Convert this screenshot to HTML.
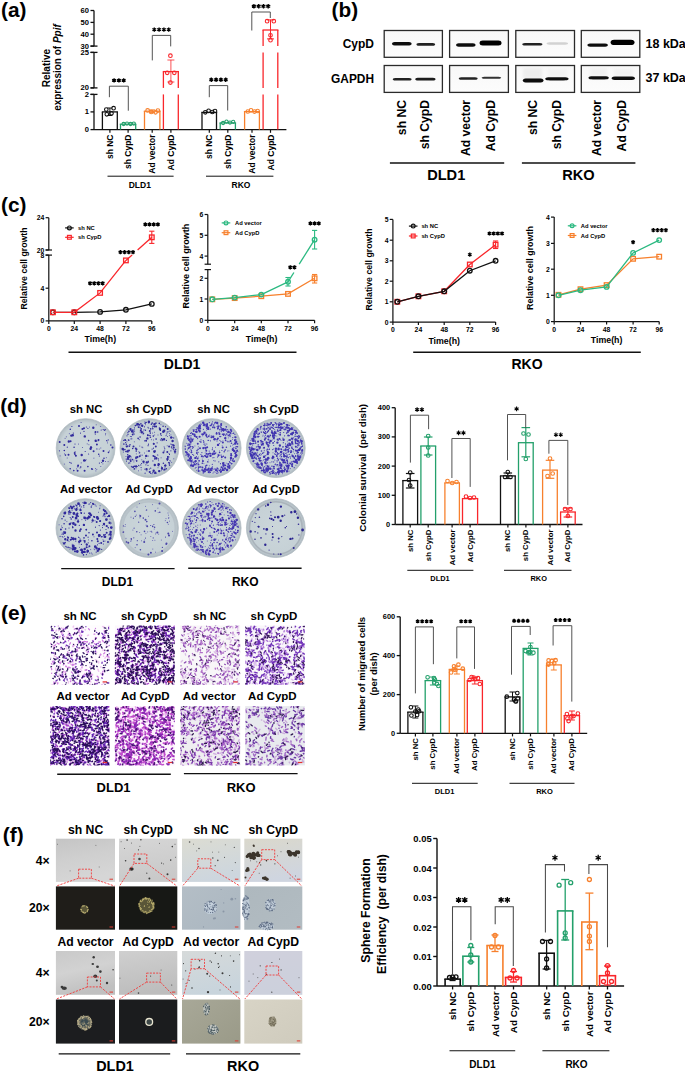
<!DOCTYPE html>
<html><head><meta charset="utf-8"><style>
html,body{margin:0;padding:0;background:#fff;width:685px;height:1073px;overflow:hidden}
svg{display:block}
text{font-family:"Liberation Sans", sans-serif}
</style></head><body>
<svg width="685" height="1073" viewBox="0 0 685 1073">
<rect width="685" height="1073" fill="#fff"/>
<text x="1" y="9.4" font-size="20.8" font-weight="bold" dominant-baseline="central">(a)</text>
<text x="331.6" y="9.3" font-size="20.8" font-weight="bold" dominant-baseline="central">(b)</text>
<text x="1" y="204.6" font-size="20.8" font-weight="bold" dominant-baseline="central">(c)</text>
<text x="0.2" y="405" font-size="20.8" font-weight="bold" dominant-baseline="central">(d)</text>
<text x="1" y="612.4" font-size="20.8" font-weight="bold" dominant-baseline="central">(e)</text>
<text x="2.8" y="834.8" font-size="20.8" font-weight="bold" dominant-baseline="central">(f)</text>
<line x1="94" y1="10.5" x2="94" y2="46.1" stroke="#111" stroke-width="1.3"/>
<line x1="94" y1="52.4" x2="94" y2="87.9" stroke="#111" stroke-width="1.3"/>
<line x1="94" y1="94.4" x2="94" y2="129.6" stroke="#111" stroke-width="1.3"/>
<line x1="90.5" y1="10.5" x2="94" y2="10.5" stroke="#111" stroke-width="1.3"/>
<text x="89" y="10.5" font-size="7.6" text-anchor="end" font-weight="bold" fill="#000" dominant-baseline="central">60</text>
<line x1="90.5" y1="22.4" x2="94" y2="22.4" stroke="#111" stroke-width="1.3"/>
<text x="89" y="22.4" font-size="7.6" text-anchor="end" font-weight="bold" fill="#000" dominant-baseline="central">50</text>
<line x1="90.5" y1="34.2" x2="94" y2="34.2" stroke="#111" stroke-width="1.3"/>
<text x="89" y="34.2" font-size="7.6" text-anchor="end" font-weight="bold" fill="#000" dominant-baseline="central">40</text>
<line x1="90.5" y1="46.1" x2="94" y2="46.1" stroke="#111" stroke-width="1.3"/>
<text x="89" y="46.1" font-size="7.6" text-anchor="end" font-weight="bold" fill="#000" dominant-baseline="central">30</text>
<line x1="90.5" y1="52.4" x2="94" y2="52.4" stroke="#111" stroke-width="1.3"/>
<text x="89" y="52.4" font-size="7.6" text-anchor="end" font-weight="bold" fill="#000" dominant-baseline="central">25</text>
<line x1="90.5" y1="87.9" x2="94" y2="87.9" stroke="#111" stroke-width="1.3"/>
<text x="89" y="87.9" font-size="7.6" text-anchor="end" font-weight="bold" fill="#000" dominant-baseline="central">20</text>
<line x1="90.5" y1="94.4" x2="94" y2="94.4" stroke="#111" stroke-width="1.3"/>
<text x="89" y="94.4" font-size="7.6" text-anchor="end" font-weight="bold" fill="#000" dominant-baseline="central">2</text>
<line x1="90.5" y1="111.9" x2="94" y2="111.9" stroke="#111" stroke-width="1.3"/>
<text x="89" y="111.9" font-size="7.6" text-anchor="end" font-weight="bold" fill="#000" dominant-baseline="central">1</text>
<line x1="90.5" y1="129.6" x2="94" y2="129.6" stroke="#111" stroke-width="1.3"/>
<text x="89" y="129.6" font-size="7.6" text-anchor="end" font-weight="bold" fill="#000" dominant-baseline="central">0</text>
<line x1="90.5" y1="46.1" x2="97.5" y2="46.1" stroke="#111" stroke-width="1.3"/>
<line x1="90.5" y1="52.4" x2="97.5" y2="52.4" stroke="#111" stroke-width="1.3"/>
<line x1="90.5" y1="87.9" x2="97.5" y2="87.9" stroke="#111" stroke-width="1.3"/>
<line x1="90.5" y1="94.4" x2="97.5" y2="94.4" stroke="#111" stroke-width="1.3"/>
<line x1="94" y1="129.6" x2="286.4" y2="129.6" stroke="#111" stroke-width="1.3"/>
<line x1="109.9" y1="129.6" x2="109.9" y2="132.8" stroke="#111" stroke-width="1.2"/>
<line x1="128.1" y1="129.6" x2="128.1" y2="132.8" stroke="#111" stroke-width="1.2"/>
<line x1="152.2" y1="129.6" x2="152.2" y2="132.8" stroke="#111" stroke-width="1.2"/>
<line x1="170.9" y1="129.6" x2="170.9" y2="132.8" stroke="#111" stroke-width="1.2"/>
<line x1="209.3" y1="129.6" x2="209.3" y2="132.8" stroke="#111" stroke-width="1.2"/>
<line x1="227.8" y1="129.6" x2="227.8" y2="132.8" stroke="#111" stroke-width="1.2"/>
<line x1="252" y1="129.6" x2="252" y2="132.8" stroke="#111" stroke-width="1.2"/>
<line x1="270.5" y1="129.6" x2="270.5" y2="132.8" stroke="#111" stroke-width="1.2"/>
<line x1="101.8" y1="111.9" x2="118" y2="111.9" stroke="#111" stroke-width="1.3"/>
<line x1="102.4" y1="111.9" x2="102.4" y2="129.6" stroke="#111" stroke-width="1.3"/>
<line x1="117.3" y1="111.9" x2="117.3" y2="129.6" stroke="#111" stroke-width="1.3"/>
<line x1="119.8" y1="124.2" x2="136.3" y2="124.2" stroke="#23a06b" stroke-width="1.3"/>
<line x1="120.5" y1="124.2" x2="120.5" y2="129.6" stroke="#23a06b" stroke-width="1.3"/>
<line x1="135.7" y1="124.2" x2="135.7" y2="129.6" stroke="#23a06b" stroke-width="1.3"/>
<line x1="143.8" y1="111.2" x2="160.6" y2="111.2" stroke="#f7802d" stroke-width="1.3"/>
<line x1="144.5" y1="111.2" x2="144.5" y2="129.6" stroke="#f7802d" stroke-width="1.3"/>
<line x1="159.9" y1="111.2" x2="159.9" y2="129.6" stroke="#f7802d" stroke-width="1.3"/>
<line x1="162.8" y1="71.6" x2="179" y2="71.6" stroke="#f9262b" stroke-width="1.3"/>
<line x1="163.4" y1="71.6" x2="163.4" y2="87.9" stroke="#f9262b" stroke-width="1.3"/>
<line x1="178.3" y1="71.6" x2="178.3" y2="87.9" stroke="#f9262b" stroke-width="1.3"/>
<line x1="163.4" y1="94.4" x2="163.4" y2="129.6" stroke="#f9262b" stroke-width="1.3"/>
<line x1="178.3" y1="94.4" x2="178.3" y2="129.6" stroke="#f9262b" stroke-width="1.3"/>
<line x1="201.3" y1="112.4" x2="217.2" y2="112.4" stroke="#111" stroke-width="1.3"/>
<line x1="202" y1="112.4" x2="202" y2="129.6" stroke="#111" stroke-width="1.3"/>
<line x1="216.5" y1="112.4" x2="216.5" y2="129.6" stroke="#111" stroke-width="1.3"/>
<line x1="219.5" y1="122.9" x2="236.1" y2="122.9" stroke="#23a06b" stroke-width="1.3"/>
<line x1="220.2" y1="122.9" x2="220.2" y2="129.6" stroke="#23a06b" stroke-width="1.3"/>
<line x1="235.4" y1="122.9" x2="235.4" y2="129.6" stroke="#23a06b" stroke-width="1.3"/>
<line x1="243.9" y1="111.6" x2="260" y2="111.6" stroke="#f7802d" stroke-width="1.3"/>
<line x1="244.6" y1="111.6" x2="244.6" y2="129.6" stroke="#f7802d" stroke-width="1.3"/>
<line x1="259.4" y1="111.6" x2="259.4" y2="129.6" stroke="#f7802d" stroke-width="1.3"/>
<line x1="262.5" y1="30" x2="278.4" y2="30" stroke="#f9262b" stroke-width="1.3"/>
<line x1="263.1" y1="30" x2="263.1" y2="46.1" stroke="#f9262b" stroke-width="1.3"/>
<line x1="277.8" y1="30" x2="277.8" y2="46.1" stroke="#f9262b" stroke-width="1.3"/>
<line x1="263.1" y1="52.4" x2="263.1" y2="87.9" stroke="#f9262b" stroke-width="1.3"/>
<line x1="277.8" y1="52.4" x2="277.8" y2="87.9" stroke="#f9262b" stroke-width="1.3"/>
<line x1="263.1" y1="94.4" x2="263.1" y2="129.6" stroke="#f9262b" stroke-width="1.3"/>
<line x1="277.8" y1="94.4" x2="277.8" y2="129.6" stroke="#f9262b" stroke-width="1.3"/>
<line x1="109.9" y1="108" x2="109.9" y2="115.5" stroke="#111" stroke-width="1"/>
<line x1="107.4" y1="108" x2="112.4" y2="108" stroke="#111" stroke-width="1"/>
<line x1="107.4" y1="115.5" x2="112.4" y2="115.5" stroke="#111" stroke-width="1"/>
<circle cx="106.3" cy="109.6" r="1.8" fill="none" stroke="#111" stroke-width="1.1"/>
<circle cx="113.6" cy="108.2" r="1.8" fill="none" stroke="#111" stroke-width="1.1"/>
<circle cx="106.8" cy="114.3" r="1.8" fill="none" stroke="#111" stroke-width="1.1"/>
<circle cx="111.5" cy="113.3" r="1.8" fill="none" stroke="#111" stroke-width="1.1"/>
<circle cx="123.6" cy="124" r="1.6" fill="none" stroke="#23a06b" stroke-width="1.1"/>
<circle cx="127" cy="123.6" r="1.6" fill="none" stroke="#23a06b" stroke-width="1.1"/>
<circle cx="130.5" cy="124" r="1.6" fill="none" stroke="#23a06b" stroke-width="1.1"/>
<circle cx="133.8" cy="123.6" r="1.6" fill="none" stroke="#23a06b" stroke-width="1.1"/>
<line x1="152.2" y1="109.9" x2="152.2" y2="112.6" stroke="#f7802d" stroke-width="1"/>
<line x1="149.2" y1="109.9" x2="155.2" y2="109.9" stroke="#f7802d" stroke-width="1"/>
<line x1="149.2" y1="112.6" x2="155.2" y2="112.6" stroke="#f7802d" stroke-width="1"/>
<circle cx="147.6" cy="110.4" r="1.8" fill="none" stroke="#f7802d" stroke-width="1.1"/>
<circle cx="151.2" cy="112" r="1.8" fill="none" stroke="#f7802d" stroke-width="1.1"/>
<circle cx="155.5" cy="112.3" r="1.8" fill="none" stroke="#f7802d" stroke-width="1.1"/>
<circle cx="157.9" cy="110.6" r="1.8" fill="none" stroke="#f7802d" stroke-width="1.1"/>
<line x1="170.9" y1="60" x2="170.9" y2="82" stroke="#f9262b" stroke-width="0.8"/>
<line x1="167.4" y1="60" x2="174.4" y2="60" stroke="#f9262b" stroke-width="0.8"/>
<line x1="167.4" y1="82" x2="174.4" y2="82" stroke="#f9262b" stroke-width="0.8"/>
<circle cx="170.4" cy="55.7" r="1.8" fill="none" stroke="#f9262b" stroke-width="1.1"/>
<circle cx="167.2" cy="72.8" r="1.8" fill="none" stroke="#f9262b" stroke-width="1.1"/>
<circle cx="174.3" cy="72.8" r="1.8" fill="none" stroke="#f9262b" stroke-width="1.1"/>
<circle cx="170.4" cy="82.6" r="1.8" fill="none" stroke="#f9262b" stroke-width="1.1"/>
<circle cx="205.3" cy="112.3" r="1.8" fill="none" stroke="#111" stroke-width="1.1"/>
<circle cx="208.6" cy="110.8" r="1.8" fill="none" stroke="#111" stroke-width="1.1"/>
<circle cx="212.3" cy="112" r="1.8" fill="none" stroke="#111" stroke-width="1.1"/>
<circle cx="215" cy="111" r="1.8" fill="none" stroke="#111" stroke-width="1.1"/>
<circle cx="223.1" cy="123" r="1.6" fill="none" stroke="#23a06b" stroke-width="1.1"/>
<circle cx="226.5" cy="121.6" r="1.6" fill="none" stroke="#23a06b" stroke-width="1.1"/>
<circle cx="230" cy="122.6" r="1.6" fill="none" stroke="#23a06b" stroke-width="1.1"/>
<circle cx="233.2" cy="121.8" r="1.6" fill="none" stroke="#23a06b" stroke-width="1.1"/>
<circle cx="247.8" cy="111.5" r="1.8" fill="none" stroke="#f7802d" stroke-width="1.1"/>
<circle cx="251" cy="110.3" r="1.8" fill="none" stroke="#f7802d" stroke-width="1.1"/>
<circle cx="254.5" cy="111.6" r="1.8" fill="none" stroke="#f7802d" stroke-width="1.1"/>
<circle cx="257.6" cy="111" r="1.8" fill="none" stroke="#f7802d" stroke-width="1.1"/>
<line x1="270.5" y1="19.9" x2="270.5" y2="38.9" stroke="#f9262b" stroke-width="1"/>
<line x1="267" y1="19.9" x2="274" y2="19.9" stroke="#f9262b" stroke-width="1"/>
<line x1="267" y1="38.9" x2="274" y2="38.9" stroke="#f9262b" stroke-width="1"/>
<circle cx="267.1" cy="21.2" r="1.8" fill="none" stroke="#f9262b" stroke-width="1.1"/>
<circle cx="273.8" cy="21.2" r="1.8" fill="none" stroke="#f9262b" stroke-width="1.1"/>
<circle cx="270.5" cy="35.3" r="1.8" fill="none" stroke="#f9262b" stroke-width="1.1"/>
<circle cx="270.5" cy="40.2" r="1.8" fill="none" stroke="#f9262b" stroke-width="1.1"/>
<polyline points="109.4,97.2 109.4,86.2 128.3,86.2 128.3,110.7" stroke="#4a4a4a" stroke-width="0.95" fill="none"/>
<path d="M114.1 78.2L114.1 82.6M112.1 79.3L116 81.5M116 79.3L112.1 81.5M118.9 78.2L118.9 82.6M116.9 79.3L120.8 81.5M120.8 79.3L116.9 81.5M123.7 78.2L123.7 82.6M121.7 79.3L125.6 81.5M125.6 79.3L121.7 81.5" stroke="#000" stroke-width="1.35" fill="none"/>
<polyline points="152.3,60.4 152.3,35.4 170.7,35.4 170.7,46.4" stroke="#4a4a4a" stroke-width="0.95" fill="none"/>
<path d="M154.3 27.4L154.3 31.8M152.4 28.5L156.2 30.7M156.2 28.5L152.4 30.7M159.1 27.4L159.1 31.8M157.2 28.5L161 30.7M161 28.5L157.2 30.7M163.9 27.4L163.9 31.8M162 28.5L165.8 30.7M165.8 28.5L162 30.7M168.7 27.4L168.7 31.8M166.8 28.5L170.6 30.7M170.6 28.5L166.8 30.7" stroke="#000" stroke-width="1.35" fill="none"/>
<polyline points="209.3,97.2 209.3,85.6 227.7,85.6 227.7,110.5" stroke="#4a4a4a" stroke-width="0.95" fill="none"/>
<path d="M211.3 77.6L211.3 82M209.4 78.7L213.2 80.9M213.2 78.7L209.4 80.9M216.1 77.6L216.1 82M214.2 78.7L218 80.9M218 78.7L214.2 80.9M220.9 77.6L220.9 82M219 78.7L222.8 80.9M222.8 78.7L219 80.9M225.7 77.6L225.7 82M223.8 78.7L227.6 80.9M227.6 78.7L223.8 80.9" stroke="#000" stroke-width="1.35" fill="none"/>
<polyline points="251.8,30.5 251.8,12 270.3,12 270.3,18" stroke="#4a4a4a" stroke-width="0.95" fill="none"/>
<path d="M253.9 4L253.9 8.4M251.9 5.1L255.8 7.3M255.8 5.1L251.9 7.3M258.7 4L258.7 8.4M256.7 5.1L260.6 7.3M260.6 5.1L256.7 7.3M263.5 4L263.5 8.4M261.5 5.1L265.4 7.3M265.4 5.1L261.5 7.3M268.2 4L268.2 8.4M266.3 5.1L270.2 7.3M270.2 5.1L266.3 7.3" stroke="#000" stroke-width="1.35" fill="none"/>
<text x="46" y="68" font-size="10" text-anchor="middle" font-weight="bold" fill="#000" dominant-baseline="central" transform="rotate(-90 46 68)">Relative</text>
<text x="57" y="67.5" font-size="10" text-anchor="middle" font-weight="bold" fill="#000" dominant-baseline="central" transform="rotate(-90 57 67.5)">expression of <tspan font-style="italic">Ppif</tspan></text>
<text x="109.9" y="134.5" font-size="8.5" text-anchor="end" font-weight="bold" fill="#000" dominant-baseline="central" transform="rotate(-90 109.9 134.5)">sh NC</text>
<text x="128.1" y="134.5" font-size="8.5" text-anchor="end" font-weight="bold" fill="#000" dominant-baseline="central" transform="rotate(-90 128.1 134.5)">sh CypD</text>
<text x="152.2" y="134.5" font-size="8.5" text-anchor="end" font-weight="bold" fill="#000" dominant-baseline="central" transform="rotate(-90 152.2 134.5)">Ad vector</text>
<text x="170.9" y="134.5" font-size="8.5" text-anchor="end" font-weight="bold" fill="#000" dominant-baseline="central" transform="rotate(-90 170.9 134.5)">Ad CypD</text>
<text x="209.3" y="134.5" font-size="8.5" text-anchor="end" font-weight="bold" fill="#000" dominant-baseline="central" transform="rotate(-90 209.3 134.5)">sh NC</text>
<text x="227.8" y="134.5" font-size="8.5" text-anchor="end" font-weight="bold" fill="#000" dominant-baseline="central" transform="rotate(-90 227.8 134.5)">sh CypD</text>
<text x="252" y="134.5" font-size="8.5" text-anchor="end" font-weight="bold" fill="#000" dominant-baseline="central" transform="rotate(-90 252 134.5)">Ad vector</text>
<text x="270.5" y="134.5" font-size="8.5" text-anchor="end" font-weight="bold" fill="#000" dominant-baseline="central" transform="rotate(-90 270.5 134.5)">Ad CypD</text>
<line x1="107.5" y1="176.2" x2="173.6" y2="176.2" stroke="#111" stroke-width="1"/>
<line x1="206" y1="176.2" x2="273.4" y2="176.2" stroke="#111" stroke-width="1"/>
<text x="139.8" y="184.5" font-size="8.5" text-anchor="middle" font-weight="bold" fill="#000" dominant-baseline="central">DLD1</text>
<text x="241" y="184.5" font-size="8.5" text-anchor="middle" font-weight="bold" fill="#000" dominant-baseline="central">RKO</text>
<defs><filter id="bl1" x="-20%" y="-100%" width="140%" height="300%"><feGaussianBlur stdDeviation="0.6"/></filter><filter id="bl2" x="-20%" y="-100%" width="140%" height="300%"><feGaussianBlur stdDeviation="1.6"/></filter><linearGradient id="blotbg" x1="0" y1="0" x2="0" y2="1"><stop offset="0" stop-color="#f8f8f8"/><stop offset="1" stop-color="#fcfcfc"/></linearGradient></defs>
<rect x="384.2" y="30.5" width="58.2" height="26.8" fill="url(#blotbg)" stroke="#2a2a2a" stroke-width="1.3"/>
<rect x="449.6" y="30.5" width="58.8" height="26.8" fill="url(#blotbg)" stroke="#2a2a2a" stroke-width="1.3"/>
<rect x="515.8" y="30.5" width="58.7" height="26.8" fill="url(#blotbg)" stroke="#2a2a2a" stroke-width="1.3"/>
<rect x="581.3" y="30.5" width="58.5" height="26.8" fill="url(#blotbg)" stroke="#2a2a2a" stroke-width="1.3"/>
<rect x="384.2" y="65.5" width="58.2" height="26.9" fill="url(#blotbg)" stroke="#2a2a2a" stroke-width="1.3"/>
<rect x="449.6" y="65.5" width="58.8" height="26.9" fill="url(#blotbg)" stroke="#2a2a2a" stroke-width="1.3"/>
<rect x="515.8" y="65.5" width="58.7" height="26.9" fill="url(#blotbg)" stroke="#2a2a2a" stroke-width="1.3"/>
<rect x="581.3" y="65.5" width="58.5" height="26.9" fill="url(#blotbg)" stroke="#2a2a2a" stroke-width="1.3"/>
<rect x="523" y="68" width="19" height="11" fill="#e6e6e6" stroke="none" stroke-width="1" filter="url(#bl2)" opacity="0.6"/>
<rect x="548" y="69" width="19" height="9" fill="#ececec" stroke="none" stroke-width="1" filter="url(#bl2)" opacity="0.5"/>
<rect x="590" y="68" width="17" height="9" fill="#e8e8e8" stroke="none" stroke-width="1" filter="url(#bl2)" opacity="0.5"/>
<rect x="614" y="69" width="19" height="8" fill="#eaeaea" stroke="none" stroke-width="1" filter="url(#bl2)" opacity="0.5"/>
<path d="M391.9 43.8C392.3 42 393.9 42 396.3 42L407.3 42C409.7 42 411.3 42 411.7 43.8C411.3 45.6 409.7 45.6 407.3 45.6L396.3 45.6C393.9 45.6 392.3 45.6 391.9 43.8Z" fill="#111" opacity="1" filter="url(#bl1)"/>
<path d="M416.4 44.4C416.8 43 418.3 43 420.5 43L431.1 43C433.3 43 434.8 43 435.2 44.4C434.8 45.8 433.3 45.8 431.1 45.8L420.5 45.8C418.3 45.8 416.8 45.8 416.4 44.4Z" fill="#222" opacity="1" filter="url(#bl1)"/>
<path d="M456 45C456.4 43.3 458 43.3 460.3 43.3L471.3 43.3C473.6 43.3 475.2 43.3 475.6 45C475.2 46.7 473.6 46.7 471.3 46.7L460.3 46.7C458 46.7 456.4 46.7 456 45Z" fill="#111" opacity="1" filter="url(#bl1)"/>
<path d="M479.5 43C479.9 40.5 481.7 40.5 484.4 40.5L496.7 40.5C499.4 40.5 501.2 40.5 501.6 43C501.2 45.5 499.4 45.5 496.7 45.5L484.4 45.5C481.7 45.5 479.9 45.5 479.5 43Z" fill="#000" opacity="1" filter="url(#bl1)"/>
<path d="M522.2 44.3C522.6 43 524.2 43 526.7 43L538 43C540.5 43 542.1 43 542.5 44.3C542.1 45.6 540.5 45.6 538 45.6L526.7 45.6C524.2 45.6 522.6 45.6 522.2 44.3Z" fill="#222" opacity="1" filter="url(#bl1)"/>
<path d="M546.5 43.5C546.9 42.3 548.7 42.3 551.3 42.3L563.3 42.3C565.9 42.3 567.7 42.3 568.1 43.5C567.7 44.7 565.9 44.7 563.3 44.7L551.3 44.7C548.7 44.7 546.9 44.7 546.5 43.5Z" fill="#d2d2d2" opacity="1" filter="url(#bl1)"/>
<path d="M587.3 45.1C587.7 43.4 589.4 43.4 591.9 43.4L603.4 43.4C605.9 43.4 607.6 43.4 608 45.1C607.6 46.8 605.9 46.8 603.4 46.8L591.9 46.8C589.4 46.8 587.7 46.8 587.3 45.1Z" fill="#111" opacity="1" filter="url(#bl1)"/>
<path d="M610.5 42.4C611 39.8 612.9 39.8 615.8 39.8L629.3 39.8C632.2 39.8 634.1 39.8 634.6 42.4C634.1 45 632.2 45 629.3 45L615.8 45C612.9 45 611 45 610.5 42.4Z" fill="#000" opacity="1" filter="url(#bl1)"/>
<path d="M392.7 79.2C393.1 77.9 394.6 77.9 396.9 77.9L407.5 77.9C409.8 77.9 411.3 77.9 411.7 79.2C411.3 80.5 409.8 80.5 407.5 80.5L396.9 80.5C394.6 80.5 393.1 80.5 392.7 79.2Z" fill="#222" opacity="1" filter="url(#bl1)"/>
<path d="M415.2 79.2C415.6 77.8 417.2 77.8 419.7 77.8L431.1 77.8C433.6 77.8 435.2 77.8 435.6 79.2C435.2 80.6 433.6 80.6 431.1 80.6L419.7 80.6C417.2 80.6 415.6 80.6 415.2 79.2Z" fill="#1a1a1a" opacity="1" filter="url(#bl1)"/>
<path d="M458.7 78.5C459.1 77.2 460.6 77.2 462.9 77.2L473.5 77.2C475.8 77.2 477.3 77.2 477.7 78.5C477.3 79.8 475.8 79.8 473.5 79.8L462.9 79.8C460.6 79.8 459.1 79.8 458.7 78.5Z" fill="#222" opacity="1" filter="url(#bl1)"/>
<path d="M481.6 77.8C482 76.8 483.6 76.8 485.9 76.8L496.9 76.8C499.2 76.8 500.8 76.8 501.2 77.8C500.8 78.8 499.2 78.8 496.9 78.8L485.9 78.8C483.6 78.8 482 78.8 481.6 77.8Z" fill="#333" opacity="1" filter="url(#bl1)"/>
<path d="M522.8 80.6C523.2 78.6 524.9 78.6 527.4 78.6L538.9 78.6C541.4 78.6 543.1 78.6 543.5 80.6C543.1 82.6 541.4 82.6 538.9 82.6L527.4 82.6C524.9 82.6 523.2 82.6 522.8 80.6Z" fill="#0a0a0a" opacity="1" filter="url(#bl1)"/>
<path d="M545.1 78.8C545.6 77.2 547.5 77.2 550.3 77.2L563.5 77.2C566.3 77.2 568.2 77.2 568.7 78.8C568.2 80.4 566.3 80.4 563.5 80.4L550.3 80.4C547.5 80.4 545.6 80.4 545.1 78.8Z" fill="#111" opacity="1" filter="url(#bl1)"/>
<path d="M588.4 77.8C588.8 76.2 590.4 76.2 592.9 76.2L604.4 76.2C606.9 76.2 608.5 76.2 608.9 77.8C608.5 79.4 606.9 79.4 604.4 79.4L592.9 79.4C590.4 79.4 588.8 79.4 588.4 77.8Z" fill="#111" opacity="1" filter="url(#bl1)"/>
<path d="M611.5 78.2C612 76.5 613.9 76.5 616.7 76.5L629.9 76.5C632.7 76.5 634.6 76.5 635.1 78.2C634.6 79.9 632.7 79.9 629.9 79.9L616.7 79.9C613.9 79.9 612 79.9 611.5 78.2Z" fill="#111" opacity="1" filter="url(#bl1)"/>
<text x="374" y="43.6" font-size="12" text-anchor="end" font-weight="bold" fill="#000" dominant-baseline="central">CypD</text>
<text x="374" y="78.6" font-size="11.9" text-anchor="end" font-weight="bold" fill="#000" dominant-baseline="central">GAPDH</text>
<text x="645.5" y="43.6" font-size="12.5" text-anchor="start" font-weight="bold" fill="#000" dominant-baseline="central">18 kDa</text>
<text x="645.5" y="77.8" font-size="12.5" text-anchor="start" font-weight="bold" fill="#000" dominant-baseline="central">37 kDa</text>
<text x="401.7" y="99.9" font-size="12.2" text-anchor="end" font-weight="bold" fill="#000" dominant-baseline="central" transform="rotate(-90 401.7 99.9)">sh NC</text>
<text x="425.3" y="99.9" font-size="12.2" text-anchor="end" font-weight="bold" fill="#000" dominant-baseline="central" transform="rotate(-90 425.3 99.9)">sh CypD</text>
<text x="466" y="99.9" font-size="12.2" text-anchor="end" font-weight="bold" fill="#000" dominant-baseline="central" transform="rotate(-90 466 99.9)">Ad vector</text>
<text x="491" y="99.9" font-size="12.2" text-anchor="end" font-weight="bold" fill="#000" dominant-baseline="central" transform="rotate(-90 491 99.9)">Ad CypD</text>
<text x="533" y="99.9" font-size="12.2" text-anchor="end" font-weight="bold" fill="#000" dominant-baseline="central" transform="rotate(-90 533 99.9)">sh NC</text>
<text x="557.4" y="99.9" font-size="12.2" text-anchor="end" font-weight="bold" fill="#000" dominant-baseline="central" transform="rotate(-90 557.4 99.9)">sh CypD</text>
<text x="596.8" y="99.9" font-size="12.2" text-anchor="end" font-weight="bold" fill="#000" dominant-baseline="central" transform="rotate(-90 596.8 99.9)">Ad vector</text>
<text x="622.4" y="99.9" font-size="12.2" text-anchor="end" font-weight="bold" fill="#000" dominant-baseline="central" transform="rotate(-90 622.4 99.9)">Ad CypD</text>
<line x1="389.9" y1="162.9" x2="504.2" y2="162.9" stroke="#111" stroke-width="1.5"/>
<line x1="521.9" y1="162.9" x2="635.4" y2="162.9" stroke="#111" stroke-width="1.5"/>
<text x="446.2" y="174.7" font-size="14.6" text-anchor="middle" font-weight="bold" fill="#000" dominant-baseline="central">DLD1</text>
<text x="578.5" y="174.7" font-size="14.6" text-anchor="middle" font-weight="bold" fill="#000" dominant-baseline="central">RKO</text>
<line x1="48.8" y1="217.7" x2="48.8" y2="250" stroke="#111" stroke-width="1.2"/>
<line x1="48.8" y1="255.1" x2="48.8" y2="320.9" stroke="#111" stroke-width="1.2"/>
<line x1="45.6" y1="217.7" x2="48.8" y2="217.7" stroke="#111" stroke-width="1.2"/>
<text x="44.4" y="217.7" font-size="6.8" text-anchor="end" font-weight="bold" fill="#000" dominant-baseline="central">24</text>
<line x1="45.6" y1="250" x2="48.8" y2="250" stroke="#111" stroke-width="1.2"/>
<text x="44.4" y="250" font-size="6.8" text-anchor="end" font-weight="bold" fill="#000" dominant-baseline="central">20</text>
<line x1="45.6" y1="255.1" x2="48.8" y2="255.1" stroke="#111" stroke-width="1.2"/>
<text x="44.4" y="255.1" font-size="6.8" text-anchor="end" font-weight="bold" fill="#000" dominant-baseline="central">8</text>
<line x1="45.6" y1="288.2" x2="48.8" y2="288.2" stroke="#111" stroke-width="1.2"/>
<text x="44.4" y="288.2" font-size="6.8" text-anchor="end" font-weight="bold" fill="#000" dominant-baseline="central">4</text>
<line x1="45.6" y1="320.9" x2="48.8" y2="320.9" stroke="#111" stroke-width="1.2"/>
<text x="44.4" y="320.9" font-size="6.8" text-anchor="end" font-weight="bold" fill="#000" dominant-baseline="central">0</text>
<line x1="48.8" y1="320.9" x2="151.8" y2="320.9" stroke="#111" stroke-width="1.2"/>
<line x1="48.8" y1="320.9" x2="48.8" y2="323.9" stroke="#111" stroke-width="1.2"/>
<text x="48.8" y="328.7" font-size="6.8" text-anchor="middle" font-weight="bold" fill="#000" dominant-baseline="central">0</text>
<line x1="74.3" y1="320.9" x2="74.3" y2="323.9" stroke="#111" stroke-width="1.2"/>
<text x="74.3" y="328.7" font-size="6.8" text-anchor="middle" font-weight="bold" fill="#000" dominant-baseline="central">24</text>
<line x1="100.1" y1="320.9" x2="100.1" y2="323.9" stroke="#111" stroke-width="1.2"/>
<text x="100.1" y="328.7" font-size="6.8" text-anchor="middle" font-weight="bold" fill="#000" dominant-baseline="central">48</text>
<line x1="125.9" y1="320.9" x2="125.9" y2="323.9" stroke="#111" stroke-width="1.2"/>
<text x="125.9" y="328.7" font-size="6.8" text-anchor="middle" font-weight="bold" fill="#000" dominant-baseline="central">72</text>
<line x1="151.8" y1="320.9" x2="151.8" y2="323.9" stroke="#111" stroke-width="1.2"/>
<text x="151.8" y="328.7" font-size="6.8" text-anchor="middle" font-weight="bold" fill="#000" dominant-baseline="central">96</text>
<polyline points="52.9,312.3 74.3,312.3 100.1,311.9 125.9,309.8 151.8,303.9" stroke="#111" stroke-width="1.3" fill="none"/>
<circle cx="52.9" cy="312.3" r="2.3" fill="none" stroke="#111" stroke-width="1.3"/>
<circle cx="74.3" cy="312.3" r="2.3" fill="none" stroke="#111" stroke-width="1.3"/>
<circle cx="100.1" cy="311.9" r="2.3" fill="none" stroke="#111" stroke-width="1.3"/>
<circle cx="125.9" cy="309.8" r="2.3" fill="none" stroke="#111" stroke-width="1.3"/>
<circle cx="151.8" cy="303.9" r="2.3" fill="none" stroke="#111" stroke-width="1.3"/>
<polyline points="52.9,312.3 74.3,312.3 100.1,292.9 125.9,260.4" stroke="#f9262b" stroke-width="1.3" fill="none"/>
<polyline points="125.9,260.4 132.1,254.9" stroke="#f9262b" stroke-width="1.3" fill="none"/>
<polyline points="137.6,250 151.8,237.3" stroke="#f9262b" stroke-width="1.3" fill="none"/>
<line x1="151.8" y1="231.2" x2="151.8" y2="243.4" stroke="#f9262b" stroke-width="1.1"/>
<line x1="149.2" y1="231.2" x2="154.4" y2="231.2" stroke="#f9262b" stroke-width="1.1"/>
<line x1="149.2" y1="243.4" x2="154.4" y2="243.4" stroke="#f9262b" stroke-width="1.1"/>
<rect x="50.6" y="310" width="4.6" height="4.6" fill="none" stroke="#f9262b" stroke-width="1.3"/>
<rect x="72" y="310" width="4.6" height="4.6" fill="none" stroke="#f9262b" stroke-width="1.3"/>
<rect x="97.8" y="290.6" width="4.6" height="4.6" fill="none" stroke="#f9262b" stroke-width="1.3"/>
<rect x="123.6" y="258.1" width="4.6" height="4.6" fill="none" stroke="#f9262b" stroke-width="1.3"/>
<rect x="149.5" y="235" width="4.6" height="4.6" fill="none" stroke="#f9262b" stroke-width="1.3"/>
<line x1="65.1" y1="227.9" x2="73.7" y2="227.9" stroke="#111" stroke-width="1.2"/>
<circle cx="69.4" cy="227.9" r="1.9" fill="none" stroke="#111" stroke-width="1.2"/>
<text x="78" y="227.9" font-size="5.8" text-anchor="start" font-weight="bold" fill="#000" dominant-baseline="central">sh NC</text>
<line x1="65.1" y1="237.3" x2="73.7" y2="237.3" stroke="#f9262b" stroke-width="1.2"/>
<rect x="67.5" y="235.4" width="3.8" height="3.8" fill="none" stroke="#f9262b" stroke-width="1.2"/>
<text x="78" y="237.3" font-size="5.8" text-anchor="start" font-weight="bold" fill="#000" dominant-baseline="central">sh CypD</text>
<path d="M90.1 281.2L90.1 285.4M88.3 282.2L91.9 284.4M91.9 282.2L88.3 284.4M94.3 281.2L94.3 285.4M92.5 282.2L96.1 284.4M96.1 282.2L92.5 284.4M98.5 281.2L98.5 285.4M96.7 282.2L100.3 284.4M100.3 282.2L96.7 284.4M102.7 281.2L102.7 285.4M100.9 282.2L104.5 284.4M104.5 282.2L100.9 284.4" stroke="#000" stroke-width="1.35" fill="none"/>
<path d="M120.4 250.1L120.4 254.3M118.6 251.1L122.2 253.2M122.2 251.1L118.6 253.2M124.6 250.1L124.6 254.3M122.8 251.1L126.4 253.2M126.4 251.1L122.8 253.2M128.8 250.1L128.8 254.3M127 251.1L130.6 253.2M130.6 251.1L127 253.2M133 250.1L133 254.3M131.2 251.1L134.8 253.2M134.8 251.1L131.2 253.2" stroke="#000" stroke-width="1.35" fill="none"/>
<path d="M145.3 222.3L145.3 226.5M143.5 223.3L147.1 225.5M147.1 223.3L143.5 225.5M149.5 222.3L149.5 226.5M147.7 223.3L151.3 225.5M151.3 223.3L147.7 225.5M153.7 222.3L153.7 226.5M151.9 223.3L155.5 225.5M155.5 223.3L151.9 225.5M157.9 222.3L157.9 226.5M156.1 223.3L159.7 225.5M159.7 223.3L156.1 225.5" stroke="#000" stroke-width="1.35" fill="none"/>
<text x="100.3" y="339.4" font-size="8.8" text-anchor="middle" font-weight="bold" fill="#000" dominant-baseline="central">Time(h)</text>
<text x="24" y="268.5" font-size="8.75" text-anchor="middle" font-weight="bold" fill="#000" dominant-baseline="central" transform="rotate(-90 24 268.5)">Relative cell growth</text>
<line x1="45.6" y1="250" x2="52" y2="250" stroke="#111" stroke-width="1.2"/>
<line x1="45.6" y1="255.1" x2="52" y2="255.1" stroke="#111" stroke-width="1.2"/>
<line x1="207.8" y1="214.5" x2="207.8" y2="264.2" stroke="#111" stroke-width="1.2"/>
<line x1="207.8" y1="269.6" x2="207.8" y2="320.3" stroke="#111" stroke-width="1.2"/>
<line x1="204.6" y1="214.5" x2="207.8" y2="214.5" stroke="#111" stroke-width="1.2"/>
<text x="203.4" y="214.5" font-size="6.8" text-anchor="end" font-weight="bold" fill="#000" dominant-baseline="central">6</text>
<line x1="204.6" y1="235.3" x2="207.8" y2="235.3" stroke="#111" stroke-width="1.2"/>
<text x="203.4" y="235.3" font-size="6.8" text-anchor="end" font-weight="bold" fill="#000" dominant-baseline="central">5</text>
<line x1="204.6" y1="256.1" x2="207.8" y2="256.1" stroke="#111" stroke-width="1.2"/>
<text x="203.4" y="256.1" font-size="6.8" text-anchor="end" font-weight="bold" fill="#000" dominant-baseline="central">4</text>
<line x1="204.6" y1="278.3" x2="207.8" y2="278.3" stroke="#111" stroke-width="1.2"/>
<text x="203.4" y="278.3" font-size="6.8" text-anchor="end" font-weight="bold" fill="#000" dominant-baseline="central">2</text>
<line x1="204.6" y1="299" x2="207.8" y2="299" stroke="#111" stroke-width="1.2"/>
<text x="203.4" y="299" font-size="6.8" text-anchor="end" font-weight="bold" fill="#000" dominant-baseline="central">1</text>
<line x1="204.6" y1="320.3" x2="207.8" y2="320.3" stroke="#111" stroke-width="1.2"/>
<text x="203.4" y="320.3" font-size="6.8" text-anchor="end" font-weight="bold" fill="#000" dominant-baseline="central">0</text>
<line x1="207.8" y1="320.3" x2="314.6" y2="320.3" stroke="#111" stroke-width="1.2"/>
<line x1="207.8" y1="320.3" x2="207.8" y2="323.3" stroke="#111" stroke-width="1.2"/>
<text x="207.8" y="328.1" font-size="6.8" text-anchor="middle" font-weight="bold" fill="#000" dominant-baseline="central">0</text>
<line x1="234.7" y1="320.3" x2="234.7" y2="323.3" stroke="#111" stroke-width="1.2"/>
<text x="234.7" y="328.1" font-size="6.8" text-anchor="middle" font-weight="bold" fill="#000" dominant-baseline="central">24</text>
<line x1="261.3" y1="320.3" x2="261.3" y2="323.3" stroke="#111" stroke-width="1.2"/>
<text x="261.3" y="328.1" font-size="6.8" text-anchor="middle" font-weight="bold" fill="#000" dominant-baseline="central">48</text>
<line x1="288" y1="320.3" x2="288" y2="323.3" stroke="#111" stroke-width="1.2"/>
<text x="288" y="328.1" font-size="6.8" text-anchor="middle" font-weight="bold" fill="#000" dominant-baseline="central">72</text>
<line x1="314.6" y1="320.3" x2="314.6" y2="323.3" stroke="#111" stroke-width="1.2"/>
<text x="314.6" y="328.1" font-size="6.8" text-anchor="middle" font-weight="bold" fill="#000" dominant-baseline="central">96</text>
<polyline points="212.3,299.3 234.7,298.1 261.3,296.2 288,293.9 314.6,278.3" stroke="#f7802d" stroke-width="1.3" fill="none"/>
<line x1="314.6" y1="274.5" x2="314.6" y2="283" stroke="#f7802d" stroke-width="1.1"/>
<line x1="312" y1="274.5" x2="317.2" y2="274.5" stroke="#f7802d" stroke-width="1.1"/>
<line x1="312" y1="283" x2="317.2" y2="283" stroke="#f7802d" stroke-width="1.1"/>
<rect x="210" y="297" width="4.6" height="4.6" fill="none" stroke="#f7802d" stroke-width="1.3"/>
<rect x="232.4" y="295.8" width="4.6" height="4.6" fill="none" stroke="#f7802d" stroke-width="1.3"/>
<rect x="259" y="293.9" width="4.6" height="4.6" fill="none" stroke="#f7802d" stroke-width="1.3"/>
<rect x="285.7" y="291.6" width="4.6" height="4.6" fill="none" stroke="#f7802d" stroke-width="1.3"/>
<rect x="312.3" y="276" width="4.6" height="4.6" fill="none" stroke="#f7802d" stroke-width="1.3"/>
<polyline points="212.3,299.3 234.7,297.6 261.3,294.6 288,281.8" stroke="#2bb981" stroke-width="1.3" fill="none"/>
<polyline points="288,281.8 293.9,272.5" stroke="#2bb981" stroke-width="1.3" fill="none"/>
<polyline points="299.2,264.1 314.6,239.7" stroke="#2bb981" stroke-width="1.3" fill="none"/>
<line x1="288" y1="277.5" x2="288" y2="286" stroke="#2bb981" stroke-width="1.1"/>
<line x1="285.4" y1="277.5" x2="290.6" y2="277.5" stroke="#2bb981" stroke-width="1.1"/>
<line x1="285.4" y1="286" x2="290.6" y2="286" stroke="#2bb981" stroke-width="1.1"/>
<line x1="314.6" y1="230.4" x2="314.6" y2="249" stroke="#2bb981" stroke-width="1.1"/>
<line x1="312" y1="230.4" x2="317.2" y2="230.4" stroke="#2bb981" stroke-width="1.1"/>
<line x1="312" y1="249" x2="317.2" y2="249" stroke="#2bb981" stroke-width="1.1"/>
<circle cx="212.3" cy="299.3" r="2.3" fill="none" stroke="#2bb981" stroke-width="1.3"/>
<circle cx="234.7" cy="297.6" r="2.3" fill="none" stroke="#2bb981" stroke-width="1.3"/>
<circle cx="261.3" cy="294.6" r="2.3" fill="none" stroke="#2bb981" stroke-width="1.3"/>
<circle cx="288" cy="281.8" r="2.3" fill="none" stroke="#2bb981" stroke-width="1.3"/>
<circle cx="314.6" cy="239.7" r="2.3" fill="none" stroke="#2bb981" stroke-width="1.3"/>
<line x1="221.7" y1="222.9" x2="230.3" y2="222.9" stroke="#2bb981" stroke-width="1.2"/>
<circle cx="226" cy="222.9" r="1.9" fill="none" stroke="#2bb981" stroke-width="1.2"/>
<text x="235" y="222.9" font-size="5.8" text-anchor="start" font-weight="bold" fill="#000" dominant-baseline="central">Ad vector</text>
<line x1="221.7" y1="232.7" x2="230.3" y2="232.7" stroke="#f7802d" stroke-width="1.2"/>
<rect x="224.1" y="230.8" width="3.8" height="3.8" fill="none" stroke="#f7802d" stroke-width="1.2"/>
<text x="235" y="232.7" font-size="5.8" text-anchor="start" font-weight="bold" fill="#000" dominant-baseline="central">Ad CypD</text>
<path d="M290.3 265.2L290.3 269.4M288.5 266.2L292.1 268.4M292.1 266.2L288.5 268.4M294.5 265.2L294.5 269.4M292.7 266.2L296.3 268.4M296.3 266.2L292.7 268.4" stroke="#000" stroke-width="1.35" fill="none"/>
<path d="M310.4 221.3L310.4 225.5M308.6 222.3L312.2 224.5M312.2 222.3L308.6 224.5M314.6 221.3L314.6 225.5M312.8 222.3L316.4 224.5M316.4 222.3L312.8 224.5M318.8 221.3L318.8 225.5M317 222.3L320.6 224.5M320.6 222.3L317 224.5" stroke="#000" stroke-width="1.35" fill="none"/>
<text x="261.6" y="338.8" font-size="8.8" text-anchor="middle" font-weight="bold" fill="#000" dominant-baseline="central">Time(h)</text>
<text x="186.3" y="266.1" font-size="9.05" text-anchor="middle" font-weight="bold" fill="#000" dominant-baseline="central" transform="rotate(-90 186.3 266.1)">Relative cell growth</text>
<line x1="204.6" y1="264.2" x2="211" y2="264.2" stroke="#111" stroke-width="1.2"/>
<line x1="204.6" y1="269.6" x2="211" y2="269.6" stroke="#111" stroke-width="1.2"/>
<line x1="392.9" y1="219.4" x2="392.9" y2="322.1" stroke="#111" stroke-width="1.2"/>
<line x1="389.7" y1="219.4" x2="392.9" y2="219.4" stroke="#111" stroke-width="1.2"/>
<text x="388.5" y="219.4" font-size="6.8" text-anchor="end" font-weight="bold" fill="#000" dominant-baseline="central">5</text>
<line x1="389.7" y1="240.2" x2="392.9" y2="240.2" stroke="#111" stroke-width="1.2"/>
<text x="388.5" y="240.2" font-size="6.8" text-anchor="end" font-weight="bold" fill="#000" dominant-baseline="central">4</text>
<line x1="389.7" y1="260.8" x2="392.9" y2="260.8" stroke="#111" stroke-width="1.2"/>
<text x="388.5" y="260.8" font-size="6.8" text-anchor="end" font-weight="bold" fill="#000" dominant-baseline="central">3</text>
<line x1="389.7" y1="281.2" x2="392.9" y2="281.2" stroke="#111" stroke-width="1.2"/>
<text x="388.5" y="281.2" font-size="6.8" text-anchor="end" font-weight="bold" fill="#000" dominant-baseline="central">2</text>
<line x1="389.7" y1="301.8" x2="392.9" y2="301.8" stroke="#111" stroke-width="1.2"/>
<text x="388.5" y="301.8" font-size="6.8" text-anchor="end" font-weight="bold" fill="#000" dominant-baseline="central">1</text>
<line x1="389.7" y1="322.1" x2="392.9" y2="322.1" stroke="#111" stroke-width="1.2"/>
<text x="388.5" y="322.1" font-size="6.8" text-anchor="end" font-weight="bold" fill="#000" dominant-baseline="central">0</text>
<line x1="392.9" y1="322.1" x2="495.6" y2="322.1" stroke="#111" stroke-width="1.2"/>
<line x1="392.9" y1="322.1" x2="392.9" y2="325.1" stroke="#111" stroke-width="1.2"/>
<text x="392.9" y="329.9" font-size="6.8" text-anchor="middle" font-weight="bold" fill="#000" dominant-baseline="central">0</text>
<line x1="418.4" y1="322.1" x2="418.4" y2="325.1" stroke="#111" stroke-width="1.2"/>
<text x="418.4" y="329.9" font-size="6.8" text-anchor="middle" font-weight="bold" fill="#000" dominant-baseline="central">24</text>
<line x1="444.2" y1="322.1" x2="444.2" y2="325.1" stroke="#111" stroke-width="1.2"/>
<text x="444.2" y="329.9" font-size="6.8" text-anchor="middle" font-weight="bold" fill="#000" dominant-baseline="central">48</text>
<line x1="469.8" y1="322.1" x2="469.8" y2="325.1" stroke="#111" stroke-width="1.2"/>
<text x="469.8" y="329.9" font-size="6.8" text-anchor="middle" font-weight="bold" fill="#000" dominant-baseline="central">72</text>
<line x1="495.6" y1="322.1" x2="495.6" y2="325.1" stroke="#111" stroke-width="1.2"/>
<text x="495.6" y="329.9" font-size="6.8" text-anchor="middle" font-weight="bold" fill="#000" dominant-baseline="central">96</text>
<polyline points="397.3,301.8 418.4,296.3 444.2,291.3 469.8,264.5 495.6,244.7" stroke="#f9262b" stroke-width="1.3" fill="none"/>
<line x1="495.6" y1="241" x2="495.6" y2="248.5" stroke="#f9262b" stroke-width="1.1"/>
<line x1="493" y1="241" x2="498.2" y2="241" stroke="#f9262b" stroke-width="1.1"/>
<line x1="493" y1="248.5" x2="498.2" y2="248.5" stroke="#f9262b" stroke-width="1.1"/>
<rect x="395" y="299.5" width="4.6" height="4.6" fill="none" stroke="#f9262b" stroke-width="1.3"/>
<rect x="416.1" y="294" width="4.6" height="4.6" fill="none" stroke="#f9262b" stroke-width="1.3"/>
<rect x="441.9" y="289" width="4.6" height="4.6" fill="none" stroke="#f9262b" stroke-width="1.3"/>
<rect x="467.5" y="262.2" width="4.6" height="4.6" fill="none" stroke="#f9262b" stroke-width="1.3"/>
<rect x="493.3" y="242.4" width="4.6" height="4.6" fill="none" stroke="#f9262b" stroke-width="1.3"/>
<polyline points="397.3,301.8 418.4,296.3 444.2,291.3 469.8,270.7 495.6,260.8" stroke="#111" stroke-width="1.3" fill="none"/>
<circle cx="397.3" cy="301.8" r="2.3" fill="none" stroke="#111" stroke-width="1.3"/>
<circle cx="418.4" cy="296.3" r="2.3" fill="none" stroke="#111" stroke-width="1.3"/>
<circle cx="444.2" cy="291.3" r="2.3" fill="none" stroke="#111" stroke-width="1.3"/>
<circle cx="469.8" cy="270.7" r="2.3" fill="none" stroke="#111" stroke-width="1.3"/>
<circle cx="495.6" cy="260.8" r="2.3" fill="none" stroke="#111" stroke-width="1.3"/>
<line x1="408.9" y1="226.1" x2="417.5" y2="226.1" stroke="#111" stroke-width="1.2"/>
<circle cx="413.2" cy="226.1" r="1.9" fill="none" stroke="#111" stroke-width="1.2"/>
<text x="421.4" y="226.1" font-size="5.8" text-anchor="start" font-weight="bold" fill="#000" dominant-baseline="central">sh NC</text>
<line x1="408.9" y1="236" x2="417.5" y2="236" stroke="#f9262b" stroke-width="1.2"/>
<rect x="411.3" y="234.1" width="3.8" height="3.8" fill="none" stroke="#f9262b" stroke-width="1.2"/>
<text x="421.4" y="236" font-size="5.8" text-anchor="start" font-weight="bold" fill="#000" dominant-baseline="central">sh CypD</text>
<path d="M469.8 252.5L469.8 256.7M468 253.5L471.6 255.7M471.6 253.5L468 255.7" stroke="#000" stroke-width="1.35" fill="none"/>
<path d="M489.5 231.4L489.5 235.6M487.7 232.4L491.3 234.6M491.3 232.4L487.7 234.6M493.7 231.4L493.7 235.6M491.9 232.4L495.5 234.6M495.5 232.4L491.9 234.6M497.9 231.4L497.9 235.6M496.1 232.4L499.7 234.6M499.7 232.4L496.1 234.6M502.1 231.4L502.1 235.6M500.3 232.4L503.9 234.6M503.9 232.4L500.3 234.6" stroke="#000" stroke-width="1.35" fill="none"/>
<text x="444.2" y="340.6" font-size="8.8" text-anchor="middle" font-weight="bold" fill="#000" dominant-baseline="central">Time(h)</text>
<text x="369.2" y="269.5" font-size="8.75" text-anchor="middle" font-weight="bold" fill="#000" dominant-baseline="central" transform="rotate(-90 369.2 269.5)">Relative cell growth</text>
<line x1="554.2" y1="217.1" x2="554.2" y2="321.6" stroke="#111" stroke-width="1.2"/>
<line x1="551" y1="217.1" x2="554.2" y2="217.1" stroke="#111" stroke-width="1.2"/>
<text x="549.8" y="217.1" font-size="6.8" text-anchor="end" font-weight="bold" fill="#000" dominant-baseline="central">4</text>
<line x1="551" y1="243.4" x2="554.2" y2="243.4" stroke="#111" stroke-width="1.2"/>
<text x="549.8" y="243.4" font-size="6.8" text-anchor="end" font-weight="bold" fill="#000" dominant-baseline="central">3</text>
<line x1="551" y1="269.2" x2="554.2" y2="269.2" stroke="#111" stroke-width="1.2"/>
<text x="549.8" y="269.2" font-size="6.8" text-anchor="end" font-weight="bold" fill="#000" dominant-baseline="central">2</text>
<line x1="551" y1="295.3" x2="554.2" y2="295.3" stroke="#111" stroke-width="1.2"/>
<text x="549.8" y="295.3" font-size="6.8" text-anchor="end" font-weight="bold" fill="#000" dominant-baseline="central">1</text>
<line x1="551" y1="321.6" x2="554.2" y2="321.6" stroke="#111" stroke-width="1.2"/>
<text x="549.8" y="321.6" font-size="6.8" text-anchor="end" font-weight="bold" fill="#000" dominant-baseline="central">0</text>
<line x1="554.2" y1="321.6" x2="659.2" y2="321.6" stroke="#111" stroke-width="1.2"/>
<line x1="554.2" y1="321.6" x2="554.2" y2="324.6" stroke="#111" stroke-width="1.2"/>
<text x="554.2" y="329.4" font-size="6.8" text-anchor="middle" font-weight="bold" fill="#000" dominant-baseline="central">0</text>
<line x1="580.5" y1="321.6" x2="580.5" y2="324.6" stroke="#111" stroke-width="1.2"/>
<text x="580.5" y="329.4" font-size="6.8" text-anchor="middle" font-weight="bold" fill="#000" dominant-baseline="central">24</text>
<line x1="606.6" y1="321.6" x2="606.6" y2="324.6" stroke="#111" stroke-width="1.2"/>
<text x="606.6" y="329.4" font-size="6.8" text-anchor="middle" font-weight="bold" fill="#000" dominant-baseline="central">48</text>
<line x1="633.1" y1="321.6" x2="633.1" y2="324.6" stroke="#111" stroke-width="1.2"/>
<text x="633.1" y="329.4" font-size="6.8" text-anchor="middle" font-weight="bold" fill="#000" dominant-baseline="central">72</text>
<line x1="659.2" y1="321.6" x2="659.2" y2="324.6" stroke="#111" stroke-width="1.2"/>
<text x="659.2" y="329.4" font-size="6.8" text-anchor="middle" font-weight="bold" fill="#000" dominant-baseline="central">96</text>
<polyline points="558.5,294.8 580.5,289.2 606.6,285.1 633.1,258.8 659.2,256.7" stroke="#f7802d" stroke-width="1.3" fill="none"/>
<rect x="556.2" y="292.5" width="4.6" height="4.6" fill="none" stroke="#f7802d" stroke-width="1.3"/>
<rect x="578.2" y="286.9" width="4.6" height="4.6" fill="none" stroke="#f7802d" stroke-width="1.3"/>
<rect x="604.3" y="282.8" width="4.6" height="4.6" fill="none" stroke="#f7802d" stroke-width="1.3"/>
<rect x="630.8" y="256.5" width="4.6" height="4.6" fill="none" stroke="#f7802d" stroke-width="1.3"/>
<rect x="656.9" y="254.4" width="4.6" height="4.6" fill="none" stroke="#f7802d" stroke-width="1.3"/>
<polyline points="558.5,295.3 580.5,290.2 606.6,286.9 633.1,252.9 659.2,240.1" stroke="#2bb981" stroke-width="1.3" fill="none"/>
<circle cx="558.5" cy="295.3" r="2.3" fill="none" stroke="#2bb981" stroke-width="1.3"/>
<circle cx="580.5" cy="290.2" r="2.3" fill="none" stroke="#2bb981" stroke-width="1.3"/>
<circle cx="606.6" cy="286.9" r="2.3" fill="none" stroke="#2bb981" stroke-width="1.3"/>
<circle cx="633.1" cy="252.9" r="2.3" fill="none" stroke="#2bb981" stroke-width="1.3"/>
<circle cx="659.2" cy="240.1" r="2.3" fill="none" stroke="#2bb981" stroke-width="1.3"/>
<line x1="567.8" y1="225.8" x2="576.4" y2="225.8" stroke="#2bb981" stroke-width="1.2"/>
<circle cx="572.1" cy="225.8" r="1.9" fill="none" stroke="#2bb981" stroke-width="1.2"/>
<text x="580.8" y="225.8" font-size="5.8" text-anchor="start" font-weight="bold" fill="#000" dominant-baseline="central">Ad vector</text>
<line x1="567.8" y1="235.5" x2="576.4" y2="235.5" stroke="#f7802d" stroke-width="1.2"/>
<rect x="570.2" y="233.6" width="3.8" height="3.8" fill="none" stroke="#f7802d" stroke-width="1.2"/>
<text x="580.8" y="235.5" font-size="5.8" text-anchor="start" font-weight="bold" fill="#000" dominant-baseline="central">Ad CypD</text>
<path d="M633.1 240.1L633.1 244.3M631.3 241.1L634.9 243.2M634.9 241.1L631.3 243.2" stroke="#000" stroke-width="1.35" fill="none"/>
<path d="M653.3 228L653.3 232.2M651.5 229L655.1 231.2M655.1 229L651.5 231.2M657.5 228L657.5 232.2M655.7 229L659.3 231.2M659.3 229L655.7 231.2M661.7 228L661.7 232.2M659.9 229L663.5 231.2M663.5 229L659.9 231.2M665.9 228L665.9 232.2M664.1 229L667.7 231.2M667.7 229L664.1 231.2" stroke="#000" stroke-width="1.35" fill="none"/>
<text x="606.6" y="340.1" font-size="8.8" text-anchor="middle" font-weight="bold" fill="#000" dominant-baseline="central">Time(h)</text>
<text x="529.7" y="268" font-size="8.95" text-anchor="middle" font-weight="bold" fill="#000" dominant-baseline="central" transform="rotate(-90 529.7 268)">Relative cell growth</text>
<line x1="68.5" y1="352.3" x2="296.5" y2="352.3" stroke="#111" stroke-width="1.6"/>
<line x1="413.2" y1="352.3" x2="640.8" y2="352.3" stroke="#111" stroke-width="1.6"/>
<text x="182.1" y="364.4" font-size="14" text-anchor="middle" font-weight="bold" fill="#000" dominant-baseline="central">DLD1</text>
<text x="527" y="364.4" font-size="14" text-anchor="middle" font-weight="bold" fill="#000" dominant-baseline="central">RKO</text>
<defs><radialGradient id="dishg" cx="0.5" cy="0.5" r="0.5"><stop offset="0" stop-color="#cbd6da"/><stop offset="0.85" stop-color="#c6d1d6"/><stop offset="0.95" stop-color="#b8c3c9"/><stop offset="1" stop-color="#aab5bc"/></radialGradient></defs>
<defs><filter id="soft2" x="-5%" y="-5%" width="110%" height="110%"><feGaussianBlur stdDeviation="0.3"/></filter></defs><g filter="url(#soft2)">
<circle cx="85.6" cy="448.1" r="29.4" fill="url(#dishg)" stroke="#b4bec4" stroke-width="0.8"/>
<path d="M105.5 461.5h0M69.3 433.7h0M82.4 447.5h0M86.2 459.8h0M64.5 453.9h0M76.6 468.9h0M100.7 426.5h0M64.3 464.1h0M89.4 427.1h0M102.9 463.9h0M84.3 436.4h0M81.2 462.9h0M78.6 444.1h0M95.9 470.9h0M96.2 424.8h0M67.2 458h0M90.7 446.9h0M80 468.1h0M106.3 457.7h0M98 441h0M66.3 436.8h0M107.5 442.9h0M100.8 448h0M95 432.9h0M99.2 449.1h0M92.1 469.3h0M77.3 466.9h0M107.2 441.1h0M75.1 451.5h0M60.1 455.9h0M88.9 444.7h0M65.1 438.4h0M109.4 451h0M93.9 458.2h0M95.4 468.6h0M105.5 434.8h0M81.1 422.5h0M87.2 443.9h0M96.8 469.4h0M100.8 466.5h0M108.1 461.6h0M105.7 433.6h0" stroke="#302a9c" stroke-width="0.8" stroke-linecap="round" fill="none"/>
<path d="M67.3 447.2h0M73.3 433.1h0M95.3 434.1h0M96 441.5h0M75 444h0M101.7 462.5h0M71.2 463.2h0M59.4 450.8h0M85.2 451.5h0M88.6 454h0M99.4 463.1h0M103.2 429.6h0M101.2 430h0M69.9 462.4h0M84 431.4h0M71.9 426.5h0M104.4 430.5h0M92.6 469.2h0M96.9 448.9h0M80.5 433.1h0M86.4 427h0M108.2 439.9h0M99.4 456h0M87.9 428.3h0M106.6 440.6h0M78 466.7h0" stroke="#302a9c" stroke-width="1.2" stroke-linecap="round" fill="none"/>
<path d="M74.1 447.2h0M88.6 440.6h0M98.7 454.3h0M97.7 432h0M110.8 445h0M64.3 450.5h0M70.2 468.7h0M104 458.2h0M105.1 429.7h0M108.5 452.4h0M87.9 466.6h0M73.8 470.6h0M74.9 454.5h0M65.5 455.1h0M91.7 468.9h0M70.3 429.2h0M80.7 467h0" stroke="#302a9c" stroke-width="1.6" stroke-linecap="round" fill="none"/>
<path d="M68.5 454.8h0M112.5 447.4h0M93.6 451.2h0M77.6 470.8h0M75.9 455.7h0M85 460.5h0M96.9 444.4h0M84.6 470.7h0M84 428.3h0M79 426h0M74.7 453.1h0M95.5 431.9h0M78.1 465.4h0M103.5 450.9h0M70.6 441.2h0M59.7 442h0M98.5 439.9h0M82.4 429h0M64.3 445h0" stroke="#302a9c" stroke-width="2" stroke-linecap="round" fill="none"/>
<path d="M68.8 441.5h0M91.1 447.5h0M81.7 455h0M84.1 460.4h0M103 460.8h0M84.8 436.4h0M90.6 448.7h0M71.3 435.6h0M93.3 427.7h0M72.8 435.2h0M95.7 440.8h0" stroke="#302a9c" stroke-width="2.4" stroke-linecap="round" fill="none"/>
<circle cx="149.4" cy="448.1" r="29.4" fill="url(#dishg)" stroke="#b4bec4" stroke-width="0.8"/>
<path d="M140.1 432.1h0M158 435h0M142.8 447.7h0M133.9 461.9h0M134.7 431.1h0M170.9 434.9h0M141.8 459.8h0M160.3 439.6h0M144 429.6h0M140.9 424.8h0M134.3 441.8h0M133.3 432.6h0M133.9 460.2h0M165 467.4h0M136 468.8h0M134.3 466.2h0M149.1 471.9h0M138.6 470.8h0M143.9 463.2h0M159 465.9h0M158 467.7h0M167.4 458.7h0M123.3 452.2h0M126.9 441.8h0M134.1 466h0M136.8 425.5h0M139.6 439.7h0M148.8 428.3h0M132.4 429.6h0M164.4 447.9h0M169.3 462.8h0M138.2 426.6h0M152.1 473.8h0M130.6 459.4h0M161.5 466.8h0M132 467.4h0M160.8 440.5h0M169.5 433.6h0M144.4 469.2h0M139.8 446.1h0M173.6 444.7h0M136.3 453.9h0M147 451.1h0M173.8 458.8h0M169.6 435.6h0M169.1 457h0M138.9 451.7h0M134.3 427.3h0M130.3 436.5h0M126.8 459.3h0M170.4 461h0M162 440.7h0M158.5 460.7h0M168.1 431.7h0M173 448.7h0M159.7 428.3h0M135.1 466.5h0M147 471h0M152.9 472.1h0M144.9 421.8h0M169.8 460.7h0M171.7 462.4h0M126.3 451.3h0M139.2 453.1h0M157.3 454.9h0M129.6 459.8h0M152.4 427.7h0M133.8 433.5h0M131.3 457h0M130.2 456.1h0M151.5 439.7h0M143.3 431h0M166.4 435h0M133 432.3h0M136 460.1h0M140 426.1h0M136.8 460.5h0M127.5 450.3h0M134.4 428.2h0M141.5 428.8h0M164.1 446.8h0M164.1 431.6h0M160.9 424.7h0M133.2 431.3h0M148 427.3h0M130.8 438.9h0M138.5 438.9h0M129.1 440.3h0M156.4 473.3h0M132.6 467.3h0M156.4 458.7h0M167.9 432h0M137.6 466.5h0M156.4 423.3h0M167.2 445.8h0M165.9 435.7h0M161.3 470.7h0M157.9 455.2h0M134.2 431.8h0M167.5 436.5h0M155.3 423.8h0M126 446h0M152.6 433.1h0M148.2 461h0M171.9 448.7h0M161.1 457.8h0M131.6 431h0M145.6 458.2h0M148.1 427.7h0M142.4 455.2h0M126 456.5h0M153.6 440h0M172.2 437.5h0M154.6 432.3h0M135.9 456.8h0M154.7 435h0M144.5 453h0M141.2 469.9h0M166.9 433.6h0M169 453.5h0M123.6 450.7h0M139.1 465.9h0M134.3 429.7h0M145.4 424.7h0M134.5 434.2h0M130.4 430.6h0" stroke="#302a9c" stroke-width="0.8" stroke-linecap="round" fill="none"/>
<path d="M169.7 465.5h0M128.6 463.1h0M126.1 459h0M150.8 473.4h0M126.5 461.1h0M127 435.8h0M155.6 423.2h0M175 452.9h0M164.8 448.8h0M159.4 464.3h0M149.4 469h0M152.9 472.7h0M138.2 424h0M127.9 432.7h0M148 465.3h0M170.9 444.1h0M133.5 430h0M131 459h0M140.2 427.7h0M125.6 442.6h0M131.8 438.8h0M158.3 465h0M129.8 462.9h0M131.2 436.6h0M173.7 437.9h0M147.5 435.1h0M144.5 426.8h0M155.9 422.8h0M134.5 466.3h0M142 447.1h0M125.9 440.5h0M145.9 464.8h0M140.8 464.9h0M166.4 440.4h0M137.7 424.1h0M143.2 434h0M163.8 469.9h0M163.8 432.1h0M152.9 460.9h0M167.3 459.7h0M150.7 468.2h0M170 431.2h0M131.4 466.3h0M168.5 462.7h0M159.8 429.8h0M169.3 464.7h0M173.7 449.7h0M141.6 463.5h0M145.1 473.2h0M167.1 432h0M160.5 430.4h0M144.6 440.8h0M139.7 452.7h0M145.7 422.5h0M157.1 442.8h0M153.5 448.2h0M138.6 465.3h0M164.2 450.9h0M170.9 450.8h0M146.3 422.4h0M128 434.4h0M152.1 449.1h0M148.5 444.2h0M167.3 460.4h0M128.1 459.3h0M140.9 455.1h0M148.1 445.7h0M148.1 456h0M165.5 426.7h0M155.2 473.4h0M163 432.2h0M158.4 458.9h0M132.2 431.1h0M158.4 465.1h0M141.1 467.6h0M123.7 440.4h0M127.2 446.3h0M169.5 454.4h0M167.8 456.7h0M127.9 445.9h0M161.2 435.5h0" stroke="#302a9c" stroke-width="1.2" stroke-linecap="round" fill="none"/>
<path d="M128.5 440.1h0M155.2 451h0M162 468.9h0M172.1 444.7h0M143.5 433.2h0M153.2 455.9h0M125.9 451.5h0M150.3 433.1h0M138.5 427.3h0M169.4 463.1h0M130 444.7h0M141.1 428.9h0M145.4 430.2h0M124.9 449.6h0M163.1 426.2h0M153.3 436.1h0M166.3 468.8h0M159.5 428h0M135.4 425.6h0M153.9 444h0M153 426.3h0M154.8 458.9h0M128.9 431.4h0M175.6 449.5h0M148.3 461.9h0M153.9 456.2h0M140.9 423.8h0M143.6 462h0M163.4 463.2h0M152.2 423.1h0M132.5 459.6h0M126.3 444.3h0M122.6 448.7h0M127.7 454.8h0M154.6 452.1h0M160.7 433.9h0M132.7 448.5h0M151.4 424.2h0M138.9 427.2h0M161.6 438.8h0M156.1 439.1h0M136.7 461.1h0M127.6 458.9h0M138.1 438.4h0M158.3 465.4h0M165.5 465.4h0M128.5 458.9h0M159.3 423.4h0M136.2 451.1h0M174.1 447.7h0M152.8 428.8h0M129.4 446.2h0M173.5 447.8h0M134.3 468.9h0M150.7 428.9h0M150.4 437.3h0M149.9 435.5h0M145.1 423.2h0M140.1 437h0M123.9 444.1h0M154.8 473.1h0M171.5 447.1h0" stroke="#302a9c" stroke-width="1.6" stroke-linecap="round" fill="none"/>
<path d="M149 450.9h0M154.8 456.8h0M126.8 446.5h0M139.7 456.3h0M154.6 426.4h0M156.1 426.4h0M132.7 434.5h0M136 457.9h0M153.7 443.7h0M155.4 472.4h0M123 449.5h0M149.8 431h0M147.9 435.3h0M164.7 469.6h0M125.1 439.9h0M140.8 430.6h0M169.1 446.5h0M136.5 449.3h0M149.8 472h0M129.6 456.6h0M138 424.2h0M163.4 452.4h0M155.8 446.6h0M129 450.4h0M132.1 431.3h0M148.8 422.6h0M146.1 440.8h0M167.7 429h0M139.1 424.8h0M135.8 448.6h0M130.7 460.9h0M133.5 446.6h0M133.2 467.1h0M167.3 451.9h0M162.6 439.8h0M167.9 456.9h0" stroke="#302a9c" stroke-width="2" stroke-linecap="round" fill="none"/>
<path d="M127.6 451.4h0M158.6 464.3h0M173.6 445.6h0M146.8 462.4h0M130.5 429.3h0M146.2 455.9h0M153.7 470.8h0M148.9 421.7h0M172.6 441h0M164.2 430.8h0M136.1 466.4h0M163.3 431.4h0M132.2 431.4h0M143.5 461.6h0M141.8 432.2h0M154.8 465h0M122.7 448.9h0M146.5 469.2h0M129.4 456.2h0M128.1 457.2h0M164.1 439.3h0M147.4 438.4h0M137.3 424.2h0M175 451.5h0M167.5 459h0M137.3 457.1h0M162 468.3h0M154.4 424.2h0M171.2 437.5h0M165.2 465.6h0M154.3 451.4h0M160 429.1h0M142.2 425.8h0M159.2 471.1h0M156.3 458.2h0" stroke="#302a9c" stroke-width="2.4" stroke-linecap="round" fill="none"/>
<circle cx="211.7" cy="448.1" r="29.4" fill="url(#dishg)" stroke="#b4bec4" stroke-width="0.8"/>
<path d="M198 437h0M211.5 425.7h0M212.6 457.8h0M227 441.2h0M220 455.2h0M230.5 460.5h0M206.4 465.8h0M191.4 456.9h0M228.7 435.4h0M207.3 462.2h0M198.5 452.4h0M232.4 439.5h0M221.3 431.7h0M232.7 437.5h0M198.2 469.5h0M193.5 466.2h0M211.7 424.1h0M208.3 459.9h0M226.2 463.2h0M222.2 445.8h0M197 465h0M194.3 465.1h0M185.7 446.7h0M213.3 472.1h0M190.2 437.7h0M211.9 424.9h0M195.9 436.3h0M190.7 459.2h0M209.3 465.8h0M227.7 435h0M189.4 460.8h0M202.9 456h0M217.7 471.6h0M198.3 446.8h0M219.5 451h0M213 473.2h0M191.1 439.9h0M223.2 434.9h0M200.9 466.7h0M205.2 452.9h0M192.3 459.8h0M197.2 450h0M228 442.2h0M194.9 446h0M224.2 464.7h0M210.5 468.4h0M197.6 454.5h0M188 436.9h0M209 470.2h0M234.1 461h0M215.4 447.3h0M228.1 435.9h0M198.5 457h0M228.3 437.9h0M208.9 435.8h0M192.6 441h0M222.1 470h0M231.5 431.7h0M207.6 437.5h0M211.8 468.6h0M229.6 441.9h0M225.7 449.5h0M206.6 430.1h0M208.7 462h0M190.1 447.3h0M225.8 434.4h0M221.4 424.2h0M216 422.8h0M196.7 470.4h0M226.6 427.2h0M227.6 451h0M205.9 433.3h0M187.9 443.7h0M235.3 452.9h0M207.8 440.4h0M200.5 424h0M196.3 436.9h0M235.6 446.8h0M208.1 469.5h0M232.4 461.4h0M195.2 468.4h0M186.3 443.3h0M229.2 436.3h0M203.7 424.9h0M220 431h0M187.4 449.9h0M216.9 426.6h0M211.3 437.4h0M230.2 430.1h0M221.6 431.2h0M202.3 459.1h0M203.9 463.6h0M217.6 457.4h0M217.9 429.4h0M234.7 451.5h0M213.6 460.6h0M185.6 451.4h0M232.7 445.1h0M232.9 437.8h0M217.7 473.1h0M199.2 428.1h0M202.5 435.8h0M195.2 462.7h0M221.2 424.8h0M200.1 471h0M209.6 435h0M214.4 471.9h0M222.9 440.9h0M218.2 472.7h0M228.9 450.8h0M194.3 463.1h0M201.4 424.3h0M235 457.4h0M190.4 446.2h0M215.9 452.5h0M213.2 426.8h0M218 454.3h0M230.8 434.2h0M230.2 436.7h0M232.2 433.5h0M189.7 451.4h0M221.8 459.3h0M215.9 472.3h0M212.5 421.7h0M199.1 460.5h0" stroke="#4236b2" stroke-width="0.8" stroke-linecap="round" fill="none"/>
<path d="M213.9 457.6h0M191.2 457.8h0M218 468.5h0M201 439.8h0M202.9 461.6h0M205.1 445.7h0M234.8 443.7h0M210.3 429.1h0M218 469.3h0M212.3 449.7h0M216.8 473.3h0M198.2 464.2h0M235.9 454.9h0M204.5 455.6h0M193.6 455.2h0M215.5 438.9h0M220.8 424.8h0M207.2 427.4h0M233.9 447.6h0M210 471.5h0M220.5 472.1h0M212.4 466.8h0M206.8 444h0M187.5 445.2h0M189.4 459.2h0M229.4 461.5h0M204 444.1h0M232.8 448.3h0M237.8 451.3h0M190.9 449.2h0M206.3 470.5h0M197.6 438.6h0M190 439.8h0M201.9 452.6h0M209.3 422.6h0M205 444h0M223.7 435.4h0M214.7 454.3h0M213 469.2h0M221.6 425.5h0M216.3 470.5h0M219.9 440.3h0M235.8 442.6h0M192.5 454.5h0M226.4 431.1h0M210.5 469.8h0M193.1 438.8h0M237.2 450.7h0M191.3 432.7h0M188.4 456.9h0M189.8 440.8h0M215 460.9h0M219.3 443.6h0M189.7 435.9h0M225.7 435.7h0M198.3 468.8h0M191.7 439.9h0M236.5 441.2h0M218.8 461.8h0M218 456.4h0M192.5 446.6h0M211.2 435.8h0M227.7 429.6h0M198.6 430.5h0M190.8 443.8h0M194.8 461.7h0M186 455.2h0M230.6 446.1h0M192.6 448.2h0M200.9 454.5h0M211.3 468.9h0M234.9 434.5h0M218.1 425h0M192.7 441.1h0M212.5 447.9h0M206.6 457.4h0M221.2 428.6h0M199.9 441.4h0M208.3 427.5h0M228 441.4h0M213.7 425.6h0M208.9 471.2h0M204.9 447.7h0M214.1 439.4h0M235.3 442.4h0M209.2 451.1h0M236.2 456.7h0M205.8 449.2h0M212.2 423h0M220.5 463.7h0M220.8 436.6h0M187.9 436.4h0M208.5 440.3h0M203.4 429.3h0M203.2 473.1h0M196.5 456.7h0M221.2 455.1h0M196 467.4h0M223.3 466.7h0M212.3 464.3h0M198.3 470.9h0M230.3 435.8h0M198.6 467.7h0M191.5 463h0M191 461.8h0M202.1 470.4h0M207.6 461.6h0M193.2 429.5h0M190.5 433.5h0M203.3 440.6h0M222.2 430.1h0M206 426.8h0M205 471.3h0M221.9 450.5h0M195 429.6h0M211.2 425h0M189.4 439.3h0M189.8 441.1h0M234.9 443.7h0M221 441.7h0M191.1 452.6h0M206 425.2h0M191 435.7h0M228.8 435.4h0M210.4 472.4h0M224.3 470.3h0M193.4 447.2h0M234.2 451h0M210.4 440.8h0M188.5 444h0M208.9 436.7h0M235.9 439.3h0M213.9 424.5h0M210.5 468.9h0M198.3 466.9h0M185.1 446.2h0M205.7 455.2h0M214.8 453.1h0M204.2 425.7h0M188.9 455.3h0M192.1 433.3h0M215.7 453.3h0M236.6 446.6h0M234.6 437h0M230.7 459.5h0M198 462.9h0M217.9 444.9h0M217 441h0M229 465.9h0M233.8 444.3h0" stroke="#4236b2" stroke-width="1.2" stroke-linecap="round" fill="none"/>
<path d="M215 469h0M198.1 449.2h0M217 439.5h0M203.1 456.7h0M203.8 442.1h0M200.9 442.1h0M209.1 470.1h0M210.5 470.3h0M212.8 427.4h0M231.3 463.7h0M207.2 424h0M208.6 427.3h0M202.3 463.3h0M232.8 450.2h0M229.5 432.1h0M223.4 456.2h0M230 462.6h0M211.7 424.3h0M188.2 456.3h0M213.2 453h0M205 471.1h0M185.3 449.1h0M221.7 457.1h0M225.5 465.4h0M222.8 468.1h0M228.2 431.4h0M233.2 458.9h0M197 450.7h0M218.3 426.7h0M214.8 423.1h0M198.7 464.7h0M222.5 434.3h0M191.5 465.3h0M210.7 453.5h0M203.5 425.2h0M225 450.3h0M192.4 440.2h0M237.5 446.8h0M231.6 455.5h0M222.4 429h0M206.8 465.3h0M215.8 422.3h0M191 439h0M235 439.8h0M226.4 447.3h0M222.8 463.2h0M191.6 452.4h0M217.1 468.3h0M222.8 468.9h0M237.6 443.9h0M189.4 447.2h0M198.8 430.1h0M237.2 450.4h0M228.1 467.2h0M191.1 438.3h0M236.7 455.4h0M209.7 453.4h0M229.4 434.9h0M223.3 464.8h0M219 432.7h0M206.7 436.8h0M209.1 472.6h0M189 445.5h0M196.5 463.7h0M220.9 471.3h0M219.6 452.5h0M207.5 470.1h0M217.3 468.2h0M195.2 464.7h0M214.6 453.5h0M195.7 431.8h0M192.7 439.6h0M196.5 429.7h0M208.8 469.7h0M217.3 471.1h0M216.6 432.9h0M231.8 463.6h0M207.9 454.9h0M220.1 426h0M223.9 429.9h0M199.2 467.1h0M190.8 446.6h0M223.5 430.9h0M193.3 462.2h0M219.9 429.6h0M210.3 425.6h0M191.4 450.8h0M205.6 466.1h0M226.2 426.8h0M224.2 451.8h0M205.7 467.8h0M187 452.9h0M199.1 460.9h0M208.5 436.2h0M221 427.4h0M202.1 469.8h0M235.9 448.4h0M225.2 438.5h0M208.3 472.1h0M220.6 469.2h0M206.7 428.3h0M225.6 440.4h0M222.1 430.1h0M200.5 467h0M233.6 433.3h0M200.1 428.5h0M220 436.5h0M219.3 470.5h0M208.6 453.7h0M232.3 460.2h0M217.2 439.4h0M236.6 451h0M197.1 427.9h0M226.7 434h0M231.5 443.3h0" stroke="#4236b2" stroke-width="1.6" stroke-linecap="round" fill="none"/>
<path d="M206.2 435.6h0M221.2 423.9h0M234.9 440.4h0M231.3 431h0M206.7 453.7h0M207.4 456.8h0M211.9 468.3h0M235.2 453.2h0M203.2 470.7h0M214.2 451.2h0M206.3 450.8h0M235.6 437.2h0M194.3 464.2h0M218.3 426.4h0M189 440.1h0M217.9 428.2h0M230.6 441.1h0M188.6 448.3h0M187.4 454.5h0M223.1 463.3h0M207.1 424.2h0M203.4 434.2h0M202.9 461.1h0M219.5 434.1h0M205.5 456.3h0M222.9 442.6h0M229.5 465.7h0M197.6 458.5h0M192.8 433.9h0M205.7 447.9h0M198.7 471h0M228.1 432.3h0M222.7 447.5h0M199.7 425.3h0M231.1 455.6h0M221.8 457h0M207.2 447.2h0M200.1 425.9h0M203.5 471.7h0M230.4 433.1h0M199.7 436.8h0M202.2 434.2h0M214.4 427.5h0M211.5 437.3h0M196.9 452.9h0M186 451.9h0M188.5 454.3h0M196.5 437.1h0M230.8 429.8h0M191.7 460.9h0M223.5 465h0M197.8 443.7h0M228.3 463.9h0M227.7 466.6h0M189.5 444.6h0M234 461.3h0M201.8 456.3h0M187.8 436.2h0M218.6 455.2h0M200 448.3h0M186.6 452.4h0M235.3 456.5h0M189.8 458.6h0M190.6 456.8h0M225.2 457.5h0M202.4 467.5h0M231.1 453.9h0M194.8 435.9h0M204.7 471.4h0M235.9 452.4h0M217.9 438.6h0M193.7 431h0M208.8 468.4h0M188.9 455h0M206.3 434.8h0M221.5 467.2h0M223.9 434.2h0M222.1 429.6h0M223.6 463h0M211.5 470.3h0M205.2 469.2h0M227.2 469.6h0M207.1 469.6h0M216.6 433.8h0M188.2 460.3h0" stroke="#4236b2" stroke-width="2" stroke-linecap="round" fill="none"/>
<path d="M214.5 439.3h0M199.7 431.3h0M199.2 426.5h0M190.3 460.6h0M190.8 458.2h0M195.4 457.9h0M217.2 423h0M204.8 469.4h0M229.3 467.3h0M206.9 425.9h0M232.8 449.5h0M229.3 467.7h0M220.9 471.5h0M223.3 429.3h0M236.2 442h0M204.6 424.6h0M236.1 455.2h0M203.4 448.1h0M191.2 465.4h0M235.4 443.5h0M210.5 455.8h0M194.4 434.6h0M216.1 470.1h0M188.2 438.4h0M234.2 451h0M225.3 438.1h0M223.6 429.7h0M203.2 422.7h0M192.9 465.7h0M227 470.1h0M212.8 454.1h0M225.5 429.6h0M196.6 431.8h0M195.7 461.1h0M222.9 469.9h0M225 468.5h0M200 428.2h0M231 458h0M213.2 436.7h0M204.5 432.8h0M223.7 465.4h0M218 444.9h0M198.6 428.5h0M208.2 428.9h0M190.7 441.7h0" stroke="#4236b2" stroke-width="2.4" stroke-linecap="round" fill="none"/>
<circle cx="275.8" cy="448.1" r="29.4" fill="url(#dishg)" stroke="#b4bec4" stroke-width="0.8"/>
<path d="M266.5 438h0M284 452.8h0M267.7 428.8h0M284.4 466.8h0M263.2 448.1h0M287.9 443.2h0M266.6 443.7h0M264.3 450.3h0M266.8 459.2h0M288.3 457.6h0M267.1 472.1h0M292.3 441.1h0M277.7 469.7h0M262 445.1h0M279.6 449.8h0M281.5 427.3h0M286.9 424.9h0M258 428.5h0M261.1 462.5h0M300.6 439.4h0M269.6 441.2h0M277 460.5h0M295.4 443.7h0M269.1 466h0M295.9 438.7h0M302.6 450.2h0M287.5 427h0M301.4 452.2h0M265 470.1h0M273 452.8h0M250.9 440.5h0M286.3 466.5h0M267.3 449.2h0M297.8 438.2h0M291.8 465.2h0M287.9 431.6h0M269.2 458.3h0M293.3 456.9h0M291.3 455h0M301.1 439h0M298.9 454.8h0M280.5 449.1h0M280.4 423.7h0M258.3 456.4h0M260.6 457.5h0M302.3 446.4h0M289.1 463.2h0M283.1 472.3h0M279.4 462h0M291.4 450.7h0M278.4 431.2h0M263.1 435.2h0M276.3 425.8h0M288.6 432.5h0M262.1 441.4h0M264.6 432.8h0M285.8 458.7h0M253.9 452.2h0M262 461h0M278.3 468.5h0M268.3 468.3h0M291.1 451.3h0M278.7 467h0M275.8 422.7h0M289.1 471.1h0M288.3 457.8h0M283.8 450h0M278.2 426.9h0M288.1 447.6h0M282.9 427.4h0M279.3 438.4h0M272.3 439.9h0M280 458.7h0M252.9 456.9h0M270 426.3h0M282.4 424h0M261.9 463.3h0M255 452.7h0M275.9 452.6h0M298.9 441.1h0M286.4 452.9h0M262.1 464.7h0M275.4 474.7h0M279.7 456.1h0M279.4 453.2h0M267.3 449.1h0M274.2 439h0M269.3 448.3h0M285.7 448.4h0M296.8 436.2h0M266.8 450.3h0M293.1 429.7h0M274.5 429.4h0M256.6 457.8h0M271.9 427.9h0M276.4 474.8h0M253.7 435.6h0M253.5 455.5h0M269.9 467.3h0M285 456.6h0M267.1 442.5h0M295.8 446.4h0M299.9 455.3h0M282.1 451.3h0M274.3 424.5h0M295.9 465.3h0M269.6 468.4h0M271.5 427.5h0M254.3 432.1h0M290.6 468.6h0M276.8 436.1h0M285.2 469.6h0M268.4 449.7h0M276.4 423.5h0M278.5 474h0M271.3 422.9h0M294.5 453.7h0M286.5 465.4h0M287 454.5h0M261.4 454.4h0M291.6 444.1h0M262.8 436.2h0M300.6 455.6h0M300.6 449h0M274.5 471.9h0M258.2 437.3h0M301.6 454.8h0M284.6 426.7h0M265.9 459.9h0M260.4 458.4h0M288 428h0M290.4 433.9h0M291.5 433.8h0M291.1 462.1h0M270.4 441.9h0M264.9 432.4h0M255 440.1h0M262.9 466.5h0M259.4 459.4h0M292.5 455h0M284 471.1h0M273.2 468.2h0M254.4 433.1h0M253.7 443.7h0M276.1 431.6h0M281 440.5h0M264.5 430.4h0M267.7 462.7h0M270.8 471.9h0M270.7 473.2h0M255.6 441.5h0M278.5 434.1h0M283.3 468.2h0M253.3 453.4h0M263.4 460.2h0M264.2 459.6h0M260.9 432h0M264.7 436.3h0M277.8 431h0M255.8 448.9h0M275 430.1h0M275 427.4h0M272.8 466.2h0M261.4 464h0M270 462.7h0M281.1 454.4h0M293.7 432.8h0M274 434.8h0M283 466h0M264.1 450.9h0M295 456.7h0M298.3 455.9h0M283.7 423.3h0M269.8 436.8h0M288.6 466.9h0M277.2 464.6h0M274.7 435.1h0M273.7 449h0M260.4 448.3h0M302.4 445.6h0M262.2 428.9h0M260.8 455.3h0M272.6 443.1h0M286.1 424.6h0M265.7 429.1h0M282.4 473.7h0M260.8 443h0M298.7 438.4h0M287.3 441.2h0M281.1 448.7h0M278.5 427.3h0M296.5 453.3h0M293.3 451.9h0M281.3 459.2h0M252.7 445.4h0M284.4 470.4h0M297 433h0M288.6 446.2h0M263.5 445.1h0M260.2 453.5h0M249.7 448.4h0" stroke="#4034b0" stroke-width="0.8" stroke-linecap="round" fill="none"/>
<path d="M283.3 442.7h0M302.4 446.5h0M284.5 471.7h0M283.4 453.1h0M254.4 454.3h0M290.5 458.1h0M255.8 458.6h0M274.1 468.3h0M265.9 458.8h0M276.7 427.4h0M295.1 439.6h0M255.1 455.2h0M275.1 464.7h0M273.5 470.9h0M292.4 448.6h0M252.3 443.9h0M291.7 427.6h0M289.3 425.3h0M292.9 444.6h0M250.1 452h0M284.4 467.5h0M257.9 434.7h0M268.3 467.3h0M264.9 463.1h0M302.6 450.7h0M267.2 449.7h0M282.5 446.9h0M272.1 473.3h0M283.7 432.5h0M267.2 423.4h0M292.2 442.3h0M263.7 471.9h0M292.3 441.3h0M250.8 455.5h0M275.5 423.2h0M269.6 472.4h0M288 452.5h0M267 462.9h0M301.7 442.9h0M281.4 423.5h0M272.4 471.7h0M254.7 431.7h0M287.6 432.3h0M297.2 447.5h0M256.9 466.1h0M271.9 461.8h0M287.1 455.7h0M297.4 436.5h0M284.3 460.7h0M298.3 452.4h0M270.5 424.6h0M298.2 442.2h0M282 472.4h0M261.2 440.3h0M280.2 468h0M277 465.8h0M263.5 425.5h0M269.5 449.5h0M267.3 465.5h0M263.8 452.6h0M256.4 446.9h0M281.7 428.4h0M261.1 460.6h0M268.5 470.7h0M284.8 468.1h0M274.5 441.3h0M255.8 437h0M294.2 467.7h0M278.7 474.3h0M283.2 453.4h0M284 428.8h0M297.2 460.8h0M299.4 459.8h0M279.2 464.7h0M265.8 455.6h0M298.9 445.2h0M291.9 446.8h0M299.8 449.5h0M267 459.8h0M289.6 435.7h0M293.3 456.5h0M275.1 422.5h0M267 471.6h0M278.4 470h0M302 451.1h0M272.5 427.3h0M298.8 444.6h0M283.1 427.1h0M258.2 444.7h0M267.1 423.4h0M281.1 454.5h0M281.7 456.3h0M275.4 454.5h0M299.4 456.8h0M267.8 425.7h0M260.2 429.1h0M275.7 427.3h0M267.6 444.5h0M280.7 455.1h0M265.9 463.4h0M287.1 467.9h0M281.6 452.7h0M257.2 467.1h0M282.9 438.1h0M260.5 458h0M272.7 449.6h0M287.2 456.3h0M286.8 471.6h0M293.7 437.8h0M300.5 453h0M296.4 432.9h0M259.1 459.9h0M291.7 451.6h0M261.5 432.2h0M263.7 471.4h0M254.8 449h0M255.1 463.3h0M279.9 422.9h0M272.8 458.7h0M285 470.1h0M268.8 435.8h0M257 431.8h0M266.9 443.8h0M299.6 442.2h0M275.4 450.9h0M264 469.9h0M267.7 442.5h0M284.6 435.8h0M274.8 460h0M251.5 438.9h0M272.8 473.4h0M252.2 456h0M285.5 443.9h0M281.1 466.5h0M301.6 443.1h0M258 441.9h0M271.8 468.8h0M285 469h0M273.7 445.5h0M290 463h0M287.6 461.7h0M297.3 457.1h0M271.3 471.3h0M281.1 456.9h0M290 456.7h0M254 439.2h0M249.8 443.4h0M297.6 443.6h0M252.7 439.7h0M285.8 453.4h0M270.1 427.7h0M280.7 459h0M263.5 469.5h0M278.3 440.2h0M267.6 425.8h0M301.4 440.5h0M267.9 467.1h0M300.7 447.9h0M276.4 424.3h0M291.5 441.8h0M284.5 462.6h0M289 440.4h0M286.6 424.5h0M295.3 434.5h0M286.5 446.4h0M269 452.8h0M254.9 458h0M299.1 443.2h0M266 465h0M261.3 441.8h0M264.7 466.7h0M265.8 471.6h0M265.9 460h0M289.1 465.9h0M255.9 436.6h0M284.5 429.7h0M288.6 431.1h0M278.2 471.7h0M249.7 449.4h0M292.7 439.2h0M253.1 438.7h0M274.7 453.8h0M265.5 431.4h0M274.4 437.3h0M300.3 440.4h0M258.4 466.5h0M298.7 435.7h0M271.9 473.1h0M271.8 466.2h0M253.2 443.3h0M266.1 461.2h0M292.9 427.8h0M255.3 436.8h0M289.2 454.4h0M260.2 461h0M280.4 429.6h0M292 461.5h0M251.9 446.9h0M256.3 464.5h0M264.1 472.3h0M267.5 453.6h0M302.1 453.3h0M257.2 452.8h0M290.6 463.3h0M273.7 461.9h0M285.2 429.7h0M289.1 439.6h0M265.4 435.2h0M255.3 432.9h0M271.4 427.1h0M253.7 458.6h0M269.9 443.3h0M279.1 465.1h0M274.3 473.6h0M287.9 471h0M292.4 428.8h0M260.9 460.6h0M302.2 452h0M288 457.4h0M267.7 460h0M295.5 442.5h0M275.7 472.8h0M260.6 468h0M277.5 452.5h0M268.9 469h0M297.6 454h0M253.9 460.4h0M299 436.9h0M281.1 453h0M270.6 469.3h0M298.7 459.9h0M276 433.3h0M278.6 473h0M279.1 422.8h0M267.3 471.2h0M276.7 433h0M262.7 470.4h0M258.9 434.1h0M257.8 467.1h0M267.4 424.1h0M263.4 431.8h0M283.6 429h0M251 455.6h0M280.8 424.7h0M277.1 461.8h0M286.6 466.6h0M267.2 466.3h0M291.9 462.1h0M273.3 426.1h0M252.3 440.8h0M283.5 446.8h0M290.9 450.5h0M286.2 456.4h0M291.8 429.4h0M275.4 464h0M278.7 453.9h0M280 465.8h0M254 443.3h0M295.6 455.5h0M264.2 427.8h0M267.2 454.3h0M278.9 426.9h0M260 466.7h0M287.2 430.8h0M277.8 453.3h0M273.6 424.8h0M286.6 457.9h0" stroke="#4034b0" stroke-width="1.2" stroke-linecap="round" fill="none"/>
<path d="M274.4 434.2h0M286 465.3h0M297.5 452h0M297.9 445.7h0M288.9 465.3h0M277.6 458.2h0M295.7 439.2h0M299.8 458h0M264.7 424h0M279.3 438.8h0M266.2 425.3h0M279.5 471.5h0M256.5 449.8h0M256.9 464.2h0M267.5 451.5h0M255.7 443.1h0M294.4 458.4h0M250.7 455.4h0M277.2 464.7h0M262.8 441.8h0M297.3 440.3h0M293.4 449.6h0M284.1 450.3h0M294.1 457.5h0M258.4 430h0M253.2 454.3h0M280 439.3h0M281.6 466.1h0M288.3 449.8h0M277.4 469h0M261.8 441.7h0M279 468.7h0M268.4 446.7h0M298.8 459.9h0M270.1 474h0M273.2 437.4h0M263.8 432.5h0M292.1 429.2h0M290.6 434.1h0M256 453.8h0M287.5 428h0M280.3 465.3h0M280.4 467.2h0M295.9 430.6h0M286.4 456.5h0M293.5 461.4h0M297.7 455.7h0M271.9 430.9h0M277.9 431.1h0M253.1 440.6h0M260.6 440.7h0M273.2 442.9h0M268.5 430.5h0M295.5 443.1h0M272.8 470.2h0M288.6 468.7h0M279.9 430.4h0M277.6 430h0M259.5 454.8h0M267.2 432.2h0M276.2 473.1h0M289.5 430.6h0M281.3 452.3h0M259.3 433.4h0M278.6 471h0M291.9 429.5h0M265.8 433.5h0M264.7 433.3h0M278.2 449.7h0M297.3 433.1h0M284.6 460.7h0M253.4 454.3h0M291.9 442.5h0M257.6 464.5h0M252.9 441h0M250.3 451.6h0M282.4 427.6h0M251.4 443.7h0M256.8 433.3h0M280.6 427.7h0M281.5 449.4h0M284 461h0M295.4 441.7h0M289.1 448.3h0M296.8 461.9h0M257.6 436.8h0M290.3 463.7h0M263.4 468.1h0M295.7 456.2h0M261.5 451h0M268.1 431.2h0M280.9 426.7h0M301.9 450.7h0M273 433.1h0M267.8 458.4h0M297.3 450.6h0M287.2 449.7h0M260.2 460.6h0M267.4 454.1h0M278.1 424h0M277.2 454.2h0M258.9 464.9h0M300.6 456.9h0M279.2 472.7h0M280.4 424.2h0M258.8 436.5h0M285.8 429.1h0M268.2 427.7h0M293.3 432.4h0M273.1 435.8h0M297.9 444h0M286.7 433.1h0M274.1 468.7h0M287.3 462h0M285.8 450.8h0M265.6 433.2h0M292 434.1h0M273.3 428.5h0M291.8 447.9h0M294.7 461.5h0M262.6 453.3h0M290.7 444.1h0M256.6 455h0M278.3 459.9h0M280.2 432.8h0M255 441.1h0M301.8 443.9h0M287.3 469.1h0M250.2 443.1h0M295.2 462.3h0M255.5 453.1h0M294.4 430.3h0M287 427.1h0M252.3 449.5h0M298.6 437.9h0M295.1 436.3h0M256.6 459h0M270.3 435.4h0M260.6 427.7h0M296.2 443.5h0M259.3 448.7h0M266.5 428.9h0M280.8 430.1h0M297.3 436.5h0M287.4 463.5h0M256.6 430.3h0M301.2 446.9h0M283.6 470.9h0M261 426.6h0" stroke="#4034b0" stroke-width="1.6" stroke-linecap="round" fill="none"/>
<path d="M264 457.1h0M278.5 469.4h0M264.8 439.7h0M268 466.4h0M297.1 463h0M288.2 435.6h0M255.3 437.3h0M296.8 461.5h0M252.4 448.4h0M292.2 466.3h0M283.3 462.6h0M260.9 468h0M287 460.2h0M276.8 456.1h0M277.6 439.6h0M267.3 469.6h0M300 448.5h0M261.7 444.7h0M254.4 433.6h0M280 462.9h0M266.1 470h0M292.3 463.9h0M299.4 436.4h0M279.4 472.3h0M259 458.3h0M290 440h0M283.9 454.6h0M280.9 452h0M250.3 453.4h0M288.5 451.2h0M288.3 467.2h0M295.6 462.1h0M299.3 457.1h0M251.2 454.7h0M272.8 424.9h0M258.2 464.5h0M286.9 447.2h0M280.1 434.8h0M270 429h0M250.8 454.4h0M261.8 470.6h0M249.4 447.6h0M292.1 434.5h0M280.1 427.8h0M284.1 460.1h0M259.7 460.4h0M267 470.5h0M265.1 462.3h0M289.7 429.2h0M251.4 448.3h0M251.2 454.4h0M285.9 446.6h0M253.6 441h0M272.9 456.6h0M270.1 468.4h0M268.4 439.4h0M267.6 436.3h0M281.8 428.3h0M299.3 459.3h0M262 465h0M265.3 438.3h0M268.5 424.6h0M289.3 443.5h0M253.3 461.2h0M272.3 458.1h0M301.3 441.7h0M264 470.5h0M284 423.1h0M286.2 427.4h0M266.5 442.3h0M257.4 428.9h0M258.3 446.4h0M254.6 457.3h0M288.5 465.4h0M257.7 456.1h0M274.6 435.7h0M281 468.3h0M272.9 433.8h0M273.9 466.8h0M299.5 449.9h0M296.1 432.1h0M295.8 450.5h0M285.2 462.4h0M269.3 442.5h0M265 472.4h0M288.6 427.7h0M261.6 464h0M295.8 446.8h0M266.7 443.5h0M295.7 432.6h0M297.9 452.5h0M294.6 461.7h0M282.2 470.6h0M284.9 469.4h0M251.4 456.5h0M264.1 429.1h0M268.7 436.7h0M274.7 432.1h0M297.9 458.9h0M273.8 438.2h0M292 464.5h0M252.2 452.5h0M296.3 450.8h0M258.1 441.6h0M250.2 444.3h0M267.9 454.2h0M278.3 427.4h0M293 432.9h0M264.1 447.8h0M292.4 443.3h0M290.9 452.2h0M257.4 463.2h0M271.1 423.1h0M285.6 449.6h0M260.9 468h0M264.4 425.6h0M263.8 470.5h0M288 430.7h0M302.2 450.1h0M284.9 456h0M281.5 424.3h0M298.2 456.7h0M283.1 460.8h0M269.1 424.6h0M265.7 459.6h0M273.2 472.4h0M282 471.8h0" stroke="#4034b0" stroke-width="2" stroke-linecap="round" fill="none"/>
<path d="M270.7 440.9h0M257.4 464.5h0M275.9 448.7h0M287 471.3h0M282.2 459.7h0M295.6 439.7h0M275.9 451.3h0M297.8 440.9h0M259.8 447.1h0M273.3 457.3h0M299.2 458.1h0M292 438.6h0M281.1 451.9h0M292.7 456.1h0M257.4 450h0M256 431.5h0M268.4 445.5h0M252.4 455.7h0M254.1 436.6h0M279.6 471.3h0M287.4 425.1h0M267.5 459.2h0M277.4 442.6h0M253.6 449.2h0M278.1 472.2h0M287.8 445.2h0M301.7 441.2h0M287.7 466h0M278.6 448.8h0M259.3 467.6h0M261.6 463.6h0M251.1 450.3h0M262.8 443.7h0M266.5 468.5h0M264.2 456.8h0M275 432.9h0M291.2 428.9h0M268.5 469.1h0M252.3 458h0M254.6 434.7h0M281.7 471h0M284.2 456.2h0M254.4 454h0M283.6 439.7h0M290.1 445h0M272 432.5h0M292.1 433.4h0M268.2 457.9h0M279.1 424.9h0M268.1 452.5h0M281.3 464.7h0M253.2 438.8h0M273 435.7h0M279.9 445.5h0M296 459.9h0M298.8 449.9h0" stroke="#4034b0" stroke-width="2.4" stroke-linecap="round" fill="none"/>
<circle cx="85.4" cy="528.1" r="29.4" fill="url(#dishg)" stroke="#b4bec4" stroke-width="0.8"/>
<path d="M79.6 506.4h0M72.7 527.2h0M78.5 537.2h0M110 519.2h0M104.2 525.3h0M77 505.9h0M74.2 545.8h0M83.9 517h0M62.2 533h0M63 542.7h0M88 547.6h0M102.7 525.5h0M103.5 514.8h0M59.1 524.8h0M106.6 513h0M86.9 552.7h0M75.3 508.9h0M78 504.4h0M94.7 549.7h0M72.2 544.3h0M98.7 536.6h0M92.6 519.1h0M95.1 504.4h0M94.1 549h0M66.5 547.2h0M103.6 515.7h0M92.2 554.1h0M99.9 508.1h0M106.6 511.8h0M104.2 513.5h0M99.7 508.8h0M84.8 549.2h0M64.6 536.4h0M63 537.3h0M80 538.6h0M69 541.5h0M100.1 505.7h0M95.2 505.8h0M102.9 516.2h0M96.3 506.1h0M98.4 535h0M71.7 512.4h0M86.2 530.1h0M83.9 507.5h0M79.1 543.9h0M88.4 539.9h0M81.9 519.6h0M64.6 512.9h0M111.5 523.1h0M61.7 526h0M89.9 503.8h0M91.8 505.4h0M67.2 539.8h0M76.4 509.1h0M82.8 550.7h0M100.3 535.6h0M77.1 521.7h0M110.4 523.9h0M94 536.8h0M91.6 553h0M71 506.9h0M84.3 542h0M105 541.1h0M84.1 549h0M82.7 502.7h0M68.4 511.8h0M77.9 509.3h0M66.9 521.6h0M86.5 544h0M71.4 522.9h0M68.7 507.8h0M83.2 540.3h0M79.4 547.4h0M96.4 548.4h0M91.9 522.4h0M61.9 534.4h0M98.4 512.3h0M68.3 540.2h0M90.7 549.6h0M87.5 552.6h0M69.9 549.2h0M95 520.7h0M73.5 548h0M103 539.8h0M81.7 512.6h0M75.1 520h0" stroke="#302a9c" stroke-width="0.8" stroke-linecap="round" fill="none"/>
<path d="M102.5 527.6h0M80.3 549.9h0M105.4 534.3h0M65.3 542.4h0M103.4 544h0M79.3 525.3h0M72.1 510.1h0M71.1 548.2h0M107.2 526.2h0M75.2 551.7h0M69 528h0M70.2 517.6h0M68.6 513.9h0M60.1 536.3h0M69.7 511.9h0M89 504.2h0M98.2 548.5h0M65.1 520.1h0M89.8 553.1h0M108.8 534.8h0M86.4 554.6h0M99.1 543.3h0M77.2 507.9h0M75.9 504.9h0M95.5 527.2h0M81.5 513.4h0M80.3 508.9h0M110.8 531.5h0M97.5 544.8h0M67.7 536.9h0M88.2 542.8h0M105 516.6h0M81.2 506.9h0M75.8 541.1h0M78.3 516.4h0M100.4 530.1h0M80.2 529.4h0M104.2 510.8h0M85 541.1h0M93.5 516.3h0M107.4 516.6h0M76.5 508.4h0M87.4 550h0M62.2 527.6h0M69.8 547.6h0M90.7 502.5h0M72.7 526.3h0M65.9 546.4h0M84.3 513.2h0M99.2 525.6h0M86.1 529.7h0M78.1 519.9h0M78.9 537.4h0M85.6 520.1h0M96.2 552.1h0M77.7 513.4h0M69.9 514.1h0M84.9 542.7h0M67.6 539.4h0M88.1 537.2h0M62.2 536.6h0M106 529.5h0M74.3 508.8h0M104.7 514.9h0M101.7 549.4h0M103.6 510.2h0M81.4 544.4h0M82.1 551.3h0M102.2 536.7h0M63.7 531.9h0" stroke="#302a9c" stroke-width="1.2" stroke-linecap="round" fill="none"/>
<path d="M101.4 536.7h0M100 521.2h0M81 512.9h0M83.7 505.7h0M86.4 529.6h0M63.7 516.4h0M87.8 551.3h0M103.6 541.2h0M71.5 537.5h0M72.8 527.6h0M82.2 553.2h0M73.4 539.6h0M79.8 505.1h0M71.2 519h0M89 532.8h0M76.6 505.8h0M69.6 510.9h0M68.1 547.4h0M108.3 527.8h0M67.4 540.5h0M104.3 524h0M91.9 540.7h0M76.2 514.4h0M65.6 529h0M63.2 534.1h0M68.6 512h0M70.4 523.3h0M62 518.8h0M110.9 536h0M84 537.9h0M71.6 539.3h0M83.5 554.9h0M91.3 507h0M81.6 552.2h0M64.1 523.8h0M104.2 536.9h0M93.7 504.3h0" stroke="#302a9c" stroke-width="1.6" stroke-linecap="round" fill="none"/>
<path d="M103.7 509.7h0M100.2 520.9h0M70.7 539.7h0M88.7 516.4h0M80.8 529.2h0M70.7 506.4h0M72.7 516.9h0M86.6 547.2h0M101.2 543.1h0M77.3 513.6h0M69.4 508.2h0M109.7 539.1h0M104.5 514.1h0M108 542.1h0M79.9 531.1h0M86 535.4h0M94.3 517h0M73.8 506.5h0M75 551.2h0M106.7 513.3h0M97 532.4h0M97.3 539.1h0M89.1 513.2h0M85.9 502.9h0M97.8 541.2h0M84.6 541h0M92.9 534.6h0M68.1 537.7h0M96.7 522.1h0M70.1 512.4h0M92.9 503.8h0M89.4 546.3h0M106.7 532.8h0M73 546.3h0M65.3 512.5h0M71.9 508.3h0M106.6 526.1h0M104 535.1h0M60.9 529.6h0" stroke="#302a9c" stroke-width="2" stroke-linecap="round" fill="none"/>
<path d="M83.9 524.9h0M79.2 541.7h0M99.3 535.1h0M90.1 513.8h0M72.9 549.3h0M73.4 547.3h0M110.4 538.1h0M65.3 539.2h0M75.4 548.2h0M105.1 511.2h0M105.1 536.7h0M109.1 515.9h0M96.6 548.2h0M72.1 507.5h0M76.3 509.7h0M75.3 538.9h0M78.1 521.5h0M84.7 549h0M97.8 550.7h0M75.5 530.5h0M110.6 531.9h0M64.2 543.4h0M69.8 524.1h0M84.6 551.9h0M82.7 552h0M80.5 510.1h0M104 523.9h0M75.3 524.7h0M109.6 522.8h0M80.3 540.7h0M91.1 515.1h0M92.7 520.5h0M86.8 544.6h0" stroke="#302a9c" stroke-width="2.4" stroke-linecap="round" fill="none"/>
<path d="M99.1 549.1h0M95.3 546.7h0M77 515.5h0M97.2 517.5h0M84.7 502.9h0M84.7 517.9h0M87.5 518.3h0M81.6 549.9h0M73.9 513.5h0M76.1 518h0M64.8 532.7h0M73.4 523.5h0M106.4 519.6h0M111.3 527.6h0M78.5 503.7h0M74.6 548.8h0M110.4 534.3h0M97.8 518.6h0M87.7 551.2h0M77.3 551.5h0M73.1 538.6h0M99.2 535.6h0M73.1 545.9h0M64.8 513.2h0M89.4 517.1h0" stroke="#302a9c" stroke-width="2.8" stroke-linecap="round" fill="none"/>
<circle cx="149" cy="528.1" r="29.4" fill="url(#dishg)" stroke="#b4bec4" stroke-width="0.8"/>
<circle cx="149" cy="528.1" r="26.4" fill="none" stroke="#b8c2c9" stroke-width="1.6"/>
<path d="M132.9 530.1h0M139.9 517.8h0M141.5 540.8h0M137 507.1h0M136.3 515.1h0M144.3 540h0M135.2 547.6h0M169.4 521.2h0M125.3 524.6h0M151.5 531.3h0M131.3 540.9h0M157.9 508.2h0M156.1 532.8h0M154.9 540.3h0M166 518.6h0M141.1 534.8h0M154.2 529.1h0M150.8 536.5h0M155.6 534h0M126 538.4h0M155.4 552.2h0M147.7 531.9h0M145.4 506.4h0M145.9 533.4h0M130.5 541.2h0M152.8 549.1h0M146.1 525.2h0M139.6 503.5h0M125 526.5h0M168.4 515.2h0M152.7 540.5h0M158.7 534.2h0M152.4 504.6h0M161.3 540.1h0M148.5 516.3h0M150.2 531.4h0M139.8 515.1h0M162.2 551h0M165.3 520.6h0M168.3 524.3h0M131 517.2h0M139.7 532.5h0M131.4 539.5h0M146.2 510.4h0M168 513h0M172.6 531.4h0M158.2 512.6h0M122.9 532.3h0" stroke="#4a44a8" stroke-width="0.8" stroke-linecap="round" fill="none"/>
<path d="M133.8 537.8h0M145.5 538.1h0M150.7 525.5h0M135.3 516.3h0M137.3 540.7h0M162.4 547.4h0M146.7 509.9h0M168.6 518.1h0M134.1 528.2h0M133.4 518.2h0M165.5 537.1h0M123.4 525.9h0M153.2 537.9h0M151.8 532h0M138.7 522.2h0M153.9 524.5h0M168.8 517.8h0" stroke="#4a44a8" stroke-width="1.2" stroke-linecap="round" fill="none"/>
<path d="M140.4 549.7h0M154.6 527.2h0M146.8 521.6h0M123.5 532.1h0M167.4 522.5h0M143.3 518.1h0M155.3 510.9h0M136.8 531.7h0M159.8 512.3h0M134.9 511.4h0M137 544.7h0M152.7 526.4h0M126.7 542h0M131.3 538.9h0M144.5 531.4h0M126.4 542h0" stroke="#4a44a8" stroke-width="1.6" stroke-linecap="round" fill="none"/>
<path d="M148.4 554.4h0M147.2 526.3h0M145.5 519.7h0M150.9 552.7h0M157.4 532.5h0M169 535.4h0M159.5 503.4h0M166.3 543.9h0M166.5 543.6h0M168.3 533.5h0M162.1 551.1h0M144.2 542h0M140.3 516h0M128.3 542.8h0" stroke="#4a44a8" stroke-width="2" stroke-linecap="round" fill="none"/>
<circle cx="211.7" cy="528.1" r="29.4" fill="url(#dishg)" stroke="#b4bec4" stroke-width="0.8"/>
<path d="M230.5 523.3h0M199.3 508.1h0M211.6 523.7h0M229.9 510h0M233.4 521.8h0M199 513h0M209.9 514.2h0M217.9 524.2h0M191.2 544.7h0M191.4 542.1h0M211.9 510.2h0M227.6 515.5h0M212.2 511.8h0M216.1 545.9h0M237.3 527h0M206.3 552.6h0M202.5 508.3h0M212.8 511.4h0M219.6 548.5h0M235.4 539.8h0M210.6 501.5h0M186.8 525.9h0M213.6 551.7h0M188.6 537.9h0M218 524h0M210.6 546.9h0M212 502.7h0M200.3 513.2h0M205.1 510.5h0M191.6 531.6h0M192.1 535.7h0M210.8 542.7h0M215.7 504.5h0M189.2 531.1h0M234.9 525h0M217.2 535.1h0M228.9 538.8h0M193.9 523.9h0M224.2 514.9h0M231.5 537.6h0M188 516.5h0M192.2 541.4h0M216.2 546h0M219.3 551.1h0M234.4 520.5h0M227.3 541.1h0M198.7 532.6h0M208.4 536.2h0M188.5 526.9h0M190.5 526.2h0M199.2 544.3h0M230.9 535.3h0M193.9 544.3h0M201.2 550.7h0M210 533h0M198.4 518.6h0M219.2 516.1h0M207.3 541h0M233.3 515h0M204.1 509h0M223.4 530.3h0M217.4 553.5h0M220.6 523.8h0M233.8 519.8h0M224.7 522.8h0M200.3 525h0M227.4 509h0M236.9 519.3h0M231.9 519.8h0M198.1 546.7h0M197.8 534.5h0M207.9 548.6h0M216.8 505.2h0M234.1 521.4h0M201.8 547.4h0M211.9 539.8h0M186.2 534.6h0M219.3 525h0M230.9 517.6h0M229.1 516.1h0M198.5 548.9h0M197.9 512.5h0M224.1 521.3h0M216.9 524.7h0M190.9 543.8h0M203.6 543.6h0M198 547h0M205.6 517.1h0M227.9 523.5h0M191.6 540h0M227.7 546.3h0M204.7 516.3h0M197.3 527.7h0M196 537.6h0M187.8 526h0M235.9 522.3h0M200.9 546.8h0M200.1 520.7h0M202 505.1h0M221.3 543.1h0M232.1 536.9h0M196.9 513.8h0M233.1 532h0M218.5 505h0M221 505.9h0M201.3 531.7h0M196.7 514.9h0M215.5 511.6h0M191.3 542.1h0M196.6 513.8h0M190.3 524.4h0M198.4 540.7h0M191.9 516.6h0M192.6 529.4h0M221.2 514.6h0M197.8 538.6h0M222 512.4h0M219.6 521.7h0M201.1 541.1h0M203.8 552.7h0M197.8 525.2h0M224.5 545h0M192 539.2h0M236.2 533.9h0M194.5 519h0M236.6 525.8h0M228.7 539.7h0M219.8 552.5h0M193.2 536.2h0M209.6 504.9h0M189.6 516.6h0M199.3 505h0M194.6 513.1h0M228.6 515.5h0M209.8 501.5h0M222.3 509.2h0M231.1 517.8h0M228.7 547.2h0M203.9 508.8h0M227.3 534h0M218.2 503.2h0M213.9 515.3h0M223.7 510.2h0M209.3 551.8h0M205.2 546.6h0M228.2 540.6h0M228 512.8h0M232.6 522.8h0M218.6 545.2h0M188.6 529.4h0M191.8 516.6h0M219.7 508.2h0M224.2 504.6h0M187.3 528.5h0M210.2 536.5h0M218.5 540.2h0M210.1 535.1h0M194.7 543.5h0M200.4 549.4h0M231 517.1h0M220.9 504.3h0M208.5 507.7h0M199.8 550.5h0M193 547.2h0M232.5 527.7h0M201.1 552.8h0M199 506.4h0M218.1 531h0M208.4 547.3h0M186.3 527.3h0M190.8 531.9h0M201.4 504.1h0M188.9 522.8h0M196.6 542.3h0M227.5 507.4h0M205.1 550.8h0M226.6 537.8h0M202.7 521.7h0M216.2 539.1h0M214.7 549.3h0M185.3 523.3h0M226.1 506.8h0M226.8 543.9h0M218.6 525.5h0M218.5 506.1h0M210.4 542.8h0M201.7 520.7h0M228.2 547.5h0M208.1 553.1h0M230.7 540.8h0M211.8 545.2h0" stroke="#4536b0" stroke-width="0.8" stroke-linecap="round" fill="none"/>
<path d="M236 519.4h0M234.8 521.8h0M220.7 551.9h0M230.5 516h0M197.1 548.7h0M212.1 535.9h0M208.2 506.2h0M195.8 522.5h0M195.8 526.2h0M193.7 527.6h0M230.8 531.4h0M237 532.3h0M220.7 550.1h0M212.4 543.6h0M191.3 536.8h0M213.6 517.2h0M202.3 536.9h0M215.2 553.1h0M228.1 507.7h0M230 525.5h0M225.7 547.1h0M232 533.4h0M207.6 502h0M214.9 539.9h0M202.2 547.2h0M199.2 509.1h0M188.7 516.3h0M200.6 546.8h0M220.1 550.8h0M204.5 529.3h0M195.5 510h0M232.2 515.1h0M190.3 518.2h0M227.2 545.1h0M214.1 507.5h0M222 522h0M190.7 523.8h0M238.1 526.1h0M230.6 528.7h0M228.2 538.1h0M190.3 543.8h0M209.8 548.4h0M232.7 516h0M206.9 513.1h0M200.2 549.7h0M211.9 517.9h0M232.9 535.9h0M209.9 554.8h0M207.2 508.8h0M197.2 507.3h0M213.1 504.6h0M213 528h0M232.7 525.8h0M237.3 526.7h0M203.9 517.2h0M213.4 525.2h0M196.6 519.7h0M196.6 517.5h0M210.3 550.5h0M228.9 518.3h0M235.6 517.1h0M203.6 551.8h0M228.7 532.2h0M205.9 516.3h0M221.1 510.1h0M206.7 528.1h0M220.6 529h0M186.3 523h0M218.5 553.9h0M218.2 524.5h0M237.8 532.5h0M229.9 537.5h0M229.4 527.7h0M227.3 536h0M204.1 528.5h0M232.8 540.3h0M231 545h0M190.1 529.5h0M232.4 534.1h0M220.9 543.3h0M189.8 536.2h0M234.4 521.1h0M196.1 537.9h0M218.7 533.1h0M202.4 519.1h0M189 519.3h0M194.3 544.3h0M205.3 508.6h0M202.9 521h0M224.3 541.4h0M198.3 504.8h0M229.4 541.9h0M220.4 547.1h0M186.7 519.4h0M234.7 515.2h0M203.3 538.9h0M193.1 515.9h0M208.3 552.8h0M191.6 535.8h0M218.3 509.4h0M207.7 549.7h0M209 510.2h0M235.9 519.8h0M235.5 529.8h0M230.5 539.1h0M210 504.6h0M210.3 507.1h0M191.7 540.9h0M238.5 527.2h0M232.7 521.5h0M213.1 510.6h0M199.5 534.1h0M214.3 550.1h0M224.1 506.2h0M231.5 510.2h0M197 508.3h0M225.9 539h0M211.2 540.3h0M234.5 524h0M226.5 527.6h0M200.6 535.5h0M200.6 534.2h0M219.9 544.7h0M189.5 537.9h0M190.6 541.9h0" stroke="#4536b0" stroke-width="1.2" stroke-linecap="round" fill="none"/>
<path d="M215.1 529.2h0M200.4 539.4h0M225.5 542.7h0M195.1 539.7h0M216.7 531.4h0M234 532.1h0M192.5 521.1h0M208.3 516.8h0M198.3 549.5h0M190.6 542h0M218.3 522.5h0M234 536.9h0M228.9 518.4h0M203.2 549.9h0M191.4 540.3h0M223 508h0M223 549.5h0M226.7 524.5h0M214.3 528.6h0M200.9 513.4h0M201.6 517h0M193.4 538.4h0M202.6 547.1h0M229.8 529.1h0M228.8 529.1h0M195.3 546.2h0M230 541.6h0M217.1 542.5h0M193.6 543.7h0M230.2 538.1h0M219 509.1h0M197.2 537.9h0M223 549h0M231.3 535.5h0M201.9 515.2h0M203.8 538.2h0M210.6 535.8h0M221.2 520.6h0M188.5 530.5h0M236.8 523.9h0M209.6 520.2h0M205.6 551.7h0M199 504.8h0M215.1 539.3h0M212.3 544.6h0M206.3 554.4h0M188.6 527.7h0M222.7 540h0M216 503.7h0M197.7 550.1h0M194.8 547.6h0M194.8 543.9h0M193.9 539.4h0M205.8 504h0M213.1 552.4h0M205.8 507.9h0M200.7 530.1h0M220.3 507.8h0M189.7 516.5h0M211.6 537.5h0M209.2 535.8h0M229.8 509.7h0M231.7 524.2h0M185.6 523.2h0M199.2 511.9h0M214 542.6h0M200.7 515.7h0M220.1 513.5h0M191.1 513.9h0M197.4 517.7h0M222.7 503.7h0M196.4 520.6h0M203 538.1h0M225.5 522.8h0M210 545.5h0M207.6 519.5h0M236.6 520.3h0M220.5 525.2h0M210.1 526.3h0M233.6 528.1h0M192.2 512.8h0M202.9 533.1h0M224 549.6h0M218.4 553.7h0M211.5 527.5h0M225.9 508.4h0M196.2 550h0M212 512.8h0M234.6 537.2h0M193.8 540h0M187.9 537.6h0M186 528.7h0M191.2 532h0M195.5 545.1h0M220 548.2h0M228.1 531.5h0M227.7 511.8h0M203.8 511.7h0M189.7 519.5h0" stroke="#4536b0" stroke-width="1.6" stroke-linecap="round" fill="none"/>
<path d="M215.6 518.8h0M216.6 548.4h0M229 518.6h0M233.6 526.4h0M226.2 508.3h0M202 549.8h0M211.7 512.8h0M203.2 532.1h0M224.3 535.6h0M206.5 506.8h0M195 516.1h0M209.7 518.3h0M210.8 505.7h0M190.2 538.7h0M232.8 523.6h0M211.9 514.7h0M202 541.9h0M203 551.6h0M194.2 546.7h0M196.8 546.6h0M193.7 508.9h0M219.8 543.9h0M232 529h0M217.8 506h0M235 521.6h0M222.3 549.5h0M226.2 520.2h0M202.6 520h0M222.4 517.7h0M194.1 535.6h0M221.1 533.3h0M236.9 519.7h0M194.2 541.5h0M237.9 530.7h0M231.6 521.3h0M222 524.9h0M226 539.6h0M208.6 518.2h0M234.3 524.9h0M192.2 532.7h0M214.3 531.9h0M212.1 521.5h0M235.5 522.1h0M209.9 525.4h0M200.7 545.7h0M212.4 545.7h0M213.1 548.2h0M190.4 539.9h0M208.5 515.2h0M234.7 532.8h0M226.5 530h0M235.7 533.5h0M234.6 515.6h0M190.5 520.9h0M208.6 513.7h0M223.7 533.3h0M221.5 530.7h0M232.5 540h0M191.3 523.3h0M187.2 524h0M202.9 511.6h0M194.2 545.8h0M205.7 552.9h0M237 519.9h0M235.6 521.7h0M189.5 534.4h0M225.1 524.8h0M202.7 539h0M222.3 548.1h0M218.9 503.4h0M196.5 509.6h0M231 545.8h0M205.1 521.1h0M232.6 540.6h0M201.1 506.3h0" stroke="#4536b0" stroke-width="2" stroke-linecap="round" fill="none"/>
<path d="M204.1 529.3h0M221.8 506.5h0M214.4 539.8h0M220.4 519.5h0M214.1 516.4h0M223.1 519.9h0M208.7 554.1h0M192.1 512.6h0M227.7 545.8h0M217.3 520h0M209.8 551h0M225.5 522.8h0M234.9 522.3h0M207.3 514.3h0M206.8 550.4h0M232.3 515.1h0M220.1 514.1h0M232.8 527.7h0M230.5 513h0M219.6 548.9h0M214.5 508.7h0M233.7 517h0M218.1 529.9h0M201.1 504.8h0M209.1 554.4h0M235 524.7h0M196.5 530.1h0M195.6 531.7h0M212.7 511h0M201.7 504.7h0" stroke="#4536b0" stroke-width="2.4" stroke-linecap="round" fill="none"/>
<circle cx="275.8" cy="528.1" r="29.4" fill="url(#dishg)" stroke="#b4bec4" stroke-width="0.8"/>
<circle cx="275.8" cy="528.1" r="26.4" fill="none" stroke="#aab3bb" stroke-width="1.6"/>
<path d="M257.8 532.9h0M271 515.4h0M278.3 554.1h0M255.3 517.6h0M272 540h0M256 513.7h0M252.3 521.3h0M281.8 536.6h0M254.9 522.3h0M265.9 533.9h0M270.8 511.9h0M284.7 515.2h0M272.5 526.5h0M296.6 513.9h0M269.1 550.1h0M273.8 554h0M298.9 534.9h0M278.8 541.8h0M286.5 526.5h0" stroke="#2c2590" stroke-width="1.2" stroke-linecap="round" fill="none"/>
<path d="M269.8 518.4h0M263.9 528.9h0M259.4 517.2h0M261 537.9h0M265.7 506h0M285.3 527.8h0M258.3 526.5h0M255 539.2h0M255.1 531.8h0M298.5 524.2h0M270.8 502.5h0M271.3 519.2h0" stroke="#2c2590" stroke-width="1.6" stroke-linecap="round" fill="none"/>
<path d="M280.7 554.2h0M271.7 518.7h0M278.7 538.5h0M273.4 519.9h0M293.7 547.9h0M275 517.3h0M272.8 537.3h0M272.6 534.1h0M258.7 526.7h0M292.5 538.4h0" stroke="#2c2590" stroke-width="2" stroke-linecap="round" fill="none"/>
<path d="M280.9 506.6h0M291.3 512.3h0M265.3 544.7h0M258.2 509.4h0M250.7 531.5h0M290.5 538.9h0M297.9 517.7h0M268 504.7h0M280.7 520.8h0M282.4 516.1h0" stroke="#2c2590" stroke-width="2.4" stroke-linecap="round" fill="none"/>
<path d="M266.8 529.4h0M278.2 517.2h0M302.6 530h0M294.9 511.7h0" stroke="#2c2590" stroke-width="2.8" stroke-linecap="round" fill="none"/>
</g>
<text x="86" y="409" font-size="11.3" text-anchor="middle" font-weight="bold" fill="#000" dominant-baseline="central">sh NC</text>
<text x="149" y="409" font-size="11.3" text-anchor="middle" font-weight="bold" fill="#000" dominant-baseline="central">sh CypD</text>
<text x="213.5" y="409" font-size="11.3" text-anchor="middle" font-weight="bold" fill="#000" dominant-baseline="central">sh NC</text>
<text x="276.1" y="409" font-size="11.3" text-anchor="middle" font-weight="bold" fill="#000" dominant-baseline="central">sh CypD</text>
<text x="86" y="489" font-size="11.3" text-anchor="middle" font-weight="bold" fill="#000" dominant-baseline="central">Ad vector</text>
<text x="149" y="489" font-size="11.3" text-anchor="middle" font-weight="bold" fill="#000" dominant-baseline="central">Ad CypD</text>
<text x="212.7" y="489" font-size="11.3" text-anchor="middle" font-weight="bold" fill="#000" dominant-baseline="central">Ad vector</text>
<text x="276" y="489" font-size="11.3" text-anchor="middle" font-weight="bold" fill="#000" dominant-baseline="central">Ad CypD</text>
<line x1="61.2" y1="568.6" x2="174.6" y2="568.6" stroke="#111" stroke-width="1.4"/>
<line x1="188.2" y1="568.3" x2="301.6" y2="568.3" stroke="#111" stroke-width="1.4"/>
<text x="117.5" y="582.3" font-size="12" text-anchor="middle" font-weight="bold" fill="#000" dominant-baseline="central">DLD1</text>
<text x="245.3" y="582.3" font-size="12" text-anchor="middle" font-weight="bold" fill="#000" dominant-baseline="central">RKO</text>
<line x1="395.2" y1="407.7" x2="395.2" y2="524.5" stroke="#111" stroke-width="1.3"/>
<line x1="391.7" y1="407.7" x2="395.2" y2="407.7" stroke="#111" stroke-width="1.3"/>
<text x="390.2" y="407.7" font-size="7.4" text-anchor="end" font-weight="bold" fill="#000" dominant-baseline="central">400</text>
<line x1="391.7" y1="436.9" x2="395.2" y2="436.9" stroke="#111" stroke-width="1.3"/>
<text x="390.2" y="436.9" font-size="7.4" text-anchor="end" font-weight="bold" fill="#000" dominant-baseline="central">300</text>
<line x1="391.7" y1="466.1" x2="395.2" y2="466.1" stroke="#111" stroke-width="1.3"/>
<text x="390.2" y="466.1" font-size="7.4" text-anchor="end" font-weight="bold" fill="#000" dominant-baseline="central">200</text>
<line x1="391.7" y1="495.3" x2="395.2" y2="495.3" stroke="#111" stroke-width="1.3"/>
<text x="390.2" y="495.3" font-size="7.4" text-anchor="end" font-weight="bold" fill="#000" dominant-baseline="central">100</text>
<line x1="391.7" y1="524.5" x2="395.2" y2="524.5" stroke="#111" stroke-width="1.3"/>
<text x="390.2" y="524.5" font-size="7.4" text-anchor="end" font-weight="bold" fill="#000" dominant-baseline="central">0</text>
<line x1="395.2" y1="524.5" x2="582.5" y2="524.5" stroke="#111" stroke-width="1.3"/>
<line x1="402.2" y1="480.6" x2="418.2" y2="480.6" stroke="#111" stroke-width="1.3"/>
<line x1="402.9" y1="480.6" x2="402.9" y2="524.5" stroke="#111" stroke-width="1.3"/>
<line x1="417.6" y1="480.6" x2="417.6" y2="524.5" stroke="#111" stroke-width="1.3"/>
<line x1="410.2" y1="524.5" x2="410.2" y2="527.6" stroke="#111" stroke-width="1.2"/>
<line x1="420.2" y1="446" x2="436.2" y2="446" stroke="#23a06b" stroke-width="1.3"/>
<line x1="420.9" y1="446" x2="420.9" y2="524.5" stroke="#23a06b" stroke-width="1.3"/>
<line x1="435.6" y1="446" x2="435.6" y2="524.5" stroke="#23a06b" stroke-width="1.3"/>
<line x1="428.2" y1="524.5" x2="428.2" y2="527.6" stroke="#111" stroke-width="1.2"/>
<line x1="444.2" y1="482.9" x2="460" y2="482.9" stroke="#f7802d" stroke-width="1.3"/>
<line x1="444.9" y1="482.9" x2="444.9" y2="524.5" stroke="#f7802d" stroke-width="1.3"/>
<line x1="459.4" y1="482.9" x2="459.4" y2="524.5" stroke="#f7802d" stroke-width="1.3"/>
<line x1="452.1" y1="524.5" x2="452.1" y2="527.6" stroke="#111" stroke-width="1.2"/>
<line x1="461.9" y1="498.6" x2="478.2" y2="498.6" stroke="#f9262b" stroke-width="1.3"/>
<line x1="462.5" y1="498.6" x2="462.5" y2="524.5" stroke="#f9262b" stroke-width="1.3"/>
<line x1="477.6" y1="498.6" x2="477.6" y2="524.5" stroke="#f9262b" stroke-width="1.3"/>
<line x1="470.1" y1="524.5" x2="470.1" y2="527.6" stroke="#111" stroke-width="1.2"/>
<line x1="499.9" y1="475.9" x2="515.9" y2="475.9" stroke="#111" stroke-width="1.3"/>
<line x1="500.5" y1="475.9" x2="500.5" y2="524.5" stroke="#111" stroke-width="1.3"/>
<line x1="515.2" y1="475.9" x2="515.2" y2="524.5" stroke="#111" stroke-width="1.3"/>
<line x1="507.9" y1="524.5" x2="507.9" y2="527.6" stroke="#111" stroke-width="1.2"/>
<line x1="517.9" y1="442.7" x2="533.9" y2="442.7" stroke="#23a06b" stroke-width="1.3"/>
<line x1="518.5" y1="442.7" x2="518.5" y2="524.5" stroke="#23a06b" stroke-width="1.3"/>
<line x1="533.2" y1="442.7" x2="533.2" y2="524.5" stroke="#23a06b" stroke-width="1.3"/>
<line x1="525.9" y1="524.5" x2="525.9" y2="527.6" stroke="#111" stroke-width="1.2"/>
<line x1="542" y1="470.1" x2="557.9" y2="470.1" stroke="#f7802d" stroke-width="1.3"/>
<line x1="542.6" y1="470.1" x2="542.6" y2="524.5" stroke="#f7802d" stroke-width="1.3"/>
<line x1="557.3" y1="470.1" x2="557.3" y2="524.5" stroke="#f7802d" stroke-width="1.3"/>
<line x1="550" y1="524.5" x2="550" y2="527.6" stroke="#111" stroke-width="1.2"/>
<line x1="560" y1="512" x2="575.9" y2="512" stroke="#f9262b" stroke-width="1.3"/>
<line x1="560.6" y1="512" x2="560.6" y2="524.5" stroke="#f9262b" stroke-width="1.3"/>
<line x1="575.2" y1="512" x2="575.2" y2="524.5" stroke="#f9262b" stroke-width="1.3"/>
<line x1="567.9" y1="524.5" x2="567.9" y2="527.6" stroke="#111" stroke-width="1.2"/>
<line x1="410.2" y1="473.5" x2="410.2" y2="488" stroke="#111" stroke-width="1.2"/>
<line x1="405.9" y1="473.5" x2="414.5" y2="473.5" stroke="#111" stroke-width="1.2"/>
<line x1="405.9" y1="488" x2="414.5" y2="488" stroke="#111" stroke-width="1.2"/>
<circle cx="410.2" cy="472.5" r="1.8" fill="none" stroke="#111" stroke-width="1.1"/>
<circle cx="409" cy="480" r="1.8" fill="none" stroke="#111" stroke-width="1.1"/>
<circle cx="410.2" cy="485.5" r="1.8" fill="none" stroke="#111" stroke-width="1.1"/>
<line x1="428.2" y1="437" x2="428.2" y2="455" stroke="#23a06b" stroke-width="1.2"/>
<line x1="423.9" y1="437" x2="432.5" y2="437" stroke="#23a06b" stroke-width="1.2"/>
<line x1="423.9" y1="455" x2="432.5" y2="455" stroke="#23a06b" stroke-width="1.2"/>
<circle cx="428.2" cy="436" r="1.8" fill="none" stroke="#23a06b" stroke-width="1.1"/>
<circle cx="428.2" cy="447.5" r="1.8" fill="none" stroke="#23a06b" stroke-width="1.1"/>
<circle cx="428.2" cy="455.5" r="1.8" fill="none" stroke="#23a06b" stroke-width="1.1"/>
<circle cx="447.5" cy="481" r="1.8" fill="none" stroke="#f7802d" stroke-width="1.1"/>
<circle cx="452.2" cy="483" r="1.8" fill="none" stroke="#f7802d" stroke-width="1.1"/>
<circle cx="456.5" cy="482" r="1.8" fill="none" stroke="#f7802d" stroke-width="1.1"/>
<circle cx="466" cy="496.5" r="1.8" fill="none" stroke="#f9262b" stroke-width="1.1"/>
<circle cx="470" cy="498" r="1.8" fill="none" stroke="#f9262b" stroke-width="1.1"/>
<circle cx="474" cy="497.5" r="1.8" fill="none" stroke="#f9262b" stroke-width="1.1"/>
<line x1="507.8" y1="473" x2="507.8" y2="478.5" stroke="#111" stroke-width="1.2"/>
<line x1="503.5" y1="473" x2="512.1" y2="473" stroke="#111" stroke-width="1.2"/>
<line x1="503.5" y1="478.5" x2="512.1" y2="478.5" stroke="#111" stroke-width="1.2"/>
<circle cx="507.8" cy="472" r="1.8" fill="none" stroke="#111" stroke-width="1.1"/>
<circle cx="505" cy="477" r="1.8" fill="none" stroke="#111" stroke-width="1.1"/>
<circle cx="510.5" cy="477" r="1.8" fill="none" stroke="#111" stroke-width="1.1"/>
<line x1="525.8" y1="427.6" x2="525.8" y2="456.8" stroke="#23a06b" stroke-width="1.2"/>
<line x1="521.5" y1="427.6" x2="530.1" y2="427.6" stroke="#23a06b" stroke-width="1.2"/>
<line x1="521.5" y1="456.8" x2="530.1" y2="456.8" stroke="#23a06b" stroke-width="1.2"/>
<circle cx="523.5" cy="433.5" r="1.8" fill="none" stroke="#23a06b" stroke-width="1.1"/>
<circle cx="528.5" cy="434.5" r="1.8" fill="none" stroke="#23a06b" stroke-width="1.1"/>
<circle cx="525.8" cy="459" r="1.8" fill="none" stroke="#23a06b" stroke-width="1.1"/>
<line x1="550" y1="460.3" x2="550" y2="478.3" stroke="#f7802d" stroke-width="1.2"/>
<line x1="545.7" y1="460.3" x2="554.3" y2="460.3" stroke="#f7802d" stroke-width="1.2"/>
<line x1="545.7" y1="478.3" x2="554.3" y2="478.3" stroke="#f7802d" stroke-width="1.2"/>
<circle cx="550" cy="458.5" r="1.8" fill="none" stroke="#f7802d" stroke-width="1.1"/>
<circle cx="547.5" cy="476" r="1.8" fill="none" stroke="#f7802d" stroke-width="1.1"/>
<circle cx="552.7" cy="473.5" r="1.8" fill="none" stroke="#f7802d" stroke-width="1.1"/>
<line x1="567.9" y1="508" x2="567.9" y2="517" stroke="#f9262b" stroke-width="1.2"/>
<line x1="563.6" y1="508" x2="572.2" y2="508" stroke="#f9262b" stroke-width="1.2"/>
<line x1="563.6" y1="517" x2="572.2" y2="517" stroke="#f9262b" stroke-width="1.2"/>
<circle cx="565" cy="509" r="1.8" fill="none" stroke="#f9262b" stroke-width="1.1"/>
<circle cx="570.5" cy="509" r="1.8" fill="none" stroke="#f9262b" stroke-width="1.1"/>
<circle cx="567.9" cy="516" r="1.8" fill="none" stroke="#f9262b" stroke-width="1.1"/>
<polyline points="410.4,462.6 410.4,415.2 428.6,415.2 428.6,429.2" stroke="#4a4a4a" stroke-width="0.95" fill="none"/>
<path d="M417.1 407.3L417.1 411.9M415.1 408.4L419.1 410.7M419.1 408.4L415.1 410.7M421.9 407.3L421.9 411.9M419.9 408.4L423.9 410.7M423.9 408.4L419.9 410.7" stroke="#000" stroke-width="1.1" fill="none"/>
<polyline points="451.9,478 451.9,438.5 470.2,438.5 470.2,486.9" stroke="#4a4a4a" stroke-width="0.95" fill="none"/>
<path d="M458.6 430.6L458.6 435.2M456.7 431.8L460.6 434M460.6 431.8L456.7 434M463.4 430.6L463.4 435.2M461.5 431.8L465.4 434M465.4 431.8L461.5 434" stroke="#000" stroke-width="1.1" fill="none"/>
<polyline points="507.5,460.3 507.5,414.5 525.7,414.5 525.7,428" stroke="#4a4a4a" stroke-width="0.95" fill="none"/>
<path d="M516.6 406.6L516.6 411.2M514.6 407.8L518.6 410M518.6 407.8L514.6 410" stroke="#000" stroke-width="1.1" fill="none"/>
<polyline points="548.9,453.7 548.9,440.4 567.8,440.4 567.8,505" stroke="#4a4a4a" stroke-width="0.95" fill="none"/>
<path d="M555.9 432.5L555.9 437.1M554 433.6L557.9 435.9M557.9 433.6L554 435.9M560.7 432.5L560.7 437.1M558.8 433.6L562.7 435.9M562.7 433.6L558.8 435.9" stroke="#000" stroke-width="1.1" fill="none"/>
<text x="363" y="467.8" font-size="9.75" text-anchor="middle" font-weight="bold" fill="#000" dominant-baseline="central" transform="rotate(-90 363 467.8)">Colonial survival&#160;&#160;(per dish)</text>
<text x="410.2" y="529.5" font-size="7.8" text-anchor="end" font-weight="bold" fill="#000" dominant-baseline="central" transform="rotate(-90 410.2 529.5)">sh NC</text>
<text x="428.2" y="529.5" font-size="7.8" text-anchor="end" font-weight="bold" fill="#000" dominant-baseline="central" transform="rotate(-90 428.2 529.5)">sh CypD</text>
<text x="452.2" y="529.5" font-size="7.8" text-anchor="end" font-weight="bold" fill="#000" dominant-baseline="central" transform="rotate(-90 452.2 529.5)">Ad vector</text>
<text x="470" y="529.5" font-size="7.8" text-anchor="end" font-weight="bold" fill="#000" dominant-baseline="central" transform="rotate(-90 470 529.5)">Ad CypD</text>
<text x="507.8" y="529.5" font-size="7.8" text-anchor="end" font-weight="bold" fill="#000" dominant-baseline="central" transform="rotate(-90 507.8 529.5)">sh NC</text>
<text x="525.8" y="529.5" font-size="7.8" text-anchor="end" font-weight="bold" fill="#000" dominant-baseline="central" transform="rotate(-90 525.8 529.5)">sh CypD</text>
<text x="550" y="529.5" font-size="7.8" text-anchor="end" font-weight="bold" fill="#000" dominant-baseline="central" transform="rotate(-90 550 529.5)">Ad vector</text>
<text x="567.9" y="529.5" font-size="7.8" text-anchor="end" font-weight="bold" fill="#000" dominant-baseline="central" transform="rotate(-90 567.9 529.5)">Ad CypD</text>
<line x1="407.3" y1="570.3" x2="473.4" y2="570.3" stroke="#111" stroke-width="1"/>
<line x1="504" y1="570.3" x2="571.5" y2="570.3" stroke="#111" stroke-width="1"/>
<text x="440" y="578.8" font-size="7.4" text-anchor="middle" font-weight="bold" fill="#000" dominant-baseline="central">DLD1</text>
<text x="538.7" y="578.8" font-size="7.4" text-anchor="middle" font-weight="bold" fill="#000" dominant-baseline="central">RKO</text>
<defs><filter id="soft" x="-5%" y="-5%" width="110%" height="110%"><feGaussianBlur stdDeviation="0.35"/></filter></defs>
<clipPath id="ce1"><rect x="50.2" y="625.5" width="59.4" height="59.3"/></clipPath>
<rect x="50.2" y="625.5" width="59.4" height="59.3" fill="#fefcfe" stroke="none" stroke-width="1"/>
<g clip-path="url(#ce1)"><g filter="url(#soft)">
<path d="M60 666.4l0.1 1.4M63 672.5l-0.1 1.8M80.2 639.5l0 0M85 629.6l0.4 0.3M52.7 684.7l-1.5 0.6M79.8 632.4l0.8 1.9M59.4 674l-0.3 0.1M77.1 658.2l0 0.8M61.3 627.7l1.4 1.3M96.5 637.9l-1.4 1.4M95.5 659.9l1.5 0.6M78.5 674.5l-0.4 0.1M102.9 649.8l0.1 0.8M73.1 684.5l0.8 0.1M55.7 668.1l0 2.2M79.4 658.1l1.3 1.1M86.4 658.5l0.3 0.2M70.9 680.5l-0.2 0.7M68.4 631.6l-0.1 0.1M96.4 647.7l-0.8 1.3M109 682.5l-1.2 0.5M79.4 647.8l-0.5 0.2M59.8 629.6l-1.3 1.2M78.9 675.1l0.1 0.1M54.3 645.5l-2 0.1M107.2 656.7l1.6 0.1M62.8 675.2l-1.6 0.6M85.9 650.8l1.1 1.5M81.9 641.9l1.7 0.1M90.9 682.1l-0 0M88.4 676l0.9 0.9M74.3 682.4l1.8 0.8M55.8 631.1l0 0.1M58.6 676.9l1.3 0.6M82.2 644.7l0.8 0.7M60.1 636.4l-0.5 0.7M82.9 628.2l-1.4 0.6M77.8 629.3l1.4 0.9M92.5 640.5l0.7 0.1M73.3 643.8l1.2 1.6M80.1 658.1l-0.1 0.2M80.4 669.1l1.2 1.8M91.7 656.7l-0.1 0.1M108.2 646.6l-0.7 0M56.6 630l-0.1 0.1M95.3 652.1l1.4 0.1M88.5 651.7l0.3 0.8M63.6 628.4l0.7 0.7M92 674l0.7 0.7M73.1 654.4l-1.4 0.2M55.3 653.9l-0.7 0.8M103.1 671.7l-0.8 1.4M101.2 667l-0.5 0.1M73.1 662l-1.8 0.2M109 625.9l0.4 0.6M73.4 634.1l1.2 0.3M68.2 681.5l0.2 1.6M56.6 682.2l1.2 0.9M70.1 663.5l1 1.1M106.7 644.6l-0.5 0.3M59.3 665.9l-0.1 0.4M66.7 648l0.2 1M86.9 642.1l0.1 0.4M66.4 636.7l2.1 0.2M98.3 680.9l-0 0M52.5 661.5l1.1 1.1M50.7 657.8l0.1 0.2M77.2 678.5l0.7 0.3M53.1 636.6l-0.1 0.9M63.6 673.1l-1.8 0.4M102.7 626.5l1.2 0.3M103.6 669.8l0.4 0.1M98.6 661.5l0.1 1.4M97.7 645.5l0.3 0.5M67.9 662.7l1.9 0.4M54.2 655.8l1.2 0.8M66.2 629l0 0.1M90.6 664.2l0.3 0.1M105.5 657.4l-0.5 0.7M71.1 657.1l1.2 0.7M100.7 673.3l1.2 0.9M104.2 683l-0.8 0.2M71.1 661.9l-1 0.9M88.6 635.1l-1.1 0.4M62.5 684.7l-0.9 0.8M55.1 649.6l-0 0.4M98.6 647l0.3 0M75.3 659.9l-0 0.1M62.7 631.8l-0.1 2M103.4 656l0.2 0.2M75.4 663.5l-1.2 1.2M72.7 654.5l-0.1 0.6M77.5 627.6l-0.5 1.7M97.9 669.2l0.8 2M73.6 625.7l-0.4 1.4M84.4 684.7l0.3 0.3M53.5 647.5l0 1.8M77.6 648.6l-0.4 1.3M91.4 676.8l0.6 1.5M65.1 671.9l-1.7 0.4" stroke="#eec4f0" stroke-width="1.5" stroke-linecap="round" fill="none"/>
<path d="M62 675.8l1.7 0.4M68.5 663.1l-0.3 0.1M65.9 666l0.5 0.4M62.5 655l1.1 0.9M91 645.4l0.5 1.2M61.7 633.9l-0.1 0.1M74.8 632.8l-0.8 1.6M51.5 668.5l0.2 1.2M79.9 682.6l-0.3 0.7M88 647.2l-0.5 0.5M88 652.6l-0.4 0.3M51.4 663.6l0.7 0.6M79.3 635.3l0.8 1.4M69.7 638.3l0.1 0.1M59.2 662.5l1.3 1.1M56.8 657.2l0.1 0.2M95.4 637.5l1 0.3M64.6 661l0.2 0.1M84.5 674l-0.5 0.9M50.7 643.4l-0.6 0.2M71.4 672l0 0.1M103.2 671.2l-0.4 0.1M54.9 682.7l-1 1.2M81.7 635.2l-0.3 0.6M89.2 648.6l0.1 0.1M55.6 644.8l-1.1 1.1M59.1 643.8l-0.1 0.2M76.5 639.2l-0.7 0.3M75.5 666.5l0.1 1.3M83.3 647.1l0 0.4M104.5 650.7l0.4 0M62.9 677l-0.3 0.6M63.9 664.1l-0.6 0.7M81.6 647.8l-0.2 0.5M69.7 678.4l1.5 0.7M90.5 671.3l-1.3 0.2M102.4 640.1l1 1.7M72.8 683.4l0.1 0.3M87.4 641.7l-0.4 0.3M86.6 669.6l-1.5 0.6M103.3 674.3l-0.6 0.8M80.7 683l0.3 1.3M89.6 643l0.1 0.2M58.3 625.7l0 0.2M95.5 628.4l-0 0.2M67.8 651.9l0.4 1.4M73.5 668.7l0.1 0.2M91.9 675l-0.2 0.5M68.8 667.1l1.5 0.7M70.7 681l-0.3 0.6M98.8 642l1.6 0M70.4 635.4l0.5 0.4M51.7 673.1l-0.1 0.3M83.1 675.9l-0.6 1.6M60.2 670.6l-0.2 0M68.5 640.5l0.1 0.4M97.2 676.2l1.1 1M102.1 684.6l-0.2 0M104.8 652.8l-1.1 0.9M61.3 662l-1.8 0.7M104.3 630.5l0.1 1.4M104.2 635.4l1 0.4M68.6 633.9l-0.5 1.2M53.9 681.9l0.4 1.9M84.3 647.1l0.4 1.2M76.4 670l0.2 0.3M104.3 635l0.5 0.7M65.7 646.4l-0 0.2M53.2 630.2l0.3 0.3M70.5 642.8l-0.8 1.5M78.3 671.2l0.8 1.1M86.8 669.7l-0.8 0.7M87.8 680.5l-0.3 0.5M108.2 656.8l1.7 0.5M93.2 641.2l-0.1 0.8M65 640.7l-0.5 1.2M57.1 642.9l1.6 1.2M82.1 666.8l-0.2 1M75.8 650.4l-0.7 1.2M65.7 666.6l0.9 0M90 684.3l-0.7 1.7M101.1 654.7l-1.1 0.4M53.7 647l0.4 0.7M75.6 628.9l-1.3 0.2M64.1 636.5l-0.5 0.4M63.7 671.2l-0.1 0.3M93 665.5l-0.2 0M100.6 654l-0.5 1.6M60.2 649l0.9 0.1M60 636.5l-0.5 1.1M76.8 649.4l0.9 1.7M60.9 632.2l0.6 0.2M72.8 664.2l-0.9 0.7M78.6 630.5l0.4 1.4M94.8 683.3l0.7 0.7M71.5 655.1l0.6 0.2M73.9 664.4l-1.2 1.1M88.5 628.7l1 1M78.3 641.6l0.4 1.5M96.6 680.3l0.4 0.7M71.7 672.2l1 1.2M76.7 682.5l0.1 0.1M89.7 679.3l0.2 1.9M97.1 683.2l0.5 0.4M65.6 671.9l-0 0.3M105.4 637.4l-0.1 1.3M107.6 655.9l-0.9 0.3M94.9 634.1l-0.8 0.1M107.4 654.7l0.6 0.5M66.6 637.7l-0.2 0.3M53.3 661l-0.8 0.9M83.9 680.5l0.5 0.2M84.8 641.5l-1.9 0.5M91 674.9l0 0.5M72.9 646l0.1 0.7M57.8 682.9l-0.3 1.1M68.9 667.4l-1.4 0.4M84.7 641.5l1.2 0.2M94.4 643.7l1.3 0.6M65.9 675.8l-0.1 0.8" stroke="#cf7fe0" stroke-width="1.3" stroke-linecap="round" fill="none"/>
<path d="M97.1 683.5l-0.3 0.4M78.4 672l0 0.5M87.8 676l-0.2 0.4M63.1 634.8l-0.4 0.9M88.2 681.7l-0 0.3M78.7 640.9l1.7 0.8M65.7 627.9l-0.6 1.1M63.5 680.2l1 0.8M75.1 682.1l0.2 0.6M62.5 674.1l-0.3 0.2M70.4 658.1l1.2 1.3M81.6 663.2l0.3 1.1M88.6 644.2l0.3 0M86.2 659.5l-0.2 0.3M77.1 656.6l-0.1 1.7M76.1 663.8l-0.3 0.1M80.9 628l-0.9 0.2M108.3 650.8l-0.5 0.1M67.1 626.6l0 0.5M93.4 645.9l-0.2 0.3M76.1 666.7l-0.8 0.5M80.6 683.3l-1 1.2M79.3 661.6l0.7 0.2M102.7 673.4l-0.3 1.7M109.3 653.6l1.9 0.5M72.7 659.4l-0.1 1.6M97.1 647.7l-1.1 0.8M85.9 626.7l0 0M57 670.8l-0.2 0.3M54.5 637.8l-1.4 0.3M54.4 661.9l-0.3 0.7M54.8 626.5l-0.1 0.1M79.3 661.8l-0.1 0.2M103.7 637.2l-1.4 0.7M109.1 659.1l0.6 1.1M96.6 643.9l-0.5 1.1M92.8 640.9l0.5 0.7M88.4 651.2l-0.2 0.1M88.6 673.1l-0.4 0.5M81.8 630.9l1 1.4M78.7 670.7l-1.6 0.8M72 675.7l-0 0.3M75.9 676.9l-0.7 1.3M98.4 646.1l0.8 0.3M71 637.3l1.3 0.6M104.5 661.1l0.8 0.3M76.7 658.9l-0.3 0M71.6 651.3l0.2 0.5M66.6 676.1l0.1 0.1M79 629.2l0.1 0.6M95.7 651l-0.4 0.7M66.6 658.1l-0.1 0.4M82.2 664.3l-1.4 1M108.9 639.3l0.3 1.9M72 652.5l-1.8 0.3M98 643.4l0.2 0.1M90.1 667.1l0.1 0M109.3 645.5l0 0.1M56 673.8l-0.4 1M105.3 632.9l-0.3 0.3M87 681.5l-1.8 0.5M108.3 633.3l-0 0M64.9 656.4l-0.9 0.1M76.5 633.5l-0.4 0.1M98.7 633.8l-0.5 0.6M83.7 676.4l1 0.1M83.3 676l-0.7 0.4M76.7 646.8l0.5 0.5M79.9 682.4l-0.9 0.8M60.9 647.4l0.8 0M101.8 633.2l1.2 1.5M66.2 645.1l1.8 0.9M64.8 678.6l-0.3 0.5M95.3 680l0.9 0.3M81.5 632l0.6 0.1M63.3 629.4l0.1 0M108.6 627.5l0.2 1.4M85.1 643.6l-1.6 1.1M74.2 651.1l1.6 0.9M102.1 662.2l-0.1 1.1M71.2 638.6l-0.1 0.1M75.2 669.4l-0.8 0.1M64.7 655.9l-0.7 0.5M58 657.9l-0.3 0.8M64 657.7l1.9 0.6M107.9 682.8l0.9 0.2M79.7 682.6l-0 0M96.5 632.4l0.3 0.1M81.2 643.2l-0.1 1.3M63.8 680.1l-0 0M67 678.8l0.2 1.2M63 676.3l-1.7 0.2M85.2 680.3l-0.9 1.6M70.3 661.3l-0.6 0.4M83 676.9l-1.3 1.2M70.1 634.8l-0.5 0.4M57.3 679.9l-1.4 1.2M64.3 642.7l-1.2 0.3M51.4 630.6l1.6 0.1M103.3 636.5l0.2 1.9M86.2 674.4l0.4 1.6M77.5 672.3l0.3 0.4M101.9 677.8l0.3 0.6M56.4 674.9l0.1 0.1M51.6 652.6l1.9 0.4M65.2 641.4l0.6 0.4M91.3 678.9l0.3 0.1M74.4 680.9l0.1 0M88.5 670.7l0.9 0.1M82.9 631.4l0.1 0" stroke="#7030b8" stroke-width="1.3" stroke-linecap="round" fill="none"/>
<path d="M105.9 631.6l-0.7 0.5M62.1 648.6l0.8 0.6M82.1 684.5l-1.5 0.2M51.6 629l0.9 0M107.4 642.8l-0.9 0.4M75.5 670.9l0 0.3M101.2 646.7l0.9 1.4M99.4 632.9l-0.7 1.6M74.8 683.7l-1.5 0.9M63.4 630.8l1 0.5M53.8 658.4l1.1 1.3M99 682.5l0.1 0.1M106.9 682.7l0.3 0.2M59.7 659.8l-0.6 0.3M59.3 678.7l0.5 1.3M86.1 665.6l-0.2 0M76.4 656l1.5 0.1M66.1 627.3l1 0.8M92.8 668.1l1.5 1M74.8 672.2l0.7 0.4M90.3 672.6l0.3 0.8M58.1 649.6l0.7 1.4M106.9 646.7l-0.7 0.5M77 633.2l-0.8 0.5M77.2 654l-0.9 1.5M104.7 637.4l-0.5 0.6M54.6 659.4l1.1 0.1M62.3 672l-0.1 0.3M75.2 648.6l0.5 1.5M102.4 674.2l0.1 0.2M106.9 641.2l0.9 0.6M93.7 666.3l-0.5 1.5M56.8 672.7l-1 0.2M81.1 644.7l-0.2 0.8M91.7 663l-0.2 1.5M62.4 676.4l1.1 0.6M77.6 676l1 0.4M91.4 676.7l-1 0.2M82.2 626.2l-1 0.6M104.6 670.3l0.1 1.4M53.8 635.4l-0.1 0M98.2 679.2l-0.2 0.8M51.7 635l0.7 0.1M69.2 656.3l0.2 0.2M55.3 652.6l0.2 1.5M92 668l-1.2 0.9M79.9 628.2l0.2 0.2M70.2 661l0.6 0.7M60.2 669.3l-1.1 1.4M58.6 666.7l-0.2 1.4M87.9 676.6l-0.5 0.7M60.2 675.1l0.8 0.6M87.3 674.4l0.4 0.7M92.4 684.5l1 1.4M79.1 647.8l-0 0.3M67.3 653.8l-0.3 1.5M109 637.5l0.3 0.1M92.1 642.5l-0.2 0.4M108.9 670.2l-1.7 0.4M81.5 638.5l1.1 0.9M54.3 647.7l-0.5 1.2M74.6 633l-0.1 0.3M79.6 657.7l-0.3 1.3M71.6 655.4l0.4 0.2M73.5 644.6l0.1 0M86.7 673.2l-0.5 1.4M63.6 663.3l0.4 0.3M69.7 633.5l-0.2 0M55.2 683.1l-0.9 0.9M56.8 665.8l-0 0.4M77.1 679l0.2 0M84.9 656.6l0.1 0.1M92.6 660.6l0.6 0M52.8 678.4l0.5 0.1M67.5 638l1 0.2M82.3 663.8l-0.3 0.9M64.5 648.7l-0.4 0.3M61.5 653.8l-0.8 1.4M94.8 647.1l-0.9 1.2M99.5 657l-0.3 0.4M76.1 628.5l0.7 0.4M54.6 641.3l-0.9 1.5M76 660l-0.1 0.7M65.7 676.2l0.2 1.4M83.2 647.6l-1.2 0.7M105.2 631.9l1.3 1M56.8 650l1.1 0.4M88.4 682.9l-1.2 0.7M72.2 677.9l1.2 1.3M83.6 661.6l0.8 0.3M56.1 634.1l0.8 0.2M93 652.9l0.4 1M54.4 676.1l0.8 0.9M55.1 662.8l-1.2 1.2M105 684.4l0.2 0.1M77.9 632.1l-0.7 0.5M65.7 674l-0.4 0.3M54.7 632.6l-0 0.1M51.5 666.7l-0.7 0.2M73.1 675l0.5 1.2M96.5 661.1l0.2 1M59.3 656.5l0.2 0.9M108.6 635.7l-0.3 1.6M56.1 658.9l0 0.3M78.7 671.3l1.6 0.4M55 653l0.1 0M80.5 637.9l0.9 0.7M89.8 662.5l-0.1 0.1M105 684.4l-0 0.1M69.2 650.2l-0 0.1M57.9 676.2l-0.1 0.2M83.1 627.4l0 0.2M73.4 634.7l0.1 0.1M98.5 633.6l-0.2 0.1M108.1 650.1l-1 0.6M59.2 628.2l0.9 0.8M63.2 654.8l0.2 0.2M62.2 630.9l-1.3 0.7M93.7 651.6l-0.2 1M51.5 646.6l-0.2 0.3M107.4 662.7l-0.5 0.3M54.9 673.3l-0.1 0M95 683.9l-0.4 0.8M73.9 670l0.1 1M65.5 684.4l0.2 0.6M82.7 642.7l0.5 0.6M76.5 672.8l-1.3 0.3M105.6 641.4l-0.8 1.2M87.4 654.4l-1 0.2M56.5 646.7l-0.2 0.2M77.5 644.5l0 0.6M68.4 654.8l1.1 0.1M63.3 656.6l-0.3 1.1M93.7 651.2l-1.2 1.1M80.2 659.3l0.9 1.1M67 655.1l0.9 0.1M80.1 680l-0.2 1.5M91.8 647.5l-0.1 0.1M82.2 661.7l-1.1 0.1M68.1 659.3l-0.7 1.1M104.3 627.9l1.4 0.2M69.1 646.4l-0.3 1.6M83.2 664.9l0 0M77 628.4l0.4 0.4M57.8 636.7l-0.3 0.6M100.8 644.4l-0.9 1.1M56.3 637.4l1.4 0.7M87.4 660.1l-1.2 0.8M58.3 668.4l-0.8 1.4M107.1 630.4l-0.8 0.1M72.5 651.1l0.6 0.7M79.9 680.6l0.4 0.4M104.7 667.6l-1.6 0.1M68.3 625.5l-0.6 1.2M73.3 679.1l-0.3 1.4M67.7 668.7l-0.1 0.9M89.1 681l0.2 0.1M95.9 638.4l-0.5 0.8M88.2 649.2l-1.5 0.8M77.3 668.9l-0.5 0.1M50.4 659.1l-1.3 0.4M82.4 655.9l0.5 1.3M54.8 636.1l0.7 0.3M96.6 666.2l0.6 0.4M74.9 677.2l-0.8 1.2M73.1 675l0.4 0.8M103.7 665.3l0.1 0M78.3 671.5l-0.1 0.8M58.3 661.4l0.3 0.7M62.8 660.6l-0.2 1.5M86.2 658.5l1.3 0M107.6 654.7l-0.1 0.1M95.4 647.2l1.1 0.1M94 665.4l0.1 1.4M104.8 650.1l0 0M69.4 638.8l0.4 0.1M88.7 678.2l0.7 1.5M79.9 656.7l0.3 1.3M51.4 644.3l-0 0M107.7 659.4l-0.3 1.2M108 635.4l0.5 0.9M77.4 638.4l0.7 1.2M66.1 676.3l0 0M105.3 665l0.3 0.1M90.2 674.9l-1.8 0.3M94.8 630.5l-0.1 0.8M51.6 626.3l-0.4 0.8M66.3 682.8l-0.1 0M105.6 630.7l-0.5 1.4M76 651.4l-1 0.2M95.2 653.5l0.7 0.4M82.7 676.5l-0.3 1.1M77 683.9l-0.1 1.5M89.5 673.3l-0.2 0.4M67.2 670.8l-0.5 0.1M91.3 656.8l0.7 0.8M51.6 652.3l0 0.5M62.7 637.8l0.7 1.6M91.2 651.4l0 0M85.7 638.6l0.3 0.1M59.5 628.3l-0.6 0.5M60.5 642.3l0.5 0.4M89.4 679.3l0 0M51.8 644.3l0 0.2M62.3 669l0.7 0.2M83.1 652.7l1 0.9M73 668.2l-0.3 1.7M86.5 645.3l0.4 0.7M79.7 642.5l0.6 0.1M55.4 676.9l-0.6 0.1" stroke="#2e1460" stroke-width="1.35" stroke-linecap="round" fill="none"/>
</g></g>
<rect x="102.6" y="681.3" width="4.5" height="1.2" fill="#e53030" stroke="none" stroke-width="1"/>
<clipPath id="ce2"><rect x="114.8" y="625.5" width="60" height="59.3"/></clipPath>
<rect x="114.8" y="625.5" width="60" height="59.3" fill="#fcf8fc" stroke="none" stroke-width="1"/>
<g clip-path="url(#ce2)"><g filter="url(#soft)">
<path d="M172.3 633.8l-0 0M125.9 632.7l0.6 1.2M168.2 639.2l1 1.6M150.9 680.8l-1.3 0.3M157.3 628.4l-0.5 1.7M133.4 636.8l-0.4 1.6M171.1 671.4l-0.4 1.9M156.7 661.8l-0.5 0.1M133.5 671.8l-0.9 1.7M123.3 674.4l1.1 0.7M117.7 657l-0.1 0M145.2 656.2l-0.4 0.7M169.8 643.7l-0.2 0.7M132.6 660.8l0.2 1.1M155.2 656.8l-0.2 0M136.1 651.1l-0.8 0.2M171.9 655.9l0.8 0.2M168.5 635.7l0.5 1M134.5 646.7l0.4 0M146.9 672.7l1 0.8M156.4 628.6l-0.7 0.4M170.1 652.8l0 1.7M146.2 660.2l-1.4 1.4M143.2 668.6l0.6 1.2M161.9 674.1l-1.2 0.2M115.9 655.2l0.6 1.1M125.1 666.5l0.6 0.6M117.3 682.9l0.7 0.3M127.8 640.6l1.5 0.9M131.4 631.3l0.7 0.6M135.4 669.1l-1.6 0.9M117.1 647.9l1.7 0.2M127 654.6l-0.5 0.5M157.9 653l0.4 0.3M130.8 629.4l1.2 0.6M168.2 663.8l0 0.1M151 628l1 0.1M160.8 625.7l-1.3 0.1M165.6 639.3l1 0.5M135.3 676.7l1.6 0M137.6 663.5l-0.3 0.2M168.4 658.2l-0.6 0.3M145.6 636.7l0.5 0.3M165.1 655.7l-1.2 0.8M173.2 636.8l-0.7 0.3M160.5 648.4l1.1 0.8M124.5 628.5l0.6 0.5M145.9 683l-0.1 0.3M166.7 661l-0.8 0.7M116.1 681.7l-1.1 0.8M164.3 631.3l0.1 0.1M145.1 681.1l0.5 1.7M152.1 669.4l-0.7 0.1M171.3 668.6l-1.5 1.1M153.9 644.6l0.4 0.4M118.2 680.4l0.6 0M133.8 631.6l0.4 0.8M125.3 653.8l0.4 0.7M163.6 643.7l-1 0.4M172.3 647.7l-0.1 0M145.6 638.4l0.2 0.2M133.4 633.7l-0.1 0M164 632.2l-0.8 0.6M145.1 629.6l0.2 0.6M169.7 660.1l-0.4 0.8M117.7 666.2l-0.8 1.4M136.5 642.5l0 0M124.1 652.4l1.2 1M143.1 663.2l1.3 0.1M170 660.2l0.4 0.4M156.1 680.8l0.2 0.6M148.2 635.9l-0.8 0.2M148.2 674.3l-0.5 0.2M161.8 638.9l-0.6 0.9M149.2 661.2l-0.1 0.5M136.1 672.8l-0.7 0M149.6 639l0.8 0.3M159 628.2l0.7 1M161.4 633l-0.8 1.1M128.8 633.2l-0.3 0.7M130.5 626l-0.7 0.5M124.3 681.3l0.9 0.5M120.8 647.5l0.8 0.5M119.8 655.2l0.1 0.5M141.8 666.9l0.9 0.8M125.6 676.4l0.1 0M119 674.5l-1.1 0.3M152.4 645.4l-0.6 0.6M128.7 673.1l0.8 0.1M135.4 658.7l-0.3 0.1" stroke="#e6a8ee" stroke-width="1.5" stroke-linecap="round" fill="none"/>
<path d="M170.4 655.8l-1 1.5M147.1 634.9l-1.8 0.5M141.9 648.3l-0.1 0.1M166.1 648.6l-0.2 0.5M162.4 635.6l-0.2 0.5M117.3 673.9l-0.5 0.3M142.1 635.3l0 0M130.4 670.4l-0.6 1.5M133.2 664.9l0.6 1.3M119.7 653.3l0.4 0.2M138.2 629.9l1.1 1.4M168.7 669.2l-0 0M163.4 656.7l0.1 1.8M116.3 634.4l-0.6 0.3M164.6 632.5l0.7 0.2M128.5 646.4l0.7 0.4M154.3 639.9l0.1 1.8M140.6 670.9l0.5 0.5M122.2 643l-0.3 0.3M136.1 667.4l0.5 0.1M133.1 648.8l1.5 1.1M127.5 634.7l-0.5 0.1M170.7 639l0 0.1M149.9 632.1l-0.6 0.6M114.9 668.1l-1.1 0.9M144 653l0.9 0.4M145.6 639.7l0.6 0.1M124.3 628.8l0.8 0.7M148.1 655.4l0.4 0.2M150.6 665.6l-0 1.4M149.6 627l-0.5 0.4M137.4 631.7l-0.7 0.4M120.7 632.1l-0.9 0.4M138.2 640.2l1.5 0.4M132.5 661l-1.5 0.7M134.3 641.3l0.7 0.3M131.2 671l1.3 1.5M119.1 669.3l-1.5 1.2M139.6 669.6l-1.1 1.1M144.4 684.7l1.2 1.1M140.6 630.8l-0.6 0.4M144 656.6l1.5 0.4M136 654.2l-0.5 0.8M171 673l-0.6 0.9M147.1 684l-0.3 1.1M138.6 650.4l0.6 1.4M169 668.7l-1.2 1.5M149 647.3l-0 0M159.9 668.4l1.5 0.2M155.8 642.1l-0.7 0.3M139.1 653.2l0.1 0.1M127.4 638.3l1 0.2M120.1 630.6l-1.5 0.1M159.8 656l-0.2 0.2M122.6 630.1l-0.9 0.4M133.4 676.7l-0.7 0.1M159.1 676.8l-1.7 1.1M126.6 656.1l-0.7 0.8M128.6 659.7l0.5 0.3M141.8 673.1l0.5 1M128.3 646.8l0.5 0.6M133.5 639l-0.3 0.5M152.3 662.7l-0.9 1.6M122.6 649.4l-0.7 0.7M146.6 631l-0.4 0.8M161.9 651.9l0.4 0M145 670l-0 0.2M150.6 658.7l0.4 0.1M116.1 643.6l0.4 1.7M174 674.4l0.2 1.1M148.5 675.3l0.6 0.3M168.7 662.9l0.2 0.7M120.9 659.1l0 1.6M156.6 669.3l-0.3 0.6M173.1 667.9l-0.2 0.3M153.5 671.5l-1.4 0.4M173.4 637.9l0.9 0.1M174 631.8l-0.3 0.8M140.6 635.7l0.8 0.6M144.2 667.9l0.1 0.6M152.7 657l-1.5 0.5M172.8 635.3l0.9 0.3M156.7 649l0.1 1.7M162.7 627.3l0.3 1.2M164.8 631.6l-0.1 0.1M134.4 651.3l-0.8 0M152.2 674.9l-1.5 0.7M141.6 642.7l-1 0.3M167.8 653.9l-1.3 1.2M117.2 663.1l1.6 0.2M137.5 663.8l-0.1 1M120.2 641l0.8 1.5M143.5 660.5l0.2 0.5M145.1 677l1.4 0.9M145 670.1l-0.2 1.8M152.7 663.8l-1.3 0.4M173.9 684.3l-0.2 0.2M138.1 642.1l-0.2 0.1M168.4 656.9l0.8 0.6M170.4 670.4l-0.1 0.3M174.6 641.1l0.3 0.7M137.1 632.5l0.9 0.9M155.6 653.2l-1.2 1.2M166.3 634.7l-1.2 1M132.3 625.6l-0.1 0.1M172.9 629.5l0.1 0.5M118.9 663.5l-1.5 0.8M125.5 679.5l1.4 0.7M166 680.7l-1.2 1.2M163.8 657.2l-0 0M144.8 634.3l-0.2 0.1M169.1 628.5l-0 0M132.3 677.1l-0.6 0.7M117.6 671.5l0.1 0.4M144 644.8l0.1 0.5M117.9 634.8l-0.2 0.1M133.5 683.8l1.6 0.9M166.2 684l0 0.9M155.3 654.6l-0.4 0.4M128 648.3l0 0M163.2 633.7l0.1 0.4M132.7 625.9l0.1 0.1M162.4 671.5l-0.9 1.3M174.7 640.8l0.2 1.4M172.4 651.8l-1.1 0.9M172.6 670.9l-0.3 0.6M162.6 681.2l-0.3 0.4M158.1 634.9l-0 0.2M150.7 645l1.1 0.6M149.2 657.2l-1.1 1.3M119.6 658.5l-0 0.3M155.5 667.3l-0 0M125.3 655.5l0 1M160.6 643.2l0.7 0.7M126.7 663l-0.3 0.2M137.3 632.2l1.6 0.1M132.5 664.3l-0 0M148.5 683.4l-0.5 0.3M173.6 655.1l0.1 0.1M163.6 625.5l-0.1 1.3M159.2 647.5l1.8 0.7M139.8 643.6l0.9 0.7M138 652.2l1.8 0.2M131.8 634.3l-1.1 0.9M115.8 671.9l0.2 1.8M150.5 672.5l1.4 1.2M157.3 630.2l-0.7 0.2M152.5 657.1l0.1 0.9M116.7 658.8l1.8 0.7M116.9 662.6l0.4 1.6M119.8 663.7l1 0.9M163.6 657.7l1.2 1.1M136.5 664.8l-1.2 0.6M171.4 668.2l0 0M154.8 671.7l0.6 0.1M149.6 636.9l0.8 0.7M167.5 627.3l-1 0.4M153.4 634.1l-0.9 0.6M152.7 679.2l0.6 1.5M122.2 666.5l-0.8 0.5M141.5 668.1l-0.2 0.2M166.7 673.5l-0.8 1.3M125 645l0.3 0.4M149.9 647l-1.2 0.4M174.4 625.7l-0.3 1.2M140.7 669.1l1.3 1.2M152.9 634.9l0.4 0.8M164 679.5l-0.1 1.7M157.4 664.1l1 0.4M130.9 682.2l1.1 0.4" stroke="#b050d0" stroke-width="1.4" stroke-linecap="round" fill="none"/>
<path d="M136.2 633.4l0.1 0.2M132.3 626.6l-1 0.2M142.6 649.2l0.5 0.6M134.4 637l-0.8 0.2M136.7 677.7l-0.4 0.9M143.7 648.7l-0.5 1.7M126.2 643.7l-0.2 0.8M137.4 641.2l-0.6 0M159.2 676.7l1.6 0.8M147 668.4l-0.1 1M152.8 663l0.3 0.1M131.2 627.6l0.6 0.1M121.1 664.4l-0.2 0.3M140 675.1l-1 0.4M140.3 650.3l-1 1.6M140.5 677.2l-0.6 1.3M116.4 678.2l0.2 0M135.1 637l0 0.5M145 665.8l-1 1.4M166.8 651l-0.2 0.2M174.5 635.5l0.4 1.2M173.8 627.4l0.4 0.9M137 669.6l0 0M172.8 652.8l-0 0M154.2 680.6l-1.7 0.3M130.7 644.4l0.6 1.2M137.3 627.8l0.4 0.2M137.2 667.1l0.2 0.3M119.7 649.6l-0.4 1.1M153.6 657.3l-1.1 0.8M165.2 625.5l0.1 1.9M174.4 670.7l0.9 0.1M120.6 671.5l0 0M156.7 661.5l1.3 0.3M172.3 669.9l-0 0M134.4 639.3l-1.2 0.1M116.7 673.2l1.8 0.5M168.6 626.4l0.6 0M125.5 635.7l0.2 1.1M172.9 670.3l0.1 0M131.5 673.8l-1.4 0.8M166.8 668.9l-1 0.5M164.2 674l-0.2 1.8M120 662.5l-1.4 0.2M159.6 678.6l0.9 1.6M170.4 659.3l0.2 0.9M144.6 650.1l1 1M141 664l-1.3 1.5M148.1 647.7l-1.3 0.3M115.9 648.4l-0.4 0.4M154.8 625.7l0.5 1.7M123.1 631.4l0.1 0.1M119.7 667.3l0.1 0.3M154.3 651.7l0.1 0.6M142.4 659.8l0.6 1M155.6 676.2l-0.7 1.8M132.5 625.5l-0.9 0M174.2 667.5l0.3 0.2M124.1 651.2l1.5 1.2M163.8 658l0.1 0.5M118 663.1l0.9 1.5M173 642.6l-0.4 0.6M127.6 627.7l0 1M124.5 635.8l0.2 0.1M123.8 664.1l-0.5 1.7M128.5 658.2l0.8 1.7M158.6 625.8l-1.4 0.7M147.4 678.6l-0.9 0.8M144.2 648.2l-0.1 0.5M161.1 627.6l1.3 0.1M153.4 667.9l-0.8 1.6M153.9 666l-0.8 1.1M155.7 675.7l-0.7 0.1M126.4 628.1l-0 0.1M166.2 632.8l0 1.8M154.6 635.3l0.2 2M129.2 662.4l-0 0.1M165.1 632.9l0.3 0.4M126.5 662.3l0.2 1.6M156.5 679.3l0.6 1.5M168.5 636.6l1.6 0.4M134 631.6l1.1 0.4M151.3 635.4l0 1.3M133.5 633.8l1.2 0.9M134.7 680l-1.1 1.3M153 675.5l-1.4 0.8M159.9 650.1l0.5 1.4M148.6 627l-0.2 0.3M119.9 631.4l-1.7 0.6M173.2 672.3l-0.2 0.6M145.8 630.4l-0.1 0.3M140.2 659.6l1.8 0.4M124.3 683.5l0.1 0.2M148 641.3l0.7 0.4M163.4 638.9l0.2 1.4M145.1 630.2l1.8 0.1M166.8 626.6l0.1 0.8M151.5 641.2l0.9 1.8M128 669.1l-0.4 1.2M172 677.8l-0.6 0.2M168.3 628.8l-0.9 0.4M138.9 645.4l-0.9 0.5M115.5 664.5l-1.4 0.2M153.6 641.3l-0.9 1M122.5 671.8l-0.3 1.2M153.7 662.1l0.3 0.1M115 644.3l-0.1 0.4M120.6 633.2l-0.8 0.6M143.8 628.9l-0.3 1.8M169.7 670l-1.5 1M159.7 676.8l-1.3 0.1M169.8 635.3l-0.9 0.2M155.4 662.2l0.8 0.2M140.3 626l0 0.3M141.4 663.1l-0.9 0.8M148.9 672.6l0 0.1M171.2 669.7l-1.7 0.2M124.4 654.6l0.9 1.5M145.8 636.6l-0.1 0M159 671.7l-0.3 1.8M165.3 671.7l0.1 0.9M127.1 651.6l1.7 0.2M171.6 637.5l0.6 0.8M116.9 662.2l0.1 0.3M164.8 652.3l0.6 0.3M115.9 673.5l0.6 0.8M160.3 656.8l-0.5 0.1M139.4 645.2l0.5 1.9M142.8 674.9l0.9 0.9M117.8 629.3l-0.2 0.2M137.3 657l0.6 0.1M173.9 664.9l-0.5 1.3M117.8 674.3l1.3 1.2M166.3 682.7l-0.3 0.1M117.5 669.9l1.8 0.8M141.6 626.7l1.1 0.2M144.3 636.7l-0.2 0.3M129.1 634.6l0.2 0.5M155.3 660l-0.7 0.9M131.1 665.8l0.1 0M148.8 664l-0.6 0M121.7 673.6l-0.3 1M140.4 629.2l-0.5 0.7M159.3 674l-0 0.6M122 651.2l-0.7 0.5M120.4 628.4l-1 0.8M119.2 666.1l-0.3 0.1M153 637.6l-0.7 0.4M171.8 627.6l0.8 0.3M172.7 681.8l-0.7 0.4M130 675.5l0.2 0.3M146.5 669.6l0.9 0.3M116.8 634.9l-0.3 0.5M126.1 679.5l0.7 1.1M149.2 675.6l-0.3 0.4M153.2 674.5l1.3 0.3M166.6 638.1l1.1 0.4M162.1 674.5l-0.9 1.3M169.6 657.1l1.1 1.3M123 639.3l-0.6 0.5M161.2 643.4l-1.5 0.5M138.4 666.4l0.2 0.6M127.2 644.4l0.1 0.1M162.6 636.4l-0.4 0.1M135.7 640.1l0.3 0M167.4 668.5l-1.8 0.7M152.3 681.7l-0.3 0.4M163.5 634.5l-1.8 0.2M127.8 635.3l0.2 0.1M135.3 672.9l0.3 0.3M155.6 673.4l-0 0M155.5 644l0.9 0.2M141.2 625.7l-0.1 1.5M125.3 638.1l0.7 0.9M160.5 660.3l1.4 0.6M127.1 681.4l0.3 1.4M174.8 628.9l1.1 0.5M133.3 637.8l0.8 0.1M125.5 665.7l0 0.3M173.2 671.7l-0.1 0.1M149.7 657.5l-1.6 0.2M136.5 674.3l-0.1 0.4M167.9 672.1l-0.7 0.2M149.7 678.4l0.3 1.6M136 633.3l1.6 0.7M119.7 643.6l0.2 0.2M156.6 644.7l0.6 1.6M166.9 674.5l-0.1 0.5M155.4 635.7l-0.1 0M115.6 636.8l-0.2 0.1M153.9 655.7l-1 0.1M127.4 674.6l0.4 0.4M156.2 650l-0.7 1M118 648.6l-0.7 0.4M161.6 651.5l-0.6 0.5M159 628.1l-1.5 0.7M131.9 665.3l0.7 0.7M118.6 657.6l0.4 1.4M153.3 636.3l-1.1 1.2M144.5 631.8l0 0M129.7 627.8l-0.6 0.1M145.9 666l0.5 0.7M124.7 659l-0.1 1.4M142.6 660.5l-0.4 0.1M166.6 635.1l-1 1.4M116.9 671.3l1 1.3M126.7 654.2l0.1 0M157 648l-0.8 0.2M162.7 643l0.1 0M154.6 658.3l-0.2 2M151.5 672.8l0 1M136.4 654.8l0.1 1.4M159.7 647.8l0.3 1.2M148.5 671.2l0.2 0M127.9 639.2l-0.1 0.3M142 652.3l1.4 0.6M170.2 671.9l-0.4 0.4M166.2 625.6l-0.4 0.5M134.8 635.7l0.4 0.5M158 655.4l-0.7 0M135.3 658l-1.8 0.1M140.1 648.3l-0.1 1.2M147.4 658.1l0.3 0.2M148.3 639.2l0.9 0.1M136.3 635.1l-0.9 0.3M125 638l0.4 0.5M120.3 630.4l-1.2 0.6M115.4 670.7l-1.1 1.2M160 631.1l-0.5 0.3M145.9 671.7l-0.5 0.2M168.5 635.5l-1.5 0M117.8 639.5l-1.1 1.5M136.3 635.5l1.8 0.3M174.6 627.7l0 0.7M150 674.1l-0.8 0.2M134.2 646.6l1 1.7M144.5 629.6l-0.1 1.6M166.4 665.5l0.8 0.1M135.8 654.3l0.1 0.8M129.1 638.7l-1.5 1.1M137 674.4l-0.1 0.1M131.5 642.6l-0.2 1M132.5 640.3l-0.7 0.4M170 678.2l-1.5 0.2M117.3 677.6l0.7 0.1M127.3 676.5l1.3 0.3M133.8 680.3l-2 0.2M168.4 680.6l0.2 1.8M130.1 657.9l-0 0.1M131.5 637.9l-0.4 0.7M143.8 632.2l1.5 1.2M149.6 675.1l0.3 1.3M168 631.1l1 0.4M145 643.2l0.2 1.6M125.9 635.9l0 0.3M166.5 679.8l1.5 0.4M152.9 640.4l0.2 0.1M161.2 629.4l0.9 1.5M137.2 679.1l0.1 0.3M166 663.1l0.5 0.1M163.9 662.3l1.6 1M131.8 667l-0.6 0M133 632.5l0.9 0.3M137.8 681l0.3 1.3M154.7 674.5l-0.1 0M168.9 650l-0.3 0.3M147.8 632.3l-0 1.2M150.6 627l0.2 1.1M166.6 668l-0.3 1.4M128.7 674.8l-0.5 0.1M146.6 649.9l0.1 0.8M145.1 634.8l0.8 0.1M148.5 632.4l0.4 0M145.3 627.4l-0.5 0.8M122.3 645.6l0.1 0.6M133.6 647.5l1.7 0.1M170.1 679.2l-0.9 0.9M158.7 650.5l0.3 0.1M151 665.8l-1.4 0.1M132.4 661.1l-0.5 0.2" stroke="#6a20b0" stroke-width="1.45" stroke-linecap="round" fill="none"/>
<path d="M118.7 661.4l1.2 1.1M173.3 650.2l1 1.5M169.1 646.8l-1.4 0.4M149.3 669.7l-1.3 0.4M163.6 662.9l-0.3 1.3M130.1 626.7l1.6 0.6M140.1 636.6l0.4 0.2M147.4 632.9l-0.5 1.5M122.6 637.5l-1.3 0.2M139.3 626.7l-0.1 0.4M136.9 668.7l-0.1 0M119.8 663.8l-0.8 0.4M140.5 646.9l-0.6 0.2M155.9 646.3l0.3 0.7M120.9 682.3l-1.5 0.2M145.8 628.7l0.1 0.1M143.4 643.8l-1.6 0.6M141.4 644.3l0.1 0.6M140.6 631.3l-0.9 1.2M174.7 643l-0.6 0.5M139.9 678.3l0.8 1.1M157.9 651.8l1.3 1.1M129.3 644.2l0.1 0.1M165.9 657.7l-1.1 1M153 648.9l0.9 1.3M168.4 629.6l-1.1 0.1M146.6 646.9l0.2 0.8M124.6 650.7l0 0.4M147.3 659.1l1.3 0.1M119.5 647.4l-0.1 0.1M157.7 637.9l0.6 0.8M135.5 663.9l0.8 0.2M118.2 660l-0.6 1.4M146.8 656.9l-0.7 0.6M147.6 650.2l0.2 0.4M143.4 657.1l0 0.1M170.7 650.6l-0.6 1.2M172.9 658.6l-0 0.2M172.1 683l0.5 1.1M153.6 630.8l-1.1 0.9M133.8 671.6l-1.5 0.6M165.4 666.7l-0.1 0.9M142.1 643.4l0.8 0.2M142.3 666.4l-0.5 0.2M168.4 681l-0.9 0.4M121.2 635.1l0.1 0.2M115.7 646.5l-0.1 1.6M120.6 657.6l-0.6 0.9M124 641.1l-0.1 0.7M164.3 654.3l-0.2 1.2M137.9 631.4l-1.6 0.6M158.1 660.3l1.1 0.9M118.2 655.7l0.6 0.3M132.1 683.1l1.3 0.2M130.7 671.8l0.8 0.9M148.7 678.5l-0 0M132.6 638l0.1 0.9M122.9 640.1l0.8 1M119.2 652.2l-0.8 0.4M154.1 664.2l-0.6 1.5M149.3 661.8l-0.6 0.5M142 681.8l-1 0.3M123.3 668.6l-0 0.4M137.3 627.3l-0.4 1.4M133.5 660.6l1.5 0.5M132.2 675l-1.6 0.7M133.9 641.6l0.3 0.1M125.5 654.3l1.2 0M127.8 672.8l0.9 1.1M173 637.7l0.1 0.3M143.9 682.7l-0.4 0.2M151 679.3l-1.5 0.3M152.6 663.6l0.4 0.8M154.8 633.6l-0.4 0M140.3 652.3l0.6 1M129 668.4l-0.6 0.2M146.5 646.2l-0.3 0.6M120.4 679.4l-0.2 0.2M115.8 660.2l-0.2 0.3M141.1 682.5l-0.4 0.1M160.6 650.8l0.3 1.4M136.9 669.5l0.4 1.4M157.3 634l-1.5 0.3M172.9 649.2l-0.7 1.1M124.8 631.1l-1.2 0.1M156.6 660.2l1.4 1M172.5 631.8l1.1 1M160 649.3l-0.2 1.7M160.8 634.1l1 1.2M160.7 639.9l0.1 0.1M143.3 625.9l0.4 0.1M127.8 654.5l-0.2 0.3M131.1 648.4l-0.3 0.8M142.3 629.3l-0 1.2M124.9 660.2l-0 0M132.7 664.6l-0.1 0.2M140.1 625.6l0.9 0.3M166.2 643.4l0.1 0.3M153.2 656.9l-0.6 1.1M174.3 662.5l-0.6 0.1M142.5 642.4l-0 0M150.8 633.4l1.5 0.8M150.3 660.2l0.3 0.7M152.9 657l0.3 0.5M144.8 650.7l-0.6 0.2M154.4 684.5l-0.3 0.2M151.5 644.8l-0.7 0.6M147.2 639.6l-0.4 0.3M120.6 633.1l-0.5 1.1M166.3 651.6l-0.6 0.1M132.7 667.3l0 0.2M143.2 656l-0.1 0M172.6 669l-1.4 0.4M173.1 675.7l0.7 0.2M137.4 628.8l-0.9 0.2M168 638.9l0.8 0.9M162.6 636.7l-0 0.2M172.7 651.5l-0.8 0.4M150.3 668.5l0.4 0.9M142.1 656.3l0.2 0.2M123.8 664.8l-0.2 0.8M138.2 669l1.4 0.3M117.8 674.9l-0.4 0M134.7 642.1l-0 0.1M150.3 628.6l1.3 0.2M143.3 679.6l-0.1 0M160.6 644.1l1 0.5M156.2 683.5l0.6 0M116 647.2l-1.2 0M169.2 674.4l-0.7 0.8M152.7 633.3l0.5 1.4M124.2 683l1.4 0.5M146.4 627.5l0.7 1.3M141.6 666.5l1.3 0.2M150.8 647.5l-0.5 0.2M156 669l0.2 0.4M145.8 655.6l-0.8 0.4M126.6 632.8l-0.2 0.9M165.4 642.7l1.5 1M141.4 644.6l0.2 0.2M137.7 638.3l-0.3 0.3M132.8 679.5l0.6 0.1M125.2 676.5l-1 0.2M140.6 645.6l0.1 0.7M159.6 682.3l-1 0.7M134.5 653l-0 0M169.2 667.9l0.3 0.5M149.8 645.8l0.7 0.5M163.6 680.2l-1.2 0.4M170.7 655l-0 0.1M141.1 646.6l-0.1 0.5M166.5 644.5l0.2 1M164.8 655.7l1.7 0.4M172.2 644.9l0.3 1.4M131.9 678l1 0.5M151.8 656.5l-0.1 1.8M151 665.6l0 0M171.6 656.8l0.3 0.3M134.4 653.3l-0 0.5M124.6 631l0 0.1M125.3 641.9l0.1 0.3M155.8 626.5l-0.5 0.2M117.5 681.9l0.1 0.2M170.8 671.2l0.1 0.5M135.3 659.8l-0 0M141.1 676.4l0.2 0.1M164.4 665.5l-0.3 0.6M117.8 640.2l-0.3 0M169 679.5l-1.1 0M132.5 643.6l-1.4 0.8M162.2 667l1.2 0.1M133.2 646.5l0.9 1.2M152.1 665.3l0.3 0.7M133.7 650.9l0.8 0.5M164.2 640.6l0.7 0.1M132.9 665.2l-0.9 0.6M154.1 645l-1.4 1M158.8 679.2l0.2 1.4M173.7 653.1l0.6 0.4M126.2 654.6l0.4 1.3M159.6 638.6l-0 0M125.7 659.3l0.5 0.5M120.4 663.7l0.5 0.8M153.3 679.4l-0.3 0.5M159.5 632.1l-0.9 1M162.9 627.3l-0.3 1.7M143 656.4l1.2 1M122.6 628.3l0.6 0M153.2 639.3l0.7 0.9M128.7 646l0 0.1M125.3 655.3l0.2 0.2M149.8 672.3l1 0.4M143.3 668.9l-1.1 0.5M159 680.8l0.1 0.4M146.2 626.6l0.1 0M133.2 673l-0.1 0.4M143.6 675.4l0.2 0.1M122.8 642.3l0.3 0.5M137.7 632.5l0.1 0M162.7 661.7l-1 0.6M154.7 633.2l0.1 0.9M162 674.2l-0.1 1.3M145.7 644.1l0.8 0.1M147.4 644.7l-1.6 0.3M120.9 661.4l-0.4 0.4M170.3 681.2l0.3 0.4M147.3 669.3l0 0.1M147.7 672.3l-0.7 1.4M152.8 651.4l0.2 1.3M138.1 666.6l-1.4 0.3M152 662.1l-0.1 0M117.9 673l-0 0.1M138 672.8l-0 0.1M151.1 645.9l-0.6 0.2M168.2 668.7l0 1.2M155 674l0.1 0M171.1 654.1l0.4 0.3M126.4 654.3l0 0M172.5 677.5l1.1 1.2M133 677.1l0.9 1.1M164.1 635.2l-0.9 1.5M136.4 675.7l-0.9 0.8M156.8 628.2l-1.5 0.1M121.4 681.1l-1.7 0.4M164.1 669.2l-0.2 0.1M142.8 672.9l-0.5 0.2M115.2 655.2l-0.7 1.4M147.8 675.8l0.6 1.3M151.6 668.2l1.3 0.5M140.6 682.1l-0 0.1M151.1 653.4l0.2 0.3M144 684l1.3 0.2M148.5 657.1l-1.7 0.2M166 677.4l-1.2 0.6M169.2 674.1l-0.1 0.5M117.7 654.4l-0.7 0.5M136.5 635l-0.4 0.1M159.2 662.6l-0.1 0.2M134.1 669.1l-1.3 0.8M143.9 626.6l1.2 1M151.8 631.7l0.8 0.9M128.4 655.2l-0.7 0.5M171.9 649.4l-0.4 0.1M173.1 639.7l0.1 0.5M147.4 671.7l-0.5 0.6M148 653.3l-0.9 0.2M123.5 625.7l-0.4 0.4M151.5 638.5l-1.1 0.3M169.1 644.6l1.4 0.9M116.2 683.1l-0.8 0.6M135.1 630.2l0.1 0.1M164.7 646.7l0.1 0.1M167.3 639.2l-0.4 1.5M171.5 638.7l-0.8 0.3M173 635.1l-0.2 0.1M163.7 639.2l0.4 1.3M148.1 659.7l-0.2 1.7M126.7 637.8l0.6 0.1M115.8 635.5l-0.1 0.3M122.7 657.9l1.6 0.4M119.5 665.2l1.3 1.2M147.4 661.8l0.1 0M163.7 651l0 1.5M124.9 642.3l0.1 0M138.2 683.6l0.1 1.1M174.1 656.2l-0.2 0.5M170.8 647.6l-0.6 0.5M147.3 669.6l0.9 0.4M158.1 660.5l0.8 0.9M129.5 637.3l0.9 0.4M136.8 674.9l1.7 0.2M158.4 652.5l-0.3 1.4M149.9 681.2l0.4 0M136.6 672.8l-0.1 0.2M144.6 675.9l0.3 0.4M130.8 648.6l-1 0.9M174.2 666.6l-0.6 1M125.6 654.4l-0.3 0.2M157.4 656.4l-1.2 0.5M120.9 680l-1.5 0.3M120 639.8l0.3 0M138.3 637.4l0.1 1.1M147.7 665.9l-0.2 0.4M139.9 632.9l-1 0.6M128 649.9l0.4 0.7M117 637.2l1.6 0.5M117.8 669.7l0 0.9M135.4 632.1l0.5 0.1M170.1 626.1l0.1 0.2M172.5 680.2l0.1 0.7M124.3 645.1l-0.1 0.1M159.8 648.8l0.6 0.5M168.8 642.4l0.2 0.3M163.7 679.1l0.9 0.7M163.9 680.6l-0.5 0.6M145.2 652l1 0.9M157.8 644.6l0.3 0.7M164.2 630.5l-0.2 0.2M127.1 668l-0.2 0.8M129.1 625.6l-1.7 0.4M120.8 664l-0.8 0.2M136.4 667.5l0.7 0.6M149.7 649.6l-1.2 0.3M165.6 627.1l0.8 0M159.2 629.8l-0.6 1.1M129.9 675l-1.3 1.1M173.7 668.6l-1 0.3M153.4 644.7l0.6 0.3M159.7 636.6l0.4 1.7M154 669.8l0.7 1.3M122.6 673.7l-0.1 0.4M121.6 639l-0.7 0.2M143.6 657.1l-0.1 1.7M115.5 679.7l1.3 0.9M167.8 671.4l-0.9 0.4M128.8 630.4l-0.9 1.5M127.1 658l-0.2 0.4M150.5 626.8l-0.5 0.9M172 659.6l1.6 0.1M125.7 633.8l-0.4 0.4M129.3 637.9l-0 0.1M163.1 632.6l-0.6 0.5M139.8 651.7l1.3 0.4M164.3 633.2l-1.4 0M146.3 667.2l-1.3 0.2M150.4 645.7l0.1 0M146.6 680.7l0.1 0.3M123.7 668.5l-0 1M172.5 677l1.1 0.8M174.1 652.3l0.5 0.4M173.2 673.6l0.3 0M134.8 657.8l0.1 0.5M155.8 632.8l0 0.4M147.4 673.4l-0.9 0.7M151.4 632.6l-0.1 1.1M170 645.4l-0.2 0.7M126.5 652l-1 0.4M136.4 668.9l1.1 1.4M121.8 640.4l0 0.1M155.2 644.2l-1.1 1.3M125.3 647l0.1 1M140.4 630.5l0.7 0.6M162.4 662.3l-1.1 0.5M164 651.3l0.6 0.3M136.9 641.8l0.4 1M123.5 669.8l1.4 0.3M127.4 654.7l0.1 0.5M164 642.6l0.8 0.7M168.8 626.7l0.4 0.2M161.1 672.7l0.6 1.1M129.8 644.8l-1.1 0.3M129.1 677.6l0.9 0.9M159.1 638.6l0.3 1.3M127.8 667.8l0.2 0.1M169.4 677.6l-0.7 1.1M123.3 648.5l-1.2 1.1M149.5 673.4l-0.6 0.3M124.7 678.8l0.2 1.3M146.1 633.8l-0.4 0.4M125.2 659.2l1 0.1M150.6 645.5l-0.8 0.1M158.5 634.8l-0.3 0.4M118.2 633.9l0.1 0.8M164.9 670.8l0.5 0.1M121.3 630.5l0 0M129.6 632l0.2 0.8M163.4 669.5l0 0M115.2 640.5l1.3 0.1M164.9 656.9l-0.4 1.3M151.9 675.1l-1.3 0.4M117.6 643.7l-1 0.9M165 655.5l-0.2 0.9M155.6 682l0.9 1.4M159.9 647.6l-0.2 1M160.5 654.5l-1.4 0.2M174.1 628.2l0.1 1M146.4 667.1l0.8 0.6M124.8 678.2l-0.3 1.7M126.4 632.8l0.5 0.2M126 657.6l-0 0.2M159.6 662.7l-0.4 0.1M126 638.9l-0.5 0.1M144.3 650.3l0.9 0.2M118.6 663.5l0.6 0.5M171.2 677.4l-1 1.4M130.9 650.6l0 0.2M124.1 671.6l1.4 0.5M137.9 661.8l-0 0.2M159.5 639.4l1.3 0.8M144.1 669.7l-0.6 0.6M132.4 666.2l-0 1.1M115.1 667.7l0 0.8M127.6 667.5l0.6 0.4M147.1 669l-1.5 0.1M171.1 633.3l-0.4 1.3M158.8 649l0.3 0.4M150 670l-0.4 1.6M136.2 630.6l0.1 0M174.7 665.6l0.4 1.1M136.4 683.1l1 1.1M115.9 683l0.3 0.3M117.9 640.8l-0.5 0.1M164.9 677.9l0.7 0.7M131.9 681.5l-0.1 0.1M144.9 645.7l-0.4 0.1M145.9 673.8l1 1.1M132 644.1l-1.1 0.2M167.5 657.3l-0.5 0.5M147.9 644.8l-0.2 0.2M171.6 675.4l-0 0M125.6 659.3l-0.7 1.6M128.4 667.7l0.8 0.5M157.5 631.3l0.9 0.9M129.9 657.2l-0.3 0.7M139.1 626.5l-0.1 0.1M164.1 674.6l1.1 1.3M120 638.1l-0.3 0.3M154.3 654.5l0.2 0.2M128.7 662.8l-1.8 0.1M156.4 634.8l-1.1 0.3M117 663.1l1.6 0.2M155.4 639.1l-0.1 0.5M128.4 684l0.9 0M166.8 671.4l1.6 0.3M133.4 639.3l0.2 0.1M143.1 645.6l0.3 0.6M168.4 662.6l-0.2 0.5M165.9 630.6l1.5 0M118.4 645l0.2 0M172.5 668.4l0 0M137.9 638.1l-0.3 1.5M134.6 682.8l-0.1 0.2M123.6 651.5l-0.3 0.3M132.6 648.6l-0.1 0.3M164.4 638l-1.1 1M160 668.5l-0.2 1.5M168.7 660.3l1.7 0.4M142.7 662.3l0.6 0.7M152.4 626.9l-0.4 0.1M131.4 658.3l0.7 0.2M122.3 641.7l-0.2 0.1M119.7 644.6l0.2 0.2M130.6 669l0.2 0.4M124.8 678.4l0.2 0.4M163.1 635.6l-1.3 1M126.9 635.2l-0.8 1.4M125 680.8l0.3 0.5M118.1 642.2l-0 0.1M155.6 637.6l0.4 1.1M163.7 672.3l0.1 0.2M146 645.8l-0.5 0.8M174.6 662.2l0.6 0.9M130.4 649.1l-1 1.5M115.5 653l-0.4 0.1M133 626.1l-0.9 0.2M123.2 666.6l0.4 0M133.6 657.4l1.2 0.5M172.9 633.8l-0.8 0.2M120.9 629.4l-1.1 0.3M133.2 637.9l0.2 1.8M165 630.6l-0.2 0.2M150.1 651.8l-0.9 0.5M144.2 644l0.8 0.1M160.1 680.8l-0.4 1.1M159.2 682.1l-0.3 1M141.1 638.9l-0.2 1M119.8 646.1l0.1 0.3M114.9 684.7l0.6 1.3M119.2 632.7l0.6 1.6M128.6 684l-1.2 0.2M148.9 653.8l0.3 0.3M174.4 673.7l1.1 1.3M142.7 659.6l-0 0M144.1 671.3l-1 1.2M153.8 653.2l-0.6 0.1M119.3 674.4l-0 0M119.9 678.8l-1 0.1M170.7 628.9l0.2 0.3M133.1 628.5l0.8 0.6M119.8 682.4l0.8 0.4M139.2 625.9l0.3 0M169.8 625.7l-1.6 0.1M160.1 680.9l-1.1 0.2M174.5 681.1l0.1 0.7M149.5 636.1l0.3 0.2M173.1 670.3l0.4 0.2M131 645.9l1 0.8M167 649.7l0.1 0.4M120.9 628.4l1.6 0.6M129.4 673.7l1 1.3M120.4 633.9l0.7 0.6M160.2 675l-0.2 0.3M161 670.9l-1.3 0.4M169.7 670.3l1.4 0.1M162 639.4l-0.2 0.2M168.5 647.1l0.7 1.6M146.2 670.3l0.7 0.5M124.6 657.4l1.3 0.3M168.7 640.6l0.9 0.3M171.4 643l-1 0M160.3 674.7l0.6 0.9M132.1 667.2l0.1 0.9M150.8 625.5l-0.8 0.5M138.4 661.1l0.9 0.8M134.5 642.5l-0.2 0.9M169.4 658l-0.2 0.2M166 642.6l1.4 0.7M164.4 680.2l-0.1 0.1M173.9 662.1l-0.1 0.2M126.9 640.4l-0.3 0.6M156.4 653.2l1.6 0.5M137.8 672.5l0 0.1M136.5 667.5l1.1 0.1M134 633.1l1.3 0.6M138.5 649.6l-0.3 1.4M124.8 675l0.2 0.1M114.8 655.9l1.2 0.1M163.3 681.4l0.1 1.3M122.3 639.5l1.1 1.4M133.9 626.6l0.4 1.1M159.8 645l0.3 0M150.4 677.2l0.1 0.4M131.4 671.1l-0.8 0.1M168.3 666.2l-0.8 0.4M126.9 636.4l-0.2 0.2M119.7 678.9l-0 0.1M122.8 645.7l-0 0M126.8 668.4l0.1 0.1M154.5 684.6l0.6 1.4M156.2 684.1l0.8 0.3M174.4 636.5l-1.1 0.8M169 683.3l-0.6 1.2M122.5 657.4l1.6 0.5M158.4 642l-0.2 0.5M119.4 637.6l-0.3 0.1M152.6 658.5l-0.1 0.7M171 658.5l0.3 0.1M173.3 680l0.2 0.5M118.8 682.5l-0.1 0M147.7 669.7l-0.3 0.1M118 648.2l0.6 0.4M162.2 654.6l0.4 0.2M116.6 678.8l0.4 0.7M139.6 653.5l-1.1 0.4M146 632.4l0.6 0.3M171.6 629.3l0.9 1.5M122.9 677.3l-0.7 1.5M169.8 679.3l0.4 1.5M156.7 656.2l1.5 0.3M122.7 665.7l-0.3 1M155.2 669l0.3 1.3M137.1 673.8l-1.1 1M118 671.3l-1 0.7M128.6 677.1l-0.2 0.1M115.3 662.4l0.2 0.8M166 641l0.3 0.1M164.8 629.7l-1.7 0M135.4 670l0.9 0.5M120.4 676.1l0.4 0.6M128.2 680.1l-0 0.1" stroke="#2a0f55" stroke-width="1.45" stroke-linecap="round" fill="none"/>
</g></g>
<rect x="167.8" y="681.3" width="4.5" height="1.2" fill="#e53030" stroke="none" stroke-width="1"/>
<clipPath id="ce3"><rect x="180.2" y="625.5" width="60" height="59.3"/></clipPath>
<rect x="180.2" y="625.5" width="60" height="59.3" fill="#f8f6f8" stroke="none" stroke-width="1"/>
<g clip-path="url(#ce3)"><g filter="url(#soft)">
<path d="M235.7 681.8l2.2 0.6M215.7 650.6l1.3 0.5M207.5 627l-0.1 0.2M205.5 655.9l0.8 1.7M183.7 671.9l-0.7 1.3M217.5 683.1l-0.7 0.6M202.3 659.4l0.9 1.4M185.3 653.6l0.3 1.5M218.7 636.3l0.2 0.4M229.2 637.1l0.3 0.1M182.5 641.8l-1.3 0.8M200 647.4l0.4 0.6M226.9 658.1l0.6 0.2M227.2 667.4l1.6 1.5M212.9 680l-1.5 0.3M190.2 683.3l0 0.1M181.6 673.5l-1.8 0.1M228.5 681.8l-1.4 0.1M225.1 646l1 2.3M191.8 630l1 0.7M236.2 681.9l0.5 0.2M211.9 635.6l-1.2 0.8M195.4 650.5l0.5 1M233.7 673.8l-1.3 1.9M205 666.6l1.2 1.1M197.9 649.8l-0.4 2M218.1 645.2l-1.3 0.7M195.1 681.9l-0 0.2M212.7 639.4l0.1 1.5M202.8 672.1l-0.3 0.1M207.2 650.6l-0.1 0.2M209 666.4l-0.1 1.4M198.1 678.8l-0.2 0.1M232 655l-0.6 1.7M197.7 644.5l0.5 0.7M237.8 645.7l0.3 1M229.2 653.8l0.4 0.5M185.5 638.4l-0.6 0.3M210.3 632l1.1 0.4M214.2 651.7l1.5 1.6M231.3 640.2l-1 2.3M182.8 673.4l0.3 0.7M189 675.2l-0.2 0.2M203.9 665.8l0.7 0.2M235.1 664.3l-0.4 0M234.9 636.3l-0 0M222.7 659.3l-1.7 1.1M216.4 660.6l0.8 0.3M185.7 676.3l0.1 0.5M219.3 669.7l-0.8 0.3M239.1 683.8l0.1 0.3M226.6 674.8l0 0.1M223.6 670.5l1.1 0.9M204.6 629l0.2 0.8M229.6 660.4l0.8 0.8M199.1 665.3l1 0.6M229.5 659.6l-0.3 2.5M217.6 650.9l-1.5 0.4M239.1 664.7l1.1 0.2M183.6 627.5l-1 0.1M224.6 667.5l1.1 1.3M215.5 656l1.3 0.5M218.7 643.9l-1.1 1.1M216.6 657l0.2 0.5M238.9 641.4l0 0.7M238 626.8l-0.4 2M234.3 634.6l-1.8 0.3M220.2 632.2l-2.4 0.2M186.8 674.6l0.2 0.1M227.9 668.2l-1 2.3M210.9 641.6l-1.5 0M219 677.4l-0.3 0.4M224.1 629.7l1.8 1.1M193.2 629.1l1.6 0.7M238.7 625.5l-1.5 1.4M214.4 659.4l-0.9 1.9M188.6 672.8l-0.2 0.9M210.9 679.1l-1 0.5M185.1 644.8l-0.6 1.6M230.1 637.8l-1.7 1.3M188.8 633.8l-1.5 0.1M217 650.9l-1.1 0.7M211.5 657.3l-1.5 0.3M228.2 675.3l-0.2 0.7M229.6 668.1l-2.4 0.7M192.5 655.2l1.9 0.6M195.1 647.4l0.3 2.3M182.5 660.6l-1.4 1.5M189.4 658.8l0.3 1.9M183.4 680.5l-0.5 0.5M227.8 649.4l-0.7 0.7M190.7 677.7l2.4 0.2M231.7 671.6l1.7 0.6M224.2 671.3l-1.6 0.2M237 663.1l2.2 1M237.4 663.2l-0.6 1.5M236.9 649.2l0.5 1.5M200.5 634.6l0 0M198.2 630.3l0.6 1.1M235.8 671.8l-1.5 0.8M196.7 632.4l1.2 1M239.3 650.7l1.7 1.6M185.8 662.7l-0.6 0.2M238.6 666.3l-2.5 0.1M189.1 668.8l0.9 1.7M212.8 660.4l2.2 0.4M202.7 644.2l1.9 0.7M183.9 632.3l0.1 0.3M220.4 645.2l-1 1.1M207.6 669l-1.6 1.5M234.3 669.8l-0 0.7M226.5 672l-1.7 0.9M229.7 657.6l0 0.1M223.8 679.7l0.4 2.2M194 678l1.4 1M182.5 677.6l1.4 0.5M239.6 660.3l-1.6 1.1M216.9 651.3l1.9 0.7M204.6 682.6l1.9 1.2M230.1 638.8l-0.3 0.6M197.8 637.4l0.2 0.1M191.7 679.6l-0 0.1M202.5 669.2l0 0.1M199.8 654.2l-0.2 0.1M196.4 671.3l0.3 0.1M191.8 630.5l0.6 0.3M185.4 676l0 1.4M210.5 662.6l0 0M225.4 682.2l-0.7 1.2M230.3 675.5l0.1 2.1M185.5 672.6l-1.3 1.8M199.1 683.3l0.9 1.3M227.4 638.8l-0.6 0.2M183.5 677.1l-0.2 1M221.7 679l0.5 0.2M210.9 638.8l1 0.4M228.5 679l-0.1 0M224.9 680.8l0.6 0.3M200.6 676.5l1.8 1M234.3 669.3l-2.5 0.2M193.3 646.7l-1.2 0.3M215.1 658.5l1.6 1M228.4 670.7l0.3 2.1M212.7 629.9l-0.5 1.1M237.2 678.6l-0.6 0.6M231.6 682.5l0.9 1.5M232.6 626.5l0.2 1.5M233.2 662.3l0.5 0.3M182.4 670.1l0.8 1.9M211.8 645.9l-0.5 0.7M195.1 645.2l-1.4 0.3M189.2 643.7l0.4 0.6M223.3 651.1l-0 1.5M216.4 636.1l0.5 1.5M227.2 660.8l-1.1 0M190.9 626.3l-0.2 0.3M206.2 684.8l0.6 1.8M234.7 659.3l1 1.9M203.1 667l-1.1 1.6M194.1 632.4l1.8 0.8M201.4 626.6l-0.7 1.7M184.9 681.8l-1.8 1.8M228.5 667.2l0 0M194.4 626.8l-0.5 1.6M201.9 669.9l0.4 0.5M187.1 639.4l0.1 2.2M224.4 677l0.7 1.6M238.2 630.2l-1 0.4M221.1 646.5l-1.6 1.5M223.6 641.3l-0.8 1.6" stroke="#dcc0e6" stroke-width="1.4" stroke-linecap="round" fill="none"/>
<path d="M230.6 655.9l1.5 1.1M214.9 637.1l0.8 1.4M240.1 645.8l-1.8 1M202.6 660.4l0.2 0.6M206.6 667.7l-0.2 0.4M211.2 656.6l-1.1 0.5M219.5 664.7l0.2 1M220.9 651.5l0.1 0.1M183.4 628.4l0.3 0.9M207.6 637.4l0.1 0.6M197.6 641l-0.9 0.9M183.8 626.3l-1.1 0.4M218.1 647.1l-1.3 2.1M229.7 675.4l0.1 0.1M227.7 648.7l-0.2 0M217.4 649.9l-0.2 2.1M207.8 636.4l1.8 0.9M198.2 630.7l0 0M183.5 680.7l1.9 1.7M219.8 660.2l-0.1 0.6M196.1 641.8l1.2 0.2M194 683.8l1 1.7M240 645l1.2 1.9M233.8 652.3l0.1 0.3M200.9 671.9l2 0.9M204.8 635.7l0.2 0.1M184.6 643.4l-1.1 0.3M199.5 649.9l0.6 0M196.7 680.6l-0 0.1M194.1 670.7l-0 0.1M223.7 652.9l-0.4 0.1M181.3 680.5l-2 0.8M232.1 647.4l-0.3 1.2M203 676.2l-0.2 0.8M184.3 629l1 2.1M202.7 683.9l1.7 0.9M212.8 654.1l1 1.2M196.7 681.5l-0.2 1.5M199.2 684.3l-2.1 0.7M224.3 657.3l-0.9 0.1M210.3 627.9l2 0.6M207.2 651.6l-0.6 1.2M221.3 628.5l0.6 0.2M200.2 652.6l2.2 0.1M228.8 634.7l-1.7 0.9M239.4 659.6l0.1 0.1M206.3 665.5l2.2 0.4M215.2 655.7l0.6 1.3M234.8 642.9l0.8 0.5M197.6 633.4l1.7 0.1M194.8 673.4l1.1 1.9M224.3 673.5l-0.6 1.6M225.4 644.5l0.6 0.6M191.6 630.6l0.1 0M189.6 662.3l-0.6 1.2M205.5 629.9l-1.4 1.3M189.1 643.9l-1.1 1.4M202.8 680.2l0.4 0.2M227.4 662.5l0.2 1.2M206.7 680.6l0.4 1.2M201.4 642.4l-1 1.2M187.1 625.8l0.9 0.5M216.1 635l0.1 1.3M238.6 644.5l0.3 0.6M219.8 639.8l-0.4 0.5M212 629.7l2 0.9M226.1 634.3l1.4 0.9M187.2 666.9l0.3 0M237.2 626.6l-1.6 1.1M203.3 673.8l-0.3 0.3M214.7 676l-1.9 0.8M195.5 627.4l-0.3 0.3M211.3 654.8l1.2 0.1M235.8 659.2l0 1.5M233.3 653.5l1.9 0.9M229.7 662.5l0.8 0.4M211.1 642.9l-0 0M225.1 678.8l0.6 1.9M235 639.7l0.1 0.7M220.9 631.4l-0.1 0M181 669.5l-1.2 0.2M231.8 653l1.2 1.3M181.4 684.3l-1.1 0.8M212.5 630l0.2 0.2M238.1 673.9l0.1 0.8M238.3 655.5l-0.1 0.8M211.4 632.1l-0.1 0.1M210.5 635l-1 0.4M201.9 641.7l-1.2 0.4M217.2 653.6l0.7 1.5M236.3 641.6l0 0.6M228.3 671.3l1.7 0M228.2 679.6l0.3 0.2M193.3 633.2l-0 0.4M221.9 653l-0.8 1.2M229.7 683.2l0 1.8M183.6 643l-0.5 0.1M223.9 633.1l0.2 0.9M217.9 683.3l-0.5 0.7M205 679.1l-1 0.9M215.2 668.2l0.2 1M217.4 667.9l0 0.9M210.8 648.1l0.8 0.2M184.2 634.7l0.1 0.2M238.3 649.3l-1.3 2M236 664.1l-2 1.4M184.9 625.7l1.2 2.2M219.4 682l-0.2 2.6M199.9 660.5l-0.2 0.1M180.4 648.5l-2.1 0.8M231.9 676.8l0.3 1.2M208.9 656.2l0.2 0.5M209 626.6l1.5 0.3M213.8 629l0.1 0.5M225.8 684.1l-1.7 1.1M206.3 656.2l-1.4 0.1M231.1 626.3l-1.1 1.4M233.7 680.7l0.3 1M194.3 636.9l-1.6 1.7M230 644.7l2 0.1M210.1 644l-0.8 0M180.4 682.1l-1.7 0M204.5 678.9l-0.3 1.4M217.9 641l1.3 0.8M182.1 668.3l-0.1 0M193.8 679.5l-0.5 0.6M200.5 666.7l0.4 0.3M196.2 683.8l0.8 2.2M237.7 680.9l-0.1 0.3M192.9 645.9l0.6 0.5M215.4 638.4l0.8 0.4M196.2 671.4l-0.7 0.1M186.8 627.1l-0 0.6M198.8 649.2l-1 1.7M194.7 677.6l-0.2 0.9M201.8 670.4l0 1.5M190.6 630.1l-0.6 0.3M192.1 681l0.1 0.3M239.2 683.8l-1.1 0.6M220.6 652.9l2 0.2M190.3 674.4l-0.7 1.1M190.8 642.6l-0 2.3M226 671.3l-0.6 0.7M227.4 655.7l0.2 1.2M192.8 659.5l0.2 0.6M202.6 643.1l-1.6 1.8M202.1 632l0.7 1.4M220.8 632.6l0.2 1.3M218.6 629.2l-0.2 2M195.3 635.4l2.1 0.1M215.4 643.7l-0.9 0.1M188.5 636.4l0 0M184.7 628.1l-1.8 0.3M190.3 661.1l0.4 0.2M210.5 628.6l-1.3 0.8M233 632.2l-0 1.4M207.3 636.4l1.4 0.7M221.1 630.8l-0 0M200.4 649.7l0.1 1.3M181.3 674.1l1.5 2.1M197.4 642l-0.1 1.7M211.4 657.1l-0.7 1.5M239.1 633.3l-0.4 1.3M207.9 637.8l-1.1 0M191.1 677.8l2.4 0.3M207.1 649.2l-0.3 0.5M229.8 647.3l1.1 1.1M221.2 633.4l-0.3 1M191.3 631.8l-0.9 0.4M192.4 653.5l0.2 0.4M232.2 672.4l-0.6 1.3M180.6 639.5l0.9 0.2M207.2 661.9l-0.6 1.6M198.1 639.6l-0.7 0.3M207.6 679.6l0.4 1.2M217.2 627.5l0.6 1.1M209.2 649.6l-0.8 1.5M202.5 636.5l1.8 1.1M195.7 644.9l0.2 2.4M189.5 638.1l-0.7 0.4M180.4 639.9l1.8 0.5M215.3 675.3l-0.3 1.8M233.1 683l-1 1.2M222.5 674.6l-0.5 0.9M205.1 676.3l1.1 1.8M212.8 684l1.5 1.2M209 630.2l-0.6 0.4M190.9 662l0.6 2.4M183.6 650.5l-1.8 0.9M184.1 651.2l-0.6 0.4" stroke="#b070c8" stroke-width="1.3" stroke-linecap="round" fill="none"/>
<path d="M239.1 645l1.4 0.2M220.4 682l1 1.6M235.8 625.7l1.3 0.3M204.8 641.5l-0.3 0.1M210.8 638.9l-0.7 1.1M236.9 640.1l0.5 0.4M236.8 673.1l0.2 0.8M229.5 660.1l0.4 1.4M215.8 625.5l-0.4 0.2M235.6 658.8l0.3 1.5M201.8 660.1l-1.8 0.5M225.1 677.2l-1.2 2M216.4 632.2l0.1 0M217.4 659.7l-0.1 0M221.6 666.3l0.3 0.5M213.4 645.3l-0.6 1.2M216.2 644.8l1.7 1.7M213.7 648.2l0 0.1M219.5 677.1l0.8 0.5M218.2 628.4l1.2 0.4M222.1 670.6l-0.6 0.5M211.1 639.3l1.3 1.1M237.2 674l-0 0M207.3 628.6l-0.3 1.1M181.7 634.8l1.3 1.3M232.1 648.9l0.9 0M220.5 642.7l-0.8 1.1M213.3 636.7l-0.3 0.2M234.1 645.4l-1.5 0.2M189.2 655.5l-0.4 1.5M199 644.2l1 0.4M230.7 663.8l-0.8 1.5M193.3 632.2l-1.2 2M218.3 661.4l-0.1 1M185.4 681.4l1.2 0.1M194.8 644.5l1.2 0M204.6 664.7l0.8 1.4M223.5 634.2l0.1 0M190.5 674.3l-0.7 0.2M224 673l-1.1 2.1M220.7 673.6l-0.6 0.9M185.2 672.1l-0.1 0M220.6 681.3l0.5 1.5M210.3 652.2l-0.2 0.1M190.4 638.5l-0.5 0.6M204.8 643.8l0.8 1.2M191.1 672.8l-0.6 0.9M181.9 683.8l-0.1 0.4M190.6 644.8l-0.1 1.9M239.2 632.3l-2 0.6M199.6 679.9l-0.4 0.5M200 656.6l1.1 1.7M185.1 642.1l0.9 1.6M233.2 649.5l2.1 0.4M203.2 665.3l0.3 1.6M206.5 679.4l1.5 1.6M206.5 626l0.1 0.2M202.3 667.1l0.1 0.3M230.7 632.6l0.2 0.5M215 681.3l0.1 0.5M216.4 674.2l1.9 1.1M200.3 628.2l0 0.1M206.4 661.8l2.1 0.8M238.2 667.5l-0.2 0.3M187.5 629.8l1.4 0.7M220 650.8l0.9 1.3M216.9 631.2l-1.7 1.2M202 664l-0.1 0.2M194.5 682.5l0.3 0M233.6 666.1l1.4 0.4M228 660.6l-0 0.3M205.2 672.8l-1.5 1.4M210.1 637.3l1.3 2M183.2 672.3l1.5 0.9M188.7 640.4l0.3 0.1M211.3 632.1l-0.3 0.3M191 670.3l0 0M225.1 651.3l-0 0.1M183.7 645.7l1.6 1.5M183.8 683.7l-0 0M189.1 661.6l-0.3 0.1M220.9 632.7l0.2 0.4M227.3 676.8l-0.4 0.2M217.1 627.6l0.8 1M184.9 629l-0.9 1M196.4 668.3l0.1 2.1M186 626.3l-0.2 0.2M229.2 626l-1.5 0.4M198 682.4l1.6 1.1M191.4 675.3l0.7 0.1M181.2 665.8l-0.4 0.1M201.3 640.3l-0.3 0.5M226 676.3l-0.1 0.2M199.6 630.6l1.4 0.8M185.3 683.1l0 0.1M203.7 635.9l2.3 0.5M183.8 644.6l-0.3 1.4M222.7 659.6l-1.1 0.1M238.9 654.8l-0.9 0.7M239.5 665.2l0.1 0M187.9 628.5l-0.1 0M192.8 683.9l-0.2 0.1M232.3 637.5l0.6 0.1M237.4 674.2l0.5 0.7M210.4 641.8l-0.4 0.8M193.7 681.6l-1.1 1.8M223.4 684.6l0.3 1.1M193.4 684.6l-0.9 1.5M185.4 649.8l1.2 1.7M185.5 668.3l-0.8 1M200 644.3l0.3 0.1M227.8 674l-0.2 1.4M193.2 634.5l0 2.4M222.6 643.7l-1.5 1.2M203.9 684.6l-1.7 1.6M200.7 681.6l-0.5 2.3M201.9 662.6l0.7 0.3M198.4 648.3l-0.1 1.1M235.8 663.9l0.1 1.1M227.8 663.1l0.4 0.9M224.6 664.2l0.7 0.4M190.3 627.2l-1.5 0.8M214.4 627.3l0.6 0.6M186 661.8l-1.7 1.1M195.3 669l0.3 0.6M226.4 626.7l0.8 1.2M208.5 639.1l-0.5 0.1M208.1 638.1l-1.5 0.6M209.9 660.2l-1.8 0.7M208.2 659l0.3 0.2" stroke="#8a48b0" stroke-width="1.2" stroke-linecap="round" fill="none"/>
<path d="M238 639.9l0.8 0.7M186.8 641.3l0.6 0.6M235.4 643l-0.9 1.6M189.2 630.1l0.3 0M194.8 654.7l0.1 0.4M224.5 631.8l1.3 0.4M181 671.5l-0.3 1M197.7 634.5l0.6 0.9M239.5 672.7l1.5 1M202.6 648l0 0.2M216.4 643.1l0.4 0M194.1 654.5l1 1M196.1 637.5l1.8 0M234.9 671.3l-0.1 0.6M238.3 650l-1.3 0.1M234.2 674.2l0.5 1.1M236.6 662l1.7 0.8M210 655.7l-0.1 0.6M210.1 647.1l-0 0.5M203.7 640.3l0 0.1M220.7 633.4l1.6 0.8M186.5 628.3l1.3 0.9M201.4 659.5l-0.5 0.2M205.5 663l-0.2 1.3M225.1 643.2l0 0.3M230.1 653.8l-1.6 0.8M237.2 667.9l0.4 1.3M194.3 676.5l-1.3 0.1M194.6 680.2l-0.3 0.3M206.4 674.9l-0.5 0.3M191.7 669l-1.4 0.6M188.5 677.4l-1.2 0.9M238.1 660.6l0 1.6M236.8 655l0 0M187.5 626l1 0.2M186.3 682.8l0.2 0.4M224 627.6l0.1 1.7M184.5 631.2l-0.3 0.6M211.1 643.7l-0.1 0.1M214.4 681.3l-1.5 0.6M196.6 663.5l0.4 1.5M235.5 654l-0.6 0.7M193.5 639.1l-0.4 1M210.5 675.6l0.8 0.2M202.5 634.9l1.1 1.2M220.6 668.5l0.7 1.6M208.2 681.5l-0.2 0.3M182.1 639.9l-1 0.2M232.4 672.2l-0.1 0.3M197.1 631l-1.2 0.8M206.5 660l0.3 0.6M185 669.6l0.9 1.2M197.8 684.1l-0 0.4M184.5 680.4l-0.2 1.5M202.6 634.8l-0.2 0.3M208 646.8l0.8 0.7M229.9 661.8l0.1 0.2M192.7 683.8l0.5 1.3M211.1 660.7l0.2 0.6M219.2 663.6l0.2 0.4" stroke="#40245e" stroke-width="1.2" stroke-linecap="round" fill="none"/>
</g></g>
<rect x="233.2" y="681.3" width="4.5" height="1.2" fill="#e53030" stroke="none" stroke-width="1"/>
<clipPath id="ce4"><rect x="245.2" y="625.5" width="59.7" height="59.3"/></clipPath>
<rect x="245.2" y="625.5" width="59.7" height="59.3" fill="#f9f7fa" stroke="none" stroke-width="1"/>
<g clip-path="url(#ce4)"><g filter="url(#soft)">
<path d="M287.7 675.3l-0.5 0M256.8 665.3l-0.2 0.2M254.2 667.4l-1.4 1.3M271.6 676.8l2.4 0.9M276.1 682.3l0.3 1.9M263.4 682l-0.2 0.2M295.5 634.9l0.5 0.7M277.6 647.3l-2.3 0.5M264.1 678.6l0.2 0.1M284.9 672.9l-2.1 0.1M296.5 641.3l-1.9 0.5M250.8 654.8l0.4 0.2M273.8 665.3l2.3 1M275.4 684.6l-0.2 2M259.7 662.9l-0.3 0.6M283.9 648.7l0.6 2M273.2 674.8l0.5 0.4M279.5 651.3l1.6 1.6M267.4 628.9l0.7 1M272 670.8l-0.1 0M287.7 673.6l-0.3 1.4M269.7 649l0.3 0.5M262.7 645.4l-1.9 1.4M283.5 626.5l-0.1 0.7M286.5 650.4l-1.6 0.5M261.2 648.2l1.1 1.7M288.3 649.1l0 0.1M249.3 672l-0.2 2.2M298.9 638.1l1 0.6M248.1 674.4l-0.1 0M278.4 667.1l-0.1 0M292.6 631.7l0.4 0.2M275.3 630.2l0 2.1M287.2 640.6l0.2 1.7M283.9 649.9l-2.3 1.2M294.9 645.7l0.4 0.2M253.1 682.9l-0.7 0.3M259.1 662.2l0.4 0.5M289.8 661.6l1.8 1.7M261.3 629.2l-0.6 0M278.9 653.7l-0.6 0.6M286.3 634.7l0.1 0.1M294 669l0.4 0.4M263.5 665.8l1.4 1.3M264.8 639.6l-0.4 2.4M301.3 639.9l-0.4 1.6M300.8 647.1l-0.5 0.3M302.1 655.7l0.8 0.2M271.7 680.4l0.1 0.9M278.9 639.6l-0 0.3M302.9 677.2l-0.6 0.5M294.9 660.1l0.8 0.5M287.2 666.2l0.5 0.2M252 674.6l-0.1 2.3M281.7 667.4l-0 0.4M272 677.1l-0.4 0.2M253.7 661.7l2.3 0.5M274.1 625.8l0.1 1.3M302.5 654.3l-1.6 1.8M295.5 646.3l-0.1 0.2M251.9 662.6l-0.2 0.4M290.9 682.5l0.4 0.3M270.3 683.3l0.1 0.7M268 629.2l0.8 1.2M273.3 669.3l1.2 1.2M283.9 657.3l2 0M262 665.4l-0 1.4M276.8 662.1l-1.7 0.9M291.7 679.3l1.3 0.8M267.3 676.6l-0.7 1.9M252.8 635l0.4 1.7M256.4 683l-0.6 0.1M282.3 682.1l1.6 1.2M258.8 676.7l-0 1.1M289.8 661.2l-0.1 1.9M261.6 668.3l-0.2 0.3M292.7 633.9l-0 0M256.3 657.1l0.7 0.3M260.6 629.9l-1.6 1.5M292 634.2l0.8 0.3M295.9 683.3l-2.2 1.2M281.8 655l0.3 0M282.2 682.5l0.7 2.5M276.3 677.8l-0.5 0.5M281 651.2l0.9 0.5M253.9 643.1l-2.2 1.4M245.7 670.4l-0.1 0.4M300.2 679.2l-2.3 0.1M282.9 627.4l-0.3 0.6M280.8 679.6l-0.4 0.2M279.7 660.7l0.1 0.3M275.9 670.3l-0.8 1.6M287.6 646.4l-0.9 0.1M285.2 658.7l-2.3 1M288.2 683.5l-1 0.2M279.6 650.8l1 0.2M298.2 683.2l-1 0.2M253 652.9l-1 2.4M254.6 663.1l-0 0.1M280.3 663.7l1.7 0.5M297.9 670.8l1.7 1.5M258.8 668.3l-0.5 2.3M259.7 651.7l0 0.6M302.4 665.7l-0.5 0.1M297.6 649.4l-0 0M264.6 633.1l0.7 2.2M255 642.3l1.2 2.3M273.4 640.4l0.2 0.1M248.7 652.5l-0.7 0.9M294.9 677.3l-0.1 0.4M253.7 643.1l0.3 0.9M295.6 650.7l-0.1 0.4M260.7 679.2l0.2 0.1M249.1 643.1l2 0.5M281.5 678.7l-0.4 0.4M288.4 682.6l-0.9 2M270.6 647.3l0.3 0.1M283.7 642.3l0 0.4M253.9 663.2l1 2.3M247.2 635.4l-0.8 0.3M301.6 661.4l1 0.3M295.3 626.9l-0.5 0.5M286.6 636.5l-1.2 2.3M286.3 639.3l2.1 0.2M281.1 626.7l-0.6 2M279.1 647.5l2 0.2M254.3 626.2l1.6 0.3M245.6 676.1l0.3 0.7M294.8 647.4l-2.2 0.1M251.6 639.5l0 0M280.6 683.7l-1.3 1.6M253.9 680.5l-0.9 0.7M256.8 683.3l0.6 0.8M296.7 665l0.2 1M289.3 648.1l0 1.4M269 646.3l-0.5 0.4M284.5 635.8l0.1 0.4M280.7 655.5l-1 1.4M262.8 629.5l-0.2 1.7M265.2 678.1l0.4 0.1M282.7 648.3l1.6 0.5M274.2 662l1 0.5M249.9 644l-0.7 0.3M249.2 669.9l-0.1 2.5M255.2 661.8l0.7 2.3M288.6 637.9l0.3 0.6M281.6 681.2l0.4 0.1M260.4 663.8l-0.2 1.8M288.3 654l-0.4 0.1M265.4 625.9l0.3 0.3M288 643.3l-0.3 0.4M284.5 664.5l-0.7 0.2M283.6 653.3l1.7 1.6M263.1 659.8l-0.3 1.5M250.9 670.3l1.1 2.3M294.7 633l-0.1 0.3M301 659l0.5 0.3M299.9 667.3l1.7 1.9M290.5 635.6l0.1 0.3M266 670.8l0.6 0.9M298 676.7l-0.9 0.8M249.9 643.9l0 2.3M251.9 638.5l0.8 2.2M304.5 683.5l-1.4 0.7M266.4 672.4l0 0.1M246.2 641.4l-1 2.2M248 675.2l-2.3 0.3M271.6 634l-0.5 1.9M248.1 654.8l-1.2 1M282.4 644.1l0.2 0" stroke="#dcc0ee" stroke-width="1.5" stroke-linecap="round" fill="none"/>
<path d="M252.2 649.7l-1 0.3M275.2 674.5l-1 1.4M295.5 676.4l0 1.8M296 640.4l0.6 0.3M256.6 632.3l0.3 0.4M287.2 684l-1 1.3M277.2 634.2l-0.5 1.8M272.5 675.5l2.1 1.2M246.3 647.7l-0 1.5M262.8 640.7l1.1 0.3M274.5 678.6l-1.7 1.5M256.1 648.8l0.3 0.2M247.5 629.3l1.2 1.4M285.4 654.6l-0.3 0.6M274.5 636.9l-0 0.7M259.4 654.1l-0.9 0.2M254.3 672.2l0.4 0.1M295 670.7l-1 0.3M262.7 647.9l-1.8 1.3M301.9 645.5l-1.8 0.5M287.7 645.8l-2 1.4M247.9 654.2l-2 1.5M286.9 629.9l1.5 1.6M258.2 669.2l-1.2 0M295.2 630.5l0.1 0.1M249.5 641.9l1 0.1M288.4 673.5l0 1M280.3 684.1l1.6 1.1M278.3 643.5l-2.2 0.9M272.9 681.8l-1.7 1.1M266.5 674.5l-0.4 0.2M267.9 679.5l0.8 0.9M261.1 646l0.2 2.3M265 682.8l2 0.3M275.3 681.3l1 0M279.1 669.3l-0.9 1.8M269.9 651.1l-0.3 0.1M304.3 632.5l0.4 0M267.1 670.2l0.7 0.7M272.5 662.5l-0 1.5M269.9 652l1 1.4M304.1 664.5l-1 2M304.8 626.2l-0.1 0.7M300.9 651.7l-0.2 0.5M304.3 626.2l-0.1 0.2M255.3 680.5l-0 0.1M263.3 660.9l-0 1.7M266.1 682.4l0.9 0.7M245.7 662.5l-0.1 0.6M259.8 632.1l-0.6 1.1M269.7 682.7l-1.1 2M286.7 678.1l-1.1 0.2M259.9 681.3l2.1 0.7M245.5 661.3l0.2 1M248.5 651.5l-1.2 1.1M279.9 667.1l-1.1 0.2M259.1 654.7l-0.8 0.4M268 632.4l-0.9 1.6M262.6 680.4l0 0M298 675.8l0.8 1.1M248.4 669l-0.3 0M255.9 639l0 0.1M273.1 672.3l0.4 0.1M263.7 680.6l0.3 0.7M302.3 675l-0.8 0.8M268.6 661.2l1.2 1.4M248.5 667.8l-1.7 0.7M250.1 656l1 0.9M270.8 660.7l2.3 0.8M255.2 682.8l0.3 1.3M295 682.5l-0.9 0.1M279.4 651.1l-0.2 1.8M286.5 630.9l1.6 1.4M262.8 661.8l-0.3 1.6M256.8 643.3l0.4 1.6M250.5 642.3l-0.3 1.3M303.7 660.5l-2.1 0.9M253.3 627.3l0.6 2.2M283.6 684.1l0 0M289.3 647.3l1.2 1.4M296.1 663.5l-0.1 0.2M263.8 637.1l2.2 1.1M278.7 647.4l0.2 1.4M269.2 666.5l-0.1 0.5M280.3 644l-0.2 0.2M280.8 679.5l2 1.1M303.4 646.1l0.7 1.1M280.6 667.2l0.5 0.5M281.3 655.5l1.4 0.5M301 678.4l0.2 0.3M247.6 629.6l0 0M280.6 681l1.2 0.6M295.6 633.5l0.4 1.6M272.1 633.1l-0.1 0.3M285.6 652.4l-0.6 0.6M271.4 676.6l1.6 0.2M253.4 645.2l-0 0M297.4 674.7l-0.3 1.4M299.2 646.1l2.3 0.7M248 669.1l1.9 1M266 675.7l-2.4 0.6M276.5 661.1l-2.4 0.4M256.5 677.8l-0.6 2.3M259.9 651l-1.6 1.2M271.7 629.1l0.2 0.2M263.6 646.6l0.3 1.1M264 654.5l0 0M291.2 675l-0 0.2M284.3 630.8l-0.3 1M259 640.3l0 0.1M277.2 639.1l0.4 1.4M250.3 661.3l-1.1 2M300.4 663.7l-0.3 0.1M260.1 639.3l-0.1 0.5M269.8 641.1l0.3 0.1M266.1 636.3l0 0.1M279.2 660.4l2 1.2M285.8 652.2l0.9 0.3M249.6 629.1l-0.5 0.2M282.7 634.3l-1.1 1.3M279.3 644.1l-0.5 2.3M267.9 682.3l-1.4 1.5M275.3 684l0.6 0.8M249.4 672.8l0.8 2M301 651.4l-0 0M249.9 682.1l-0.3 1.4M273.7 656.2l-1.8 1.9M286.2 641l-0.6 0.2M271.6 630.8l-1.1 0.2M246.7 679.6l0.1 0.7M279.8 655.7l-0.2 1.3M256.9 634.2l2.4 0.7M297.6 639.5l-0.4 0.6M279.2 678.1l-0.4 0.8M248 655.1l-0.5 0.9M295.6 672.6l0.1 0.1M288 642.2l-0.6 0.2M296.1 657.1l-1.1 0.7M274.5 655.7l0.8 0.5M295.9 660.3l-1.1 1.4M255.7 658.1l0 0M280.9 677.2l-1.7 1.2M250.2 653.6l0.5 1.4M299.3 646.9l-1.5 1.5M280.5 654l-1.3 0.2M263.4 629.2l0.4 0.8M266.5 640.4l1.3 0.9M285.3 639.3l-0.3 0.2M299.4 676.4l0.1 1.8M277.5 675.5l0.3 0.4M304.7 644.8l0.9 0.7M271.9 653.8l0.6 1M296.8 682.8l1.5 0.9M302.7 668.9l0.6 1.7M260.2 681.1l0.3 0.8M254.5 679.6l2.1 0.5M258.5 645.7l0.4 0.2M248.3 653.6l-0.1 1.7M266.4 652.8l-0.1 1.5M289.4 660.2l0.7 1.9M275.9 659.3l-2.5 0M251.7 654.8l-0.8 0.7M296.5 664.8l-0.3 0M271.9 632.9l-0.7 0.7M302 661.2l2.1 0.1M263.7 669.4l0.4 0.1M272.7 628.1l0.1 0M278.3 663.6l1.2 1.6M281.9 683.5l-0.9 2.4M284.1 641.2l-0.4 0.3M272.7 678.8l-2.3 0.4M260.5 669.4l-2.3 0.2M281.9 639.2l0.2 0.9M280 668.6l0.9 0.5M273 674.2l0.8 2.3M262.3 667l1.2 1.9M262.8 684l-0.2 0.2M280.2 671l-0.9 1.2M251 626l-0.3 1.8M245.9 661.6l-0 0M290.5 656.7l-0.7 0.6M249.4 649l-2.2 0.3M283.3 627.2l1.1 0.3M270.9 671.6l1.3 0.6M274.9 651.6l0.1 0.7M276.2 664.5l1 0.5M297.1 642.5l2.5 0.4M296.1 683.2l0.1 0.3M268.2 647.5l0.1 1.1M265.6 667.3l0.5 1.3" stroke="#b07ad8" stroke-width="1.4" stroke-linecap="round" fill="none"/>
<path d="M292.7 638.9l1.6 0.9M277.7 672.6l-0.9 0M246.6 684.6l1.8 1.5M295 666.4l-1 0.3M297.7 641.9l-1.7 1.2M286.5 677.3l0.8 0.1M277 652.7l0 1M299.7 675.4l-0.6 1.4M270.3 677.7l0.8 0.4M280.5 626.7l0.9 0.9M288.2 659.6l0.7 0.6M267.4 632.8l-0.8 1.3M285 657.7l-1.9 0.1M257.3 646.5l0.9 1.4M250.7 677.4l0.6 2.1M247 640.7l0 1.7M277.1 680.5l0.8 2.3M280 672.7l2.3 0.2M285.4 658.9l-1.2 0.4M269.1 657.3l0.2 2.5M279.8 628.1l-0.8 0.5M266.9 645.1l0 0M274.7 670.9l-0.1 0.6M277.4 661.6l0.3 0.1M249 629.9l1.4 1.8M256.6 629l-1 0.1M295.5 654.1l1.7 0.5M250.7 670.6l0.4 1.2M301.4 640.8l-0.1 0.2M248.1 670.4l0.4 0.5M253.4 660.1l-0.4 1.3M296.8 679.6l-0.3 0M251.6 631.6l-1.6 1.2M250 645.2l-1.7 1.1M292.1 669.1l0.6 0.1M302.5 645.3l-0.4 0.8M255.6 635.7l0.4 0.8M259.8 682l-0.2 1.4M269.6 631.4l-1.7 0.7M247.4 679.1l-0.5 2M258.4 640.4l-0.2 1.9M263.2 639l-1.9 0.4M285.8 684.3l-0.3 1.4M288.2 654.3l-1 0.5M279.4 657l0.6 1.4M276.7 664.4l-0.2 1.8M268.3 627.7l-1.6 1.9M294.1 630.7l-1.6 1.6M270.6 668.2l-0.4 1.4M274.9 652.6l1.1 2M248.2 627.9l-0.2 0.2M252.1 634.4l-1.6 1.3M283.4 670.2l-1.4 0.4M271.6 636.1l0.3 1.4M264.6 673.8l-1.2 0.5M257 644.4l-1.9 0.1M276 679.4l-0.6 1.9M260.7 654.4l-0.1 0.1M249 630.1l-1.8 1.3M286 683.4l-0.3 0.6M270.2 683.5l0.5 0.7M255.3 679.6l-0.7 0.4M265.2 670.8l-0.4 0.6M273.7 663l-1.2 0.3M247.9 642.5l0.1 1.7M253.6 657.2l1.2 0.2M270.5 674.7l-0.4 0.2M250.1 653.1l1.1 1M280.5 664.5l0.6 0.1M297.4 653.2l-0.1 0M246.8 645.4l0.4 0.2M298.7 652.6l-0.1 0M279.4 633.6l-2.3 0.9M259.5 663.7l-0 2M271.5 644.7l2.1 1.2M301 643l-1 0.1M263.8 663.6l-0.5 1M289.8 630.6l0.3 0.5M267.5 682l0.5 0.6M284.4 664.4l1 0.3M302.9 653.1l1.6 1M245.4 669.2l1.5 0.2M297.7 682.4l-1.1 0.7M281.3 667.5l-0.5 0M284.9 680.8l0.1 0.1M255.2 672.5l2 0.4M247.2 683.5l-2.4 0.2M264.5 683.2l0.9 0.4M270.7 680.3l-0.2 0.4M271.5 675.9l0 0M273.3 627.2l-2 0.7M280.1 640.3l-0.8 1M280.4 658.5l-0.5 1.2M253.8 681.9l0.8 1.4M269.8 645.2l0.9 1.3M281.3 657.7l-1.7 0.9M287.5 662.1l-1.6 0.8M261.5 648.7l0.7 0.2M269.3 629.9l1.4 2.1M262.6 657.3l-0.1 1.1M245.5 630.3l0.4 1.6M277.5 640.1l-2.2 0.9M301.3 668.4l0 0.1M269.2 672.1l-0 0.8M249.2 629.2l-0.7 1.4M260.7 658l1.3 0.9M278.2 666.5l-0.7 1.1M245.3 648.7l0 0.6M259.8 656.2l0.1 0.1M252 677.8l-1.4 0.4M302 662l0.1 0.4M257 630.3l-0.6 0.6M259.1 629.9l0.1 0.5M259 628.7l-0.4 2.3M261.7 675.6l-1 2.2M274.4 684.6l1.3 0.6M279.3 659.9l1.3 0.5M300.4 671.7l0.4 0.6M249.3 650.9l1 1M250.1 655.5l1.7 0.3M293.8 660.6l1.3 0.6M303.9 658l0.5 1.2M272.4 668.9l0.6 1.9M266.3 661.1l-1 1.4M267.8 669.1l-0 0.1M250.6 632.7l-0.3 0.6M303.8 629.5l0.4 2.2M301.7 630.5l-1 0.6M275.1 661.6l-2.4 0.9M260.6 664.1l-1.5 1.4M284.7 635.9l0.4 0.4M294.6 669.5l-1.6 0.1M248.9 677.1l-1.6 1.1M291.6 646.1l-0.5 0.4M253.9 667.2l0 0.1M299.7 650.7l-0.3 1.3M303.4 660.6l2 1.4M283 679.9l-0.9 1.1M301.5 673.4l2 1.4M289.5 656.7l-0.1 0.4M279.7 664l-2 0.7M296.8 632.4l-0.5 0.9M298.9 641.6l0.6 1M297 664.6l-0.2 1.9M251.5 674.7l-1.3 0.3M246.6 670l0.2 0.1M268.6 665.1l-2.4 0.6M261.2 643.4l-2.4 0.3M299.9 648.5l0.8 1M287.7 639.8l0 0.9M273.9 636.7l-0.1 1.4M259.9 631.6l0.2 0.7M266.7 657.9l-0.1 0.2M245.9 670.9l1.9 0.6M287 661.3l0.2 1.7M284.3 678.2l-0.5 0.4M294.4 644.9l-1.2 1.6M266.4 671.9l0.8 1M254.3 626l0.2 0.3M277.4 684.7l1.8 0.8M245.4 675.2l0.3 0.2M293.8 649.4l0.9 0.7M297.2 630.2l0.4 2.5M247.3 663l0.4 1.7M285.7 653.7l-0.8 0M260 630.6l-0.5 1.7M303 644.4l0.6 0.5M246.6 652.5l1.4 0.5M259.2 668.4l0 2M277.4 628.9l1 1.1M282 651.2l-0.7 1.1M258.1 640.4l1.5 0.9M263.5 682.8l2.3 0.6M297.6 634.1l-0.1 0.2M304.2 644l-2.2 0M272.2 659.5l0.5 0.3M259.7 666.3l-0.3 1.1M268.8 645.3l0.6 1.2M249.8 628l0.9 2.1M261.4 662.3l-0 0.1M280.1 658.2l-1.7 0M304.1 676.5l0 1.1M260.2 679.8l0.9 1.9M294.2 635.9l-0.6 1.1M303.9 657l0.6 2.1M263.1 638.1l0 0M254 650.1l-1.8 1.2M298.4 635.3l-0.8 0.7M271 670.5l-1.9 0M294 657.4l0.4 0.8M274.9 668.2l-1.3 0.5M296.8 640.6l-0.1 2.2M248.9 661.1l-0.5 0.1M289.7 676.2l-1 1.9M296.3 678.6l-1.1 0.7M290.2 673.7l-0.7 1.1M283.9 658.9l-0 0M271.8 661.9l-1 0.1M290.1 674.2l-0.4 1.1M250.2 680.7l0 0M261.5 655.4l0.3 0.7M295.5 652l1.6 0.6M251.3 640.2l-0 1.1M256.8 641.8l0.1 0.1M301.3 683.8l-1 2.1M259.2 642.4l-1.6 1.6M263.4 642.3l-0.4 2.4M293.8 659.6l0.2 0.2M277.6 646.8l2.2 1.1M262.5 681.1l0.5 0.6M283.5 674.7l0 0.3M292.4 666.3l-0.2 1M248.7 681.6l-1.7 0.7M270.5 684.1l-1.4 0.2M265.6 677.9l-0 0.1M302 664.3l1.9 1.5M257.4 676.8l-2.4 0M254.1 676l0.3 1M295.3 626l0.3 0.7M280.4 627.8l-0.6 1.2M285.2 650.6l-0.8 1.6M280.2 680.6l1 1.1M272.5 641.2l0.3 0.4M289.6 631.3l0.3 2.4M273.5 658.9l-1.2 1M271.5 643.2l-1 2M274.5 683.3l2 0.2M256 660.7l1.6 0.4M256.5 635.5l0.6 0.2M264.1 659.6l-1.6 1M299.9 679.2l0.8 1.3M246.3 634.4l-1.4 0.2M301.3 646.3l0.4 1.6M287.4 647.4l0.6 0.2M273.4 649.9l-0.1 0.1M287.9 646.5l1.1 0.2M264.7 659.8l0.9 0.7M267.6 654.2l0.7 1.9M251.7 662.2l-0.6 0.9M275.5 658.2l-0.8 0.6M254.1 652.4l1.3 0.4M269.8 671.4l-0.7 1.3M263.3 682.2l-1.2 2.1M275.7 653.7l-0.2 1.4M303.9 667.1l-0.6 1.2M251.2 668.1l0.6 0.4M300.7 631l0.4 1.5M262.2 662.4l1.2 0.2M283.4 638.3l0.3 0.7M291.6 673.6l0.2 1.5M278.6 662.7l0.3 0.8M291.1 666.4l2.1 1.4M285.3 654.1l2 0M294.5 654.4l0.2 1.4M295.7 684.4l0.7 0.9M302.3 642.5l-1.9 0.2M263.7 674.8l-2 0.4M254.8 674.5l2.3 0.8M299.8 633.7l-0.2 0.9M257.8 644.1l1.2 0.2M259 641l1.1 1M297.1 632.1l-0.9 0.6M299 684.3l0.6 0.2M255 678l0.1 0.3M268.8 650l0.1 1.8M276.2 676.7l-0 0M254.7 626.7l-1.3 2M262.8 662l0.3 0.4M261.4 667.9l0.3 1.9M300.3 626.7l-1.1 1.1M286.9 658.3l-2.1 0.1M245.4 677.2l0.2 0M252.8 666l-1.4 1.5M274.8 667.2l-1.1 1.3M258.3 656.1l-1.9 0.9M252.7 674.7l1.2 1.9M279.3 639.6l-0.5 0.2M265.2 650.9l-1.2 2.2M250.7 628.9l-0 1.3M301.2 641.1l-0.4 1.4" stroke="#7032b8" stroke-width="1.4" stroke-linecap="round" fill="none"/>
<path d="M285.2 664.5l1.1 0.8M273.6 664.5l-0.7 2.1M287.9 660.3l1.4 0.5M289.7 649.9l-0.1 0.6M273.4 648.1l-0.1 0.5M292.7 635.8l0.9 1.3M275.8 636.4l1.1 1.4M255.5 642l-0.6 1.5M252.4 679.3l-0.1 0M261.4 655.2l0.1 0.3M251.7 652.6l0 1.6M281.4 677.6l-1.2 0.6M267.1 635l-0.2 0.2M245.2 627l0 0.7M293.6 647.9l0.6 0.3M295.1 633.3l0 0M252.6 669l0.3 0.3M265.3 633.8l1.2 0M293.6 673l0.2 1.2M302.3 679.9l-0.2 0.4M293.4 641.5l0 0.9M247.7 664.4l-0.3 0M267.9 636.4l-0.6 1.8M292.3 649.8l-0.8 1.3M275.2 676.9l1.3 0.6M248.6 669.8l1.5 0.4M246 683.4l-1.2 1M283.2 627.9l-1.1 1.1M288.7 667.7l0 0.1M301.4 647.6l-0.4 0.2M263.2 679.4l-0.9 1.2M303.5 663.7l0.8 1M281.2 650.2l0.2 0M276.2 632.8l0.7 0.5M261.9 638.9l1.5 0.9M297.8 665.7l0.3 1.4M270.7 683l-0.7 1.4M246 640.9l-0.7 1.5M278.8 661.4l-1.2 1.4M297.9 657l1.7 1.1M272.6 639.4l0.1 0.1M272.3 675.3l0.3 0.3M255.3 681.2l-1 1.6M299.4 682.2l0.5 1.3M279.2 674.5l0.4 2M246.9 673.4l0.6 0.4M299 682.7l-0.5 0.4M248.8 649.6l-0.3 0M276.5 659.7l-1.5 0.4M279.6 635.4l0.1 0.8M284.5 636.6l0.1 0.3M289.7 668.6l-1.2 0.2M280.8 650.3l-0.6 0.2M246 642.5l-0.4 0.9M259 677.6l0.3 0.2M255.9 632.5l-0.1 0.1M302.9 634.6l-1 0.5M297.9 659.1l1.2 1.3M272.9 655.9l-1.3 0.9M249.3 675.9l0 0.6M301.2 681l-2.1 0.8M249.1 660.8l-0.7 0.3M300.9 655.2l-0.4 1.3M291.5 627.2l-0 0M260.5 652l0.8 1.1M303.3 683.6l-0.8 0.7M299.5 673.2l0.3 0.5M286.6 667.1l0.2 0.1M271 627.3l0.4 1.6M269.7 632.5l-0.1 0.4M296.7 660.4l0.1 0.5M273.3 679.7l-0.1 0.2M301.2 634.6l-0.3 0.3M303.5 667.5l0.1 0.1M267 665.7l0.4 1.3M268.8 636.9l1.5 0.7M298.9 666l1.6 1.2M298.7 674.4l-1.3 1M264.9 635.9l0.2 1.3M296.6 676.5l-0.2 0.3M280.7 662.3l1.5 1M289.5 632l1.1 0.4M295.7 669.7l-1 1.3M296.2 642.5l1 1.8M269.1 635.4l-1.3 0.5M279.8 627.8l-1.1 0.4M260.8 681.5l-0.5 0.4M250.2 643.8l0.2 0.3M304.6 626.4l-1.3 0.1M250.8 645.6l0.3 0.6M279.1 680.6l1.2 1.8M252.8 675.3l-0.1 0M303.6 638.9l-0 0M298.5 672.5l1.4 1.3M271.4 651.9l1 0.6M273.5 666.4l-1.5 1M296.9 677.2l0.9 0.7M247.3 640.1l-1.1 0.1M296.8 647.9l-0.5 1.3M286.9 661.1l-1.2 0.5M302.7 682.4l-0.2 0.3M294.4 646.8l-0.7 1.2M290 673.6l-0 1.2M278 675.3l-1.6 0.1M260.3 633.2l1.2 0.9M261.3 659.5l-1.6 1.4M265.8 650.9l-0.2 0M301.2 675.3l-0.4 0.1M303.3 674.7l-0.2 0.3M277.6 669.3l-2 0.7M256.8 648.3l0.5 0.5M285.1 678.6l-0.3 0.3M297.4 645.6l0.1 1.3M257.5 638.9l0.1 0.4M293.2 682.6l-0.2 0.1M294.5 661.9l-0.2 2M274.3 669.4l-0 1.3M264.8 660.4l-0.7 1.5M285.7 642.9l0.2 0.7M246 644.8l-1.3 0.3M246.1 627.9l0.8 0.7M251.3 664.8l-1.3 0.7M296.7 655.9l0.5 0.3M291.7 647.8l0.8 0.6M263.5 661.8l-1.6 1.1M280.5 663l-1.2 0.1M246.1 651.3l-0 0.1M303.3 662.2l-0.6 0.6M256.1 635.5l-0.6 0.6M251 665.8l1.1 0.9M257 636.7l0.8 0.2M272.6 681.3l0.3 1.6M301.9 637.4l-0.5 1.5M277.4 677.9l-1 0.9M279.3 659.7l-1.1 0.9M284.5 653l-0.2 0.9M248.8 681.5l-0.5 0.1M277.3 663l0 0.1M295.7 683.4l0.8 0.1M277.8 658.1l0.3 0M273.3 668.5l-0.5 0.1M287.8 627.5l-0.4 0.6M286.3 659.4l-0.4 1.4M248.8 628.5l0 0M265.8 637.2l-1.4 0.8M294.1 664.5l0.4 0.3M245.6 639.7l1.1 0.8M247.6 680.8l-0.7 0.9M272.7 677l0.8 0.1M298.9 664.9l-0.6 0.4" stroke="#36185a" stroke-width="1.3" stroke-linecap="round" fill="none"/>
</g></g>
<rect x="297.9" y="681.3" width="4.5" height="1.2" fill="#e53030" stroke="none" stroke-width="1"/>
<clipPath id="ce5"><rect x="50.2" y="706.1" width="59.4" height="59.3"/></clipPath>
<rect x="50.2" y="706.1" width="59.4" height="59.3" fill="#fbf5fb" stroke="none" stroke-width="1"/>
<g clip-path="url(#ce5)"><g filter="url(#soft)">
<path d="M72.6 761.1l1.3 1.1M102 743.8l-0.1 0M65.4 724.2l-0.2 0.8M57.6 746.8l-0.1 1.7M97.4 743.2l1.4 0.9M71.5 733.9l-0.2 0M88 711.9l0.3 1.1M61.5 715.6l0.9 0.2M83.6 736.6l-0.2 0.1M52.6 716.3l1.3 1M75.4 739.3l0 0.9M80.2 734.7l-0.1 0.1M67 708.9l-0.7 0.4M87.6 733.2l0.7 0.6M86.9 726.9l0.1 0.1M55.7 746.7l-1.3 1.2M63.2 714.8l0.7 1.8M60.1 740l-0.2 1.2M77 724.1l0.1 1M90.7 732.7l-0.7 0M56.8 750.9l-0.7 0.5M92.3 739.7l0.9 0.8M51.2 750.4l0.5 0.2M98.4 741.1l-0 0.1M59.9 757.4l-0.5 0.1M86.6 710.7l-0.8 0.1M91.8 715.3l0.5 0.6M55.7 741.3l1.1 0.9M83 757.2l1.5 0.9M54.6 760.2l0.6 0.3M97.7 721.8l-0.8 1.2M67.6 733.4l-0.5 0.3M67.1 722.3l1.1 1.3M76.1 736.7l0 0M94.4 764.3l0 0.7M53.6 735l-0 0.7M67.9 724.7l-1.4 1.2M71.6 710.3l0.1 0M57.9 740.7l1 0.4M102.4 745.9l-1.3 0.5M68.8 759.6l-1.9 0.6M52.9 756.6l1.9 0.6M101.6 754.4l-0 0.1M95.3 750.5l-0.1 0M54.6 711.1l0.1 1.9M60.8 729.5l0.8 0.9M104.5 746.2l0.3 0.7M57.1 764.6l-0.6 0.1M82.3 738l-0 0.4M56.1 732.7l-1.2 0.3M63.3 716.9l1.4 0.6M61.8 734.5l-0.9 0M54.1 757.8l0.8 0.4M64.4 760l0.1 0.3M52.5 735l-0.9 1M70.4 731.4l-1.5 0.6M76.7 709.4l0.9 1.7M78.5 708.9l0 0M82.5 721.6l1.4 0.7M89.1 707.4l-0.7 0.1M65.5 724.7l-0.1 0M79.5 720.9l0.7 0.8M102.9 731.3l0.1 0.1M53.4 751.4l0 0.2M85.4 711.7l-0.5 1.2M105.5 761.7l-0.2 2M79.1 731.6l-0.1 0.3M109.5 736l1.2 1.3M72.5 731.2l0.8 1.8M95.4 714.9l0.1 1.5M109.1 707.1l-0.5 0.2M76.4 722.6l0.4 1.7M102.4 738.5l0.1 0M101.7 760.2l-0.3 0M100 737.8l-0.1 1.5M52.2 723.5l-0.6 0.2M66.5 747.4l1.2 0.5M77.4 738.7l0.6 1.3M108.9 753.9l-0 0M86.5 761.8l-0.3 0.3M92.7 729.8l-0.2 0.7M108.3 746.8l-0.7 1.1M100.2 741l1.4 0.2M101.6 763.2l-0.3 1.1M105.7 739.6l-0.3 1.8M84.1 760.5l-0.5 1.8M82.4 738.9l0.4 0.9M63.7 723.2l-0.4 0.1M74.4 758l-0.9 0M85.4 726.4l0.6 0.6M69.7 723.1l0.2 0.5M51.7 762.2l0.8 1.4M100 709l-0.3 1.2M102.6 764.2l-1 0.6M91.7 711.6l0.2 0.1M95 734.1l0 0.7M106 734.7l0.7 1.5M89.1 752.3l-0.4 0.1M61.9 715.4l1.4 1.3M75.7 761.8l-0.2 0.4M92.8 710.7l-0.2 0M99.3 745.7l0 1.3M104.2 707.5l0.4 0.4M88.3 761.8l0.5 0.2M64.6 756.8l1.1 0.5M92.3 730.3l0.1 0.1M100.9 762.5l-0.6 0.5M105.6 712.4l0.2 0.3M69.8 744l1.6 1.1M66.7 736.6l1.3 0.7M83.7 742.9l0.7 1.4M69.2 740.3l0.1 0.7M96.4 763.8l1.7 1M82.3 738.3l0.9 0.6M69.4 729.5l0 0.4M104.1 745.3l0.2 0.2M71.9 755.1l0.1 0M100.2 727.8l-0 0.4M52.6 748.4l1.7 0.3M81.4 761.3l0.4 0.5M102.6 706.2l-0 0.1M99.3 740l0.4 1.3M107.3 724.8l1 0.6M68.2 742.7l-0.1 0.1M64.5 752.8l-0.1 0.3M79.6 720.6l-0.9 1.3M74.3 738.7l-0.6 0.6M52.2 709.2l1.1 0.2M102.4 758.9l0.4 0.3M102 710.1l1 0.4" stroke="#dca0ea" stroke-width="1.5" stroke-linecap="round" fill="none"/>
<path d="M109.1 731l0.8 1.1M102.1 749.3l0 0M68.3 725.4l-0 0M51.7 738.1l1 1.2M68.2 756.9l-1.1 1M56 721.3l0 0.7M95.2 759.5l1.1 0.3M52.2 729.8l1.8 0.4M108.2 706.9l0 0M54.4 726.2l-2 0.2M97.2 746.4l0.2 0.7M81.5 726.3l1 0.8M81 730.1l0.2 0.1M77.1 727.7l-0.8 0.2M67.1 728.4l-0.7 0.1M108.9 750.4l-0 0M106.9 720.8l-0.8 1.3M82.4 762l-0.5 0.1M67.9 756.6l-0.3 1.3M76.5 715.4l-0.6 0.3M82.4 714.3l-0.1 1.2M102.8 759.1l1.6 0.8M80.5 735.6l-0.8 0.3M106.5 713.7l0.4 1.5M74.2 707.6l-0.4 1M92.3 714.1l-0.1 0.6M66.2 758l0.9 0.1M82.4 716.1l0.4 1.4M104.6 715.6l-0.8 1.2M71.9 755.9l-1.7 0.2M85.9 718.4l1.4 0.9M92.9 724l0.4 0.7M86.9 757.5l1.7 0.1M100.8 747.4l-0.7 0.3M66.5 756.3l-1.1 1.5M70.6 728.2l0.1 0.6M59.3 757.5l0.5 0.4M62.4 741.4l-0.1 0.1M101 724.6l-0.3 0M74.7 764.1l-0.6 1.2M83.8 710.7l-0.2 0.2M71.3 724.3l1.3 1.3M80.2 733.4l1.4 1M70 726.3l0 0.3M95.1 750.5l-0.3 0.6M78.7 728.3l-0.5 1.4M57.3 727.7l0.8 1M86.2 717.6l0.4 0.3M98.8 733.8l-0.1 0.2M62.3 707.7l1.8 0.5M106.7 729.5l-0.2 0.1M89 742.7l-0.3 0M100 737.9l-0.8 0M105.8 725.6l-0.1 0.8M90.1 765.1l1.2 1M56.7 708.6l0.2 0.1M72.1 738l-0.3 1M95.2 706.5l1.3 0.6M94.6 757.3l-0.1 0.2M59.3 738.3l-0.2 0.3M71.2 762.9l-1 0.5M67.9 756.4l-0.2 0.1M101 710.7l0.9 0.6M62.5 756.2l-0.2 0.1M78.7 714.6l-0.2 0.5M61.6 746.4l-1.9 0.1M56.4 708.8l-0.6 0.4M104.9 734.4l0.4 0.6M97.3 744.7l-0.2 0.7M79.2 754.1l-1.7 0.2M96.7 740.5l1.2 1M98.5 714.7l-1.2 1.2M60 754.3l-0.1 0.8M59.2 731.6l-0 0.9M75.5 706.6l-1.4 0.3M73.7 745.9l1.3 0.8M85.7 742.7l-1.1 1.3M82.7 719.2l0.1 0M101 760.7l-0.3 0.3M62.8 734.3l0.1 0.3M57.6 752.8l0.7 0.7M103.2 719.5l-0.1 0.6M61.6 762.9l0.7 0.3M62.3 723.2l1.8 0.8M68.9 709l-1.1 1.5M51.1 752.7l0 0.6M55.1 709.2l-0.9 1.3M87.5 745.1l1.2 0.6M77.8 734.7l-0.6 0.6M69.4 743l0 0M81.3 752.1l-1.7 0.2M72.3 754.3l-1.3 1.2M73.2 736.8l1 0.9M64.9 707.9l0.9 1.5M56.8 734.5l0.7 0.1M93.8 740.3l-1.2 0.2M92.1 720.8l-1.6 0.1M88.8 733.3l0.8 0.2M96.8 749.4l0.3 0.2M75.4 750.9l-0.3 0.2M104.3 715.8l0.4 0.1M77.6 749.4l0.1 0.2M71.6 729.4l0.8 0.1M99.1 754l0.1 0M58.6 753.6l-0.1 0M70.1 758l-0.5 0.4M52.6 728l-0 0.4M104.9 753.3l0.6 0.5M55.7 743.9l0.4 1.6M104.1 714.3l0.3 0.1M80.4 712.6l-1.1 0.9M67 761.9l-0 0M82.7 734l-0.7 0.2M53.1 750.6l-0.2 1M56.9 750l0.7 0.5M77.1 747.9l-1.3 0M88.3 765.2l-0 0.1M102.1 727.3l0.3 0.1M69.2 750.7l0.2 0.3M76.5 709l0.2 0.3M96.3 752.1l0.4 0.6M65 734.6l-1.2 0.6M106.9 727.4l0.6 0.5M78.9 710.5l0.7 0.1M69.8 756.8l-0.8 0M100.5 744.1l-0.3 1.8M103.1 721.5l-0.5 0.2M89.5 740.1l-0.1 0.5M67.3 709.1l-0.8 1.2M78.8 761.8l-0.1 0.1M56.4 749.2l1.8 0.1M104.1 747l-0.2 0.9M52.4 707.5l1.1 0.6M59.3 728.2l-0.7 0.7M90 739.4l-0 0M50.9 764.6l-0.6 0.7M85.5 727.1l-0.9 1M65.2 754.3l0.5 0.6M68.3 746.9l0.2 0.4M50.7 707.4l0.5 1.8M102.2 749.2l1.4 1.1M80 758.6l0.5 0.6M102.9 737.5l1.1 1M96.5 731.1l0.1 1.7M75.1 715l1 1.4M89.4 739.1l0.1 0.9M65.3 710.4l0.4 0.4M64 760.8l0.3 1.8M108.9 706.4l0 0.2M64.3 744.2l0.7 0.5M54.1 762.4l-0.4 0.4M81.2 707.7l1.3 1M66.1 709.4l-0.8 0.3M54.2 716.4l-0.4 0.7M68.3 736.4l-0.5 0M70.6 760l-0.5 0.1M87.5 764.5l0.1 0M109.3 710.3l-0.5 0.1M57.2 745.9l0.1 0.4M60 751.7l0.1 0.3M56.9 751.3l0.1 1.8M97.6 749.9l-1.2 0.4M109.5 728.2l-0.9 0.3M79.4 715.9l1.6 0.1M107.4 750.5l-1.4 1.3M72.2 756.7l1 0.4M62.6 729.5l0.5 1.1M92.5 710l-0.7 0.4M101.1 760.9l-1.1 0.2M89.9 746.5l0.1 0.4M95.8 753.4l0.8 0.8M88.5 726.7l-0.1 0.5M96.4 722.5l-0.1 0M109.3 739.9l0.8 0.4M95.3 709.5l0.1 0.6M64.3 717.9l-0.5 0.1M69 715.6l0.8 0.2M83.3 744.2l1.3 0.6M109.3 755.2l-0.3 1.7M103.5 758.4l-0.5 0.8M63.8 736.6l-0.2 0.4M66.1 724.3l0.8 1.2M104 755.7l1.3 1.5M74.7 753.9l-1 1.7M63 709.4l0.1 0.6M99.3 707l-1 0.8M63.6 726.5l1.1 1.4M94.4 745.5l0.1 0.3M90.1 751.7l-1.1 0.4M63.3 720.7l-1.6 0.8M87.7 707.1l0.4 1.5M65.6 764.6l-0.3 1.5M87.8 729.5l-1.5 1M58 722.1l-0.5 0.2M86.8 738.7l-1 1.7M72.5 715.8l0.1 0.1M78.4 734.3l1.5 1.3M79.7 763.1l-0.6 1.5M82.4 741.1l-1.2 0.3M103.6 761.9l-0.2 1.8M81.6 759.7l1.6 0.7M107.8 729.4l-0.2 0.7M67.4 710.1l0 0.1M74.5 749.5l-0.1 0.5M86.9 733l-1 0.2M83.3 757.2l-1 1.5M107 737.4l1 0.9M95.8 719.4l0.1 0.5M94 751.2l-0.6 0.3M67.1 733.2l0.3 0.5M76.9 762.1l1.6 0.2M103.2 760l0.6 1.9M107.4 722.5l0.1 1.6M54.1 716.3l-0.9 0.3M57.1 733.4l-0.2 0.3M104.8 707.2l-0.9 0.3M60.2 751.1l-1.3 0.2M67.7 725.4l0.4 0.7M65.1 722.3l0.4 0.2M86.9 710.1l0.3 0.1" stroke="#a040c8" stroke-width="1.45" stroke-linecap="round" fill="none"/>
<path d="M71.3 708.1l-1.1 1.5M72 718.3l1 0.4M54.9 755.8l1.7 1M71.2 706.4l0.2 0.3M54.2 763.8l0.3 0.2M53.2 707.1l0.7 0.1M73 748.9l0.1 0.2M86.6 706.5l0.2 1.2M93 729.3l0.4 0.9M62.9 751.4l1.3 0.7M75 727.7l0.4 1.2M90.7 741.4l1 1.3M60.5 755.5l-0.5 0.1M98.3 716.3l0.1 0.1M95 721.7l-0 0M50.7 757.6l1.9 0.2M93 735.6l-0.8 1.2M74.6 721.9l0.6 1.9M73.6 719.1l0.8 1.2M79.4 752.4l-1.7 0.2M95 747.4l0 0.1M100.6 729.3l-0.1 0.9M106.6 707.6l0.3 1.4M69.5 764.1l0.3 1.6M78.4 729.5l-0.1 1.5M55.1 746.6l-0.2 0.2M103.2 764.8l-0.1 0M102.4 754.5l-0.7 1.2M83.1 731.9l0.2 0M97.8 756.9l0.6 0.1M50.6 709.2l1.1 0.7M94.7 754l0.7 0.7M73.4 731.5l0.2 1.5M53.4 745.4l-0.4 0.8M90.8 752.4l-0.2 0.8M63.2 748.8l-0.8 0.8M62 709.1l-0.4 0.2M83 764.2l0.7 1.8M96.9 762.1l0.9 0.3M64.9 761.7l-0.4 1.2M80.9 706.9l-0.7 0.4M60 717.1l0.9 0.5M87.1 706.8l-0.6 0.3M53.9 720.2l-1.1 0.3M51.6 711.1l-0.9 0.7M68.8 743.1l0 0.8M93.7 733.9l-1.6 1M105.5 742.8l-0.6 0.3M98.4 757.2l-0.7 1.8M103.9 722.3l-0 1.9M108.4 720.9l0.2 0.5M84.3 726.3l0.2 1.9M64.1 709.8l-1.4 0.4M107.8 740.9l0.7 0.6M51.7 740.2l1 1.1M67.1 720.9l-0.5 0.4M101.6 763.8l-0.1 0.2M63.3 759.9l0.9 0.4M70 727.7l1.1 0.2M81.8 719.2l0.9 1.5M82.9 744.4l0.4 1.6M73.2 733.2l-0.1 0.4M89.9 709.9l-0.2 1.1M76.8 731.4l-0.1 0.9M50.5 742.5l1.6 0.5M75.9 759.1l0.8 0.9M70.3 759.9l-0.9 0.2M58 736l0.3 1.6M61 760.3l0.6 0.3M77 707.2l-0.9 0.8M104.6 744.3l-1.3 0.1M101.9 735.5l-1.8 0.2M100.8 733.9l0.3 0M107.7 762.7l1.3 0.4M83.9 717.7l-1.2 1.5M101 742.1l0.1 0.3M82.6 745.9l-0.1 0.1M62.4 755.1l-0.1 0.4M53.1 736.5l-0.4 0M109.2 710.3l-1.5 0.3M66.5 729.9l1.6 0.4M77.6 763.6l1.9 0.6M80.8 760.9l-0.2 1M75.4 747.2l0.7 0.7M85.1 754.6l-0.9 1.3M98.2 751.2l-0.4 0.1M96.6 752.6l0.3 0.3M98.5 751.7l-0.2 0.7M98.5 707.3l1.2 0.2M87.4 748.7l1.1 0M82 732.1l0.2 0M74.2 706.6l-0.7 0.6M72.4 717.8l0.7 0.1M53.2 732.6l0.2 1.8M63.9 750.8l-0.4 1.4M56.3 728l1.6 0.1M56.2 748.2l-0.5 1.6M63 719.4l0.6 1M73.7 757l1.4 1.3M54.1 723.8l-1 1.6M96.6 755.4l-1.5 0.7M97.8 743.8l-0.8 0.5M104.9 759.8l0.5 0.8M90.1 724.7l-0.5 1.5M70.3 736.4l-0.4 0.1M76.4 762.6l1.4 0.8M94.2 720.1l0.9 0.1M76.8 760.8l-0.3 0.1M108.6 764.6l0.9 1.2M61.7 722.4l1.1 1.5M78.6 745.4l0.8 0.8M100.1 707.4l-0.7 1.7M71 739.7l1.1 0.4M101 734.2l0.4 0.8M90 709.5l0.1 0.2M68.6 715.3l0.2 0.1M76.2 726.5l-0.5 0.7M60.4 758.5l0.3 1.3M77.7 747.3l-0.4 0M106 746.2l-0.5 0.8M57.2 735.4l0.3 0.4M54.2 751.8l-1.6 1M77.2 761.5l-0.9 0.4M74.5 758.7l1.4 0.7M91.6 729.9l0.5 0.3M103.9 709.4l-0.1 0.2M63.6 708.9l0.8 1.2M76.8 721.5l-1.3 0.5M86.3 751.1l-1.4 0.9M84.8 714.5l-0.4 0M98.2 721.1l-0.2 0.5M91.1 741.2l-1.6 0.1M101.1 718.9l-0.4 1M51.5 763l0.5 0.9M91.3 756.7l0.2 0.6M66.9 742.1l-1.4 0.4M71.2 739.8l-1 1.3M85.9 731.9l-0.6 1.9M54.1 713.6l0 0.4M69.2 713.6l-1 1.5M85.9 722l0.1 0.3M103.9 736.9l1.7 0M57.5 761.2l0.5 1.3M74.3 749.9l-1.3 0.8M70.6 756.8l-1.4 1.2M92.6 754.1l-1.1 1.6M51.2 762.1l-0.3 0.2M87 747.6l0.7 1M58 734.8l0 0.1M74 706.6l-1.3 0.3M92.8 743.4l-1.2 0.4M76.8 761.1l-0.3 0.1M68 753.3l-1.4 0.3M69.8 716.6l-0.2 0.4M68.2 713.4l0.1 0.2M53.4 708.7l0.1 0.5M101.3 710l0.4 0.2M70.7 712.5l-0.5 0.9M91.1 753.8l0.7 0.5M81.1 748.8l1.5 0.4M53.8 737.8l1.7 0M95.9 742.2l-0.2 0.5M73.3 756.2l-0.2 0.3M75.3 754.8l0 0.3M83.1 751.3l0 0M89.8 745l1.5 0M61.2 730.4l-0.3 0.6M79.5 756.8l0.1 0.9M83.7 733.1l-0.3 0.9M80.5 752l0.4 0.1M70.3 760.4l-0.2 0.3M53.9 746.2l0 0.1M59.3 737.8l-0 1.9M58.2 716.3l-0.6 0.2M99 729.7l-0.2 0.2M102.7 735.3l-0.3 0.3M55 752.2l-0.2 0.8M96.6 719.3l-0.7 0.1M95.3 724.8l0.5 0.7M69.3 721.2l0.1 1.5M100.8 711.3l-1.4 1.2M81.2 726.7l-1.3 0.4M90.3 708.7l-1.4 0.9M69.2 713l-1.4 0.7M99.9 715.3l0 0M80.9 724.7l0.2 0.7M56.8 706.8l0.7 0M72.1 759.1l1.5 0.5M92.2 739.5l0.9 0.2M89.2 745.8l0 0.1M91.6 728l0.8 1.2M82.8 733.5l-0 1.7M81.3 722.1l-0.2 0.1M77.6 710l0.1 0.4M66.6 757l0.2 1.5M66.3 717.7l0.1 1.6M105.2 707.9l0.1 0.9M89 750.5l0.2 0.2M83.4 756.9l1.1 0.3M63.7 748.8l-0.1 0.1M66.6 730l1.1 0.3M68.3 712.3l-1.7 0.3M94.2 737l1.6 0.5M96.5 754.8l-0.5 1.1M52.8 753.8l0.7 1.5M71.9 744.4l-0.8 0.4M100.3 712.9l1 1.4M105.2 722.5l-0.1 1.1M62.6 723.3l0.2 0.7M63.5 718.7l-0 0.1M105.4 764.3l0.3 1.5M63.9 743.9l0 0.2M107.5 741.7l1.8 0.6M98.8 733.1l0.8 0.6M105.1 745l-1.6 1M74.7 719.9l0.1 0.1M52.9 756.5l-0.4 1.3M63.1 757.9l-0.4 0.6M95.6 719.7l-0.1 1.1M65.7 750.4l0.1 0.7M95 707.2l1 1M83.3 745.7l0.1 0.2M79.5 741.3l1.4 1.1M52.2 749.3l0.4 0.6M68.9 748.6l0.2 0.1M53.6 743.6l0.2 0.5M73.5 759.3l-0.9 0.3M71 752.3l-1.3 1.4M83.1 750.1l-1.5 1.1M85.8 744.4l-1.2 0.7M64.4 760.8l-1.5 0.9M82.4 710.3l0.9 0.4M99.3 728.3l-0.4 0.4M80.1 714.1l-0 0.2M57.3 761.6l-1.7 0.9M88.6 751.4l-1.1 0.8M70.9 737.2l-0.2 0.8M102.5 753.2l-0.7 0.8M74.2 737l0.1 0.5M72.8 738.5l1.3 0.2M77.8 745l0.1 0.4M53.6 730.2l0 0M70 707.6l0.5 0.7M55.7 719.5l-0.2 0.7M103.7 725.7l-0 0M90.2 752.4l0.2 0.2M106.2 741.4l0.9 0.9M73.2 734.3l-0 1.8M79.6 763.4l0.2 0M107.9 724.5l0.3 0.3M92.1 749.2l-1 0.9M74.2 710.1l0.4 0.7M55.5 709l-1 0.1M107.4 764.6l0.1 1.8M67.7 758.4l-0.6 0.8M50.2 732.1l-0.2 0.3M106.5 706.6l1.2 0.1M81.5 716.4l0.1 0.7M83.1 710.2l-0.5 0M68 736.5l0.7 0.1M88.7 710.5l0 0.6M54.3 751.1l-0.2 0.2M83.5 748.1l-0.6 0.5M101.6 764l0.2 0.3M97.9 743l-0.2 0.3M86.6 723l0.3 0.6M92.3 751.2l0.2 0.1M55.7 752.8l-0.9 0.4M102 749.5l-0.1 0M57.4 712.7l-0.6 0.4M56.2 706.8l1.4 0.5M76.9 762.5l1.3 0.6M101.1 745.8l-0 0.1M99.7 761.3l-1 1.3M105.1 736.7l0 0.2M80.1 732.9l-0.2 1.8M81.4 738.2l-1 1.2M68.4 753.8l-0 0.3M104.6 719.6l-0.1 0.5M78.8 708.7l1.5 0.5M87.2 737.5l0 0M64.9 740.7l-0.3 0.1M101.5 747.1l0.4 1.7M64.3 738.6l0.2 0.7M97.2 710.2l-0.6 0.2M89.7 706.7l0.6 0.4M99.6 749.9l-1.1 1.4M93.7 743.2l-1 1.2M103.4 737.1l0.8 0.9M58.5 724.9l1.9 0.5M75.8 712.6l0.4 0.5M59.9 706.8l0.2 0.6M74.5 730l-1.7 0.8M98.7 761.3l0.2 0.2M91.3 746.3l-0.5 1.6M62.9 735.2l-0.3 0.6M75 727.5l0.5 1.2M97.8 750.7l0.1 1.5M69.4 744.4l1.6 0.9M59.7 722.5l0 0.2M66 757.2l1.7 0.8M68.9 732.3l0.9 0.2M65.4 719.1l0 0M75.2 717.5l0.5 0.1M82.3 706.8l1.5 1M74.9 747.4l-1 1.4M81.3 706.4l-1.9 0.5M50.9 736.6l0.6 0.7M96.4 760.3l1.6 0.1M64.1 763.9l0.4 1.3M79.6 756.6l0.7 0.4M76.6 750.7l-1.1 1.5M69.5 746.9l0.8 1M103.8 758.5l0.1 0.2M86.2 737.7l1 1M94.8 737.9l0.1 0M102.2 713.1l1.3 0M63.5 727.3l-0.1 0.7M72.2 727.2l0.1 0.9M108.3 749.8l1 0.9M68.4 747l-0.2 0M106.1 763.8l0.7 1.7M67.3 716.5l0.8 0.9M86 737.4l1 0.3M77.5 720.6l-1.5 0.6M105.1 755.1l-0.9 0.8M89.7 726.3l-1.1 1.1M71 709.9l0.2 0.1M75.7 762.4l0.5 1.5M99 748.8l0.1 0.1M72.8 727.5l-1.6 0.1M103.4 763.8l-0.9 1M51.4 719.3l-0.8 1.6M73.2 738.1l-1 0.3M85 761.7l-0.1 0.8M94.7 744.1l1.6 0.3M75.7 730.3l-1.5 0.4M70.6 757.4l0.6 0.3M89.9 763.9l0 0.1M60.5 715.5l0.5 1.3M68.8 756.3l0.5 0.5M104.6 764.6l1.6 0.9M107.3 762.7l0.3 1.5M72.9 738.3l-0.4 1.6M67.5 738.5l1.5 0.6M100.8 744.4l0.1 0M90.6 726.9l1.5 0.6M53.1 755.1l0.5 1.7M59.5 741.4l-0.1 0.1M107.8 729.5l-0.2 0.4M64 749.7l-0.5 0.5M99.6 761.7l-1.2 0.7M71.5 737l-0.3 0.5M74.7 715.5l0.9 0M78.2 763l0.6 0M51.8 756.5l0.4 0.5M91.8 753.2l1.3 0.8M76.2 747.8l0.4 0.3M109.4 730.2l-1.2 1.2M80.2 742.2l0 0M101.7 728.2l0.4 0.2M96.9 726l-0.6 0.5M58.8 711.1l0.8 0.2M63.4 762.7l0.1 0M70.6 759.8l0 0.7M85.7 762.7l-1.5 0M90.9 761.6l0.4 0M80.6 738.2l1.8 0.5M107 722.8l-0.4 0.8M61.7 745.2l-1 1.1M58.3 755.1l0.4 0.4M96.6 710.9l-0.9 1.2M55.3 726.1l0.3 0.5M93.3 714.2l-0.9 1M52.2 742.1l-0.3 0.3M101.9 752.2l0.2 0.2M86.9 741l0.2 0.4M79.1 741.8l-0 0.9M59.2 759.8l1.8 0.8M52.6 761.6l0.4 1.3" stroke="#6020b0" stroke-width="1.45" stroke-linecap="round" fill="none"/>
<path d="M87 706.4l-1 0.1M89.8 754.7l-1 0.6M58.6 711.1l0.8 1.5M103.2 738.9l1.6 0.3M106.2 707l-1.1 0.9M86 725.4l-1.2 1.2M83.3 726.5l-0.3 0M80.2 725.7l-0.4 0.6M93.8 711l-0.4 0.1M59.7 718.2l1.2 0.4M84.1 722.2l-0.8 0.1M53.9 762.5l-0.9 1M85.7 727.7l0.4 0.5M73.7 762.7l0.1 0.1M81.5 756.2l0.4 0.3M56.4 706.3l-0.2 0.4M78.8 734.2l0 0.2M90.3 751.2l0.7 1.6M82.3 755.5l-0.4 0.3M60 724.1l-0.4 0.3M63.4 714.7l0.7 0.2M54 760.4l0.2 0M76 719l0.9 1.2M53.2 709.6l0 0M63 759.5l0.2 0.2M82.8 753.9l-1 0.1M64.3 755.1l0.4 0.8M63.3 760.9l-0.3 0.3M77.8 718.3l-0.8 0.6M95.4 740.1l-0 0.1M57.3 740.8l-0.7 0.2M66.9 721.8l-0.7 1M54 722l-0.9 0.5M65.3 740.9l0.8 0.4M99.3 760l-1.2 0.1M52.1 712.6l-0 0M80.1 749l-0.4 0.9M106.9 725.4l0.1 0.9M64.3 748.9l-1.1 1.3M87.3 758.2l-0.6 0.6M92.1 716.6l-0 0.4M93.5 743.8l-0.8 1.1M87.7 744.5l0.5 1.2M79.1 733.2l0.4 0.9M61.1 737.8l0.3 0.7M55.1 738.4l-0.5 0.2M58.3 707.5l-1.1 0.8M106.6 733l-0.5 0.3M50.8 723.5l0.2 0M108.5 724.3l0.2 0.1M104.9 760.1l0.4 1.2M99.8 727.7l0.1 0.7M72.7 740.3l-0.1 0.1M104.8 725.6l-0.4 1.4M61.4 735.9l0.8 1.3M104.3 740.9l0.7 0.5M68.3 740.7l-1 0.6M53.1 735.7l0.1 0M86.5 755.8l0.2 1.1M93.5 749.1l-1.6 0.3M57.6 723l-0.8 1.3M84.1 729.2l0.2 0.8M78.8 764.1l-0.6 0.6M57.2 749.4l-1.4 0.1M82.3 716.7l0.2 1.4M89.8 706.6l-1 0.8M77.4 707.7l0 0.1M89.8 709.5l-0 0M61.3 718.2l-0.8 0.6M55.9 740l0 0.1M104.5 718.4l0.2 1.2M88.8 726.8l0.5 0.8M54.2 735.9l0.1 0.2M58.3 726.6l-1.3 0.1M71.3 749l-0.4 0.5M68.2 757.1l0.6 0.8M56.4 760.2l1.1 0.7M54.7 708.6l-0.3 0.4M75.6 761.7l0.7 0.5M78.2 712.3l-0.1 0.5M105.9 710.5l-1.2 1M53.4 757.6l-0.1 1.1M86.8 741.3l-0 0.1M63.3 711.7l0.8 1.3M79.7 712.1l1.1 1.1M84.4 745.1l-0.4 0.3M55 748.3l0.3 0.7M84 763.9l-0.2 0.1M77.7 745.2l0.3 1.5M95.4 728.4l-0.2 0.3M92 756l0.6 1.1M102.3 710.8l1.2 0.9M94.2 749.8l0.9 0.6M82.4 724.5l-0.5 0.4M50.5 715.5l-0.2 0.9M90.3 719l1.2 0.7M97.4 752.9l-1.5 0.2M81 724.2l0.1 0.4M104.8 757.8l-0.2 0M63 720.4l1.1 1.4M77.2 725.3l1 0.8M80.7 738.2l-0.1 0M64.8 730.3l0 0.6M93.3 750.9l1.7 0.5M66.2 764l-0.3 0.2M59.2 742.2l-0.4 1M65.9 752.6l1.4 0.1M98.9 718.2l-0.3 1.4M99.6 736.7l0.2 0.9M50.9 725.4l-0.2 0.1M79.8 730.2l0.9 0.2M54.6 721.9l0.6 0.1M106.3 717l-0.3 0.7M54.4 748.6l-0.9 0.8M71.7 708.1l1.3 0.2M104.3 710.1l0 1.8M53 708.5l-1.5 0.5M85.7 714.7l0.5 0.6M56.2 736.6l-0.8 0.6M53.7 716.9l0.4 0.3M57.7 713.7l0.5 0.6M69.7 730.2l0.6 1.1M67.6 749.2l-0.1 0.3M62.5 755.5l0.7 0.8M58.4 734.5l-1.3 0.1M84.4 710.2l0.2 0.6M88.9 715.1l-0.8 0.4M108.1 722.2l-0.7 0.7M103.9 736.9l-1 1M65.7 732.6l0.7 1.3M84.2 723.2l-1.2 1.1M51.4 763.1l-1.4 0.1M86.6 744.6l0.5 1.1M100 723.3l0.1 0.1M99.6 751.3l-1 0.8M52.5 725.4l0.5 1.7M88.2 761.6l0.6 0.3M80.7 725.2l-1.2 0.6M79.4 737.3l-0.6 0.8M77.3 736.2l-0.1 0.2M81 738.3l1.7 0.2M107.4 756.6l1.1 0.1M81.2 706.9l0.5 1.7M78.4 708.9l0.5 0.3M68.8 710.6l-0.2 0.2M68.2 710.1l1.7 0.5M70.7 746.9l-0.4 1.1M66.9 721.1l-1 0.9M61.3 760.2l-0.2 0.5M55.5 728.6l0.5 1.3M55.5 734.5l0.2 0.7M59.1 750l0.8 1.5M108 729.3l0.9 0.4M89.3 758l-0.7 0.4M76.7 751.1l-0.6 0.8M76.9 711l1.5 0.6M78.7 735.7l-0.6 0.3M94.1 738.5l0 0.8M63.2 741.7l-0.1 0.7M89.7 719.2l-1.1 0.3M100.7 749.7l1.1 0.2M87.4 757.8l-0.2 0.4M93.9 752.7l-0.1 0.4M103.6 718.3l0.3 0.2M103.9 741.7l-0.1 0.5M95.2 746.5l-0.5 0.7M69.3 707.1l0.3 0.9M61.3 729.3l1 1.1M87.5 733l-0.3 0.3M83.9 720.3l-1 0.3M90.3 745.6l-1.7 0.1M88.5 760.2l-0.5 0.7M75.5 724.8l-0 0.4M90.5 727.5l0 0M97 731.8l0.6 1M91.4 746.6l-0.9 0.2M94.4 724.7l-0.4 0M71.7 712.8l1.2 1.3M54.3 732l1.4 0.6M83.6 724.4l1.4 0.8M68.1 718.9l0.5 1.5M82.7 715.1l-0.5 0.3M62.7 733.3l-1.3 0.4M77.2 762.5l0.4 0.2M86.4 723.2l1.4 0M90.1 760.2l-0.8 0.9M100.4 750.7l-0.3 0.5M101.3 764.1l0.2 0.9M93.4 752.6l-1.1 0.2M74.4 729.7l0.8 0.1M100.8 741.1l-0.1 0M67.5 749.2l-0.9 0.7M63 738.3l0.6 0.1M83.2 708.5l-0 0.5M79.6 751l-0.8 1.5M52 711.8l-0.2 0M105.5 760.4l0.1 0.4M96.5 756.5l0.4 0.1M99.3 724.4l-0.7 0.9M86.5 757.6l0 1.2M61.1 713.3l0.9 0.7M104.4 733l0.2 0.4M89.6 742.8l-0.2 0M72.6 727.9l-1.7 0M82.8 742.6l0.7 0.5M98.3 726.9l-0 0.1M72.5 762.4l0.1 0.5M102.1 711.8l-0.1 0.2M87.6 758.9l-0.6 0.5M84.9 755.3l0.2 0.3M53.2 739.4l-0.9 0.7M92.2 709.4l0.1 1.1M98.2 747l1.5 0.3M102.6 727l-0.4 0.9M103.2 742.8l-1.6 0.6M50.7 709.2l-0.1 0.7M83.1 708.7l-0.3 0.6M72.3 709.2l0.1 0.1M75.3 761.1l0.4 0.2M105.8 735.7l-0.4 0.3M72.4 745.1l-0.2 0.2M105.2 713.6l0.8 0.1M52.5 747.2l-0 0.5M68.3 738.1l-0.7 1.6M91.1 753.1l-1.3 0M106.7 761.8l0.3 0.4M73.7 720.9l-1.5 0.6M60.9 719.9l0.6 0.7M97.8 713.4l0.2 0M100.5 739l0.3 0.2M60.6 738.4l0.3 1.4M77.5 737.9l-1.2 0.5M94.2 750.2l0.3 0.2M102.3 728.9l0.6 1.4M86.9 708.9l-0.5 1.3M87.4 745l-0.2 0.2M83.7 744l-1.5 0.4M59.5 726.9l0.3 0.2M60.6 764.1l1.1 1.3M107.3 760.9l-0.6 0.3M70.3 743.9l-0.2 0.2M78 760.3l0.3 0.2M74.7 748.6l0.6 0M83.3 760.4l-0.7 0.1M76.9 757.4l0 0.3M63.2 710l0.9 0.8M101.3 716.9l-0.4 0.8M59.3 735.7l0.1 1.2M60 726.2l-0 0.2M85.7 744.3l0.5 1.3M77 764.2l-1.2 1.2M91.3 757.4l-0.8 1.1M94.7 715.3l0.5 0.7M61.8 743.5l1 0.8M86.8 746.3l0.3 0.3M78.7 720.8l0.6 0.4M106.3 747.8l-1.4 0.3M102.9 722l0.4 0.7M83.1 738.9l-0.9 0.2M59.1 710.8l-0 0.7M89.6 751.6l-0 0.2M62.7 735.5l0.2 0.4M88.3 717l-0.6 0.7M108 763.4l0.9 1.1M95.2 742.4l-0.3 0.1M95.5 758.7l0.1 0.5M106 729.5l1.2 0.4M69.7 728.6l-0.7 0.3M107.8 753.4l-0.2 0.3M95.9 757.4l0.2 0.2M106.1 753.5l-0.1 0.5M88.3 708.2l1.7 0M105 752.5l-0.1 0.1M102.5 747.9l1 1.2M72.7 731.5l1.7 0.3M70.5 764.1l-0.5 1.7M106.5 717.5l-0.9 0.2M50.5 760.1l-0.4 1.5M64.1 741.8l-0.3 0.1M94.1 764.5l1 0.8M71.3 754.7l0.9 1.4M60.4 762.6l-1.2 0.8M56.9 724.4l-1.8 0.1M80.2 759.5l-1.4 0.8M77.5 715.4l0.9 0.7M64.1 761.5l0.7 0.3M106.7 715.5l-0.1 0.2M57.4 707.5l0.5 0.4M65.9 708.3l0.5 0.8M108.4 736.2l-0.3 0.3M68.7 731.1l-0.8 0.2M66.6 735.3l-0 0.6M89 733.8l-0.7 1.2M55.5 723.9l-0.9 0.5M108.7 740l-1.6 0.6M99.9 707.6l1.6 0.4M56.9 740.4l-0.2 0.9M62.9 751.1l0.7 1.3M66.4 744.2l-1 0M54.6 735.9l-0.2 0.1M84.3 730.1l-1.6 0.5M65.2 738l0.9 1M60.8 761.3l0.2 0.3M85.2 745l0.4 1.1M75.7 741l-0.8 0.5M80.5 753.7l-0.7 1M103.6 733.1l0.5 0.9M107.1 727.1l0.4 0.1M80.7 758.2l0.1 0.5M57.5 750.7l-0.8 1.4M89.7 715.7l0.8 1.4M61.7 707.9l-1.5 0.6M98.7 731.5l-0.1 0.6M94.9 761.6l0.8 0M108.8 743.5l-0.7 1.5M75.2 749l0.5 0.8M104.7 713.1l-1.5 1M97.9 716.1l-0.7 0.8M52.4 709.6l0.1 0M101 726.3l1.6 0.2M88.6 725.2l-0.1 0.2M53.9 754.9l1.6 0.2M99.3 748.4l-0.5 0.2M86.2 714.6l-1.2 0.1M99.4 731.4l1.2 1M104.3 747.2l1.3 0.2M91.6 739.5l0.1 0.4M71.3 759.7l-1.3 0.3M57.3 750l-1.2 0.5M90.1 761.1l0 0M50.5 736.7l-0.8 1.4M92.2 749.2l1.6 0.5M85.2 732.7l-0.7 0.9M74.4 717l-0.9 1.2M71.9 716.3l-1.7 0.4M94.4 730.5l-0.4 0.9M97.6 721.8l1 0.3M67.6 737.5l0 1.6M87.1 742.8l1.6 0.7M97.8 725.5l-0.1 0.7M88 727.5l-0.4 0.3M67.1 720l0.1 0.1M56.7 721.9l-0.4 1.3M86.8 736.4l0.9 0.2M53.2 745l0 1M74.8 736.1l0.4 0.2M58.4 749l-1.4 0.1M81.5 762.5l-1 0.3M108.6 714.9l0.1 0.2M68.4 735.6l0.4 0.5M95.4 713.4l-0.1 0.4M83.4 755l-0.9 0.5M107.2 741.1l1.2 1.2M94.5 746.6l0.2 1.6M53.3 750.9l1.5 0.5M97 760.3l0.3 0.4M71.9 708.5l0.4 0.3M58.5 738.3l1.2 0.5M108 730.3l0.6 0.3M55.1 753.6l-0.5 0.6M77.9 712.2l0.2 0.7M90.6 722.7l-1 1M56.9 763.8l-0.1 0.3M68.6 709.1l0.8 1.6M101.2 723.3l0.1 0.1M64.5 742.9l-0.9 0.5M90.5 742.5l-0.6 1.6M67 742.2l1.6 0.2M75.9 760.5l-0 0.2M97.7 735l-1.6 0.4M100.5 751.1l-1.3 0.2M63.7 741.8l-0.7 0.6M54.6 748.9l0.6 1.4M88.6 727.7l-0.7 0.4M93.9 752.1l-0.1 0.7M97 728.1l0.1 0.1M57 748.7l-0.1 0.2M74.5 743.1l-0.3 0.1M83.6 718.3l-0.6 0.5M70.8 760.4l0.3 0.2M53.1 761.6l0 0.1M76.4 751.4l-0.7 1.2M95.7 746.9l0 0M72.4 733.1l0.6 0.1M58.9 758.3l-0.2 0.2M50.4 750.2l-0.2 0.9M95.9 710.5l-0.3 0.1M50.4 741.5l0.1 0.1M108.6 725.3l-0.8 0.5M74.6 759.1l-0.2 0.5M95.9 744.4l-0.2 0.1M107.4 719.2l0.6 0.7M63.9 763l0.4 0.1M71.1 763.4l0 0M84.4 723.5l1.5 0.3M109.6 744.3l-0.2 1.8M50.9 736.2l0.1 0.4M100.7 742.4l0.1 0.9M92.4 761.2l-0.1 0.4M57.6 729.2l1.2 0.7M75.1 747l-0.6 1.6M72.5 716.1l-0.6 1.4M68.4 749.2l-0.5 0.2M90 757l-0.4 0.3M104 708l0.8 0.7M57.1 754l0.4 0.4M101.2 751.7l0.6 1.2M58.2 711.2l1.6 0.2M83.1 712.8l0.4 0.4M101.9 754.1l0.1 0.6M59 760.2l-0.2 0.6M90.2 724.6l0.9 0.1M67.4 756.5l-0.4 0.2M99.5 764.5l-1.4 0.5M67.8 719l0.3 0.7M70.3 717.1l-0 0M51.9 738.7l-0.1 0.4M66.5 747.9l0.4 0.3M80.6 713.5l-0.1 0.2M95.7 753.8l-0.6 1.1M96 728.7l-0.2 0M85.8 747l-0 1M84.9 736.4l-1.7 0.1M85.7 743.8l-0.3 0.2M86.1 726.6l-0.5 1.4M98 764.9l-1.1 0.7M106.5 720.9l-0.2 0.3M79.1 761.4l0 0M79.7 743.8l0.1 1.2M107.1 752.4l0.9 1.1M79.9 740.6l-1.2 0.1M51.8 745.4l1.5 0.5M75.2 741l-1 0.1M58.5 741.7l-0.1 0.2M93 709.2l-0.9 0.8M74.1 719.2l0.3 0.1M71.9 730.3l-0.3 0.4M92.7 707.9l1.4 0.9M105.4 749.5l-1.5 0.1M86.9 755l-1.3 0.1M88.9 715.6l0.5 0.1M88.4 745.7l0.6 0M68 718.7l-1 0.3M101.8 756l-0.5 0.8M104.5 720.9l-0.7 0.9M74.1 755l-0 0.1M66.2 715.1l-1.4 0.5M64.5 759.2l0.2 1.2M98.6 748.1l-0.5 0.5M95.9 740l0 0M55.4 741.5l0.9 0.9M77.2 742.2l-1.2 0.2M57.4 760.3l0.1 0.2M50.8 724.8l0.2 0.2M66.4 734.9l0.4 0.9M68.9 710.3l0.2 0.2M67.5 754l1.5 0.5M102.3 706.2l-0.4 0.3M81.8 715l0.3 1.2M94.3 763.1l-0.4 0.7M83 750.6l-0.2 1.4M74.5 709.5l0.4 0.3M89.9 743.5l-0 0.4M79.7 748l0 1.8M102.7 754.5l-0 0M97.9 749.3l1.2 0.6M109.5 747.6l-0.3 0.2M53.5 730.6l-0.4 0.2M87.8 719.8l0 0.4M88.2 762.1l-0 0.4" stroke="#2a0e5a" stroke-width="1.45" stroke-linecap="round" fill="none"/>
</g></g>
<rect x="102.6" y="761.9" width="4.5" height="1.2" fill="#e53030" stroke="none" stroke-width="1"/>
<clipPath id="ce6"><rect x="114.8" y="706.1" width="60" height="59.3"/></clipPath>
<rect x="114.8" y="706.1" width="60" height="59.3" fill="#fdf5fc" stroke="none" stroke-width="1"/>
<g clip-path="url(#ce6)"><g filter="url(#soft)">
<path d="M159.6 718.1l-0.2 0.5M118.2 752.1l1.8 0.2M155.8 735.9l-1.5 0.2M174 730.4l-1.6 1.3M173.1 707.8l1.7 1.4M122.6 741.5l-2 0.3M136.7 755.2l-0.1 0M132.4 738.3l0.3 0M115.3 741.7l-1.1 0.7M165.9 731.2l1.6 1.2M167.7 721l0.8 2.1M140.5 736.8l0.1 0M147.5 748.4l0 0.1M137 752.4l2.3 0.7M147.4 712.3l-1.9 0.3M157.2 740.6l0.1 0M129.2 710.9l-0.3 0M135.7 759.9l-1.4 1.2M143 729.2l0.1 0M148.9 737.1l-0.9 2.2M163.9 734.4l-1.2 0.8M116.8 707.2l0.6 0.8M140.5 709.9l0.4 0.1M151.3 708.1l-0 0M140.2 707.4l0.1 2.3M171 744.6l0.9 0.3M172.7 732.2l0.7 0.3M150.5 764.4l-0.8 0.5M156.8 736.6l-1 1.2M170.5 708.7l0.2 0.2M118.8 722.8l0.8 0.7M144.8 706.5l-1.4 1.7M121 718.7l1.6 0.8M158.9 708.3l-0.8 1.3M147.3 753.2l-2.3 0.1M118 734.8l-0.2 0.2M127.2 716l0.1 0M130.5 717.7l-1.1 0.7M158.1 725.3l-0.5 0.4M131.3 744.5l-0.6 2.3M143.2 709l-0.6 0.1M118.2 709.3l0.8 1.2M150.7 719.9l0.4 0.4M157.7 747.3l-0 0.1M160.6 733.9l0.2 0M173.5 712l0 0M169.3 765.3l-1.9 1.3M119.1 728.6l-0.9 1.3M160.6 747.2l0.1 0.3M139.9 762.7l0.6 0.2M142.8 721.9l1 1.3M147.9 760.8l0.7 1.4M123 735.6l-0.1 0.1M142.8 732.6l-0.4 0.6M141.5 732.3l0.5 0.1M119.4 719.9l-0.9 1.5M126.5 708l-0.4 0.5M129.6 733.4l-0.2 0.2M149.4 732.2l-0.1 2.4M131.3 746.6l-0.9 2.1M153.3 710.1l-0 2.4M116.8 724l-1.3 0.7M170 727.8l-0.1 2.1M149.2 757.7l-0.4 1.7M115.8 726.2l0.5 1.7M116.4 757l-0.6 0.6M135.7 727.9l-0.1 1.4M148.1 750.8l1.8 0.1M146 759.1l1 0.5M123.4 737.8l-1.4 1.3M138.4 709.3l-0.2 0.7M144.4 729.7l0.1 0.5M124.4 743.8l0.3 0.2M170.9 707.5l0 0.9M121 727.5l-1.6 1.4M134.8 729.2l-0.6 0.3M133.7 751l1.4 1.8M152.7 754.3l-1.3 0.3M131.6 734.1l0.5 0.7M172 709.7l-0.9 0M130.7 745.9l1.5 1.4M127.6 746.4l-0.1 0.1M168.1 759.8l-1 0.6M160.5 736.6l0.9 0.5M126.9 708.5l-0.8 1M135.3 717.3l-0.3 0.9M117.7 710.9l-1.5 0.5M149.2 710.6l0.8 0.9M147.3 721.7l-0.6 0.1M136.5 732.5l0.4 2.4M134.9 721.8l-0.3 0.2M171.3 741.4l0.3 0.1M136.8 709.7l-1 1.3M165.7 728.7l1.2 0.2M139.9 760l-0.1 0.5M147.4 719.9l0.7 0.2M164.9 757.8l2.2 0.2M120.9 723.5l-0.2 0.3M150.9 726.1l2.4 0.1M127.5 716.6l0.1 0.1M155 764.2l1 0.8M145.9 739.3l-0.2 0.4M148.6 763.5l0.8 1.5M130.4 752.8l-0.7 0.1M151.4 737.8l0 0M143 732.8l-0.2 0.2M153.3 721.7l-0.5 1.8M136.6 744.4l0.3 0M155.6 736.4l0.2 0.9M153.5 713.9l1.4 0.7M170.5 722.1l-0.5 1.4M120 714.5l-2.2 0.2M165.9 757.3l0.6 0.5M125.4 726.4l0.1 0.3M158.5 736.4l-0.1 0.1M131.3 758.9l0.2 0M131.8 744.1l-0.3 2.2M162.1 708.7l0.1 0.7M128.2 709.1l0.1 0.1M126.4 726.6l-0 0M144.3 755.7l-0.2 0.7M137.9 724.2l-0.8 0.5M162.2 711.6l-1.3 1M151.7 713.9l0.9 2M143.5 743.8l0.6 0.1M116.3 749.9l-0.1 0M141.6 749.1l-1.5 0.3M139.8 758.8l0.5 1M143.6 721.8l-0.4 0.6M166.5 714l-0.7 1.1M149.6 749.7l0.1 1.7M118.4 752.7l0.5 0.2M144 726.8l-0 1.9M157.2 738.4l1.1 0.5M117.8 716.2l-0.1 1.1M138.6 763.5l0.3 0.2M138.8 759.4l-0.6 0.4M154.7 708.4l-0.2 0.2M148.2 719.7l-0.4 1M127.1 760.9l1.1 0.5M129.1 710.3l0.1 0.9M143.5 751.2l0.8 0.3M145.9 765.3l-0.1 0.3M144.2 763.5l-0.4 0M135.5 706.8l0.5 1.5M168 760.6l0.4 2.1M134.5 729.7l1.9 0.6M141 728.9l-1.6 0.2M135.7 741.6l-0.5 0.5M133.6 734.9l1.5 1.1M136.2 754.6l-1.7 0.3M165 733.4l-0.3 1.4M138.5 745.2l0.4 2.1M152.8 723.3l0.9 0.1M125.3 755.4l-1.4 0.4M127.3 756.5l-0.9 1.2M128.1 757.1l-0.8 0.1M125.9 757.4l0.2 0.7M116.5 759.9l-0.7 0.2M142.5 743.1l0.4 0M146.4 739.7l1.1 0.3M165.1 713.2l0.4 2.1M126.4 763.8l-1.1 1.3M159.9 732.6l0.7 1.4M137.5 717.6l1.6 0.4M122.2 765.2l-1.4 1.5M129.9 763.3l-0.9 0.7M138.5 765l-0.3 0.3M116.8 755.7l-1.2 1M122.4 761.5l0.8 0.2" stroke="#eab0ee" stroke-width="1.7" stroke-linecap="round" fill="none"/>
<path d="M135.8 742l1.6 0.2M159.4 757.7l1.3 0.1M152.4 738.3l-0.9 0.5M170.2 718.5l0 0.5M161.3 736.3l-0 0M172.9 759.5l2.1 0.2M129.4 722.5l1.6 0.7M137 718.1l-0.3 0.2M167.8 715.7l0.2 0.3M148.3 728.3l-1.3 0.1M132.6 747.2l2.1 0.9M133.3 751l0.9 0.7M122.2 752.5l-0.3 0.6M146.1 753.7l-0.2 0.2M128.5 757.5l-0.2 0.6M147.1 714l-0.2 1.3M146 709.6l-1 1.4M158.9 707.3l0.2 0.5M170.1 707.3l0.6 1.4M161.1 732.6l-0.5 2.3M119 728.7l0.1 1.2M142.8 715.9l1.2 0.8M143 712.8l1 0.4M126.1 760.8l-0.7 1M168.5 729.8l-1.5 0.3M136.8 763.6l-1.2 0.3M128.3 754.9l0.1 1.1M147.1 739.8l-0.1 2.3M129.4 753.4l-0.8 1.9M130.6 756.7l1 0.9M123.4 722.5l0.3 1.8M162.2 733.2l-0.4 0M154.3 755.7l0.9 0.5M133.6 715.6l1.3 0.5M134.2 761.1l0.6 0.2M166 710.7l-0.1 0.3M157.5 751.3l-0.8 1.1M124.2 761.4l0.2 0.2M138.6 737.6l1 2M161.3 752.4l-0 1.6M168.7 718.4l-1.1 0.6M147.7 716.1l-0.1 0.5M159.7 708.4l0.4 0.1M134.2 752.1l-2.3 0.6M134.3 737.5l-0.1 0.1M135.5 747.1l-2.1 1.1M128.8 715l-0.9 0.1M152.5 760.4l0.9 0.7M130.5 710.7l0.1 0.7M121.8 755.7l0 0.1M123.3 746.7l0.1 0.1M169.2 722l0.6 1.8M136.9 719.8l-0.7 0.5M127.9 727.1l-0.3 0M118 725.8l-1.2 0.8M153 711.4l-0.1 0.7M174.1 756l-0.1 0.6M153.9 747.9l-0.3 0.1M148.9 729.9l-0.3 0.8M140.2 709.6l0.3 1M156.8 730.2l-0.2 0.6M174.3 737.8l0.5 0.1M129.7 763.8l-1.1 0.7M130.3 712l-0.7 1.3M130.6 708.9l-2 0.7M161.7 716.7l0.5 2M149.1 750.7l0.2 0.6M172.1 754.7l0.1 1.6M153.5 753.5l0.4 0M154.1 760.4l-1.9 0.5M133.7 722.6l2.3 0.4M132.1 729.7l-0.3 0.3M124.1 750.9l-0.5 1.3M140.3 714.9l-0 0M125.1 751.4l-0.3 1.2M118 761.8l0.2 0.1M119.2 760.2l-0.3 1M161.2 722.5l1.4 0.9M152.6 706.3l1 1.9M127.4 761.8l-1.8 0.5M116.2 725.1l-0.1 0M150.7 742.7l0.2 0M169.1 717.2l0.7 0.8M145.2 708.5l-1.3 0.8M149.6 730.9l1.6 1.4M123.7 728l0.2 2.3M151.3 736l0.4 0.2M123 719.6l0.4 2.1M132.1 708.6l-0.3 0.1M167.3 741.9l0.1 0.5M115.7 731.7l-0.4 0.4M150 751.8l-0.1 0M121.8 750.7l1.1 0.9M147.8 729l0.1 1.4M134.8 727l0.5 0.5M131.4 740l1.4 0.2M123.1 713.9l-0.1 0.2M153.5 718.9l1.2 0.4M171.5 754.6l-0.2 0.2M148.6 733.6l-1.4 0.3M117.8 733.5l-0.4 2.1M116.9 738l0.1 0.4M123.2 736.6l-1.5 0.3M134 712.1l-0 0.2M127.9 719.9l1.7 1M162 721.8l-0.8 1.1M173.6 734.4l-0.2 0.1M165.6 742.8l0.7 1M140.3 730.4l-0.8 1M147.4 718.5l-1.2 0.7M129.5 744.5l-1.2 0.8M128.3 727.6l-0.5 0.8M150.2 718.6l0.2 1M145.4 745.7l0.3 0.1M168.1 725l1.1 0.3M145.8 727.4l-0.8 0.8M128.8 755.3l-1.3 1.4M143.5 712.5l-1.8 0.3M147.6 763.6l2.1 1.1M127.8 746.8l0.5 1M125.7 740.8l1.9 1.3M163.7 750.6l0.8 1.6M131.8 726.3l-0 0.3M151.4 737.7l1 0.6M131.5 750.4l-1.6 1.4M115.4 745.8l0.5 1.9M117.1 718.3l0.5 0.4M150 761.8l0.6 0.2M146.8 746.9l-0.3 0.5M131.4 741.3l-0.5 0.1M153.3 743.3l-0.9 0.7M118.5 763.1l0.2 0.8M160.2 755.7l0 0.4M160 720.9l0.7 1M170 728.6l0.5 1.1M124.6 730.7l1 1.6M123.8 747l0.4 0.3M121.5 760.2l0.7 1.5M137.4 762.9l-0.8 0.9M171.4 742.6l0.3 1.2M165.1 735.3l-0.1 1.3M145 731.8l0.2 0M140.2 761.9l1.6 1.1M135 723.9l1.2 1M131.2 733.1l-0.4 0.3M162.7 710.3l1.6 0.6M138 748.8l1.4 0.8M144.4 726.8l-1.9 1.1M138.7 737.5l-1.2 1M120.1 730.8l-2.2 0.8M128.6 730.8l0.2 0.3M137 745.3l0.4 1.6M132.9 764.4l-0.5 0.8M137.7 763.6l2.1 0.9M170.5 709.1l0.2 0.3M130.8 726.8l-1.5 1.1M126.7 755.6l-0.4 0.3M149.2 758l-0.4 0.1M165.8 721.3l1.1 1.9M147.6 737.7l-0 0.6M145.1 748.2l-1.8 0.1M144 707.2l-0 0.3M147 752.6l-0.3 0.1M139.1 762.9l-0.2 0.3M133.2 722l0.1 1.3M127.7 755.6l-0.4 1.7M130.6 731.6l-0.7 1.6M123.6 744l-1.7 0.8M119.1 715.2l-0.2 0.2M141 733.1l1.6 1.6M154.8 745.7l-0.9 0.7M148.2 748.8l0.6 0M163.4 743.1l1.6 0.5M130.1 738.8l-1.2 0.6M129.9 734.1l-1.5 1.2M121.4 728.7l-1.2 1M156.3 749.9l-0.9 0.9M122.3 754.2l-2.1 0.2M152.4 741.9l-0.2 0.2M139.1 731.2l0.9 0.8M149.3 758.4l0.4 0.5M118.5 758.2l0.7 0.4M164.9 722l0.6 0.1M153.5 722.1l-1.1 1.9M133.5 727.2l0.3 0.5M129.6 764.7l0.3 0.8M149.9 755.4l-0.2 2.3M163.4 764.6l-1.3 0.5M139.4 723.4l-0.1 0.5M162.6 713.8l0 1M172 711.6l0.3 0.5M136.8 748.1l1.6 1.6M141.6 717.9l-0.5 0.6M164.7 708l-0.6 1.3M132.4 716.7l0.6 0M139.8 711.1l0.6 1.8M171.9 731.2l-0.5 0.8M172.4 706.7l1.5 0.9M125.3 718.8l-0 0.5M142.9 765.4l0.3 0.4M143.1 752.7l-0.5 0.8M165.9 712.1l0.3 0.4M170.2 708.1l-0.2 1.6M115.3 708l1 1.1M149.2 713l0.5 0.7M154 750.1l-0.4 0.2M159.2 763.9l1.8 0.3M158.9 752.1l0 0.2M138.7 737.4l-0.1 0.2M146.8 757.7l-0.9 2M161.3 706.2l-0 0.1M141.7 718.4l1.5 1.4M158.6 760l-0.1 0M121.3 740.2l-0.4 2.2M161.5 736.1l1 1.7M123.5 706.8l0.4 0.6M128.6 706.7l-0 0M170 727.9l-2.1 0.3M144.7 724.9l0.2 0.1M128.3 746.8l1 0.7M137.7 743.2l0.5 1.6M146.2 757.6l0.4 1.1M129.2 726.5l0 1.1M122.8 712.4l1.9 1.2M142.5 758.4l-0.6 2.2M151.3 747.5l0.1 0M150.1 731.9l-1.9 1.1M125.9 706.4l0.8 1.4M130.7 753.4l0.8 0.7M156.2 710.8l-1.6 1.7M124.9 707.3l-0.6 0.5M134.2 764.3l-1.7 0.3M156.7 722.6l0.8 2.3M168.5 754.9l-1.2 1.8M152.7 747.6l-1.5 0.6M119.2 720.8l-0.5 0.6M154.2 759.8l0.3 0.6M157.3 741.8l-0.5 0.3M171.4 714.3l1.6 0M163.5 760.8l-0.8 0.8M136.9 739.9l-0.5 0.4M156.4 733.2l0.8 0.4M169.5 722.6l0.6 1.7M145.5 732.2l-0.3 1.8M120.6 709.6l-0.3 0.1M136.7 747l-1.2 0.9M130.9 756l-2.1 1.1M133.6 719.6l1.4 0.9M131.5 725.4l1.4 1.8M116.6 745.4l0.9 0.2M143 708.1l-0.6 0.6M158.5 720.8l0.6 0.7M154.1 741.7l-1.2 1.1M124.3 728.6l1.1 0.2M125.1 707l0.6 0M129.3 729.9l0.3 0.2M153.9 758.6l-0.6 1.9M143.5 759.7l0.5 0.2M140.8 708.3l-0.6 1.8M116.4 736.2l0.8 0.2M151.3 741.5l0.9 0.7M125.3 719.4l-0.1 0.6M144.6 718.6l1.2 0.1M144.5 755.8l0.3 0.3M147.4 733.7l1.2 0.5M141.8 750.6l0.7 2.3M118.7 712.2l1.2 1.1M149.6 734.3l-0.1 0.1M165 719.5l-0.6 1M151.1 734.9l1.1 1.1M145.3 761.8l-2.1 0.3M161.2 758.4l-0.4 0.8M125.8 763.2l0.8 1M139.2 748.3l0.2 0.6M125.5 717l-0.4 1.3M164 721.8l0.3 1.8M150.5 743.4l-1 0.7M156.9 739.6l-2 0M116.7 744.5l1.2 1.1M115.1 745.7l-0.9 1.1M167.1 735.3l-0.6 0.6M120.4 737.8l0 0M117.4 747.5l0.7 0.5M164.2 710.4l0 0M133.3 715.5l0.4 0.2M134.4 758.8l-0.3 0.1M126.7 733.6l0.7 0.3M138.9 756.6l-0.1 1.8M153.9 755.4l-0 0M151.9 752.2l-1.2 0.7M142 723.1l-0 0M163.2 731.3l-1.1 0.3M126.4 754.8l-0.5 2.1M129.3 764.2l-0 0.4M161.1 715.7l-0.8 1.5M171.2 713.7l-1.1 0.2M121.7 753.2l-2 0.1M172.7 707l-0 0M160.4 710.3l1.6 1.2M156.4 740.3l-0.9 0.8M157.9 745.6l-0 0.1M151.2 739.2l-0 0M171.9 706.9l-0.3 1.5M170.3 725.6l-0.5 0.5M151.1 756.1l0 0.7M130.6 754.5l1.5 0.5M158.5 738.2l-1.7 0.9M165.6 742.6l0.8 0.4M127.6 710.4l-0.2 0.1M138.8 747l-1.3 1M137.9 715.6l0.7 1.5M145.6 743.6l-1.4 0.2M164.2 753.2l0.3 1.7M153 762.7l0.3 1.7M138 709.6l-1.5 0.5M171.3 752.6l-0.5 0.2M165 754.2l-0.8 1.9M140.6 735.6l1.4 0.1M123.1 707.6l-1.9 0.3M131 716.6l2.2 0.4M127.1 754.1l-0.5 1.8M150.5 743.2l1 2.1M144.5 761.4l-0.7 1M149.3 725.1l-0 0M123.4 707.4l1.3 0.6M173.3 750.8l1.9 1.3M127.4 716.7l1.5 0M157.9 738.1l-0 0.8M129.9 746.2l-0.1 0.4M160.2 752.1l1.4 1.7M130.3 756.7l0.9 1.9M126.9 761l-1.4 0.4M123.8 739.7l-0.1 0.5M145.3 736.6l1.7 0.5M137.8 713.9l0.3 0.1M147 713.1l0.5 0.2M162.3 725.8l-1.3 0.9M140.7 759.5l-0.1 0.3M148.1 728.9l-2 0.3M129.9 721.3l1 0.8" stroke="#c050cc" stroke-width="1.7" stroke-linecap="round" fill="none"/>
<path d="M159.5 725.9l0.8 1.1M127.8 753.5l1 0.9M160.8 714.6l0.7 1M122.6 748.1l0 0.2M169.5 735.2l1.1 0.5M142.7 744l-0.3 0.1M157.4 758.4l0.5 0.8M168.3 755.8l-0.3 0.1M166.9 763.8l1.2 1.3M148.9 712l0.5 0.4M145.7 737.8l-1.9 0.4M171.9 709.9l0.7 0.7M166.7 728.5l-2.2 0M141.2 729.9l-1.1 0.8M123.5 725l-0.5 1.8M118.5 727.3l0.1 0M174.5 718.6l-1.2 0.5M167.4 728l-0.6 1.7M116.1 753.7l0.1 1.7M118.6 722.3l-2 0.8M133.5 733.4l1.8 0.6M160 733.9l-0.3 0.1M136.3 760.9l0.8 1.8M129.9 759.8l-1.4 1.3M130.7 721.1l0 0M131 746l-0.9 1.7M122.8 729l-0.2 0.3M145.6 727.2l0.2 0.9M157.7 726.4l-1.2 0.3M154.2 748.6l-0 0M168.1 717.5l0.3 0.1M151.8 762l-0.3 0.8M172.7 726l-0.5 0M134.7 725.3l-0.5 0.9M150.9 742.7l0.1 0.1M153.2 721.4l0.8 0.8M152.6 721.7l-0.2 0.1M154 756.3l0.9 2M172.5 748l-1.1 1.1M143.3 708.8l0.6 1.4M127.6 763.6l1.8 0.2M114.9 760.2l1.6 0.1M130.2 749.2l-0.5 0.3M143.5 759.8l-0.3 0.2M117 749.6l-1.2 0.5M169.3 764l-2.1 0M164.9 722l-0.8 0.1M126.7 743.7l0.9 0.9M130.3 756.5l0.5 0.6M126.8 710.9l-0 0.1M137.3 710.1l-0 0M150 730.1l1.4 0.4M172.8 736.9l-1.4 1.2M123.5 742.9l-0.3 2M155.1 746.7l-0.3 0M169.4 754.9l-0.1 0.1M168.5 731.8l0.8 0.6M143.1 723.3l0.8 1.1M130.2 760.3l0.5 1.2M162.6 718.2l1.8 0.3M154.1 764.9l-0.9 0.6M130 726.2l-0.4 1.5M155.7 715.9l-1.2 1.7M173.8 732.9l-1 1.8M163.5 747.2l0.2 0.3M173.5 756.1l-0.2 0M136.9 745.4l-1.4 0.8M121.7 758.1l-0.7 0.7M115.3 731.8l-0 0M137.8 728l0.2 1.6M129.5 763.8l0.6 2M160.6 723.7l0.1 0M140 761.6l1.2 0.3M174.5 721.3l-0 0.2M163.1 751.7l-0.3 0.1M149.4 731.3l-0.7 0.2M129.4 752.1l0.4 0M137.6 741.8l1.9 1.1M167.4 716.7l-1.5 0.5M164 758.5l0.6 0.6M174.4 731.6l-1.4 0.2M125.6 710.5l-0.1 0.1M140.7 716.9l0 0.1M163.3 727.5l-0.2 0.1M143.4 756.6l-1 1.6M169.2 758.3l-0.8 0.6M121.4 750.4l1 0.1M137 721.2l-0.9 1.9M116.1 750.1l-1.2 0.3M131.2 764.5l0.2 0.1M120.2 749l-0.1 0.1M145.4 709.1l-0.1 0.4M122.8 743.9l0.1 0.8M162.2 719.1l-1.6 0.6M122.9 731.8l-0.3 0M127.6 725.3l-0.1 0.1M130.7 727.5l0.2 0.4M136.7 764.8l-0.9 0.3M157.1 765l-0.9 0.2M145.6 709.9l-0.5 0.7M134.2 760.2l1 1M135 724.2l-0.4 0.6M148.1 757.4l1.4 0.9M150.4 765.4l0.2 1.1M157.9 752.7l0.5 0.7M145.1 734.7l0 0M133.4 743.9l-0.6 0.3M139.8 749.9l-2.1 0.4M153.9 746.5l1.3 0.2M173.2 742.5l1.6 1.4M150 747.2l0.2 1.3M169.7 724.3l0.2 0.1M156.1 758.1l-0.6 1.7M118.7 719.4l0.7 1.3M169.4 743l-1.1 1M139.7 709.3l1.4 0.6M172.2 741.4l0.1 0.1M138.8 754.1l0 0M152 736.3l1.5 0.8M155.3 716l1.6 0M161.2 706.4l-1.2 1.2M151.7 736.3l-1 0.3M117.4 709.8l-0.8 0.1M164.7 730.6l0.4 0M153.5 754.9l-0.2 0.1M134.5 710.3l-0.6 1.3M129.7 748.3l-1.8 0.3M137.6 707.6l1.4 1.1M122.2 738.6l-0.1 1.4M135.4 731.2l0.6 0.4M144.4 712l-2 0.9M137.5 716.2l2.1 0.3M124.4 736.1l-0.2 0.1M142.2 748.2l0 0.6M131.2 734.1l-0.7 1.1M129.1 743.1l1.9 0.8M127.7 755.7l1.6 0.2M129.3 736.7l-0.1 1M162.8 737.9l-1 0M155.5 737l-0.4 0.7M137.4 763.4l-1.4 0.2M122.6 761.3l1.8 0.6M153.3 716.8l0.9 0.4M119.5 743l-1.6 0.7M172.1 734.8l-1.2 0.5M124.6 761.3l-0.6 1.6M169.1 707.6l1.6 1.3M149.5 720.7l0.6 2M122.9 741.5l0.2 0.5M139.7 743l-1.8 1.2M118.3 763.9l-0.4 0.3M131.3 749.4l-0.5 0.4M156.1 750.4l-0.4 0.1M137.8 724.9l-0.8 0.4M172.4 737.2l0.4 0.2M138.3 733.3l0.9 1M129.5 711.4l-0.3 2.1M157.3 720.1l-1.8 1M158.8 724.4l0.6 0.6M146.7 738.5l-0 0.1M121.2 720.1l-0.2 1.9M166.9 709l-1.3 0.9M170 709.5l-0.8 1.2M166.3 749l-0.5 0.4M174.2 732l1.8 0.2M134.5 726.6l0.5 1.2M135.6 728.8l0.7 1.5M119.5 729.8l-1.2 0.5M126.1 759.3l0.2 2.1M162.4 722.8l1 0.9M158.5 761.2l1.9 0.9M135.8 724.9l0.3 2M163.3 737.5l2 0.3M160.6 708l-0.6 1.1M147.4 751.5l-0.6 0.1M163.3 707l0.8 0M172.6 741.3l0.3 1.4M156.1 732.7l-0.1 0.6M164.3 721.1l1.2 0.9M162.1 736.8l-0.2 0.6M149.4 753.5l1.4 1M137.1 747.6l-0.2 0.2M134.8 736.5l-0.3 0.1M143.5 713l1.8 1M145.8 750.6l-1.1 1.4M161.3 750.7l0.1 0.2M157.5 725.4l0.2 0M132.7 761.4l0.1 0.4M139 720.2l-0 0M123.1 729.3l-1.3 0.1M156.6 706.4l0.7 1.1M149.9 734.1l-0.4 1M121.3 731.8l1.2 0.7M166.8 709.9l1 0.6M170.1 756.7l0.5 0.2M123.7 716.5l-1 0.9M149.8 714l-0.5 0.3M167.7 724.9l-1.8 0.1M123.9 730.8l-1.6 1.2M171.4 716l0.2 0.7M159.7 735.1l1.8 0.1M160 729.6l-0.8 1.4M141.8 708.2l-1 1M128.2 733.7l-0.8 1.1M126.4 753.9l0.3 1M154.2 711.2l-0.8 1.1M173.8 739l-1.2 0.4M161.9 746.9l-0.1 0.1M140 733.1l0.6 1.6M173.6 715.7l0.1 0.9M169.9 752.5l0.9 0.8M141 765.2l-0.8 1M157.9 737.9l-0.1 1.3M174.1 713.7l0.2 0.1M128.2 758.8l0 0.1M127.1 745.1l0.1 0.1M137.9 759.7l-0.1 0.3M124.1 737l0 0M117.5 716.2l0 0M131.3 753.6l-0.2 1.6M162.5 734.3l-1.4 0.3M120.4 744.9l-0.2 0.9M141.5 730.8l0.6 0.1M174 733l-0.2 1.3M132.3 751.6l-1.1 1.1M146.2 762.2l-0.5 1.9M137.2 736.8l-0.1 0.1M129.5 761.4l-0.1 0.1M129.4 740.2l0.3 0.5M160.9 711.2l1.1 0.5M128.4 708.4l-0.4 0.2M151.2 736.1l-0.1 1.3M140.4 761.4l-0.8 1.6M118.9 740.6l0.7 0.8M116.2 758.8l0.2 0.1M164.1 728.9l-0.5 0M120.8 726.2l-0.2 0.1M120.6 764.2l-1.1 1.5M128 755.3l-0.9 0.2M134.5 726.3l0.7 0.5M156.2 754.6l0.3 0.6M158 734l1.5 1.4M116.9 734.6l-1.1 1.8M128.5 728.5l-0.4 0.9M149.2 725.6l0.2 0.2M118.7 716.8l-0.2 0.1M146.7 744.8l-0 0.1M138.2 752.7l-0.4 0.2M152.8 759.2l1.8 0.2M118.6 721.1l-0.2 0.3M165 710.4l-0.2 0.1M159.3 745l1.3 0.2M126.2 744.2l0.6 0.1M146 713.8l-0.3 0.4M161.7 756.3l0.2 0.3M149.3 763.5l0.3 0.8M130.1 760.1l-2.1 0.1M132 710.4l0 0M156.4 711.4l0.1 0.4M124.9 755.7l-0.6 0.3" stroke="#8a28b4" stroke-width="1.6" stroke-linecap="round" fill="none"/>
<path d="M120.2 733.6l1.8 0.1M123.5 727.7l-0.5 1.5M155.9 742.2l-0.3 0M140.1 754.5l-0.3 0.2M115.6 740.2l0.6 0.5M115.7 708.3l0.1 1.1M151.2 747.6l1.3 1.1M154.3 750.9l-0.5 1.1M172.9 740l-0.1 1.8M136.5 762.7l0 0.4M115.2 761l-1.4 0.3M159.7 714.9l1.7 0.2M119.6 757.5l-0.3 1.4M126.1 716.4l-1.4 0.4M121.3 720.6l-1 0.6M117.4 719.1l-1.5 1M136.5 728.8l0.3 0.9M161.2 729.9l0.6 0.3M149.3 751.3l-0.1 0.5M164.5 739l0.7 0.9M165.8 731.8l0.2 0.6M165.7 719.8l0.5 0.7M131.9 744.6l1.2 1.2M151.1 736.7l-0.6 1.1M158.8 736.3l1.3 0.1M115.7 751.4l0.2 0.2M127.9 725.8l-0 0M155.5 726.2l1.6 1.1M150.4 754.8l-0.6 0.3M153 735.7l-1.1 1.5M172.9 707.2l-1.6 0.1M143.6 751.2l1.4 1.2M166.8 739l-0.6 0.6M167.9 707.9l0.8 1.2M114.8 747.6l-0.5 1.4M124.1 749.4l0.8 0.3M168.9 734.4l-0.7 0.9M126.4 724.3l-0.1 0.8M174.6 713.8l0.6 1M125.7 724.3l0.1 1.4M174.2 711.6l-0.7 0.9M117.7 736.5l-0.3 0.3M128.5 762.3l-1.2 1M129.8 757.2l-0.7 0.4M155.1 720.2l-0 1.1M133.4 764.5l-0.2 0.1M171.8 708.4l0.8 1.6M155.8 748.4l-0 0.2M168.8 720.1l1.5 0.1M167.1 709.3l0.5 0.6M146.5 746.8l-0 0.1M163.6 728.9l-0.9 0.6M154.6 707l0.3 1.9M154.5 762.7l-0.3 2M142.8 739.4l0.6 0.4M155.3 737.4l-0.9 0.1M128.1 721.7l0.1 0.4M174.2 752.6l0.4 0.1M157.8 734.1l-0.2 1M143.6 759.3l0.1 0.4M165.3 710.1l0.1 0.1M125.5 737.8l-0.2 0M136.7 747.9l0.1 0.1M151.4 726.9l0.2 0.9M154.8 741.8l1.1 0.3M151.5 750.1l-0.1 0M169.6 729.5l1.1 0.1M133.2 752.4l0.9 0.9M133.9 745l0.7 0.5M168.7 734.8l0.1 0.4M146.6 753.8l-1.7 0.3M143.3 707.7l0.6 1.1M116.7 755.3l-0.2 0.2M171.3 717.3l0.8 0.9M130.6 724.1l-0.2 0.1M172.4 762l0.4 1.1M162.1 758.3l-0.3 0M156.6 706.6l0.3 0.1M127.9 729.3l0.3 0M160.2 740.6l0.6 0.8M155.5 709l0.2 0.1M173.7 734.6l-0.1 0.3M115.5 719.9l-0.6 0M122.7 764.1l0 1.1M122.9 707l0.5 0.2M164.3 719.5l-0.5 0.4M152.1 725.3l-0.7 0.1M140.4 736.5l-0.8 0.9M129.8 726.5l-0.2 0.3M123.9 759.4l-1.5 0.7M158.1 709.7l-0.1 0.2M139.4 718.2l-0 0.3M146.3 759.8l1.1 0M132.7 709.1l-0.5 1.4M172.9 711.6l-0.8 1.2M146 760.6l-0.2 0M124.3 722.3l1.8 0.6M133.8 731.1l0.6 0.3M126 729.7l0.2 0.2M152 725l0.4 0.7M118.7 741.1l1.4 0.7M166.3 729.5l-1.6 0.4M128.6 725l1.7 0.7M143.7 721.5l1.5 0.4M118.6 711.6l-0.6 1.3M154 713.1l0.2 0.3M153.1 742.8l0.4 0M127.9 762.9l-0.4 0.7M137.4 714.9l-1.8 0.1M153.1 728.2l-0.5 0.6M142.4 718.4l-0.1 0.2M165.9 744.1l-0.5 0.1M154.8 745.9l0.3 1M127.3 749.2l-0.3 1.2M118.1 708.5l-0.3 1.2M158.1 761.5l0.3 0.6M152 716.7l-0.1 0.3M135.8 729.9l-0 0.1M162 751.6l-0.2 0.5M148.5 729.3l1.6 0.5M124.7 713l-0.2 0.4M149.6 706.8l-0.5 1.3M163.8 749.8l-0.2 1.7M119.8 756.4l0.8 1.3M130 765l1.5 0.2M155.4 711.5l-0.1 0.1M137.6 745.5l-0.2 0.1M171.2 709.9l-0 0M126.8 706.5l-0.1 0.4M162.7 709l-0.4 0M123.5 749.5l0.1 1.3M142.4 750.9l1.2 1M170.6 732.6l-0 0.9M136.5 739.4l-0.4 1.8M131.9 730.9l-0.3 0.1M126 735.7l-0.1 1.6M116.6 716.8l1.1 0M157.2 738.1l1.3 0.4M115.8 713.2l-1.8 0.8M149.9 738.2l-0.3 0.7M122.8 740.7l0.6 0.2M117.1 717.8l-1.7 0.1M117.8 715l0.9 0.9M136.7 751l-0.1 0.1M172.9 750.7l1.6 0.3M168 715.1l0.2 0.3M168.4 712.5l-0.1 1.2M142.4 717.6l1.6 0.6M120.6 757l-1.5 0.6M149.9 724.4l0.3 1.5" stroke="#441470" stroke-width="1.5" stroke-linecap="round" fill="none"/>
</g></g>
<rect x="167.8" y="761.9" width="4.5" height="1.2" fill="#e53030" stroke="none" stroke-width="1"/>
<clipPath id="ce7"><rect x="180.2" y="706.1" width="60" height="59.3"/></clipPath>
<rect x="180.2" y="706.1" width="60" height="59.3" fill="#efeef1" stroke="none" stroke-width="1"/>
<g clip-path="url(#ce7)"><g filter="url(#soft)">
<path d="M219.1 747.7l2 1.4M184.1 755l0.3 0.8M229.1 717l0.1 2.4M184.5 760.5l1.4 0.4M230.5 752l-0.9 1.7M239.8 706.8l-1.1 2.3M219.2 747.9l1.3 0.4M203.7 724l-1.9 0.4M226.7 737.6l-0.3 0.4M196.1 765.2l-0.4 0M181.1 752.3l-0.2 0.9M205.1 724.4l-1 0.6M201.4 727.5l1.7 1.1M201.6 736.7l-0.3 0.3M209.5 711.5l0.9 0.2M200.8 712.9l-0.1 0.7M221.6 723.9l-0.1 1.2M226.6 739l-1.3 1.9M180.4 709.5l1.2 1.7M217.1 711.9l0.4 1.4M207.8 706.3l-2.1 1.1M224.7 742.9l0.5 0.3M230.5 725.6l-0.9 0.4M200.9 765l-0.4 0.2M197.9 714.2l-1 0.6M186.3 741.4l0 0.1M198.9 733.8l0.7 0.9M192.4 754.5l-0.2 0.3M239.9 747.1l2.2 0.9M216.7 742.2l0 0.2M198.6 713.6l1 0.3M235.4 715.9l-0.9 1.1M181.4 761.9l-0.6 2.3M211.5 756.5l-0.6 0.1M192.4 739.2l0.8 1.8M218.3 718.5l1.6 0.9M201.2 737l-2.3 0.3M208.4 710l-0.4 1.5M224.2 708.9l1.9 0.8M230.1 764.2l0.2 1.4M219.7 714.1l-1.5 0.8M236.3 747.7l-1.9 0.2M203.1 726l2.5 0.5M200.9 750.2l1.7 1.2M228.1 719.2l-0.5 1.3M239.2 719.3l0.5 0.7M197.9 715.9l0.7 0.8M195.9 755.5l0 0.3M182.7 709.5l-1.7 1.4M236 712.7l1.2 1.6M227.6 739.7l-0.4 1M195.7 737.8l-1.2 1.2M238.2 713.4l-2 0.3M212.6 726.1l1.6 0.6M225.7 750.1l-0 0.1M209.8 749.5l1.1 0.3M181.5 722.8l0.2 0.1M213.8 735l-1.7 0.2M189.3 733.7l1.6 1.1M200.2 717.5l0.1 1.1M188.3 731.7l0.9 2.4M218.5 764l0.5 0.9M206.3 715.6l0.2 0.1M221.4 752.4l0.2 0.3M234.8 748.9l-0.7 0.7M196.3 711.7l-2.1 1M209.8 730.9l-0.4 2.3M238.3 706.7l1.2 1.2M223 760.7l-0 0M229.1 734.8l0 0.3M221.9 738l0.8 1.2M199.8 720.6l1.9 0.1M216 745.5l0.3 1.1M226.9 735.9l-0.1 0.1M238.5 764.3l2.2 0.3M213.9 717.2l2 0.8M225.6 764l0 1.1M185.1 760.3l-0.3 0.3M223.4 722.1l-2.5 0.6M217.7 730.9l0.2 1.2M219.8 764.6l0.2 0.2M212.1 743.1l-1.7 0.5M230.3 727.8l-0.2 1M236 719.2l0.2 0.3M222.8 743.8l0 1.1M210.7 708.1l0 2M235.4 747.1l0.1 2M226.5 721.1l-0.1 0.4M210 738.3l-0.3 2.1M220.7 746.6l-0.9 0.7M220.8 742.1l-1.1 2M207.6 720.9l-2.2 0.3M205.3 741.6l-0.2 1.9M222.9 752.4l-1.5 0.3M235.4 720.5l-1 0.4M231.5 718.5l0.5 0.3M239.5 709.2l-1.5 1.5M209.6 709.7l-1.1 0.1M187.3 731.1l1.4 1.4M219.5 763l-0 0M204 713.1l-1.1 1.4M225.4 739.8l0 0M225.6 717.7l0.9 1.5M213.6 749.6l0.8 0.3M238.1 733l1.9 0.9M220.4 753.3l-1.8 0.2M180.4 741.7l-1.8 0.8M217.7 744.6l1.8 0.9M200.6 711.9l0.6 0.2M189.9 712.3l-0.3 2.3M191.4 719.5l-0.7 0.1M226.7 725.2l-0.6 0.4M203.2 734.4l0.3 0.9M235.2 743.2l0.7 2.4M239.6 748.3l0.4 2.1M194.6 756.9l-0.1 0.3M209.7 764.8l-1.3 1.4M184.2 727.3l-1.7 0.5M227.1 763.1l-0.2 2.1M238.5 718.5l1 0.9M233.5 737l-0.8 0.1M195.1 760.7l-1.3 0.8M237.5 735.9l-0.2 0.3M229 715.7l0.3 0.1M206.3 752.2l2.1 1.1M209.6 737.3l2.3 0.1M181.9 724.2l0.1 0.4M191.7 763.4l-0.5 0.2M198.4 712.7l-0.8 0.3M239.1 739.8l-0.7 1.7M220.9 760.4l0.9 2.2M218.2 733.4l1.2 0.7M227.8 738.7l-1.3 1.6M204.3 707.1l-0.7 2.5M194.1 719.3l1.4 0.8M219.1 719.4l-0.1 0.1M182.1 734.6l0 0.3M234 738.7l-0.7 2.1M194.6 715.1l-1.6 1.4M183 760.5l-1.6 0.7M204.7 753.1l-0.4 1M213.4 740.9l1.3 0.6M210.1 719.6l0.1 0.2M192.6 731.4l0.2 0.1M237.2 757.5l-1.6 1.7M211.7 731.5l-0.2 0.2M214.4 741.7l-0.8 0.7M227.1 742.4l0.5 1.3M199 755.6l0 0.6M239.6 726.8l-0.3 0.3M215.4 746.5l0.7 2.2M206.8 754.5l0 0.1M185.3 738.5l0.3 0.1M188.3 754.3l0 0M225.7 734l-0.1 0M217.5 738.5l-2 1.3M237.8 707.7l1.8 1.8M224.3 706.8l-1.8 0.9M232.2 758.6l-0.2 0.2M221.9 740.2l-0.4 0.4M210.9 735.6l0 0.6M185.2 757.5l-0.1 1.3M222.8 706.5l2.4 0M224.9 742.1l2.5 0.5M190.1 756l-0.3 0.2M198.5 758.2l1.6 0.6M184.1 712.3l1.3 2.2M191.2 719.2l-0.6 0.5M234.9 744l-1.7 1.1M186.3 729.4l-1.3 2.1M213.7 753.6l2.3 0.6M230.9 736.3l1.4 0.7M221.7 754.6l1 0.9M225.5 765.1l-0.1 0.1M227.4 708.4l-0 0.2M220.8 722.4l-0.8 0.2M232.1 741.8l-1.4 1.5M237.5 727.9l-0.3 2.1M209.4 731.8l0.6 1.4M194.8 763.1l0.6 2.3M201.6 762.6l-0.8 0.7M210.1 733.7l1.9 0.5M208.6 707.4l0.4 0.8M216.6 719.6l-1.1 1.5M201.2 710.1l1.4 0.2M227.6 744.4l-0 0.2M228.3 714l-0.2 0.6M220.1 730.8l0.9 2.1M191.7 714.1l-0.8 0.4M199.9 761.2l-1.6 0.1" stroke="#d4b4e2" stroke-width="1.5" stroke-linecap="round" fill="none"/>
<path d="M219.1 731.1l-1 0.1M224.5 756.2l-0.8 0.9M239.6 747l0.4 0.2M207 761.3l0.2 0.1M210.2 714.1l-1.5 0.5M225.1 711.4l-1 0.7M207.6 723.5l-1.9 0.8M235.3 755.1l2.1 1.4M208.2 750.8l-2.2 0.4M204.9 715.6l-0.2 0.3M235 717l0.3 0.2M201.1 706.4l-1.3 0.2M204.4 764.9l0.9 1.3M222.4 711.8l0.3 0.1M232.1 733l-1.3 0.1M193.3 757.9l0.1 0.1M232.8 710.9l-0.6 0.8M231.6 758.8l0.7 0.3M186.6 756.5l1.8 1.7M202.4 715.1l1.5 0.9M208 742l-2.1 0.7M234.9 730.8l0.3 1.6M232.1 730.6l0.3 0.8M203.4 751.7l0.5 0.5M199.7 707l-1 2.1M239.9 751.9l-0.4 0.1M213.4 748.3l0.7 2.1M227.9 706.4l-1.9 0.6M188.3 734l-1.9 1.4M193.6 725.1l0.8 0.3M187.6 714.7l-0.7 1.3M240 743.7l0.2 0.2M228.2 724l-2.2 0.2M229.8 740.2l-0.4 1M239.2 721.5l-1.1 1.4M207.1 731.8l-0.1 0M202.1 751.3l0.1 0.6M185.9 754.3l-2.5 0.5M212.5 734.5l-0.6 1M200.2 749.9l0.6 0.8M221.8 749.3l0.2 0.7M222 743.9l0.2 2.3M196 706.4l-0.8 0.7M230.4 748.9l0 0M205.4 734.8l1.1 1.2M238.6 745.9l1.9 1.1M186.7 706.4l-1.8 1M224.3 734.4l0.8 1M228.2 750.8l-0.4 1.7M231.3 711.5l-0.4 0.1M185.3 727.5l0 0M199.1 749.8l-1.3 0.9M231 743.8l-0.9 0.2M225 723.9l2.2 0.6M192.3 707.5l-0.2 0.7M217.9 762.3l0.2 1.6M237.4 708.8l1 1.3M210.2 764.3l1.9 1.6M191 725l0.6 0.1M191.9 755.7l0.8 1.1M206.4 731.6l0.3 0.2M235.1 759.5l0.3 0.7M199.7 709.6l0.3 1M181.6 719.4l-0.2 0.1M194 740.8l-0.6 1.4M189.4 729.8l-0 0.1M210.7 716.3l-2.3 1.1M224.3 743.3l-0.9 1.5M183.2 721.3l-1.2 0.5M208.1 756.1l1.2 0.7M215.7 717.5l0.2 0.8M225.1 725.5l-1 0M189 732l-1.4 0M183.8 709.6l1.6 0.8M201.8 748.4l0.2 0.6M224.7 750.3l-0.7 0.9M186.2 729l0 0M180.5 709.5l-1.1 1.7M197 763.5l-0.8 0.4M189.8 706.8l-0.5 1.8M231.6 728.9l-1.1 1.6M215.2 725.4l-1.9 1.1M204.3 729l-0.3 1.2M230.9 761.2l2.3 0.9M212.9 741.6l0.1 2.3M211.9 751l0.2 0.1M184.6 724.2l0.5 1M216.8 712.7l-0.2 0.1M215 741.3l-1 0.7M225 711.1l0.6 2.3M223.1 724.9l-1.9 0.2M209.9 714.3l-0.1 1.6M218.9 740.1l0.7 1.3M181.1 743.2l0.6 0.3M225 745l0.7 2M182 731.3l-0.1 0.9M217.7 746.8l-0.9 1.6M225.7 713.3l1.4 0.2M197.2 729.5l0.5 1M223.4 731.5l2.1 0.4M239.6 753.4l0 0M232.8 719.9l-0.6 1.9M218.3 753l-0.6 0M210.5 745.8l-1.8 1M194.7 730.5l2.2 0.6M190.3 751.2l0.4 2M214 711.6l-2.2 0.5M237.8 730.1l0.1 0.2M218.5 714.4l0.3 0.4M207.6 733.8l-2.2 1.3M229.1 741.6l-0.4 1.3M208.3 715.7l0.8 2.4M237.9 757.4l0.7 2.5M187.9 763.4l0.5 1.1M223.7 759.2l0.1 0M235.4 712.5l-0.6 0.4M199.7 756.3l-0.5 0.3M229.9 764.7l2 0.5M193.8 712.2l1.3 0.8M230.2 750.3l-0 0M221.8 747.6l-1.7 0.3M218.8 724.6l-0 0M198.1 744.8l0.1 1.1M191.7 724.6l-0.3 0.6M181.8 727.6l-0.1 0.2M228.9 715l-0.3 0.5M210 758.8l1.3 1.9M216.6 738.4l-2.2 0.3M181.7 757.1l0.3 0.3M224 721.8l-0.8 2M235.6 744.2l0.9 2.1M202.2 765.4l2.1 0.6M215 743.3l-0.3 0.4M182.9 732.3l-1.5 1.8M226.1 707.3l-0.3 0.7M204.6 755.4l0 0.3M194.1 755.1l0.1 0.2M194.5 707.5l-0.6 2.5M211.5 762.4l-2 0.1M225.5 728.9l-0.3 1M219.5 734.4l0.1 0.8M227.2 741.8l1 0.9M225.9 761l-1.2 1.6M232 753l-1.4 1.7M182.8 765.3l1.8 1.8M191.3 714.7l0.1 0.7M184.2 731.3l-0.2 0.5M234.3 752.4l0 0.1M206.7 762l-0.4 0.4M191.4 715l2.2 0.8M187.5 717.3l-0.1 0.2M187.5 760.7l-1 0.4M211.4 706.5l-0.9 1.7M207.8 718l-0.4 1.2M235.2 750l-0.2 0M181.4 713.5l-0.1 0.1M226.6 741.8l1 0.5M222.8 747.8l-1.6 1.2M197.6 710.2l0 0M192.8 717l1.3 1.1M222.7 742.3l-0.7 1.2M211.4 727.2l-2.4 0.4M206.5 761l0.7 2.1M197.2 716.9l-0.6 0.2M212.2 765l0.3 2M203.4 728.3l0.9 0.2M214.8 706.7l0.5 0.6M211.5 751.7l-0 0.3M216.7 721.1l0.2 1.1M206.3 731.9l1.2 2.3M208.5 743.6l0.4 1.7M207.2 707.3l-0.3 0.4M218.6 706.2l0.3 0.3M232.3 762.4l-1.7 1.9M229.1 710.3l0.6 2.2M185.3 729.3l0.1 0.1M233.8 713l0.4 0.5M208.5 759.2l-0.7 0.1M204.7 716.8l0.3 0.9M185.4 714.3l-0.6 1.7M192.8 713l1.2 2.1M231.6 749.8l0.1 0.1M233.3 718.4l-1.8 1.8M214.1 727.1l-0.2 0.1M209.6 727.1l-0.1 0.5M230.8 712.8l-1.3 1.5M239.2 717.7l-0.8 0.3M228.4 738.8l-0 1.1M226.8 710l1.1 0.4M191.2 728.1l0 0M230.2 720.1l0.1 0.7M213.5 732.5l2 0.6M213.2 726l0.7 0.5M181.6 720.7l-1.8 1.2M209.6 743.8l-0.8 1.6M217.5 707.7l-1.7 1.5M201.5 759.7l0 2.5M237.2 754.9l-1.3 1M216.1 709.9l1.1 1.2M195.1 752.4l-0.3 0.7M214.5 737.6l2.1 0.5M181.3 741.3l-1.5 0.2M215.1 734.4l-1.2 0.9M195 714.4l-0.7 1M231.1 740.6l1.5 1.5M212.8 740.5l0.5 1.8M239.6 742.5l0.2 0.1M183.4 747.4l0.1 0M217.5 718.6l-1.3 1.9M206 725l-0.2 0.1M224 727.3l1.7 1.2M227 762.2l-0.4 1.3M206.3 751.5l2.3 0.6M228.1 748.3l-1 1.5M181.5 717.7l0.7 0.9M223.6 742.7l-0.2 1.4M231.3 760.9l-0.8 1.2M189 712.7l-0.1 0.1M192.3 718.2l0.3 0.3M222.2 724.8l0.2 0.4" stroke="#a862c8" stroke-width="1.4" stroke-linecap="round" fill="none"/>
<path d="M181 747.9l-1.1 0.5M221.6 744.3l-0 1.3M226.7 728.5l-0.5 0.6M237.5 724.1l-0.6 0.3M233.1 717.5l-1.6 1.6M235.5 758.5l0.1 0.1M218.8 733.3l-0.4 1.1M187.1 719l0.6 0.4M215.6 756.7l-0.5 1.3M193.7 708.6l0.2 0.3M218.8 723.9l0.1 0.6M227.7 733.2l1.1 1M220.1 733.5l0.9 0.1M209.1 722.8l0.1 0M197.1 725.2l-0.5 0.5M230.7 715.6l-1.3 1.7M228.6 734.8l-0.2 0.2M195.1 742l-1.9 0.8M235.3 756.4l0.5 1.2M236.8 710.2l-0.6 2M198.1 728l0.8 1M214.9 714.1l1 0.9M229.6 763.6l-0.4 0.5M181.6 730.9l-1.1 0.4M196.8 712.9l-0.3 1.3M226.3 723.8l-0.6 0.5M229.1 717.6l0.7 0.7M235.7 755.5l-1.4 1.2M222.2 732.5l0.1 0.1M223.7 749.1l-0.2 0.1M188.9 723.6l0.6 1M199.7 761.9l-0.2 1.8M182.5 729.8l2 1.3M225.7 749.4l1.2 0.4M228.3 734.9l-0 0.2M202.8 724.2l-0.3 0.8M209.2 737.4l-0.8 0.3M188.3 715.2l0.3 0.6M221 727.1l0.4 0.7M190.7 760.3l0.1 0M231.2 747l-1.8 0.9M187 710.8l-0 0.3M222.7 722.1l2.1 0.3M223.2 764.4l-0.2 0.1M215 743.1l0.7 1.2M230.5 759.3l-0.2 0.1M204.6 720.6l-0.3 0.2M206.5 737.7l-0.1 0M197.4 760.8l0.2 0.1M212.1 708.1l0.4 0.1M230.1 738.9l-0.3 0.4M185.8 717.1l-2 0.6M227.1 759.7l0.5 0.2M223.4 739l0.4 1.3M215.4 725l-0.4 1.1M210.7 751.4l-1.4 1.3M224.5 715l-2.4 0.3M190.3 710.3l-0 0M226.5 748.5l0 0.4M183.3 719.5l1 0.6M181.1 749.8l0.2 1M231.5 723.7l1 1.8M189.5 712.2l-0 1.3M219.8 758.9l-1 0.2M239.4 747.5l-0.5 1.6M188.4 758.2l-0.2 0.6M198.8 726.9l-1.3 1.5M192.3 738.1l0.4 0.7M199.9 727.1l1.3 0.4M228.1 710.8l0.1 0.4M223.2 741.7l0.5 0.6M232 714.6l-0.7 0.3M200.1 715.9l-1.7 0.8M228.6 729.4l-0.2 0.1M213.2 733.6l-0.1 0.1M184 722.6l0.1 0.3M208.2 728.4l1.8 1.1M224.8 713.6l-0.5 0.3M220.4 765.3l1.1 1.3M192.8 761.2l-0.9 1.9M214.5 710.5l-1.1 0M202.3 710.1l-1.2 1.3M237.4 728.9l1.2 0M200.3 732.5l0.5 1.3M200.5 732.4l-0.3 1M225.3 740.8l0.6 0.8M196.4 748.3l0 1.7M184.6 730.5l1.4 0.8M216.7 730.8l1.5 0.3M182 731.8l0.8 0.3M226 764.2l0.2 0.2M221.4 762.6l0.2 0.2M200.2 739.3l-1.4 1M225.2 747l-0.9 0.5M187.7 716.9l-1 1.8M227 743.8l0.8 0.6M229.6 753.8l0.6 0.2M189.9 722.4l0.4 0.6M185.6 751.1l-0.3 1.3M214.3 731l-1.8 0.9M197.4 764.3l-0 1.8M229.1 752.9l-0.3 0.1M236.6 715.4l-1.7 1.4M202.9 743.7l0.1 1.3M188.2 711.4l-0.7 1.4M207.4 713.9l1.9 1.1M235.6 765l0.3 1.2M208.1 717.3l1.7 1.5M228.1 761.7l-1.7 0.4M183.1 742.2l-1.4 1.5M223 752.8l0.4 0.1M180.7 754.3l-1.3 0.9M234.6 752.1l-0.5 0.2M194.6 752.9l0.3 0.7M222.4 749l-0.2 0.1M211.5 722.3l-0.2 0.1M225.3 756.9l-2.3 0.5M232.6 742.4l1.8 0.2M193.9 717.1l1.3 1.4M208.2 735.7l-0.6 1.7M211.6 731.5l-0.8 0.8M212.2 739.8l-0 0M192.7 760.8l0.1 0.6M187.2 727.5l0.1 0.1M218 743.5l-0.2 0.3M228.8 733.4l1.9 0.3M212.5 724.1l-1.1 0.2M203.4 707.4l-0.2 1.4M182.5 761l0.1 0.4M206.1 738.8l0.4 1.1M211.5 742l-2.1 0.9M188.3 758.2l0.3 0M209.1 741.4l0.4 1M183.4 740.3l-0 1.9M216.5 765.1l-0 0.2M236.4 720.6l0.3 0.4M225.3 710.2l-0.8 2.1M186.9 733.1l-0.3 0.3M213.2 735.6l1.9 0.4M229.6 726.9l0.5 1.7M204.4 734.6l0.7 0.6M208.3 762.5l2.2 0.2M231.4 743.9l-1.1 2.1M235.5 710.4l-0.4 0.9M194.4 754l1 1M207.5 754.1l1.7 0.4M215.5 733.9l-1.7 1.6M222.4 716.4l-0.1 1.9M209.5 736.1l-0.3 2M206 745.5l-1 1.2M236.6 734.5l1.8 1.6M181.7 707.2l0 0.1M205.1 730.8l0.1 0.7M238.7 723.3l-1.1 0.6M193.6 725.7l-0.9 0.7M223.4 740.4l0.7 1.2M200.5 722.1l-1 2M200.6 762.7l1.1 0.1M231.8 747.3l0.5 0.3M226.3 720.8l0 0M215 734.9l-0.4 0.1M194.6 757.2l-1.3 0.4M206.6 738.4l0.1 0.5M218.5 717.4l-1.1 0.6M201.6 744l0.7 0.7M191.9 753.9l-0.2 0.7M184.4 727.3l0 1.6M217.1 765.1l0.3 1.1M224.7 733.9l-1.3 0.3M227 736.4l0.8 1.8M212.2 718.5l1.1 0M238 749.1l0.4 0M207.6 719.3l-1.1 2M234.6 733.8l0.6 0.9M211.9 762.3l-0.4 1.7M231.6 716.8l1.4 0.4M228.8 728.2l-1.3 0.2M223.2 723.2l-1.9 0.9M189.5 718.9l0.6 0.6M216.1 730.9l0 0M225.2 764.5l-0 0M227 754.8l1.4 1.8M191.7 755.3l0.6 1.1M199.9 715.5l-0.6 0.4M214.9 732l0.8 0.1M184.5 733.5l-0.7 1M186 752.5l1.4 0M207.9 755l-0.4 0.3M223.3 706.5l-0.8 0.1M233.6 757.2l-0.6 1.1M208.6 707.5l-0.4 0.3M232.3 731.5l-1.7 0.6M201.8 731.8l-0 0M184.6 760.7l-0.3 0.4M183.8 743l2.3 0.3M212.7 722.6l1 0.2M231.9 740l-0.5 2.3M206 713.5l0.4 2.1M221.1 721.1l-0.5 0.4M181.3 713l0.5 1.9" stroke="#7638a8" stroke-width="1.3" stroke-linecap="round" fill="none"/>
<path d="M202.1 738.6l-0.6 0.2M222.1 731.5l-0.6 1.9M223.5 728.4l0.6 0.1M184.1 755.9l0.4 0.5M234.1 759.7l0.9 0.3M236.8 724.2l0.3 0.7M180.5 719.9l-0.1 0.9M184 717.5l0.5 0.5M208.2 734.4l-0.8 0.1M203.2 762.1l-0.8 0.9M214 714.1l-0.7 1M206.4 743.4l-1.8 0.1M207.4 707.4l-0.1 0.5M204.2 721.8l-0.3 1.6M202.3 729.9l0.2 0.4M207.9 720.1l0.2 0.7M233.5 718.3l-0.1 0.5M238.5 755.8l-0.7 1.6M193.3 733.8l-1.2 1.1M233.9 732.8l-0.5 0M205.3 762.3l1.1 0.7M214.3 712.4l-0.7 1.7M183.5 709l-1.7 0.3M231.1 727.3l0.2 0.1M239.3 763.1l-1.9 0.2M212 712.2l-0 0M233 731.2l0.8 0M235.9 711.6l1.3 0.8M237.1 743l0.6 0.6M201.3 761.1l-0.7 0.1M194.1 706.9l-0.4 0.9M208.4 725.1l-0.2 0.2M209.6 716.6l-0 0.1M219.6 710.6l-1 0.3M230.4 736.9l-0.8 0.1M218.3 759.2l-0.7 0.2M217.4 748l-1.7 0.4M238.4 762.9l-0.1 0.2M233.9 711.7l-0.7 0.3M232.9 706.5l-0.4 0.6M233.7 752.1l1.7 0.4M207 728.4l0.1 0.3M213.2 713l0.4 0.7M182.8 746.3l0.2 0.1M203.1 763.5l-1 0.1M213.9 741.9l-0.7 0.5M231 739.5l-1.4 0.1M236 759.4l0.1 0.2M201.7 764.6l1 1.2M192.1 749.5l-0.5 0.4M188.5 713.1l0.2 0.9M233.6 709.2l-0 0M191.3 739.1l0.4 0.9M185 757.7l0.4 0M219.8 729.3l-0.9 0.8M199.9 764.1l0.4 1.7M227 734.6l-0.2 0M198.3 765.3l1.1 0.5M219.2 744.7l-0.5 0.1M192.7 751l0.3 1.4M184.2 759.6l-1.7 0.1M183.7 738.3l-0.2 0.2M231.8 713.1l-1.6 0.3M185.5 756.4l-0.2 0.3M237.2 716.1l-1.7 0.1M239.5 713.6l0.4 1.1M233 756.3l-0.1 0.2M184.1 760.3l-0.8 1.7M211.2 719l0.9 0.2M233.1 716.7l-0 0.1M211.1 730.4l0.5 0.1M208.5 709.1l-0.1 0.1M190.9 730.9l1.6 0.1M231.6 746.3l0 0M203.2 763.9l0.3 0.1M234.7 709.3l-1.1 0.6M211.4 707.7l0.4 0M237.8 750.9l-1.8 0.9M210.5 719.8l0.1 0M208.8 722.5l-0.9 0.2M206.3 722.1l-0.5 1M215.3 748.8l-0.5 0.9M221.6 743.2l0 0.1M209.2 729.3l0.4 0.5M200.2 747.4l-0.4 1M207.9 751.3l-1.2 0.8M205.5 725.5l-0.1 0.8M192.2 759.4l0.3 0.8M208.2 760.9l-0.1 0.6M183.3 715l1.2 1.4M232.3 708.9l-0.1 0.2M183.4 706.4l0.4 0.1M214.2 710.2l-0.6 0.7M210.1 742.3l1.5 0.5M183.9 724.8l-0.6 1.3M194.1 718.3l0.1 0.9M197.9 759.7l-0.5 0.6M203.5 711.9l-1.3 1.1M209.6 746.2l-0.2 0.4M228.2 723.8l1.1 0.6" stroke="#2e1a4c" stroke-width="1.3" stroke-linecap="round" fill="none"/>
</g></g>
<rect x="233.2" y="761.9" width="4.5" height="1.2" fill="#e53030" stroke="none" stroke-width="1"/>
<clipPath id="ce8"><rect x="245.2" y="706.1" width="59.7" height="59.3"/></clipPath>
<rect x="245.2" y="706.1" width="59.7" height="59.3" fill="#e8eaee" stroke="none" stroke-width="1"/>
<g clip-path="url(#ce8)"><g filter="url(#soft)">
<path d="M251.9 713.9l1.5 1M253.1 733.6l1 0.8M256.4 707.7l0.7 0.2M304 724.8l2.7 1.2M299.2 736.1l-1 1.8M261.4 719.9l0.4 0M291.2 743.6l-0 0.8M299.5 722.6l0.1 0.4M290.8 753.9l0.4 1M260.6 762.7l1.7 1M255.5 751.6l-0.3 0.5M270.3 707.9l-0.6 0.2M264.4 746.1l0.7 2.2M275 757.1l-0.1 2.2M285.3 720.5l1.6 2.1M259 763.2l0 0M278.2 732.2l-0 2M245.4 764.5l0.5 1M253 746l-0 0.9M284.2 710.4l1.9 1.3M293.2 758.8l0.7 1.1M275.4 759.5l-1.8 2.3M269.1 729.8l1.1 1.8M292.3 726.4l-0.1 1.7M276.6 756l-2.1 1.7M283.7 729.6l0.1 1.2M295.9 749.7l0.2 0.2M248.9 724.1l1.9 0.1M290 742.7l1.4 0.1M246.2 710.3l0.7 2.5M248.6 754.3l0.7 1.3M268.7 718.4l-0.1 0.1M297.9 726.9l-1.6 0.7M246.7 765.3l0.1 0.3M248.9 718l0.3 0.3M289.3 762.2l0.3 0.6M280.1 718.2l-0.1 0.1M275.7 728.2l1.3 1.5M267.4 714.9l0.7 1.1M278 758l-1.1 2.1M280.2 757.3l-0.5 0.1M254.8 758.3l-0.9 1.2M303.5 708.2l0.9 0.4M263.8 721l1.7 1.8M269.6 713.1l0.2 0.1M249 756l-0.5 0.7M282.7 733l1.8 0.4M296.5 764.9l-2.3 1.7M280.7 718.9l0.1 0.3M257 742.6l1.8 2.1M280.2 719.4l-1.3 2.6M301.4 734.9l-2.2 1.9M298.4 725.3l-0.6 1.8M249.4 756.8l0.2 0.9M245.8 728.8l0.2 0.2M294.6 717.2l-0.4 0.8M300.9 725.5l1.6 1.7M302.9 761.1l-0.6 0.3M265.3 706.6l1.6 2M279 752.6l-0.4 0.6M284.4 740.5l0.4 0.8M278.3 754.4l-0.2 0.3M251.6 744.7l-2.7 1.2M277.5 763.8l0 0M246.1 739.4l1.4 2.4M277.3 723.8l1 0.3M282.3 751.2l-2.2 1.3M286.4 737.7l-1.4 2.2M287.1 738.8l-1.2 2.5M297.1 739.4l-0.1 0.5M298.2 711.1l-1.2 2.7M271.5 728.5l-1.5 0.8M277.5 712.8l1.1 0.4M286.7 755.5l-1.1 0.1M298.8 754.4l2 0.7M248.9 712.4l-0.2 0.4M296.6 764.3l-0.8 1.3M259.9 729.4l-1.7 2.3M285.8 750.5l0.3 0.3M253.8 765.2l0.7 0.4M246 721.3l0.7 0.7M262.1 712.5l0.2 0.1M276.5 745.4l1.8 0.1M246.4 740.9l-1 0.1M282.5 760.7l0.6 0.2M255.4 764.7l-0.4 1.6M285.1 713.4l-0.3 1.4M250.6 715.6l0.1 0.2M246.8 708.8l-1.9 1.4M250.6 756.9l0 0.3M268.1 715.4l0.7 1M249.4 754.9l1 2.1M275.4 715.3l-2 1.1M270 730.6l-0.7 1.5M302.2 759.5l1.5 2.6M295.2 732l0.4 0.7M253.8 709.3l-2.8 0.8M252.4 763l-0.7 0M283.1 713.7l-0 0.9M297.8 762.5l0.2 0.9M280.2 707.8l-0.3 0.9M297.8 710l1.6 0.9M267.2 756l-0 0.2M274.5 711.3l3 0.2M304.3 709.6l2.3 1.3M274.2 718.4l0.1 0.1M289.3 755l-0.6 1.3M281.3 762.2l1.8 0.3M297.6 717.5l-2.4 1.7M298.3 762.5l0.1 1.6" stroke="#ccb0dc" stroke-width="1.5" stroke-linecap="round" fill="none"/>
<path d="M270.5 760l-2.4 0.8M303.5 757.6l0.6 0.4M253.7 745.6l0.3 0.5M255.1 758.2l1.1 0.2M262.3 747.3l-1.9 0.3M258.4 761.8l0.2 0.3M276.1 747.8l-0.4 0.3M285.9 749.9l-0.2 0.2M291.2 744.3l1 1.1M294.8 761l2 1.8M274.2 752.3l-2.3 1.1M302.9 717.1l0 0M246.6 763.1l-0.7 0.7M256.2 749.8l-0.4 0.3M271.3 721.9l-0.9 0.8M266.2 737.2l-0.4 2.9M250 744.4l-0.4 0.4M298.3 733.3l1.3 0.5M304.8 750.8l-0.7 0.6M301.4 712.6l0.1 1.8M284.7 745.4l-1.3 0.1M265.5 749.8l-1.1 1M252.7 715.1l2.2 0M292.8 720.6l0.4 0.4M297 763l-0.1 1.4M303.6 753.3l-0.3 0.4M257.8 735.1l0.5 2.2M295.4 763.6l0 1.9M281.7 753.7l-0.4 0M289.2 750.1l-2.1 1.7M298.7 706.5l-2.6 0.3M300.2 715.3l0.5 0.1M279.3 717l0.9 0.5M290.9 740.9l0.1 0.7M283.1 718.1l0.3 0.1M254.1 764.5l0.7 1.4M273.4 711.8l1.7 2M286.8 757.3l0.3 1.7M288.1 729l-2.6 0.7M269.2 744.6l0.6 0.5M255.2 706.1l-1.8 0.6M259.1 750.1l-0.2 0.9M281.6 749.1l-1.2 2M272.1 752.7l0.7 0.1M283.7 764.9l-2 0.4M248.4 724.6l0.7 2.1M266.5 713.7l0.4 1.9M254.1 751.6l1.1 1M293.5 752.1l-1.3 0.9M253.9 742.9l-1.2 1.5M296.1 739.1l0.7 1.6M268.1 748l-2.1 0.2M264.6 762.1l-0 0.6M266.1 715.5l-1 0.3M284.1 722.7l-0.3 0.1M292.9 744.6l0.3 1.6M261.1 762.5l0.6 1.1M271.1 740.5l2.5 0.9M272.9 732l1.4 2.2M258.9 734.2l1.3 0.6M275.5 762.2l-1.9 1.4M254.8 727.2l1.9 1.7M266 708.8l-1.8 0.1M273.3 732l1.1 0.6M285.4 752.7l-0.4 1.1M252.9 731.8l-1.1 0.4M259.3 715.1l-1.4 1.6M250.5 717.2l-0.3 0.1M300.5 756.6l-2 0.5M265.3 725.8l1 0.5M252.4 712l0.3 0.7M264.6 733.7l-0.5 0.5M270.9 738.5l1.7 1.1M281.6 716.8l0.6 1.5M303.2 723.7l-2.2 0.5M277.5 765.2l0.8 2.5M246.5 741.3l-0.7 2.5M267.7 760.2l2.8 1.1M287.7 751.1l-0.1 1M271.5 714.5l1.2 2.7M297.8 707.7l0.5 0.4M253.1 759.9l-0.1 1.7M266.7 722l1.7 1.4M271.7 708.4l-2.6 1.1M250.8 764.2l-0.1 1.2M291.4 706.5l-0.5 0.8M299.8 744.9l-1.2 0.8M272.6 730.7l0.1 1.9M281.4 758l0.6 0.9M281 755.9l-2.2 0.7M301.8 738.7l-1.7 1.9M287.1 732.5l-1 0.1M276.9 716.4l0.8 1M300 723.8l-1.8 1M269.4 733.4l-1.6 1.7M262.2 757.3l-0.2 0.7M285.8 725.7l-0.3 1.8M264.8 742.8l-0.1 0.1M259.6 735.1l-0.2 0.4M271.3 761.9l-1.6 1.9M257.6 710.3l0.4 0M280.2 715.2l-2.7 0.5M297.8 753.8l0 0.1M260.6 763.8l-0.1 0M286.7 741.5l1.8 0.4M245.3 739.4l1.2 0.1M285.6 754.9l-0.8 2.5M265.1 710.6l-0.1 1.6M282.8 713.6l0.2 0.5M271.7 726.9l-1 2.6M284.3 731.2l2.6 0.5M246 736.3l-2.2 0.3M264.6 715.1l2.1 0.7M298.8 717.1l0.6 1.3M274.4 718.6l-1 1.5M253.4 753.9l0.7 1.8M275.6 750.6l0.7 0.7M298.4 754.4l0 0.2M286 713.4l0.3 2.8M278.6 725.2l1.1 0.5M280.3 749.2l-0.4 0.9M284.4 755.2l1.6 0.7M289.6 711.7l-2.4 1.3M295.3 753.9l1.9 1.8M299.8 740.7l0.1 1.5M254.9 730.2l1.4 1.5M283.9 739l-1.1 1.3M304.4 747.9l-0.2 1.9M298 718.7l-0 0.1M249.3 749.7l-0.2 0.8M286.3 709.1l-0.1 0.6M257.9 707.1l0.6 0.6M252.8 751.9l-1 0.5M246.2 710.9l0.2 1.4M281.1 713.1l-0.1 0.1M255.6 754.2l-1.1 2.1M250.9 761.3l-1.2 2.4M303.7 741.8l1 0.3M282.6 726.6l-1.2 0.8M247.9 732.9l-2.3 1.9M254.6 713.7l0.1 1.7M271.5 750.9l1.3 0.2M279.2 764.2l1.1 2M266.9 755.3l-0.2 1.6M284.9 743.8l0.6 1.4M275.1 721.1l-0.3 0.1M253.7 709.8l0.2 0.1M282.5 745.8l0 0M260.1 759l1.8 0.7M266 743.9l0 0.1" stroke="#a06ac4" stroke-width="1.4" stroke-linecap="round" fill="none"/>
<path d="M264 735.2l-2.2 0M277.6 754.4l0.3 0.3M272.8 724.4l-0.6 2M271.7 750.7l-0 0.2M299.2 712.5l0.5 0.6M276.7 720.6l0.7 0.8M300.5 758.9l-0.9 0.6M302.1 723.5l2.3 0.9M260.6 747l-0.4 1.8M283 710.6l0.2 0M301.8 724.6l0.4 1.3M251 745.7l-0.9 0.8M276.5 718.5l-0.6 0.1M287.3 752.4l1.3 0.4M247.8 752.6l-1.3 0M269.1 711.5l-2.2 0M302 715.5l-1.1 2.6M258.5 709.7l-0.4 2.2M294.4 736.4l-0.2 0.5M245.7 760.3l0 0M292.2 722l0 1.9M269.6 750.4l-1.9 0.6M298.7 727.2l-0.7 1.2M283.3 718.8l-0.8 2.1M272.7 733l0.5 0.7M254 712.8l1.9 0.9M256.8 709.8l0.1 0.1M279.4 749.3l-1.6 0.7M260.8 765.2l-1.6 0.7M249.9 760.7l0.2 1.4M254.6 739.7l-1.4 1.3M277.7 748.5l-0.7 1.3M267.8 746.4l2.4 0.2M298.3 728.1l-0 1.1M279.7 753.5l-0.4 0M293.4 710.3l2.1 1.5M304 715l-1.3 1.9M279 728.2l-0 0M282.2 764.1l0.4 0M297.2 714.4l-2 0.6M248.8 753.2l-1.6 0.2M265.1 752.3l-2.4 0.2M248.9 763.9l-2.5 0.4M249.6 715.3l-0.9 2.4M283.3 742.3l-1.4 1.3M301.8 733.2l-0.8 1M261.7 708.5l-0.4 0.2M285.4 724.3l0.1 0.7M300.1 711.3l-0 0.3M251.9 758.7l2.3 0M294.4 729.7l-0.5 0M268.4 728l0.6 0.8M293.4 724.4l1.5 1.5M268.4 765.1l-0.3 0.2M267.5 719.9l1.6 1.3M301.7 755.7l-1.8 0.6M253.1 742.2l1.4 1.3M250.3 741l-0.9 0.7M281.2 707l0.6 1M301.2 713.2l0.2 1M265.5 707.8l-1.3 0.7M248.8 715.6l1.1 0.2M246.6 726.3l1.5 1.5M248 749l0 0M291.8 717.9l-2.5 1M300.9 745.9l1 2M272.9 748.3l-0.7 1.2M269.5 759.6l1.4 0M293.5 762l-1 1.4M293.2 718.5l0.4 0.6M282.4 762.5l-1.5 1M246 756.6l0.5 0M255.6 742l1 0.4M284.7 715.2l-1.1 2.1M280.3 710l-0.1 2.7M290.6 758.9l1.6 0.9M267.4 759.3l-0.1 0M273.4 714.2l1.3 0.3M275.1 731.8l-0.9 2.1M294.3 757.5l1.3 0.3M274.3 708.9l-1.8 0.4M292.6 748.8l1.8 0.8M281.3 746l-1.4 1.5M246.3 764.1l1.2 0.2M282.2 758.6l-0 0M292.4 752.6l-1.7 1.8M294.2 745.5l0.5 1.8M295 714.5l0.1 1.8M275.6 762.1l0.4 0.2M291.2 726.8l1.3 1.2M272.2 754.4l1.2 2.5M293.6 706.6l0.2 1.3M255.8 713.1l0.9 1.4M276.8 706.9l1.4 2M259.1 765l1.6 1.3M271 730l1.4 0.4M270.7 736.7l-0.2 1.4M279.9 730.4l1 2.1M256.5 752.5l2.3 0.5M292.5 759.5l0.6 0.1M281.1 757.3l-0.1 1.8M304.3 749.9l-0.3 0.5M298.6 731.7l1.5 1.9M250.5 761.7l0.1 0.1M269.5 707.4l-1.7 2M265.4 717l2.3 0.3M302 747.8l2.7 0.3M254.7 714.8l0 0.1M291.6 728.3l-0.6 0.1M268.6 717.7l0.1 0.1M290.7 753.2l1.2 0.5M268.8 715.7l-0.2 0.4M281.1 756.6l1.9 0.8M246.8 753l1.9 1.6M302.2 749l0.7 1.5M275.1 709l0.6 1.2M286.1 732.4l1.6 0.2M267.4 717.6l0.9 0.5M303.9 753.7l-0.4 0M302.9 750.7l-2.6 0.6M290.3 753.8l-0.9 0.3M261.7 735.8l0.7 0.4M249.2 709.4l1.2 1M280.2 757.6l-2.2 1.3M269.8 718l0.8 0.1M295.5 721.5l-0.7 0.4M245.9 721.8l0.9 0.5M279.2 707l2.3 0.9M286.2 716.6l-0.5 0.3M252.2 712.9l1.7 1.1" stroke="#6a3aa4" stroke-width="1.4" stroke-linecap="round" fill="none"/>
<path d="M256.3 733l0.7 0M248.6 732.7l1.2 1.2M258.6 756.6l-0.3 0.4M295.5 764.5l-0 0.1M270.9 753.3l-0.7 0.7M282.8 763l-0 0.2M291.9 751.4l0.2 1.6M270.4 715.6l0.7 1.3M258.7 736.1l-0.5 0.1M245.7 760l0.9 0.9M274.2 723l-0.6 0M292.2 734.4l-1.1 0.5M287.7 756.1l-1.6 0.9M291.2 748.8l-1.1 1.2M294.8 716.5l-1.1 1.7M283.3 743.3l1.5 1.1M279.1 713.8l2.1 0.6M292.7 734l-0.6 0.1M293 763.6l-1.2 1.7M276.1 716.1l0.2 0.7M298 706.7l-0.7 0.7M277.9 752l0.2 0.3M300.9 710.2l-0 0M255.9 737.4l0.7 1.1M250.9 724.8l1.3 1M254.4 760.5l-0.5 2M261 751.1l1.3 1.4M285.2 757.5l0.5 2.1M302.1 747.6l-0.1 0.2M298.8 723.3l-1.5 0.5M274.9 733.3l0.6 1M303.5 710.4l-1.8 0.1M269 742.1l0.1 0.4M267.5 744.1l-1.1 1.3M301.1 754.9l0.9 0.9M257.9 711.9l-1.9 0.2M283.3 714.6l-1.4 1.1M266.2 734l-1.9 0.7M288.1 724.6l-0.1 0.1M249.7 738.5l0.6 1.8" stroke="#2e1a50" stroke-width="1.3" stroke-linecap="round" fill="none"/>
</g></g>
<rect x="297.9" y="761.9" width="4.5" height="1.2" fill="#e53030" stroke="none" stroke-width="1"/>
<text x="80" y="616.1" font-size="11.5" text-anchor="middle" font-weight="bold" fill="#000" dominant-baseline="central">sh NC</text>
<text x="144.3" y="616.1" font-size="11.5" text-anchor="middle" font-weight="bold" fill="#000" dominant-baseline="central">sh CypD</text>
<text x="209.7" y="616.1" font-size="11.5" text-anchor="middle" font-weight="bold" fill="#000" dominant-baseline="central">sh NC</text>
<text x="273.9" y="616.1" font-size="11.5" text-anchor="middle" font-weight="bold" fill="#000" dominant-baseline="central">sh CypD</text>
<text x="83" y="695.9" font-size="11.5" text-anchor="middle" font-weight="bold" fill="#000" dominant-baseline="central">Ad vector</text>
<text x="145.3" y="695.9" font-size="11.5" text-anchor="middle" font-weight="bold" fill="#000" dominant-baseline="central">Ad CypD</text>
<text x="209.2" y="695.9" font-size="11.5" text-anchor="middle" font-weight="bold" fill="#000" dominant-baseline="central">Ad vector</text>
<text x="272.4" y="695.9" font-size="11.5" text-anchor="middle" font-weight="bold" fill="#000" dominant-baseline="central">Ad CypD</text>
<line x1="57.2" y1="774.3" x2="170.8" y2="774.3" stroke="#111" stroke-width="1.4"/>
<line x1="183.9" y1="773.6" x2="297.6" y2="773.6" stroke="#111" stroke-width="1.4"/>
<text x="113.6" y="787.4" font-size="13" text-anchor="middle" font-weight="bold" fill="#000" dominant-baseline="central">DLD1</text>
<text x="241.1" y="787.4" font-size="13" text-anchor="middle" font-weight="bold" fill="#000" dominant-baseline="central">RKO</text>
<line x1="400.2" y1="616.8" x2="400.2" y2="733.3" stroke="#111" stroke-width="1.3"/>
<line x1="396.7" y1="616.8" x2="400.2" y2="616.8" stroke="#111" stroke-width="1.3"/>
<text x="395.2" y="616.8" font-size="7.4" text-anchor="end" font-weight="bold" fill="#000" dominant-baseline="central">600</text>
<line x1="396.7" y1="655.6" x2="400.2" y2="655.6" stroke="#111" stroke-width="1.3"/>
<text x="395.2" y="655.6" font-size="7.4" text-anchor="end" font-weight="bold" fill="#000" dominant-baseline="central">400</text>
<line x1="396.7" y1="694.6" x2="400.2" y2="694.6" stroke="#111" stroke-width="1.3"/>
<text x="395.2" y="694.6" font-size="7.4" text-anchor="end" font-weight="bold" fill="#000" dominant-baseline="central">200</text>
<line x1="396.7" y1="733.3" x2="400.2" y2="733.3" stroke="#111" stroke-width="1.3"/>
<text x="395.2" y="733.3" font-size="7.4" text-anchor="end" font-weight="bold" fill="#000" dominant-baseline="central">0</text>
<line x1="400.2" y1="733.3" x2="587.2" y2="733.3" stroke="#111" stroke-width="1.3"/>
<line x1="407.2" y1="712.1" x2="423.5" y2="712.1" stroke="#111" stroke-width="1.3"/>
<line x1="407.9" y1="712.1" x2="407.9" y2="733.3" stroke="#111" stroke-width="1.3"/>
<line x1="422.9" y1="712.1" x2="422.9" y2="733.3" stroke="#111" stroke-width="1.3"/>
<line x1="415.4" y1="733.3" x2="415.4" y2="736.4" stroke="#111" stroke-width="1.2"/>
<line x1="424.6" y1="680.6" x2="441.2" y2="680.6" stroke="#23a06b" stroke-width="1.3"/>
<line x1="425.2" y1="680.6" x2="425.2" y2="733.3" stroke="#23a06b" stroke-width="1.3"/>
<line x1="440.6" y1="680.6" x2="440.6" y2="733.3" stroke="#23a06b" stroke-width="1.3"/>
<line x1="432.9" y1="733.3" x2="432.9" y2="736.4" stroke="#111" stroke-width="1.2"/>
<line x1="448.7" y1="669.4" x2="465.1" y2="669.4" stroke="#f7802d" stroke-width="1.3"/>
<line x1="449.3" y1="669.4" x2="449.3" y2="733.3" stroke="#f7802d" stroke-width="1.3"/>
<line x1="464.5" y1="669.4" x2="464.5" y2="733.3" stroke="#f7802d" stroke-width="1.3"/>
<line x1="456.9" y1="733.3" x2="456.9" y2="736.4" stroke="#111" stroke-width="1.2"/>
<line x1="466.7" y1="680.6" x2="483" y2="680.6" stroke="#f9262b" stroke-width="1.3"/>
<line x1="467.3" y1="680.6" x2="467.3" y2="733.3" stroke="#f9262b" stroke-width="1.3"/>
<line x1="482.4" y1="680.6" x2="482.4" y2="733.3" stroke="#f9262b" stroke-width="1.3"/>
<line x1="474.9" y1="733.3" x2="474.9" y2="736.4" stroke="#111" stroke-width="1.2"/>
<line x1="504.6" y1="696.9" x2="520.5" y2="696.9" stroke="#111" stroke-width="1.3"/>
<line x1="505.2" y1="696.9" x2="505.2" y2="733.3" stroke="#111" stroke-width="1.3"/>
<line x1="519.9" y1="696.9" x2="519.9" y2="733.3" stroke="#111" stroke-width="1.3"/>
<line x1="512.5" y1="733.3" x2="512.5" y2="736.4" stroke="#111" stroke-width="1.2"/>
<line x1="522.6" y1="648.4" x2="538.5" y2="648.4" stroke="#23a06b" stroke-width="1.3"/>
<line x1="523.2" y1="648.4" x2="523.2" y2="733.3" stroke="#23a06b" stroke-width="1.3"/>
<line x1="537.9" y1="648.4" x2="537.9" y2="733.3" stroke="#23a06b" stroke-width="1.3"/>
<line x1="530.5" y1="733.3" x2="530.5" y2="736.4" stroke="#111" stroke-width="1.2"/>
<line x1="545.9" y1="664.9" x2="561.9" y2="664.9" stroke="#f7802d" stroke-width="1.3"/>
<line x1="546.5" y1="664.9" x2="546.5" y2="733.3" stroke="#f7802d" stroke-width="1.3"/>
<line x1="561.2" y1="664.9" x2="561.2" y2="733.3" stroke="#f7802d" stroke-width="1.3"/>
<line x1="553.9" y1="733.3" x2="553.9" y2="736.4" stroke="#111" stroke-width="1.2"/>
<line x1="563.6" y1="715.6" x2="580.1" y2="715.6" stroke="#f9262b" stroke-width="1.3"/>
<line x1="564.3" y1="715.6" x2="564.3" y2="733.3" stroke="#f9262b" stroke-width="1.3"/>
<line x1="579.5" y1="715.6" x2="579.5" y2="733.3" stroke="#f9262b" stroke-width="1.3"/>
<line x1="571.9" y1="733.3" x2="571.9" y2="736.4" stroke="#111" stroke-width="1.2"/>
<line x1="415.4" y1="706" x2="415.4" y2="718" stroke="#111" stroke-width="1"/>
<line x1="412.4" y1="706" x2="418.4" y2="706" stroke="#111" stroke-width="1"/>
<line x1="412.4" y1="718" x2="418.4" y2="718" stroke="#111" stroke-width="1"/>
<circle cx="411.4" cy="715.5" r="1.8" fill="none" stroke="#111" stroke-width="1.1"/>
<circle cx="418.3" cy="709.6" r="1.8" fill="none" stroke="#111" stroke-width="1.1"/>
<circle cx="415.3" cy="711.5" r="1.8" fill="none" stroke="#111" stroke-width="1.1"/>
<circle cx="417.1" cy="714.9" r="1.8" fill="none" stroke="#111" stroke-width="1.1"/>
<circle cx="410.9" cy="707.3" r="1.8" fill="none" stroke="#111" stroke-width="1.1"/>
<circle cx="419.1" cy="711.3" r="1.8" fill="none" stroke="#111" stroke-width="1.1"/>
<line x1="432.9" y1="677" x2="432.9" y2="685" stroke="#23a06b" stroke-width="1"/>
<line x1="429.9" y1="677" x2="435.9" y2="677" stroke="#23a06b" stroke-width="1"/>
<line x1="429.9" y1="685" x2="435.9" y2="685" stroke="#23a06b" stroke-width="1"/>
<circle cx="438.4" cy="686" r="1.8" fill="none" stroke="#23a06b" stroke-width="1.1"/>
<circle cx="427.6" cy="677.3" r="1.8" fill="none" stroke="#23a06b" stroke-width="1.1"/>
<circle cx="436.9" cy="683.9" r="1.8" fill="none" stroke="#23a06b" stroke-width="1.1"/>
<circle cx="434.9" cy="679.6" r="1.8" fill="none" stroke="#23a06b" stroke-width="1.1"/>
<circle cx="434.2" cy="682.6" r="1.8" fill="none" stroke="#23a06b" stroke-width="1.1"/>
<circle cx="433.9" cy="678.1" r="1.8" fill="none" stroke="#23a06b" stroke-width="1.1"/>
<line x1="456.9" y1="666" x2="456.9" y2="674" stroke="#f7802d" stroke-width="1"/>
<line x1="453.9" y1="666" x2="459.9" y2="666" stroke="#f7802d" stroke-width="1"/>
<line x1="453.9" y1="674" x2="459.9" y2="674" stroke="#f7802d" stroke-width="1"/>
<circle cx="453.8" cy="669.4" r="1.8" fill="none" stroke="#f7802d" stroke-width="1.1"/>
<circle cx="455.3" cy="670" r="1.8" fill="none" stroke="#f7802d" stroke-width="1.1"/>
<circle cx="458.4" cy="664.7" r="1.8" fill="none" stroke="#f7802d" stroke-width="1.1"/>
<circle cx="451.1" cy="672.4" r="1.8" fill="none" stroke="#f7802d" stroke-width="1.1"/>
<circle cx="454" cy="666.3" r="1.8" fill="none" stroke="#f7802d" stroke-width="1.1"/>
<circle cx="462.8" cy="668.7" r="1.8" fill="none" stroke="#f7802d" stroke-width="1.1"/>
<line x1="474.8" y1="677.5" x2="474.8" y2="684" stroke="#f9262b" stroke-width="1"/>
<line x1="471.8" y1="677.5" x2="477.8" y2="677.5" stroke="#f9262b" stroke-width="1"/>
<line x1="471.8" y1="684" x2="477.8" y2="684" stroke="#f9262b" stroke-width="1"/>
<circle cx="471.6" cy="677" r="1.8" fill="none" stroke="#f9262b" stroke-width="1.1"/>
<circle cx="473.6" cy="677.5" r="1.8" fill="none" stroke="#f9262b" stroke-width="1.1"/>
<circle cx="469.6" cy="680" r="1.8" fill="none" stroke="#f9262b" stroke-width="1.1"/>
<circle cx="479.8" cy="684" r="1.8" fill="none" stroke="#f9262b" stroke-width="1.1"/>
<circle cx="478" cy="678.2" r="1.8" fill="none" stroke="#f9262b" stroke-width="1.1"/>
<circle cx="475.2" cy="678.8" r="1.8" fill="none" stroke="#f9262b" stroke-width="1.1"/>
<line x1="512.5" y1="692" x2="512.5" y2="701" stroke="#111" stroke-width="1"/>
<line x1="509.5" y1="692" x2="515.5" y2="692" stroke="#111" stroke-width="1"/>
<line x1="509.5" y1="701" x2="515.5" y2="701" stroke="#111" stroke-width="1"/>
<circle cx="514" cy="699.4" r="1.8" fill="none" stroke="#111" stroke-width="1.1"/>
<circle cx="516" cy="701.4" r="1.8" fill="none" stroke="#111" stroke-width="1.1"/>
<circle cx="515.4" cy="701.2" r="1.8" fill="none" stroke="#111" stroke-width="1.1"/>
<circle cx="506.8" cy="696.7" r="1.8" fill="none" stroke="#111" stroke-width="1.1"/>
<circle cx="517.8" cy="698.5" r="1.8" fill="none" stroke="#111" stroke-width="1.1"/>
<circle cx="517.3" cy="693.1" r="1.8" fill="none" stroke="#111" stroke-width="1.1"/>
<line x1="530.5" y1="643" x2="530.5" y2="655" stroke="#23a06b" stroke-width="1"/>
<line x1="527.5" y1="643" x2="533.5" y2="643" stroke="#23a06b" stroke-width="1"/>
<line x1="527.5" y1="655" x2="533.5" y2="655" stroke="#23a06b" stroke-width="1"/>
<circle cx="533.4" cy="652.7" r="1.8" fill="none" stroke="#23a06b" stroke-width="1.1"/>
<circle cx="530.4" cy="647.1" r="1.8" fill="none" stroke="#23a06b" stroke-width="1.1"/>
<circle cx="525.5" cy="651.1" r="1.8" fill="none" stroke="#23a06b" stroke-width="1.1"/>
<circle cx="530.2" cy="652.1" r="1.8" fill="none" stroke="#23a06b" stroke-width="1.1"/>
<circle cx="529.2" cy="652.2" r="1.8" fill="none" stroke="#23a06b" stroke-width="1.1"/>
<circle cx="528.2" cy="652.5" r="1.8" fill="none" stroke="#23a06b" stroke-width="1.1"/>
<line x1="553.8" y1="659" x2="553.8" y2="670" stroke="#f7802d" stroke-width="1"/>
<line x1="550.8" y1="659" x2="556.8" y2="659" stroke="#f7802d" stroke-width="1"/>
<line x1="550.8" y1="670" x2="556.8" y2="670" stroke="#f7802d" stroke-width="1"/>
<circle cx="551.7" cy="661" r="1.8" fill="none" stroke="#f7802d" stroke-width="1.1"/>
<circle cx="555.6" cy="660.2" r="1.8" fill="none" stroke="#f7802d" stroke-width="1.1"/>
<circle cx="554.2" cy="663.2" r="1.8" fill="none" stroke="#f7802d" stroke-width="1.1"/>
<circle cx="548.5" cy="664.6" r="1.8" fill="none" stroke="#f7802d" stroke-width="1.1"/>
<circle cx="548.2" cy="663.8" r="1.8" fill="none" stroke="#f7802d" stroke-width="1.1"/>
<circle cx="548.6" cy="660.4" r="1.8" fill="none" stroke="#f7802d" stroke-width="1.1"/>
<line x1="571.9" y1="711" x2="571.9" y2="720" stroke="#f9262b" stroke-width="1"/>
<line x1="568.9" y1="711" x2="574.9" y2="711" stroke="#f9262b" stroke-width="1"/>
<line x1="568.9" y1="720" x2="574.9" y2="720" stroke="#f9262b" stroke-width="1"/>
<circle cx="568.6" cy="721.1" r="1.8" fill="none" stroke="#f9262b" stroke-width="1.1"/>
<circle cx="567.4" cy="718.5" r="1.8" fill="none" stroke="#f9262b" stroke-width="1.1"/>
<circle cx="566.9" cy="714" r="1.8" fill="none" stroke="#f9262b" stroke-width="1.1"/>
<circle cx="577.9" cy="713.6" r="1.8" fill="none" stroke="#f9262b" stroke-width="1.1"/>
<circle cx="573.6" cy="716.1" r="1.8" fill="none" stroke="#f9262b" stroke-width="1.1"/>
<circle cx="571.3" cy="716.4" r="1.8" fill="none" stroke="#f9262b" stroke-width="1.1"/>
<polyline points="415.4,693.4 415.4,626.9 433.4,626.9 433.4,664.2" stroke="#4a4a4a" stroke-width="0.95" fill="none"/>
<path d="M417.6 619.3L417.6 623.3M415.9 620.3L419.4 622.3M419.4 620.3L415.9 622.3M422.1 619.3L422.1 623.3M420.4 620.3L423.9 622.3M423.9 620.3L420.4 622.3M426.6 619.3L426.6 623.3M424.9 620.3L428.4 622.3M428.4 620.3L424.9 622.3M431.1 619.3L431.1 623.3M429.4 620.3L432.9 622.3M432.9 620.3L429.4 622.3" stroke="#000" stroke-width="1.35" fill="none"/>
<polyline points="456.8,658.4 456.8,626.9 474.5,626.9 474.5,668.9" stroke="#4a4a4a" stroke-width="0.95" fill="none"/>
<path d="M461.1 619.3L461.1 623.3M459.4 620.3L462.9 622.3M462.9 620.3L459.4 622.3M465.6 619.3L465.6 623.3M463.9 620.3L467.4 622.3M467.4 620.3L463.9 622.3M470.1 619.3L470.1 623.3M468.4 620.3L471.9 622.3M471.9 620.3L468.4 622.3" stroke="#000" stroke-width="1.35" fill="none"/>
<polyline points="511.5,674.7 511.5,626.4 530.2,626.4 530.2,635" stroke="#4a4a4a" stroke-width="0.95" fill="none"/>
<path d="M514.1 618.8L514.1 622.8M512.4 619.8L515.8 621.8M515.8 619.8L512.4 621.8M518.6 618.8L518.6 622.8M516.9 619.8L520.3 621.8M520.3 619.8L516.9 621.8M523.1 618.8L523.1 622.8M521.4 619.8L524.8 621.8M524.8 619.8L521.4 621.8M527.6 618.8L527.6 622.8M525.9 619.8L529.3 621.8M529.3 619.8L525.9 621.8" stroke="#000" stroke-width="1.35" fill="none"/>
<polyline points="553.1,645.5 553.1,625.7 571.8,625.7 571.8,701.6" stroke="#4a4a4a" stroke-width="0.95" fill="none"/>
<path d="M555.7 618.1L555.7 622.1M554 619.1L557.4 621.1M557.4 619.1L554 621.1M560.2 618.1L560.2 622.1M558.5 619.1L561.9 621.1M561.9 619.1L558.5 621.1M564.7 618.1L564.7 622.1M563 619.1L566.4 621.1M566.4 619.1L563 621.1M569.2 618.1L569.2 622.1M567.5 619.1L570.9 621.1M570.9 619.1L567.5 621.1" stroke="#000" stroke-width="1.35" fill="none"/>
<text x="361.6" y="673.9" font-size="9.5" text-anchor="middle" font-weight="bold" fill="#000" dominant-baseline="central" transform="rotate(-90 361.6 673.9)">Number of migrated cells</text>
<text x="373.3" y="673.9" font-size="9.5" text-anchor="middle" font-weight="bold" fill="#000" dominant-baseline="central" transform="rotate(-90 373.3 673.9)">(per dish)</text>
<text x="415.4" y="738" font-size="7.8" text-anchor="end" font-weight="bold" fill="#000" dominant-baseline="central" transform="rotate(-90 415.4 738)">sh NC</text>
<text x="432.9" y="738" font-size="7.8" text-anchor="end" font-weight="bold" fill="#000" dominant-baseline="central" transform="rotate(-90 432.9 738)">sh CypD</text>
<text x="456.9" y="738" font-size="7.8" text-anchor="end" font-weight="bold" fill="#000" dominant-baseline="central" transform="rotate(-90 456.9 738)">Ad vector</text>
<text x="474.9" y="738" font-size="7.8" text-anchor="end" font-weight="bold" fill="#000" dominant-baseline="central" transform="rotate(-90 474.9 738)">Ad CypD</text>
<text x="512.6" y="738" font-size="7.8" text-anchor="end" font-weight="bold" fill="#000" dominant-baseline="central" transform="rotate(-90 512.6 738)">sh NC</text>
<text x="530.6" y="738" font-size="7.8" text-anchor="end" font-weight="bold" fill="#000" dominant-baseline="central" transform="rotate(-90 530.6 738)">sh CypD</text>
<text x="553.9" y="738" font-size="7.8" text-anchor="end" font-weight="bold" fill="#000" dominant-baseline="central" transform="rotate(-90 553.9 738)">Ad vector</text>
<text x="571.9" y="738" font-size="7.8" text-anchor="end" font-weight="bold" fill="#000" dominant-baseline="central" transform="rotate(-90 571.9 738)">Ad CypD</text>
<line x1="412" y1="783.3" x2="477.7" y2="783.3" stroke="#111" stroke-width="1"/>
<line x1="509.5" y1="783.3" x2="574.5" y2="783.3" stroke="#111" stroke-width="1"/>
<text x="444.6" y="791.3" font-size="7.5" text-anchor="middle" font-weight="bold" fill="#000" dominant-baseline="central">DLD1</text>
<text x="544.5" y="791.3" font-size="7.5" text-anchor="middle" font-weight="bold" fill="#000" dominant-baseline="central">RKO</text>
<defs><linearGradient id="lg1" x1="0" y1="0" x2="0.3" y2="1"><stop offset="0" stop-color="#c4c4c4"/><stop offset="0.5" stop-color="#cfcfcf"/><stop offset="1" stop-color="#d6d6d6"/></linearGradient></defs>
<rect x="55.9" y="838.7" width="59.1" height="43.2" fill="url(#lg1)" stroke="none" stroke-width="1"/>
<path d="M57.6 844.3h0M95.9 845.4h0M70.1 870.9h0M99.2 867h0" stroke="#555" stroke-width="0.8" stroke-linecap="round" fill="none"/>
<defs><linearGradient id="lg2" x1="0" y1="0" x2="0.2" y2="1"><stop offset="0" stop-color="#d6d6d6"/><stop offset="1" stop-color="#c9c9c9"/></linearGradient></defs>
<rect x="119" y="838.7" width="58.3" height="43.2" fill="url(#lg2)" stroke="none" stroke-width="1"/>
<path d="M124.4 848.5h0M131.4 843.1h0M175 844.3h0M121.1 841.7h0M139.9 846.4h0M163.4 863.9h0M175.6 857.3h0M159.5 843.4h0" stroke="#3a3a3a" stroke-width="0.8" stroke-linecap="round" fill="none"/>
<path d="M161.6 863.1h0M138.5 849.8h0M146.8 873.2h0" stroke="#3a3a3a" stroke-width="1.2" stroke-linecap="round" fill="none"/>
<path d="M170.7 860.1h0M125.6 860.7h0M140.9 839.7h0M127.1 840.1h0M172.3 846.6h0" stroke="#3a3a3a" stroke-width="1.6" stroke-linecap="round" fill="none"/>
<path d="M149.4 878.6h0M167.5 874.2h0" stroke="#3a3a3a" stroke-width="2" stroke-linecap="round" fill="none"/>
<ellipse cx="131.5" cy="869" rx="2.2" ry="1.8" fill="#2d2d2d" opacity="1"/>
<ellipse cx="139.5" cy="859" rx="1.3" ry="1.3" fill="#444" opacity="1"/>
<defs><linearGradient id="lg3" x1="0" y1="0" x2="0.3" y2="1"><stop offset="0" stop-color="#dcdcd2"/><stop offset="1" stop-color="#cdd6de"/></linearGradient></defs>
<rect x="182" y="838.7" width="58.4" height="43.2" fill="url(#lg3)" stroke="none" stroke-width="1"/>
<path d="M218.8 852.1h0M211 841.9h0M225.3 844.8h0M196.7 850.9h0M212.6 852.2h0M193.5 844.2h0M232.2 870.5h0" stroke="#505050" stroke-width="0.8" stroke-linecap="round" fill="none"/>
<path d="M215.2 865.7h0M198.6 866.6h0M234.3 847.4h0M224.5 857.3h0M235.3 862.6h0" stroke="#505050" stroke-width="1.2" stroke-linecap="round" fill="none"/>
<path d="M217.8 860.4h0M212.8 858h0M189.6 842h0M199 848.5h0" stroke="#505050" stroke-width="1.6" stroke-linecap="round" fill="none"/>
<defs><linearGradient id="lg4" x1="0" y1="0" x2="0.2" y2="1"><stop offset="0" stop-color="#dad8cc"/><stop offset="1" stop-color="#cfd5e0"/></linearGradient></defs>
<rect x="244.3" y="838.7" width="58" height="43.2" fill="url(#lg4)" stroke="none" stroke-width="1"/>
<path d="M295.6 876h0M298.4 857.2h0M250.6 860.8h0M287.4 843.3h0M290.1 878.2h0M281 851.7h0M256.8 861.8h0M277.4 855.8h0M259.2 873.3h0" stroke="#3c3c3c" stroke-width="0.8" stroke-linecap="round" fill="none"/>
<path d="M274.9 863.8h0M260.7 864.9h0M259.6 862.4h0" stroke="#3c3c3c" stroke-width="1.2" stroke-linecap="round" fill="none"/>
<path d="M252.7 854.9h0M251.4 856.7h0M254.7 855.5h0M251.1 855.8h0" stroke="#3c352c" stroke-width="2.8" stroke-linecap="round" fill="none"/>
<path d="M249.3 855.4h0M247.2 856.4h0M253.8 857.8h0M254.4 857.8h0M250.9 857.7h0M256.3 854.7h0" stroke="#3c352c" stroke-width="3.2" stroke-linecap="round" fill="none"/>
<path d="M250 854.3h0M248.5 855.1h0M253.7 858.1h0M251.2 856.8h0M253.5 854.7h0" stroke="#3c352c" stroke-width="3.6" stroke-linecap="round" fill="none"/>
<path d="M253.4 853.8h0" stroke="#3c352c" stroke-width="4" stroke-linecap="round" fill="none"/>
<path d="M257.5 855.5h0" stroke="#3c352c" stroke-width="2.8" stroke-linecap="round" fill="none"/>
<path d="M257.1 854.1h0M258 855.4h0M259.1 855.4h0M257.7 852.9h0" stroke="#3c352c" stroke-width="3.2" stroke-linecap="round" fill="none"/>
<path d="M293.1 853.5h0M288.5 851.6h0" stroke="#3c352c" stroke-width="2.8" stroke-linecap="round" fill="none"/>
<path d="M288.9 852.4h0M298.4 852.3h0M290.5 854.9h0M296.4 851.9h0M294.9 853.3h0M289 852.7h0" stroke="#3c352c" stroke-width="3.2" stroke-linecap="round" fill="none"/>
<path d="M290.4 852.7h0M289.6 854.4h0M288.4 851.8h0M289.6 853.1h0M289.7 853.4h0" stroke="#3c352c" stroke-width="3.6" stroke-linecap="round" fill="none"/>
<path d="M295.2 854.7h0M289.6 852.8h0M294 853.7h0M298.2 852.3h0M289.2 851.9h0" stroke="#3c352c" stroke-width="4" stroke-linecap="round" fill="none"/>
<path d="M247.1 869.9h0" stroke="#3c352c" stroke-width="2.4" stroke-linecap="round" fill="none"/>
<path d="M246.7 870.5h0M248.1 870h0M247.8 868.5h0" stroke="#3c352c" stroke-width="3.2" stroke-linecap="round" fill="none"/>
<path d="M263.3 878.2h0M265.1 878.6h0" stroke="#3c352c" stroke-width="2.8" stroke-linecap="round" fill="none"/>
<path d="M265.2 877.8h0M265 878.4h0" stroke="#3c352c" stroke-width="3.2" stroke-linecap="round" fill="none"/>
<path d="M266.9 879.2h0" stroke="#3c352c" stroke-width="3.6" stroke-linecap="round" fill="none"/>
<path d="M253.9 845.9h0M253.6 845.4h0" stroke="#3c352c" stroke-width="2" stroke-linecap="round" fill="none"/>
<path d="M266.4 860.6h0M266.5 860.8h0" stroke="#3c352c" stroke-width="1.6" stroke-linecap="round" fill="none"/>
<path d="M245.5 877.4h0" stroke="#3c352c" stroke-width="2" stroke-linecap="round" fill="none"/>
<rect x="55.9" y="886.4" width="59.1" height="43.3" fill="#1f1d19" stroke="none" stroke-width="1"/>
<circle cx="84.5" cy="909.3" r="4.0" fill="#5a5638" stroke="none" stroke-width="1"/>
<path d="M84.2 913.3h0M84.8 905.5h0M86.9 907.3h0M82.5 905.9h0M84.2 906.1h0M82.7 911.7h0M83.6 912.4h0M86.6 906.4h0M85.2 912.5h0M83.3 912.6h0M80.5 909.3h0M86.8 906.7h0M81.2 911.5h0M82.9 906.2h0M87.6 910.6h0M81.2 909.8h0M82.1 906.7h0M87.6 911.7h0M84.4 913h0" stroke="#c4b878" stroke-width="0.8" stroke-linecap="round" fill="none"/>
<path d="M88.1 909.5h0M87.7 909.8h0M87.8 909.9h0M87.2 911.2h0M83.4 905.8h0M81.4 909.9h0M85.4 912.8h0M81.2 909.6h0M87.6 907.3h0M83.2 912.6h0M83.1 912.2h0" stroke="#c4b878" stroke-width="1.2" stroke-linecap="round" fill="none"/>
<rect x="119" y="886.4" width="58.3" height="43.3" fill="#171815" stroke="none" stroke-width="1"/>
<circle cx="146.5" cy="905.6" r="8.0" fill="#5a5638" stroke="none" stroke-width="1"/>
<path d="M153.7 905.1h0M144.2 898h0M143.9 898.8h0M147.5 898.8h0M141.3 908.6h0M141.2 908.6h0M149.3 906.7h0M147.4 901.8h0M144.1 911.8h0M148.1 902.5h0M148.6 912.6h0M147 913.2h0M139.1 904.2h0M144.4 912h0M152.3 909h0M153 906.9h0M151.3 909.4h0M151.3 909.8h0M142 901.2h0M145.8 899.1h0M139.5 903.3h0M139.1 903.8h0M145.5 911.7h0M141.7 909.7h0M146.9 913.1h0M146.4 898.1h0M140.1 907.7h0M138.8 903.9h0M140.1 905.5h0M152.4 900.2h0M146.9 912.4h0M144.4 906.1h0M140.9 900h0M149.6 898.5h0M143.5 912.1h0M153.1 906.4h0M140.9 901.4h0M140.8 901.4h0M153.5 904.2h0M147.7 898.6h0M152.7 904.7h0M150.4 899.3h0M149.5 902.1h0M147.6 904.5h0M152.6 904.6h0M139 903.6h0M153.6 903.1h0M152.7 904.8h0M144.6 905.8h0M153 905.5h0M149.3 898.2h0M149.9 899.5h0M151.1 901.3h0M142.7 899.7h0M148.7 912.2h0M140.3 908.6h0M148.6 898.7h0M144.2 912.7h0M152.3 909h0M141.3 901.8h0M142.6 910.7h0M141 910.8h0M142.5 900.4h0M148.3 898.7h0M147.9 912.4h0" stroke="#b8ac6c" stroke-width="0.8" stroke-linecap="round" fill="none"/>
<path d="M146.1 898.9h0M150.3 900.4h0M149.3 912h0M149.9 910.6h0M139.2 906.2h0M144.3 906.2h0M149 907.4h0M143.3 899.1h0M140.1 901.2h0M150.6 900.5h0M140.6 909.4h0M153.1 907.1h0M144.9 898.6h0M153.2 906.1h0M153.1 908.8h0M146.8 913.6h0M142.8 899.6h0M151.9 911.1h0M153.4 903.4h0M139.3 906.2h0M146.4 898.6h0M143.7 899.3h0M145.9 911.4h0M153.9 902.9h0M151.8 909.5h0M151.6 903.3h0M150.7 911.4h0M154 904.2h0M139.4 906.1h0M139.3 906.5h0M142.7 900.7h0M149.5 901.5h0M152.6 903.9h0M140.5 909.5h0M153.6 902.8h0M146.4 899.1h0M153.4 907.1h0M145.9 911.9h0M148.5 899.9h0M145.8 898.2h0M139.2 904.7h0M153.9 907.9h0M140.5 900.7h0M153.2 906.2h0M149.8 912h0M141 901.4h0M152 903h0M153.8 906.9h0M143 910.9h0M142.9 898.8h0M152.9 908.8h0M145.5 897.7h0M151.6 902.3h0M140.9 908.4h0M140.5 907.6h0" stroke="#b8ac6c" stroke-width="1.2" stroke-linecap="round" fill="none"/>
<defs><linearGradient id="lg5" x1="0" y1="0" x2="1" y2="1"><stop offset="0" stop-color="#b4bec6"/><stop offset="1" stop-color="#aab6c0"/></linearGradient></defs>
<rect x="182" y="886.4" width="58.4" height="43.3" fill="url(#lg5)" stroke="none" stroke-width="1"/>
<circle cx="210.5" cy="907.5" r="6.6" fill="#c4d0dc" stroke="none" stroke-width="1"/>
<path d="M214.1 910.6h0M216.3 904.9h0M214.5 905.5h0M216.3 907.6h0M209.3 902h0M216.3 905.8h0M205.2 910h0M213.2 905.9h0M209.3 904.2h0M207.9 910.1h0M207.8 906.9h0M210.2 904.4h0M208.2 907.7h0M214.2 903.4h0M215.1 906.9h0M209.8 901.3h0M207.4 906.3h0M210.1 901.3h0M211.8 909.4h0M213.1 908h0M210.9 906.8h0M209.8 902.1h0M213.4 903.6h0M205.6 908.9h0M208.2 901.4h0M207 902.3h0M209.3 908.1h0M209.5 908.7h0M208.2 912.3h0M213.6 908.6h0M206.9 905.4h0M204.7 905.3h0M211.5 901.8h0M207.6 906.5h0M207.2 909h0M212.8 912.8h0M212.6 906.1h0M216.3 910.1h0M216 905.6h0M212.8 907.5h0M210.9 901.8h0M215.1 904.4h0M204.6 908.3h0M205.2 905.8h0M209.9 902.3h0M209.3 909.1h0M213 908h0" stroke="#56647c" stroke-width="0.8" stroke-linecap="round" fill="none"/>
<path d="M204.7 909.9h0M213.9 907.4h0M214.7 902.4h0M206.8 910.3h0M211.8 909.4h0M212.8 910.2h0M206.9 903.8h0M213.6 909.3h0M215.9 904.9h0M210.6 912.6h0M211 909.3h0M216 904.9h0M212.7 912.3h0M214.5 905.8h0M206.7 910.1h0M207 904.4h0M212.9 902.5h0M207.3 905.2h0M214.9 911.7h0M206.7 911.6h0M205.4 906.3h0M211.3 901.4h0M205.2 903.6h0" stroke="#56647c" stroke-width="1.2" stroke-linecap="round" fill="none"/>
<path d="M203.5 926.9h0M223.7 902.9h0M221.1 889.5h0" stroke="#8a96a6" stroke-width="1.2" stroke-linecap="round" fill="none"/>
<path d="M235.4 898.7h0" stroke="#8a96a6" stroke-width="1.6" stroke-linecap="round" fill="none"/>
<path d="M213.9 918.4h0M215 918.3h0M223.5 911.6h0" stroke="#8a96a6" stroke-width="2" stroke-linecap="round" fill="none"/>
<path d="M231.8 899.2h0" stroke="#8a96a6" stroke-width="2.8" stroke-linecap="round" fill="none"/>
<defs><linearGradient id="lg6" x1="0" y1="0" x2="1" y2="1"><stop offset="0" stop-color="#aeb8be"/><stop offset="1" stop-color="#b2bcc2"/></linearGradient></defs>
<rect x="244.3" y="886.4" width="58" height="43.3" fill="url(#lg6)" stroke="none" stroke-width="1"/>
<ellipse cx="270.5" cy="905" rx="5.2" ry="6.2" fill="#c0ccd8"/>
<path d="M270.5 906.8h0M268.9 901.9h0M265.9 902.3h0M271.9 903.4h0M268.4 905.6h0M271.7 905.5h0M274.1 909h0M272.2 904.4h0M270.6 907.8h0M274.3 905.3h0M270.4 907.7h0M266.9 908.2h0M274 904.5h0M267.7 908.6h0M273.7 902.4h0M272.4 910.7h0M273.2 900.8h0M267.6 909.2h0M266 905.1h0M271 902.7h0M271.5 910.7h0M269.4 908.6h0M271 899.5h0M270.4 904.1h0M268.2 909.6h0M272.2 910.4h0M272.5 910.2h0M272 901.2h0M273.9 909.1h0M271.2 908.6h0M271.5 910.2h0M270.5 910.8h0M273 899.8h0M273.1 901.1h0M269.2 900.4h0M272.4 909.1h0M269.1 909.8h0M269.4 907.3h0M272.9 900h0M267.2 900.4h0" stroke="#56647c" stroke-width="0.8" stroke-linecap="round" fill="none"/>
<path d="M273.8 906.1h0M266.3 905.9h0M268.1 909.3h0M274.9 903.4h0M270.9 905.7h0M267.5 904.9h0M265.9 902.7h0M265.9 907.7h0M272.5 899.7h0M267 909.5h0M270.1 901.4h0M269.7 901.8h0M266.7 908.7h0M275 905.7h0M270.9 900.2h0M266.7 908.4h0M268 900.4h0M269.9 901.9h0M269.3 910.8h0M268.6 899.9h0" stroke="#56647c" stroke-width="1.2" stroke-linecap="round" fill="none"/>
<ellipse cx="246" cy="908" rx="3.8" ry="12.5" fill="#c0ccd8"/>
<path d="M247.1 919.6h0M246.6 905h0M245.5 905.4h0M245.8 895.6h0M245.3 905.7h0M246.3 896.7h0M248.3 904.4h0M242.6 903.5h0M247.9 915.1h0M248.5 913.3h0M244.9 897.9h0M246.8 909.2h0M243.6 900.4h0M244.9 908h0M244.4 919.2h0M244.1 897.8h0M242.9 915h0M247.8 897.6h0M246.4 917.1h0M243 912.4h0M247.2 917h0M244.2 910.1h0M243.7 898.9h0M246.2 904h0M242.9 903.6h0M244.5 904.7h0M247.1 916.9h0M244.7 910.7h0M243.7 907.5h0M244.7 906.8h0M244.3 898.5h0M243.7 904.1h0M243.4 909.5h0M248.2 915.4h0M247.5 903.1h0M243.8 916.1h0M244.2 899.7h0M249 913.5h0M245.8 904.9h0M246.2 897.8h0M243 909.2h0M243.1 906.3h0M245.7 898.9h0M248 898h0M246.3 918.7h0M245 900.1h0M247.7 903.7h0M243 914.7h0M246.3 902.2h0M247.7 918.8h0M249 911h0M243.3 911.1h0M249.3 907.1h0M244.6 913.2h0M247.8 918.6h0M244.9 908.9h0M249 905.7h0M248 898.4h0M248.9 907.5h0M247.7 915h0M247.8 899.1h0M244.8 899.6h0" stroke="#56647c" stroke-width="0.8" stroke-linecap="round" fill="none"/>
<path d="M245.4 913.8h0M248.5 914.3h0M246.9 899.1h0M243 900.8h0M246 896.2h0M245 917.4h0M249.3 907.9h0M245.7 907.8h0M244.5 911.2h0M247.9 913.9h0M242.7 907.8h0M248.5 905h0M244.4 912.3h0M242.7 913.3h0M243.1 907.1h0M247.4 897h0M248.3 898.2h0M247.4 909h0M247.7 916.4h0M246.1 917.1h0M243.4 900.6h0M242.8 909.1h0M243.9 909.1h0M246.1 906.2h0M243.2 899.8h0M246.4 899h0M246.1 913.6h0M249 914.5h0" stroke="#56647c" stroke-width="1.2" stroke-linecap="round" fill="none"/>
<ellipse cx="266.5" cy="926" rx="7.5" ry="4" fill="#c0ccd8"/>
<path d="M260.4 924.8h0M269.3 929.3h0M259.6 925.2h0M268.3 928.9h0M268.9 925.5h0M270.9 925.2h0M264.2 922.8h0M260.7 924.4h0M266.7 922.5h0M271.6 924.6h0M270.4 924.2h0M272.6 927.9h0M267.3 929.9h0M264.7 922.1h0M268.6 924.2h0M265.8 928.1h0M272.6 927.5h0M270.7 923.9h0M268.1 924.4h0M261.1 925.9h0M266.4 923.5h0M267.7 922.7h0M265.5 923h0M265.6 929.6h0M264.7 925.9h0M265.8 924.9h0M269.9 923.4h0M268.6 926h0M272.1 927.4h0M265.5 923.6h0M267.2 923.1h0M260.8 924.9h0M263.2 928.8h0M267.9 922.6h0M261.4 926.9h0M272.4 926.2h0M272.9 924.8h0M272.6 926.4h0M262.4 922.7h0M269.2 927.9h0" stroke="#56647c" stroke-width="0.8" stroke-linecap="round" fill="none"/>
<path d="M266.8 928.3h0M259.7 926h0M270 929.5h0M272.1 927.5h0M266.2 922.6h0M272.2 927.7h0M264.2 926.4h0M266.5 922.1h0M263 926.3h0M265.6 926.6h0M272.7 923.8h0M269.7 923.4h0M269.9 929h0M261.4 926.2h0M271.5 923.2h0M267.7 922.2h0M259.1 926.5h0M270.2 927.1h0M261.2 924.9h0M264.1 926.9h0M266.8 925.2h0M261.6 923.1h0M263.6 925.2h0M263.9 924.8h0M268.4 927.6h0M259.2 926.5h0M262.5 924.1h0M263.9 922.7h0M270.9 924.6h0M260.2 927.6h0" stroke="#56647c" stroke-width="1.2" stroke-linecap="round" fill="none"/>
<defs><linearGradient id="lg7" x1="0" y1="0" x2="0.3" y2="1"><stop offset="0" stop-color="#c9c9c9"/><stop offset="0.5" stop-color="#d2d2d2"/><stop offset="1" stop-color="#c0c0c0"/></linearGradient></defs>
<rect x="55.9" y="951" width="59.1" height="43.8" fill="url(#lg7)" stroke="none" stroke-width="1"/>
<ellipse cx="93.7" cy="957.3" rx="1.2" ry="1.2" fill="#3a3a3a" opacity="1"/>
<ellipse cx="92.8" cy="964" rx="1.3" ry="1.1" fill="#3a3a3a" opacity="1"/>
<ellipse cx="97.5" cy="966.8" rx="1.4" ry="1.2" fill="#3a3a3a" opacity="1"/>
<ellipse cx="100.4" cy="971.6" rx="1.3" ry="1.3" fill="#3a3a3a" opacity="1"/>
<ellipse cx="95.3" cy="976.3" rx="2" ry="1.7" fill="#3a3a3a" opacity="1"/>
<ellipse cx="107" cy="983" rx="1.2" ry="1.2" fill="#3a3a3a" opacity="1"/>
<ellipse cx="64.3" cy="988.3" rx="2.6" ry="1.8" fill="#3a3a3a" opacity="1"/>
<ellipse cx="62" cy="987" rx="1.4" ry="1.2" fill="#3a3a3a" opacity="1"/>
<ellipse cx="113.1" cy="969.7" rx="0.8" ry="0.8" fill="#3a3a3a" opacity="1"/>
<ellipse cx="96.8" cy="980.5" rx="1" ry="1" fill="#3a3a3a" opacity="1"/>
<defs><linearGradient id="lg8" x1="0" y1="0" x2="0.2" y2="1"><stop offset="0" stop-color="#cfcfcf"/><stop offset="1" stop-color="#bdbdbd"/></linearGradient></defs>
<rect x="119" y="951" width="58.3" height="43.8" fill="url(#lg8)" stroke="none" stroke-width="1"/>
<path d="M120 978.2h0M161.1 970.1h0" stroke="#444" stroke-width="0.8" stroke-linecap="round" fill="none"/>
<path d="M171.7 985h0M150.6 976.1h0" stroke="#444" stroke-width="1.2" stroke-linecap="round" fill="none"/>
<path d="M138.5 993.1h0" stroke="#444" stroke-width="1.6" stroke-linecap="round" fill="none"/>
<defs><linearGradient id="lg9" x1="0" y1="0" x2="0.3" y2="1"><stop offset="0" stop-color="#d6dada"/><stop offset="1" stop-color="#c8d4dc"/></linearGradient></defs>
<rect x="182" y="951" width="58.4" height="43.8" fill="url(#lg9)" stroke="none" stroke-width="1"/>
<path d="M230.3 955.8h0M195 969.4h0M220 990h0M215.7 953h0M183.1 979.1h0M219.6 966.3h0M239.4 954.7h0M186 983.5h0" stroke="#3a3a3a" stroke-width="0.8" stroke-linecap="round" fill="none"/>
<path d="M221.5 955.8h0M230.5 986.9h0M218.6 967.4h0M189.1 980.5h0M229.6 975.5h0M215.3 953.4h0M210.1 960.9h0M185.7 970.8h0M211.5 962.2h0M209.7 976.1h0M183.5 963.6h0" stroke="#3a3a3a" stroke-width="1.2" stroke-linecap="round" fill="none"/>
<path d="M198.9 967.8h0M199.3 967.1h0M192 988h0M233.6 961.1h0M218.2 963.8h0M199.6 960.8h0" stroke="#3a3a3a" stroke-width="1.6" stroke-linecap="round" fill="none"/>
<path d="M222.5 973.3h0M207.2 973.8h0" stroke="#3a3a3a" stroke-width="2" stroke-linecap="round" fill="none"/>
<path d="M208 992.1h0" stroke="#3a3a3a" stroke-width="2.4" stroke-linecap="round" fill="none"/>
<defs><linearGradient id="lg10" x1="0" y1="0" x2="0.3" y2="1"><stop offset="0" stop-color="#d0d0dc"/><stop offset="1" stop-color="#ccd0dc"/></linearGradient></defs>
<rect x="244.3" y="951" width="58" height="43.8" fill="url(#lg10)" stroke="none" stroke-width="1"/>
<path d="M249 981.2h0M279.4 959.1h0M257.8 977.6h0M253.2 974h0M299 977.7h0" stroke="#3a3a3a" stroke-width="0.8" stroke-linecap="round" fill="none"/>
<path d="M281.1 969.9h0M260.2 965.8h0M271.8 992.2h0M266.3 974.4h0M271.9 962.5h0" stroke="#3a3a3a" stroke-width="1.2" stroke-linecap="round" fill="none"/>
<rect x="55.9" y="999.5" width="59.1" height="44.1" fill="#1c1d1f" stroke="none" stroke-width="1"/>
<circle cx="84.6" cy="1022.8" r="7.4" fill="#5c6058" stroke="none" stroke-width="1"/>
<circle cx="84.6" cy="1022.8" r="3.8" fill="#3a4a50" stroke="none" stroke-width="1"/>
<path d="M78.6 1020.3h0M78.2 1022.1h0M85.7 1016.9h0M78.6 1020.7h0M78.1 1019.8h0M85.6 1030h0M84 1026.6h0M86.7 1016.8h0M90.4 1026.5h0M82.9 1028h0M85.7 1028.4h0M80.5 1017.6h0M86.8 1025.3h0M91.9 1022.3h0M90 1027.2h0M82.8 1028.6h0M77.5 1024.1h0M80.5 1018.1h0M79.9 1019.6h0M79.7 1027.1h0M86.9 1017h0M88.8 1022.8h0M83.5 1015.6h0M79 1021.7h0M78.1 1023h0M91.4 1024.2h0M88.4 1017.8h0M85.7 1025h0M86.3 1026.1h0M90.2 1019.9h0M88.5 1023.1h0M79 1024.1h0M90.2 1025.2h0M84.5 1023.1h0M80.7 1025.2h0M91.3 1021.9h0M91.7 1024.8h0M84.7 1030.1h0M87.3 1023.4h0M88.1 1018.9h0M79.1 1025.2h0M82.8 1024.5h0M79.6 1018.6h0M84 1021.9h0M79.6 1022h0M82 1016.6h0M80.9 1027.6h0M80.2 1018.3h0M83.9 1019.7h0M90.2 1019.5h0M83.5 1024.7h0M77.5 1022.8h0M88.8 1016.9h0M83.7 1028.5h0M83.2 1016.3h0M83.4 1027.2h0M90.5 1027.2h0M84 1028.4h0M91.5 1020h0M91.4 1022.6h0M85.9 1025.6h0M78.7 1026.4h0M78.7 1019.9h0M83.6 1023.2h0M77.6 1020.8h0M91.7 1022.2h0" stroke="#bcb08a" stroke-width="0.8" stroke-linecap="round" fill="none"/>
<path d="M77.9 1024.3h0M86.3 1026h0M90.7 1026.2h0M78.9 1024.2h0M85 1029.7h0M88.8 1027.7h0M78.3 1023.3h0M90.4 1018.4h0M86.8 1029.3h0M82.6 1018.5h0M78.8 1022.1h0M86.3 1028.1h0M81.3 1026.8h0M78.9 1019.2h0M78.9 1018.8h0M89.3 1017.4h0M88.3 1018.2h0M83.8 1029.1h0M83 1017.2h0M77.6 1020.7h0M88 1016.2h0M82.5 1028.3h0M90.6 1019.8h0M77.8 1021.3h0M90.3 1022.2h0M91.2 1021.3h0M86.9 1016.3h0M84.8 1023.8h0M89.6 1028h0M81.1 1025.7h0M83.8 1017.6h0M86.2 1028.8h0M90.3 1018.6h0M86 1016.5h0M91 1026.3h0M80.8 1027.2h0M84.3 1016.6h0M82.3 1017.5h0M79.4 1018.6h0M82.1 1017.9h0M85.9 1029.6h0M91.1 1021.1h0M81.1 1016.4h0M86.1 1029.8h0M90.2 1027h0M89.1 1019.7h0M82.1 1023.1h0M90.4 1023.8h0M80 1024.1h0M82.2 1017.5h0M86.4 1028.5h0M84.1 1028.4h0M86.1 1029.4h0M88.3 1026.7h0" stroke="#bcb08a" stroke-width="1.2" stroke-linecap="round" fill="none"/>
<rect x="119" y="999.5" width="58.3" height="44.1" fill="#1b1c1e" stroke="none" stroke-width="1"/>
<circle cx="149.2" cy="1021.9" r="3.4" fill="#3e4848" stroke="#e8e4d0" stroke-width="1.3"/>
<defs><linearGradient id="lg11" x1="0" y1="0" x2="1" y2="1"><stop offset="0" stop-color="#a8a898"/><stop offset="1" stop-color="#9a9a88"/></linearGradient></defs>
<rect x="182" y="999.5" width="58.4" height="44.1" fill="url(#lg11)" stroke="none" stroke-width="1"/>
<ellipse cx="206.5" cy="1009" rx="3.2" ry="6" fill="#c4c8c4"/>
<path d="M204.9 1012.1h0M208.9 1007.4h0M209.2 1006.9h0M207.8 1008.6h0M208.5 1011.7h0M205.7 1014.1h0M206.4 1005.6h0M206.4 1005.4h0M207.1 1003.2h0M208.7 1010.1h0M206.8 1009.2h0M205.3 1009.9h0M209 1011.3h0M209.1 1008.9h0M206.1 1012.9h0M206.7 1010.5h0M205.5 1011.6h0M205.9 1004.4h0M207.8 1008.8h0M208 1006.9h0M204.6 1004.9h0M203.8 1012.1h0M209.4 1009.5h0M204 1010.9h0M209.5 1009.2h0M206.2 1011.3h0M208.8 1012.2h0M205.3 1005h0M207.2 1007.5h0M209.1 1008.4h0" stroke="#4a5a60" stroke-width="0.8" stroke-linecap="round" fill="none"/>
<path d="M205.8 1003.9h0M209.4 1006.4h0M206.7 1009h0M209 1006.1h0M205.6 1011.6h0M203.6 1006.6h0M209.2 1009.3h0M207.8 1004h0M207.7 1014.3h0M205.7 1007.9h0M206 1014.9h0M205.6 1006.9h0M207.8 1006.9h0M209.2 1008.2h0M203.8 1006.2h0M208.6 1011.3h0M207.6 1013.8h0M204.7 1010.8h0M205.2 1014.2h0M205.3 1007.9h0" stroke="#4a5a60" stroke-width="1.2" stroke-linecap="round" fill="none"/>
<ellipse cx="213" cy="1029.5" rx="5.5" ry="4.8" fill="#c4c8c4"/>
<path d="M209.5 1028.3h0M211.7 1033.9h0M214.8 1030.3h0M213.2 1034.1h0M215.2 1027.4h0M214.6 1030.1h0M214.6 1032.9h0M216.4 1029.1h0M214.2 1028.1h0M216.4 1026.4h0M208.3 1031.8h0M208.2 1031.6h0M212.2 1032.3h0M209.2 1029.2h0M215 1032.5h0M211.8 1027.3h0M215.4 1033.4h0M216.3 1030.8h0M207.6 1028.9h0M212.1 1027.3h0M212.5 1027.5h0M208.8 1031.3h0M215 1027.8h0M209.4 1033.1h0M208.3 1030.4h0M216.4 1031.2h0M211.6 1031h0M211.4 1033.2h0M211.8 1029.6h0M209.7 1026.2h0M209.6 1032.8h0M213.3 1033.4h0M218.1 1029.5h0M212.3 1026.5h0M210.1 1029.4h0M218.3 1030.6h0M208.7 1032.4h0M208.6 1026.6h0M208.9 1031.3h0M212.3 1030.5h0M209.6 1027.5h0M218.2 1031h0M216.3 1027.5h0" stroke="#4a5a60" stroke-width="0.8" stroke-linecap="round" fill="none"/>
<path d="M210.9 1030.1h0M217.8 1028.5h0M210.6 1031.3h0M212.4 1024.8h0M214.1 1027.2h0M213.7 1025h0M212.2 1034.1h0M212.9 1032.6h0M217.2 1029.4h0M210.8 1031.8h0M213.6 1034h0M211.7 1030.6h0M209.2 1026.1h0M217.5 1032.3h0M211.8 1032.6h0M210.7 1033.3h0M208.6 1029.9h0M211.5 1030.6h0M214.3 1030.4h0M217.1 1027.3h0M213.3 1030.6h0M208 1028.3h0M214.2 1025.1h0M211.4 1029.1h0M218 1030h0M213.4 1025.2h0M209.2 1032.8h0" stroke="#4a5a60" stroke-width="1.2" stroke-linecap="round" fill="none"/>
<defs><linearGradient id="lg12" x1="0" y1="0" x2="1" y2="1"><stop offset="0" stop-color="#d8d4c6"/><stop offset="1" stop-color="#cfcbbd"/></linearGradient></defs>
<rect x="244.3" y="999.5" width="58" height="44.1" fill="url(#lg12)" stroke="none" stroke-width="1"/>
<ellipse cx="272.5" cy="1021.5" rx="4" ry="5" fill="#9a9480" opacity="0.9"/>
<path d="M271 1021.6h0M274 1016.9h0M270.2 1019.9h0M273.7 1019.2h0M272 1022.8h0M269.7 1021.8h0M272.4 1021.7h0M269.8 1020.1h0M270.5 1023.7h0M270.5 1017.4h0M273 1024.2h0M270.5 1025.7h0M270.9 1017.9h0M275.1 1020.5h0M270.8 1023.8h0M275.8 1023.6h0M270.6 1023.8h0M270.2 1018.5h0M275.3 1023.5h0M273.7 1025.4h0M271.8 1026.1h0M272.1 1019h0M275.4 1019.2h0M271.4 1017.6h0M271.7 1025.4h0M269.7 1024.4h0M270.5 1019.9h0M274.3 1018h0M269 1023.5h0" stroke="#6a6450" stroke-width="0.8" stroke-linecap="round" fill="none"/>
<path d="M274.3 1024.9h0M274.6 1020.9h0M273.8 1022.3h0M269.7 1018.2h0M273.9 1019.4h0M274.9 1021.3h0M274.2 1024h0M274 1025.9h0M272.8 1024.2h0M272.8 1022.8h0M271.3 1023.8h0" stroke="#6a6450" stroke-width="1.2" stroke-linecap="round" fill="none"/>
<rect x="109.5" y="878.7" width="3.5" height="1" fill="#e03a30" stroke="none" stroke-width="1"/>
<rect x="109.5" y="926.5" width="3.5" height="1" fill="#e03a30" stroke="none" stroke-width="1"/>
<rect x="109.5" y="991.6" width="3.5" height="1" fill="#e03a30" stroke="none" stroke-width="1"/>
<rect x="109.5" y="1040.4" width="3.5" height="1" fill="#e03a30" stroke="none" stroke-width="1"/>
<rect x="171.8" y="878.7" width="3.5" height="1" fill="#e03a30" stroke="none" stroke-width="1"/>
<rect x="171.8" y="926.5" width="3.5" height="1" fill="#e03a30" stroke="none" stroke-width="1"/>
<rect x="171.8" y="991.6" width="3.5" height="1" fill="#e03a30" stroke="none" stroke-width="1"/>
<rect x="171.8" y="1040.4" width="3.5" height="1" fill="#e03a30" stroke="none" stroke-width="1"/>
<rect x="234.9" y="878.7" width="3.5" height="1" fill="#e03a30" stroke="none" stroke-width="1"/>
<rect x="234.9" y="926.5" width="3.5" height="1" fill="#e03a30" stroke="none" stroke-width="1"/>
<rect x="234.9" y="991.6" width="3.5" height="1" fill="#e03a30" stroke="none" stroke-width="1"/>
<rect x="234.9" y="1040.4" width="3.5" height="1" fill="#e03a30" stroke="none" stroke-width="1"/>
<rect x="296.8" y="878.7" width="3.5" height="1" fill="#e03a30" stroke="none" stroke-width="1"/>
<rect x="296.8" y="926.5" width="3.5" height="1" fill="#e03a30" stroke="none" stroke-width="1"/>
<rect x="296.8" y="991.6" width="3.5" height="1" fill="#e03a30" stroke="none" stroke-width="1"/>
<rect x="296.8" y="1040.4" width="3.5" height="1" fill="#e03a30" stroke="none" stroke-width="1"/>
<rect x="78.6" y="869.2" width="12.8" height="9" fill="none" stroke="#f03a3a" stroke-width="0.9" stroke-dasharray="2 1.2"/>
<line x1="78.6" y1="878.2" x2="56.4" y2="886" stroke="#f03a3a" stroke-width="0.9" stroke-dasharray="2.2 1.2"/>
<line x1="91.4" y1="878.2" x2="114.5" y2="886" stroke="#f03a3a" stroke-width="0.9" stroke-dasharray="2.2 1.2"/>
<rect x="134" y="854" width="12.8" height="9.4" fill="none" stroke="#f03a3a" stroke-width="0.9" stroke-dasharray="2 1.2"/>
<line x1="134" y1="863.4" x2="119.5" y2="886" stroke="#f03a3a" stroke-width="0.9" stroke-dasharray="2.2 1.2"/>
<line x1="146.8" y1="863.4" x2="176.8" y2="886" stroke="#f03a3a" stroke-width="0.9" stroke-dasharray="2.2 1.2"/>
<rect x="197.8" y="858.8" width="13" height="9.4" fill="none" stroke="#f03a3a" stroke-width="0.9" stroke-dasharray="2 1.2"/>
<line x1="197.8" y1="868.2" x2="182.5" y2="886" stroke="#f03a3a" stroke-width="0.9" stroke-dasharray="2.2 1.2"/>
<line x1="210.8" y1="868.2" x2="239.9" y2="886" stroke="#f03a3a" stroke-width="0.9" stroke-dasharray="2.2 1.2"/>
<rect x="261.7" y="849.7" width="13" height="9.9" fill="none" stroke="#f03a3a" stroke-width="0.9" stroke-dasharray="2 1.2"/>
<line x1="261.7" y1="859.6" x2="244.8" y2="886" stroke="#f03a3a" stroke-width="0.9" stroke-dasharray="2.2 1.2"/>
<line x1="274.7" y1="859.6" x2="301.8" y2="886" stroke="#f03a3a" stroke-width="0.9" stroke-dasharray="2.2 1.2"/>
<rect x="87.4" y="977" width="13.1" height="9.9" fill="none" stroke="#f03a3a" stroke-width="0.9" stroke-dasharray="2 1.2"/>
<line x1="87.4" y1="986.9" x2="56.4" y2="999" stroke="#f03a3a" stroke-width="0.9" stroke-dasharray="2.2 1.2"/>
<line x1="100.5" y1="986.9" x2="114.5" y2="999" stroke="#f03a3a" stroke-width="0.9" stroke-dasharray="2.2 1.2"/>
<rect x="146.6" y="973.1" width="13.8" height="9" fill="none" stroke="#f03a3a" stroke-width="0.9" stroke-dasharray="2 1.2"/>
<line x1="146.6" y1="982.1" x2="119.5" y2="999" stroke="#f03a3a" stroke-width="0.9" stroke-dasharray="2.2 1.2"/>
<line x1="160.4" y1="982.1" x2="176.8" y2="999" stroke="#f03a3a" stroke-width="0.9" stroke-dasharray="2.2 1.2"/>
<rect x="191.1" y="959.3" width="13.4" height="9.4" fill="none" stroke="#f03a3a" stroke-width="0.9" stroke-dasharray="2 1.2"/>
<line x1="191.1" y1="968.7" x2="182.5" y2="999" stroke="#f03a3a" stroke-width="0.9" stroke-dasharray="2.2 1.2"/>
<line x1="204.5" y1="968.7" x2="239.9" y2="999" stroke="#f03a3a" stroke-width="0.9" stroke-dasharray="2.2 1.2"/>
<rect x="266" y="966" width="12.6" height="9" fill="none" stroke="#f03a3a" stroke-width="0.9" stroke-dasharray="2 1.2"/>
<line x1="266" y1="975" x2="244.8" y2="999" stroke="#f03a3a" stroke-width="0.9" stroke-dasharray="2.2 1.2"/>
<line x1="278.6" y1="975" x2="301.8" y2="999" stroke="#f03a3a" stroke-width="0.9" stroke-dasharray="2.2 1.2"/>
<text x="85.6" y="829.9" font-size="12.2" text-anchor="middle" font-weight="bold" fill="#000" dominant-baseline="central">sh NC</text>
<text x="148.2" y="829.9" font-size="12.2" text-anchor="middle" font-weight="bold" fill="#000" dominant-baseline="central">sh CypD</text>
<text x="211.2" y="829.9" font-size="12.2" text-anchor="middle" font-weight="bold" fill="#000" dominant-baseline="central">sh NC</text>
<text x="273.3" y="829.9" font-size="12.2" text-anchor="middle" font-weight="bold" fill="#000" dominant-baseline="central">sh CypD</text>
<text x="85.5" y="942.3" font-size="12.2" text-anchor="middle" font-weight="bold" fill="#000" dominant-baseline="central">Ad vector</text>
<text x="148.2" y="942.3" font-size="12.2" text-anchor="middle" font-weight="bold" fill="#000" dominant-baseline="central">Ad CypD</text>
<text x="211.2" y="942.3" font-size="12.2" text-anchor="middle" font-weight="bold" fill="#000" dominant-baseline="central">Ad vector</text>
<text x="273.3" y="942.3" font-size="12.2" text-anchor="middle" font-weight="bold" fill="#000" dominant-baseline="central">Ad CypD</text>
<text x="49.6" y="861" font-size="12.2" text-anchor="end" font-weight="bold" fill="#000" dominant-baseline="central">4×</text>
<text x="49.6" y="908.2" font-size="12.2" text-anchor="end" font-weight="bold" fill="#000" dominant-baseline="central">20×</text>
<text x="49.6" y="973" font-size="12.2" text-anchor="end" font-weight="bold" fill="#000" dominant-baseline="central">4×</text>
<text x="49.6" y="1021.5" font-size="12.2" text-anchor="end" font-weight="bold" fill="#000" dominant-baseline="central">20×</text>
<line x1="58.7" y1="1053.9" x2="170.2" y2="1053.9" stroke="#111" stroke-width="1.4"/>
<line x1="186" y1="1053.9" x2="300.3" y2="1053.9" stroke="#111" stroke-width="1.4"/>
<text x="115" y="1065.7" font-size="14.4" text-anchor="middle" font-weight="bold" fill="#000" dominant-baseline="central">DLD1</text>
<text x="243.1" y="1065.7" font-size="14.4" text-anchor="middle" font-weight="bold" fill="#000" dominant-baseline="central">RKO</text>
<line x1="437" y1="838.5" x2="437" y2="986" stroke="#111" stroke-width="1.4"/>
<line x1="433.2" y1="838.5" x2="437" y2="838.5" stroke="#111" stroke-width="1.4"/>
<text x="431.6" y="838.5" font-size="9.4" text-anchor="end" font-weight="bold" fill="#000" dominant-baseline="central">0.05</text>
<line x1="433.2" y1="868" x2="437" y2="868" stroke="#111" stroke-width="1.4"/>
<text x="431.6" y="868" font-size="9.4" text-anchor="end" font-weight="bold" fill="#000" dominant-baseline="central">0.04</text>
<line x1="433.2" y1="897.5" x2="437" y2="897.5" stroke="#111" stroke-width="1.4"/>
<text x="431.6" y="897.5" font-size="9.4" text-anchor="end" font-weight="bold" fill="#000" dominant-baseline="central">0.03</text>
<line x1="433.2" y1="927" x2="437" y2="927" stroke="#111" stroke-width="1.4"/>
<text x="431.6" y="927" font-size="9.4" text-anchor="end" font-weight="bold" fill="#000" dominant-baseline="central">0.02</text>
<line x1="433.2" y1="956.5" x2="437" y2="956.5" stroke="#111" stroke-width="1.4"/>
<text x="431.6" y="956.5" font-size="9.4" text-anchor="end" font-weight="bold" fill="#000" dominant-baseline="central">0.01</text>
<line x1="433.2" y1="986" x2="437" y2="986" stroke="#111" stroke-width="1.4"/>
<text x="431.6" y="986" font-size="9.4" text-anchor="end" font-weight="bold" fill="#000" dominant-baseline="central">0.00</text>
<line x1="437" y1="986" x2="624.1" y2="986" stroke="#111" stroke-width="1.4"/>
<line x1="444.3" y1="979.1" x2="461" y2="979.1" stroke="#111" stroke-width="1.6"/>
<line x1="445.1" y1="979.1" x2="445.1" y2="986" stroke="#111" stroke-width="1.6"/>
<line x1="460.2" y1="979.1" x2="460.2" y2="986" stroke="#111" stroke-width="1.6"/>
<line x1="452.6" y1="986" x2="452.6" y2="989.5" stroke="#111" stroke-width="1.3"/>
<line x1="462.1" y1="956.2" x2="479.5" y2="956.2" stroke="#23a06b" stroke-width="1.6"/>
<line x1="462.9" y1="956.2" x2="462.9" y2="986" stroke="#23a06b" stroke-width="1.6"/>
<line x1="478.7" y1="956.2" x2="478.7" y2="986" stroke="#23a06b" stroke-width="1.6"/>
<line x1="470.8" y1="986" x2="470.8" y2="989.5" stroke="#111" stroke-width="1.3"/>
<line x1="486.3" y1="945.5" x2="503.7" y2="945.5" stroke="#f7802d" stroke-width="1.6"/>
<line x1="487.1" y1="945.5" x2="487.1" y2="986" stroke="#f7802d" stroke-width="1.6"/>
<line x1="502.9" y1="945.5" x2="502.9" y2="986" stroke="#f7802d" stroke-width="1.6"/>
<line x1="495" y1="986" x2="495" y2="989.5" stroke="#111" stroke-width="1.3"/>
<line x1="504.8" y1="977.4" x2="522.1" y2="977.4" stroke="#f9262b" stroke-width="1.6"/>
<line x1="505.6" y1="977.4" x2="505.6" y2="986" stroke="#f9262b" stroke-width="1.6"/>
<line x1="521.3" y1="977.4" x2="521.3" y2="986" stroke="#f9262b" stroke-width="1.6"/>
<line x1="513.5" y1="986" x2="513.5" y2="989.5" stroke="#111" stroke-width="1.3"/>
<line x1="538.3" y1="953.2" x2="555" y2="953.2" stroke="#111" stroke-width="1.6"/>
<line x1="539.1" y1="953.2" x2="539.1" y2="986" stroke="#111" stroke-width="1.6"/>
<line x1="554.2" y1="953.2" x2="554.2" y2="986" stroke="#111" stroke-width="1.6"/>
<line x1="546.7" y1="986" x2="546.7" y2="989.5" stroke="#111" stroke-width="1.3"/>
<line x1="556.8" y1="910.9" x2="573.5" y2="910.9" stroke="#23a06b" stroke-width="1.6"/>
<line x1="557.6" y1="910.9" x2="557.6" y2="986" stroke="#23a06b" stroke-width="1.6"/>
<line x1="572.7" y1="910.9" x2="572.7" y2="986" stroke="#23a06b" stroke-width="1.6"/>
<line x1="565.2" y1="986" x2="565.2" y2="989.5" stroke="#111" stroke-width="1.3"/>
<line x1="581" y1="922" x2="597.7" y2="922" stroke="#f7802d" stroke-width="1.6"/>
<line x1="581.8" y1="922" x2="581.8" y2="986" stroke="#f7802d" stroke-width="1.6"/>
<line x1="596.9" y1="922" x2="596.9" y2="986" stroke="#f7802d" stroke-width="1.6"/>
<line x1="589.3" y1="986" x2="589.3" y2="989.5" stroke="#111" stroke-width="1.3"/>
<line x1="598.8" y1="975.7" x2="616.2" y2="975.7" stroke="#f9262b" stroke-width="1.6"/>
<line x1="599.6" y1="975.7" x2="599.6" y2="986" stroke="#f9262b" stroke-width="1.6"/>
<line x1="615.4" y1="975.7" x2="615.4" y2="986" stroke="#f9262b" stroke-width="1.6"/>
<line x1="607.5" y1="986" x2="607.5" y2="989.5" stroke="#111" stroke-width="1.3"/>
<line x1="452.6" y1="977.5" x2="452.6" y2="980.5" stroke="#111" stroke-width="1.3"/>
<line x1="449.6" y1="977.5" x2="455.6" y2="977.5" stroke="#111" stroke-width="1.3"/>
<line x1="449.6" y1="980.5" x2="455.6" y2="980.5" stroke="#111" stroke-width="1.3"/>
<circle cx="449.5" cy="977.5" r="2.0" fill="none" stroke="#111" stroke-width="1.3"/>
<circle cx="452.6" cy="977" r="2.0" fill="none" stroke="#111" stroke-width="1.3"/>
<circle cx="456" cy="976.8" r="2.0" fill="none" stroke="#111" stroke-width="1.3"/>
<line x1="470.8" y1="947.5" x2="470.8" y2="962" stroke="#23a06b" stroke-width="1.3"/>
<line x1="467.3" y1="947.5" x2="474.3" y2="947.5" stroke="#23a06b" stroke-width="1.3"/>
<line x1="467.3" y1="962" x2="474.3" y2="962" stroke="#23a06b" stroke-width="1.3"/>
<circle cx="470.8" cy="945.5" r="2.0" fill="none" stroke="#23a06b" stroke-width="1.3"/>
<circle cx="470.8" cy="955" r="2.0" fill="none" stroke="#23a06b" stroke-width="1.3"/>
<circle cx="470.8" cy="962" r="2.0" fill="none" stroke="#23a06b" stroke-width="1.3"/>
<line x1="495" y1="935" x2="495" y2="951.5" stroke="#f7802d" stroke-width="1.3"/>
<line x1="491.5" y1="935" x2="498.5" y2="935" stroke="#f7802d" stroke-width="1.3"/>
<line x1="491.5" y1="951.5" x2="498.5" y2="951.5" stroke="#f7802d" stroke-width="1.3"/>
<circle cx="495" cy="935.5" r="2.0" fill="none" stroke="#f7802d" stroke-width="1.3"/>
<circle cx="491.5" cy="947" r="2.0" fill="none" stroke="#f7802d" stroke-width="1.3"/>
<circle cx="498.5" cy="947" r="2.0" fill="none" stroke="#f7802d" stroke-width="1.3"/>
<line x1="513.5" y1="971.5" x2="513.5" y2="982" stroke="#f9262b" stroke-width="1.3"/>
<line x1="510" y1="971.5" x2="517" y2="971.5" stroke="#f9262b" stroke-width="1.3"/>
<line x1="510" y1="982" x2="517" y2="982" stroke="#f9262b" stroke-width="1.3"/>
<circle cx="513.5" cy="970.5" r="2.0" fill="none" stroke="#f9262b" stroke-width="1.3"/>
<circle cx="510" cy="978" r="2.0" fill="none" stroke="#f9262b" stroke-width="1.3"/>
<circle cx="517" cy="978" r="2.0" fill="none" stroke="#f9262b" stroke-width="1.3"/>
<line x1="546.6" y1="940.4" x2="546.6" y2="969" stroke="#111" stroke-width="1.3"/>
<line x1="542.6" y1="940.4" x2="550.6" y2="940.4" stroke="#111" stroke-width="1.3"/>
<line x1="542.6" y1="969" x2="550.6" y2="969" stroke="#111" stroke-width="1.3"/>
<circle cx="542.5" cy="941.5" r="2.0" fill="none" stroke="#111" stroke-width="1.3"/>
<circle cx="550.5" cy="941.5" r="2.0" fill="none" stroke="#111" stroke-width="1.3"/>
<circle cx="546.6" cy="959" r="2.0" fill="none" stroke="#111" stroke-width="1.3"/>
<circle cx="546.6" cy="968" r="2.0" fill="none" stroke="#111" stroke-width="1.3"/>
<line x1="565.2" y1="879.5" x2="565.2" y2="940" stroke="#23a06b" stroke-width="1.3"/>
<line x1="561.2" y1="879.5" x2="569.2" y2="879.5" stroke="#23a06b" stroke-width="1.3"/>
<line x1="561.2" y1="940" x2="569.2" y2="940" stroke="#23a06b" stroke-width="1.3"/>
<circle cx="559.1" cy="885.2" r="2.0" fill="none" stroke="#23a06b" stroke-width="1.3"/>
<circle cx="570.7" cy="882.7" r="2.0" fill="none" stroke="#23a06b" stroke-width="1.3"/>
<circle cx="565.2" cy="932.9" r="2.0" fill="none" stroke="#23a06b" stroke-width="1.3"/>
<circle cx="565.2" cy="938" r="2.0" fill="none" stroke="#23a06b" stroke-width="1.3"/>
<line x1="589.4" y1="893.1" x2="589.4" y2="949.7" stroke="#f7802d" stroke-width="1.3"/>
<line x1="585.4" y1="893.1" x2="593.4" y2="893.1" stroke="#f7802d" stroke-width="1.3"/>
<line x1="585.4" y1="949.7" x2="593.4" y2="949.7" stroke="#f7802d" stroke-width="1.3"/>
<circle cx="589.4" cy="879.5" r="2.0" fill="none" stroke="#f7802d" stroke-width="1.3"/>
<circle cx="589.4" cy="926.7" r="2.0" fill="none" stroke="#f7802d" stroke-width="1.3"/>
<circle cx="589.4" cy="936.1" r="2.0" fill="none" stroke="#f7802d" stroke-width="1.3"/>
<circle cx="589.4" cy="941.5" r="2.0" fill="none" stroke="#f7802d" stroke-width="1.3"/>
<line x1="607.5" y1="966" x2="607.5" y2="985" stroke="#f9262b" stroke-width="1.3"/>
<line x1="604" y1="966" x2="611" y2="966" stroke="#f9262b" stroke-width="1.3"/>
<line x1="604" y1="985" x2="611" y2="985" stroke="#f9262b" stroke-width="1.3"/>
<circle cx="607.5" cy="965.6" r="2.0" fill="none" stroke="#f9262b" stroke-width="1.3"/>
<circle cx="607.5" cy="973" r="2.0" fill="none" stroke="#f9262b" stroke-width="1.3"/>
<circle cx="603.5" cy="981.5" r="2.0" fill="none" stroke="#f9262b" stroke-width="1.3"/>
<circle cx="611.5" cy="981.5" r="2.0" fill="none" stroke="#f9262b" stroke-width="1.3"/>
<polyline points="452.5,976 452.5,906.8 470.9,906.8 470.9,940.3" stroke="#4a4a4a" stroke-width="1.05" fill="none"/>
<path d="M458.6 896.9L458.6 902.9M456 898.4L461.2 901.4M461.2 898.4L456 901.4M464.8 896.9L464.8 902.9M462.2 898.4L467.4 901.4M467.4 898.4L462.2 901.4" stroke="#000" stroke-width="1.3" fill="none"/>
<polyline points="495.2,924.2 495.2,906.8 513.3,906.8 513.3,966" stroke="#4a4a4a" stroke-width="1.05" fill="none"/>
<path d="M501.1 896.9L501.1 902.9M498.6 898.4L503.7 901.4M503.7 898.4L498.6 901.4M507.3 896.9L507.3 902.9M504.8 898.4L509.9 901.4M509.9 898.4L504.8 901.4" stroke="#000" stroke-width="1.3" fill="none"/>
<polyline points="545.4,932.4 545.4,864.6 564.5,864.6 564.5,871.6" stroke="#4a4a4a" stroke-width="1.05" fill="none"/>
<path d="M555 854.7L555 860.7M552.4 856.2L557.5 859.2M557.5 856.2L552.4 859.2" stroke="#000" stroke-width="1.3" fill="none"/>
<polyline points="588.9,874 588.9,864.6 607.5,864.6 607.5,947.3" stroke="#4a4a4a" stroke-width="1.05" fill="none"/>
<path d="M598.2 854.7L598.2 860.7M595.6 856.2L600.8 859.2M600.8 856.2L595.6 859.2" stroke="#000" stroke-width="1.3" fill="none"/>
<text x="366" y="910.5" font-size="12.2" text-anchor="middle" font-weight="bold" fill="#000" dominant-baseline="central" transform="rotate(-90 366 910.5)">Sphere Formation</text>
<text x="382" y="914" font-size="12.2" text-anchor="middle" font-weight="bold" fill="#000" dominant-baseline="central" transform="rotate(-90 382 914)">Efficiency&#160;&#160;(per dish)</text>
<text x="452.6" y="991.5" font-size="9.9" text-anchor="end" font-weight="bold" fill="#000" dominant-baseline="central" transform="rotate(-90 452.6 991.5)">sh NC</text>
<text x="470.8" y="991.5" font-size="9.9" text-anchor="end" font-weight="bold" fill="#000" dominant-baseline="central" transform="rotate(-90 470.8 991.5)">sh CypD</text>
<text x="495" y="991.5" font-size="9.9" text-anchor="end" font-weight="bold" fill="#000" dominant-baseline="central" transform="rotate(-90 495 991.5)">Ad vector</text>
<text x="513.5" y="991.5" font-size="9.9" text-anchor="end" font-weight="bold" fill="#000" dominant-baseline="central" transform="rotate(-90 513.5 991.5)">Ad CypD</text>
<text x="546.6" y="991.5" font-size="9.9" text-anchor="end" font-weight="bold" fill="#000" dominant-baseline="central" transform="rotate(-90 546.6 991.5)">sh NC</text>
<text x="565.2" y="991.5" font-size="9.9" text-anchor="end" font-weight="bold" fill="#000" dominant-baseline="central" transform="rotate(-90 565.2 991.5)">sh CypD</text>
<text x="589.4" y="991.5" font-size="9.9" text-anchor="end" font-weight="bold" fill="#000" dominant-baseline="central" transform="rotate(-90 589.4 991.5)">Ad vector</text>
<text x="607.5" y="991.5" font-size="9.9" text-anchor="end" font-weight="bold" fill="#000" dominant-baseline="central" transform="rotate(-90 607.5 991.5)">Ad CypD</text>
<line x1="449.5" y1="1050.8" x2="515.2" y2="1050.8" stroke="#111" stroke-width="1.1"/>
<line x1="542.4" y1="1050.8" x2="609.4" y2="1050.8" stroke="#111" stroke-width="1.1"/>
<text x="482.4" y="1064" font-size="10" text-anchor="middle" font-weight="bold" fill="#000" dominant-baseline="central">DLD1</text>
<text x="576.5" y="1064" font-size="10" text-anchor="middle" font-weight="bold" fill="#000" dominant-baseline="central">RKO</text>
</svg></body></html>
